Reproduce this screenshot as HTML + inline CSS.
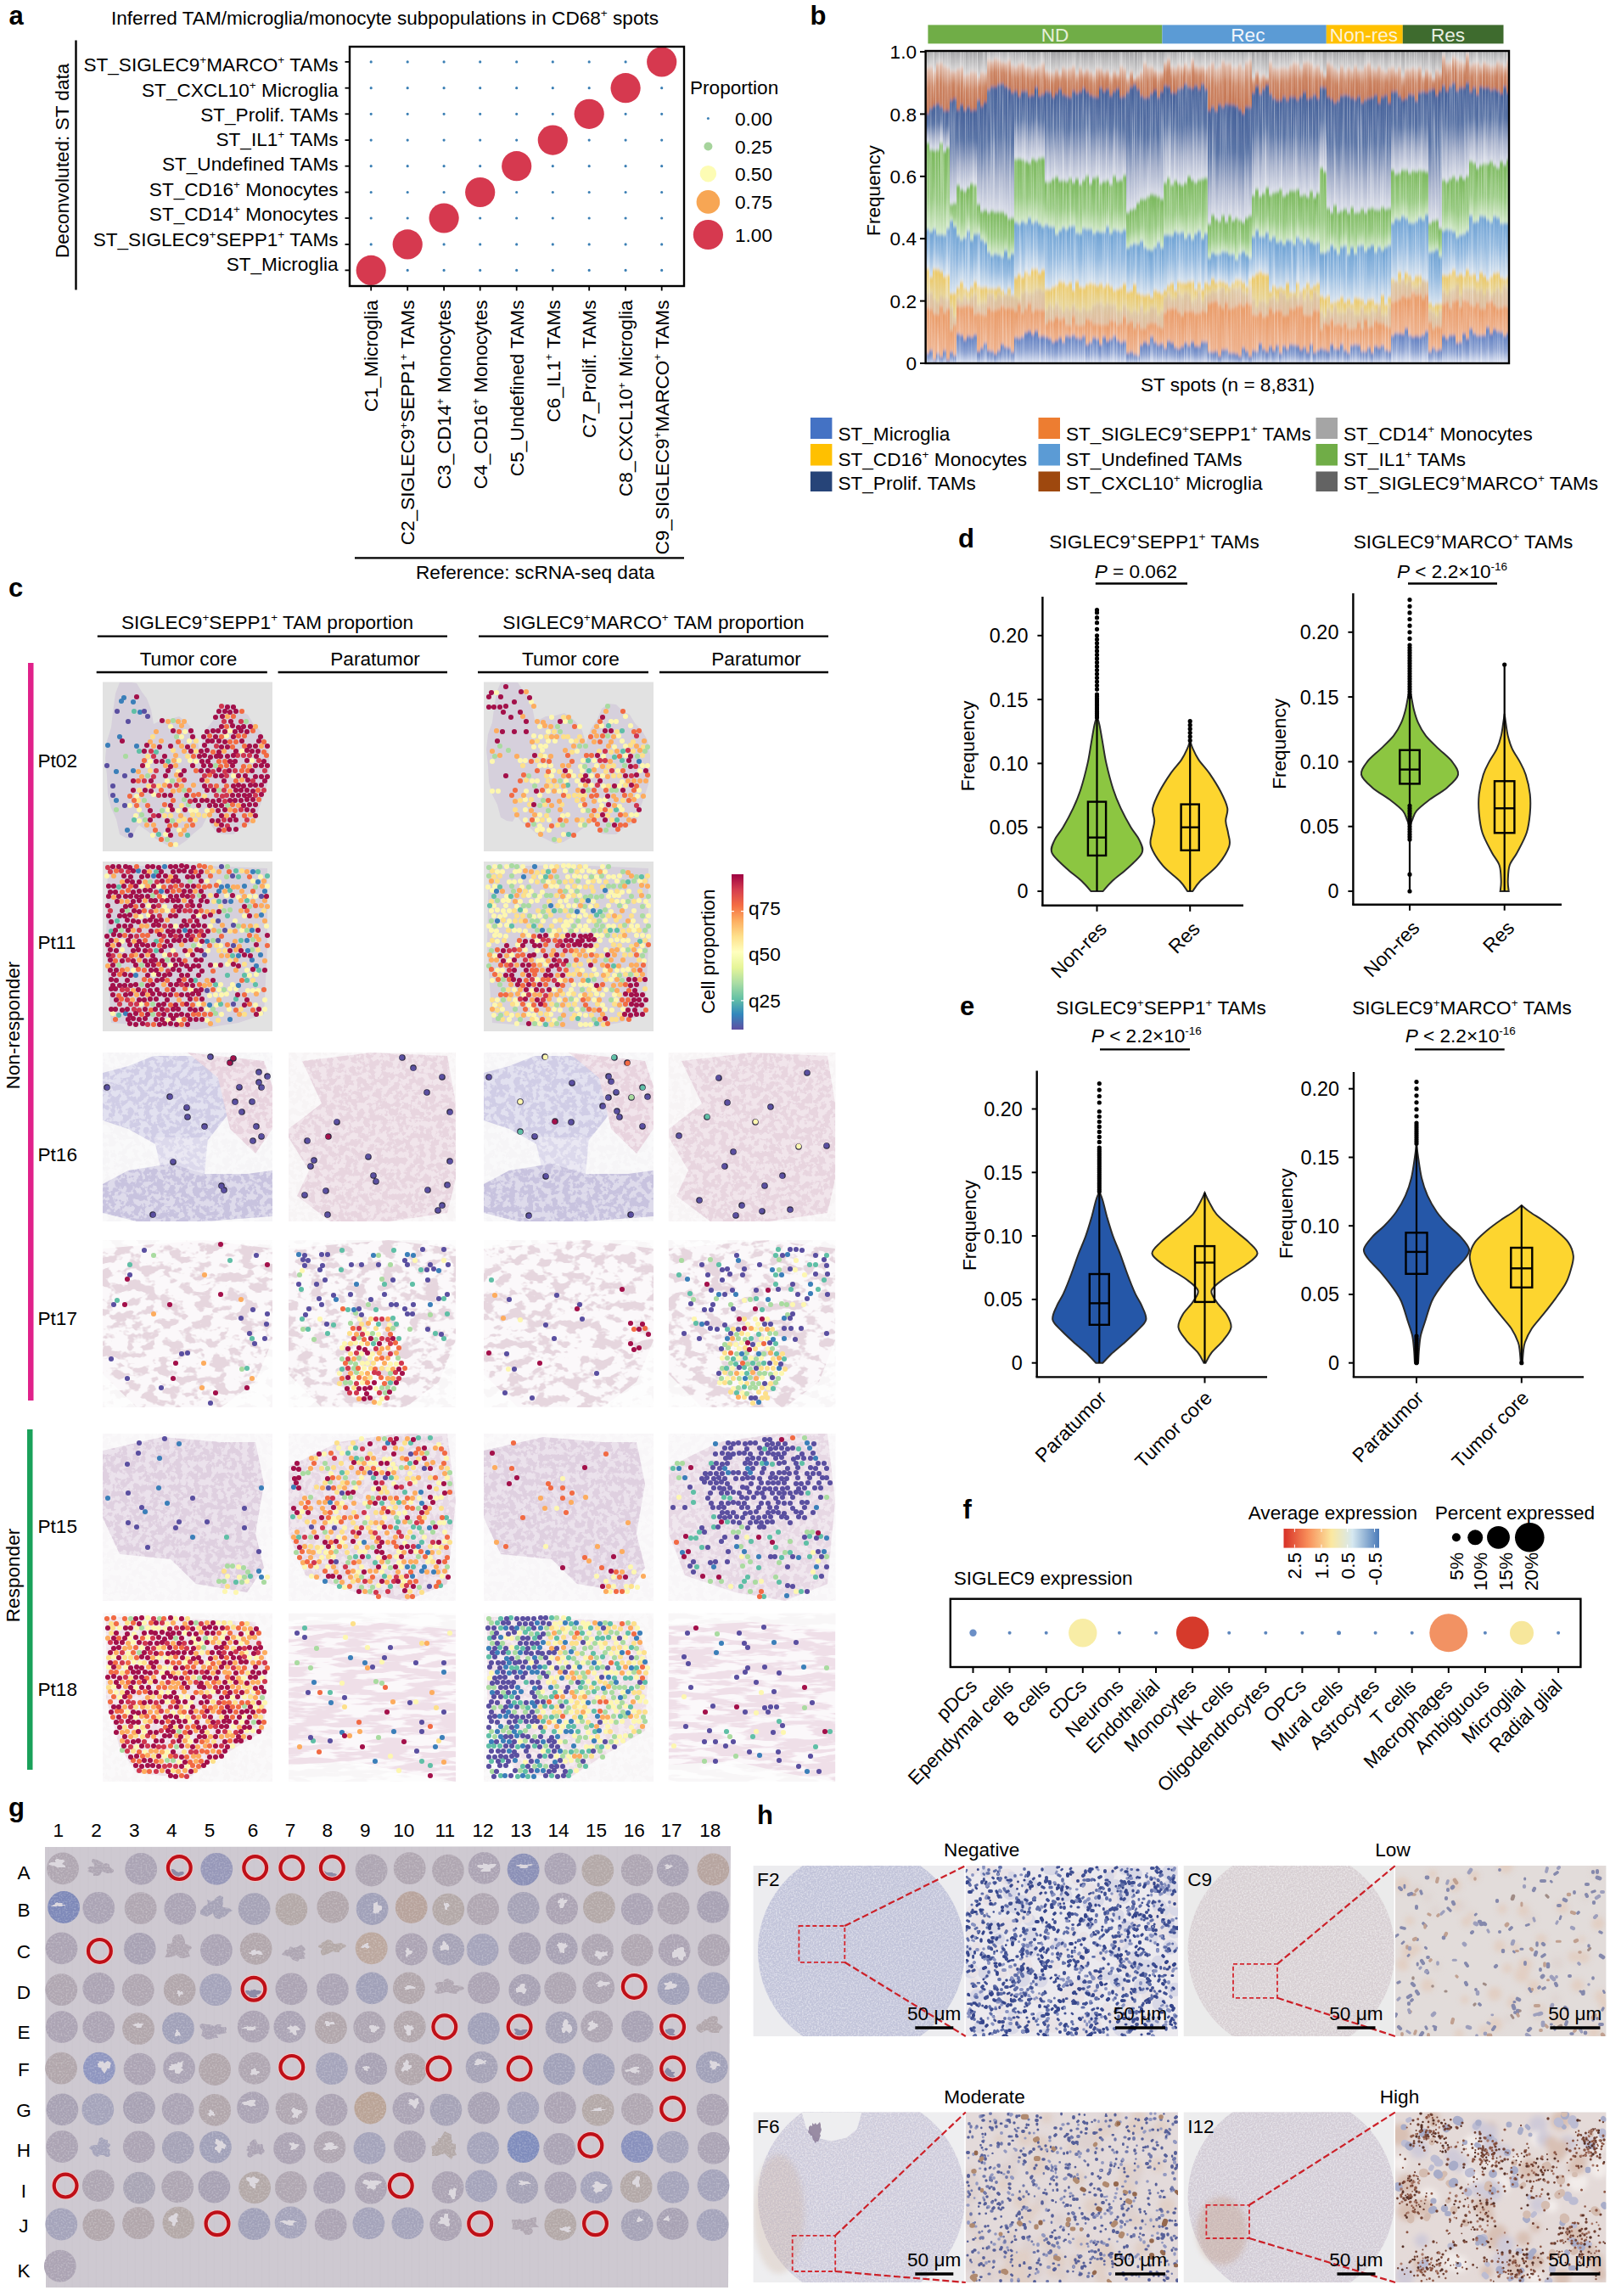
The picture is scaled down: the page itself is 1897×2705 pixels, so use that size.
<!DOCTYPE html><html><head><meta charset="utf-8"><title>Figure</title><style>html,body{margin:0;padding:0;background:#fff;}svg{display:block;}.q0{fill:url(#bg0);width:4px}.q1{fill:url(#bg1);width:4px}.q2{fill:url(#bg2);width:4px}.q3{fill:url(#bg3);width:4px}.q4{fill:url(#bg4);width:4px}.q5{fill:url(#bg5);width:4px}.q6{fill:url(#bg6);width:4px}.q7{fill:url(#bg7);width:4px}.q8{fill:url(#bg8);width:4px}</style></head><body><svg width="1897" height="2705" viewBox="0 0 1897 2705" font-family="Liberation Sans, Arial, sans-serif" font-size="22.6"><defs><linearGradient id="bg0" x1="0" y1="0" x2="0" y2="1"><stop offset="0" stop-color="#5c7cc0"/><stop offset="0.55" stop-color="#8ea3d2"/><stop offset="1" stop-color="#e8ecf6"/></linearGradient><linearGradient id="bg1" x1="0" y1="0" x2="0" y2="1"><stop offset="0" stop-color="#e99a66"/><stop offset="1" stop-color="#eeb28e"/></linearGradient><linearGradient id="bg2" x1="0" y1="0" x2="0" y2="1"><stop offset="0" stop-color="#dcc6a0"/><stop offset="1" stop-color="#e0bc9e"/></linearGradient><linearGradient id="bg3" x1="0" y1="0" x2="0" y2="1"><stop offset="0" stop-color="#ecc862"/><stop offset="1" stop-color="#e6d49a"/></linearGradient><linearGradient id="bg4" x1="0" y1="0" x2="0" y2="1"><stop offset="0" stop-color="#6ea2d4"/><stop offset="0.5" stop-color="#94bae0"/><stop offset="1" stop-color="#d6e2ee"/></linearGradient><linearGradient id="bg5" x1="0" y1="0" x2="0" y2="1"><stop offset="0" stop-color="#7ab85c"/><stop offset="0.6" stop-color="#98ca82"/><stop offset="1" stop-color="#d2e8c8"/></linearGradient><linearGradient id="bg6" x1="0" y1="0" x2="0" y2="1"><stop offset="0" stop-color="#46619a"/><stop offset="0.4" stop-color="#5a74a6"/><stop offset="0.72" stop-color="#a8b2cc"/><stop offset="1" stop-color="#dadde8"/></linearGradient><linearGradient id="bg7" x1="0" y1="0" x2="0" y2="1"><stop offset="0" stop-color="#e2c4b6"/><stop offset="0.45" stop-color="#cc8462"/><stop offset="1" stop-color="#c47452"/></linearGradient><linearGradient id="bg8" x1="0" y1="0" x2="0" y2="1"><stop offset="0" stop-color="#88888a"/><stop offset="0.5" stop-color="#b2b2b4"/><stop offset="1" stop-color="#d8d6d6"/></linearGradient><clipPath id="bclip"><rect x="1091" y="61" width="687" height="367"/></clipPath><filter id="vblur" x="0" y="-0.1" width="1" height="1.2"><feGaussianBlur stdDeviation="0.5 2.2"/></filter><filter id="streak" x="0" y="0" width="1" height="1"><feTurbulence type="fractalNoise" baseFrequency="0.8 0.008" numOctaves="2" seed="3"/><feColorMatrix values="0 0 0 0 1  0 0 0 0 1  0 0 0 0 1  1.8 0 0 0 -0.8"/></filter><linearGradient id="cbar" x1="0" y1="1" x2="0" y2="0"><stop offset="0.00" stop-color="#5e4fa2"/><stop offset="0.10" stop-color="#3288bd"/><stop offset="0.20" stop-color="#66c2a5"/><stop offset="0.30" stop-color="#abdda4"/><stop offset="0.40" stop-color="#e6f598"/><stop offset="0.50" stop-color="#ffffbf"/><stop offset="0.60" stop-color="#fee08b"/><stop offset="0.70" stop-color="#fdae61"/><stop offset="0.80" stop-color="#f46d43"/><stop offset="0.90" stop-color="#d53e4f"/><stop offset="1.00" stop-color="#9e0142"/></linearGradient><filter id="th1" x="0" y="0" width="1" height="1"><feTurbulence type="fractalNoise" baseFrequency="0.14" numOctaves="3" seed="11"/><feColorMatrix values="0 0 0 0 1  0 0 0 0 1  0 0 0 0 1  0 0 0 -9 4.9"/></filter><filter id="th2" x="0" y="0" width="1" height="1"><feTurbulence type="fractalNoise" baseFrequency="0.05 0.12" numOctaves="3" seed="4"/><feColorMatrix values="0 0 0 0 1  0 0 0 0 1  0 0 0 0 1  0 0 0 -8 4.2"/></filter><filter id="th3" x="0" y="0" width="1" height="1"><feTurbulence type="fractalNoise" baseFrequency="0.35" numOctaves="2" seed="8"/><feColorMatrix values="0 0 0 0 0.6  0 0 0 0 0.55  0 0 0 0 0.65  0 0 0 -5 2.6"/></filter><filter id="th5" x="0" y="0" width="1" height="1"><feTurbulence type="fractalNoise" baseFrequency="0.06 0.09" numOctaves="3" seed="14"/><feColorMatrix values="0 0 0 0 1  0 0 0 0 1  0 0 0 0 1  0 0 0 -9 5.4"/></filter><filter id="th4" x="0" y="0" width="1" height="1"><feTurbulence type="fractalNoise" baseFrequency="0.025 0.14" numOctaves="3" seed="6"/><feColorMatrix values="0 0 0 0 1  0 0 0 0 1  0 0 0 0 1  0 0 0 -8 4.3"/></filter><linearGradient id="avg" x1="0" x2="1" y1="0" y2="0"><stop offset="0" stop-color="#d73027"/><stop offset="0.25" stop-color="#f88d59"/><stop offset="0.5" stop-color="#fbe8a0"/><stop offset="0.72" stop-color="#d6e8f0"/><stop offset="1" stop-color="#4a7ab8"/></linearGradient><clipPath id="gcores"><circle cx="74.0" cy="2201.4" r="18.9"/><path d="M131 2201L134 2203L134 2205L131 2207L126 2207L121 2205L120 2205L118 2209L115 2210L110 2210L110 2207L107 2206L103 2205L105 2202L103 2201L106 2199L111 2199L111 2197L108 2193L109 2190L114 2191L118 2193L120 2194L122 2196L125 2195L128 2196L129 2197L129 2199Z"/><circle cx="166.2" cy="2201.9" r="18.9"/><circle cx="255.3" cy="2201.8" r="18.9"/><circle cx="437.6" cy="2203.5" r="18.9"/><circle cx="482.7" cy="2201.2" r="18.9"/><circle cx="528.0" cy="2203.6" r="18.9"/><circle cx="570.5" cy="2200.9" r="18.9"/><circle cx="616.6" cy="2202.7" r="18.9"/><circle cx="660.4" cy="2201.6" r="18.9"/><circle cx="704.3" cy="2203.6" r="18.9"/><circle cx="750.7" cy="2203.4" r="18.9"/><circle cx="792.7" cy="2203.6" r="18.9"/><circle cx="840.3" cy="2202.5" r="18.9"/><circle cx="75.1" cy="2247.0" r="18.9"/><circle cx="116.3" cy="2247.8" r="18.9"/><circle cx="165.7" cy="2248.2" r="18.9"/><circle cx="212.3" cy="2248.8" r="18.9"/><path d="M270 2248L274 2251L270 2253L267 2256L265 2258L261 2259L259 2261L254 2260L252 2257L251 2254L244 2258L240 2257L236 2255L236 2251L239 2248L240 2246L244 2244L245 2242L244 2238L249 2240L252 2239L254 2236L259 2233L263 2235L263 2240L263 2243L262 2245L263 2247Z"/><circle cx="299.6" cy="2249.0" r="18.9"/><circle cx="343.4" cy="2249.5" r="18.9"/><circle cx="392.3" cy="2246.8" r="18.9"/><circle cx="438.6" cy="2249.0" r="18.9"/><circle cx="484.7" cy="2247.1" r="18.9"/><circle cx="528.3" cy="2249.6" r="18.9"/><circle cx="569.1" cy="2249.2" r="18.9"/><circle cx="616.7" cy="2247.9" r="18.9"/><circle cx="662.1" cy="2248.6" r="18.9"/><circle cx="705.9" cy="2247.1" r="18.9"/><circle cx="750.8" cy="2249.2" r="18.9"/><circle cx="793.5" cy="2248.5" r="18.9"/><circle cx="840.1" cy="2246.7" r="18.9"/><circle cx="72.5" cy="2295.4" r="18.9"/><circle cx="164.7" cy="2295.9" r="18.9"/><path d="M226 2295L223 2298L222 2300L224 2305L220 2306L217 2307L213 2307L210 2305L208 2303L204 2305L199 2306L194 2306L197 2301L196 2298L197 2295L197 2293L197 2290L201 2290L203 2288L203 2284L206 2280L210 2279L214 2279L217 2284L218 2287L218 2290L221 2291L225 2293Z"/><circle cx="254.9" cy="2297.4" r="18.9"/><circle cx="301.6" cy="2295.8" r="18.9"/><path d="M359 2301L360 2302L358 2304L360 2307L357 2308L353 2308L351 2311L348 2310L345 2309L343 2307L342 2305L339 2305L337 2304L332 2303L333 2301L335 2299L337 2297L340 2297L341 2295L342 2293L346 2295L348 2294L350 2294L355 2291L357 2293L359 2295L360 2297L357 2299Z"/><path d="M407 2294L404 2295L402 2297L400 2298L400 2300L396 2300L392 2299L390 2300L386 2302L380 2304L378 2301L378 2298L380 2296L378 2295L375 2294L375 2292L378 2291L379 2289L381 2288L383 2287L386 2285L390 2286L392 2288L393 2290L396 2290L402 2289L404 2290L408 2292Z"/><circle cx="437.7" cy="2295.3" r="18.9"/><circle cx="484.8" cy="2296.5" r="18.9"/><circle cx="528.3" cy="2296.6" r="18.9"/><circle cx="568.6" cy="2297.0" r="18.9"/><circle cx="618.1" cy="2295.5" r="18.9"/><circle cx="661.8" cy="2295.8" r="18.9"/><circle cx="704.1" cy="2297.1" r="18.9"/><circle cx="750.7" cy="2297.5" r="18.9"/><circle cx="794.6" cy="2297.5" r="18.9"/><circle cx="840.9" cy="2297.5" r="18.9"/><circle cx="72.3" cy="2344.2" r="18.9"/><circle cx="116.3" cy="2342.6" r="18.9"/><circle cx="162.8" cy="2344.5" r="18.9"/><circle cx="211.7" cy="2344.1" r="18.9"/><circle cx="254.1" cy="2344.2" r="18.9"/><circle cx="343.4" cy="2343.3" r="18.9"/><circle cx="391.9" cy="2343.9" r="18.9"/><circle cx="438.2" cy="2342.4" r="18.9"/><circle cx="481.9" cy="2342.4" r="18.9"/><path d="M547 2342L546 2344L542 2345L539 2347L538 2349L535 2349L530 2348L528 2347L525 2347L522 2348L517 2349L512 2348L512 2346L515 2343L515 2342L514 2340L512 2338L514 2336L517 2335L522 2335L524 2332L528 2331L531 2333L534 2334L535 2337L534 2339L538 2339L544 2340Z"/><circle cx="570.0" cy="2342.1" r="18.9"/><circle cx="618.3" cy="2344.6" r="18.9"/><circle cx="660.2" cy="2342.2" r="18.9"/><circle cx="705.3" cy="2342.0" r="18.9"/><circle cx="793.5" cy="2343.2" r="18.9"/><circle cx="840.6" cy="2342.4" r="18.9"/><circle cx="72.8" cy="2388.1" r="18.9"/><circle cx="116.2" cy="2388.4" r="18.9"/><circle cx="163.1" cy="2390.2" r="18.9"/><circle cx="210.0" cy="2389.6" r="18.9"/><path d="M266 2393L267 2395L262 2396L259 2397L255 2396L257 2401L253 2401L250 2402L245 2403L242 2402L240 2400L237 2398L238 2396L238 2394L239 2393L238 2391L236 2389L235 2386L238 2384L243 2385L247 2385L250 2386L252 2387L256 2385L261 2385L260 2388L266 2388L267 2390Z"/><circle cx="298.7" cy="2387.7" r="18.9"/><circle cx="341.3" cy="2387.8" r="18.9"/><circle cx="389.9" cy="2389.2" r="18.9"/><circle cx="435.3" cy="2388.3" r="18.9"/><circle cx="482.8" cy="2387.6" r="18.9"/><circle cx="569.9" cy="2389.8" r="18.9"/><circle cx="661.5" cy="2388.7" r="18.9"/><circle cx="703.2" cy="2387.6" r="18.9"/><circle cx="751.1" cy="2387.6" r="18.9"/><path d="M851 2387L852 2389L850 2390L848 2392L847 2395L843 2395L840 2395L836 2394L834 2392L832 2392L826 2395L822 2393L821 2391L820 2389L821 2387L822 2385L826 2384L827 2382L829 2381L830 2379L833 2379L836 2376L841 2375L845 2376L846 2379L845 2383L846 2384L848 2385Z"/><circle cx="72.1" cy="2436.7" r="18.9"/><circle cx="116.9" cy="2436.7" r="18.9"/><circle cx="164.5" cy="2437.7" r="18.9"/><circle cx="211.0" cy="2436.3" r="18.9"/><circle cx="253.1" cy="2438.0" r="18.9"/><circle cx="299.9" cy="2436.9" r="18.9"/><circle cx="390.9" cy="2437.2" r="18.9"/><circle cx="437.2" cy="2437.2" r="18.9"/><circle cx="484.0" cy="2437.8" r="18.9"/><circle cx="567.6" cy="2435.6" r="18.9"/><circle cx="658.9" cy="2437.6" r="18.9"/><circle cx="705.4" cy="2438.1" r="18.9"/><circle cx="751.2" cy="2438.4" r="18.9"/><circle cx="838.8" cy="2435.6" r="18.9"/><circle cx="73.4" cy="2485.4" r="18.9"/><circle cx="115.3" cy="2485.1" r="18.9"/><circle cx="163.9" cy="2483.2" r="18.9"/><circle cx="209.6" cy="2484.7" r="18.9"/><circle cx="253.2" cy="2485.9" r="18.9"/><circle cx="298.0" cy="2483.1" r="18.9"/><circle cx="343.6" cy="2484.3" r="18.9"/><circle cx="390.6" cy="2485.7" r="18.9"/><circle cx="436.3" cy="2483.5" r="18.9"/><circle cx="481.4" cy="2484.0" r="18.9"/><circle cx="525.4" cy="2485.7" r="18.9"/><circle cx="570.0" cy="2483.5" r="18.9"/><circle cx="616.4" cy="2483.5" r="18.9"/><circle cx="659.9" cy="2483.2" r="18.9"/><circle cx="704.6" cy="2485.9" r="18.9"/><circle cx="751.0" cy="2484.9" r="18.9"/><circle cx="839.6" cy="2485.6" r="18.9"/><circle cx="73.2" cy="2529.0" r="18.9"/><path d="M127 2531L130 2533L129 2535L130 2539L128 2541L125 2541L122 2539L120 2539L118 2539L115 2541L112 2540L110 2538L109 2536L108 2533L105 2531L107 2528L112 2527L115 2527L115 2525L116 2524L117 2519L120 2518L122 2520L125 2521L127 2521L127 2525L130 2526L130 2528Z"/><circle cx="163.8" cy="2529.3" r="18.9"/><circle cx="209.8" cy="2530.0" r="18.9"/><circle cx="253.9" cy="2529.7" r="18.9"/><path d="M310 2531L312 2534L311 2536L309 2537L308 2539L304 2537L302 2538L301 2538L298 2540L295 2542L292 2541L291 2538L293 2535L290 2533L292 2531L291 2529L293 2528L295 2528L294 2525L296 2523L298 2521L301 2520L303 2525L304 2526L306 2526L309 2526L310 2528L310 2530Z"/><circle cx="341.1" cy="2530.9" r="18.9"/><circle cx="388.5" cy="2529.7" r="18.9"/><circle cx="435.4" cy="2530.8" r="18.9"/><circle cx="482.8" cy="2529.0" r="18.9"/><path d="M537 2529L537 2532L536 2534L538 2539L534 2540L532 2544L527 2540L524 2537L522 2538L520 2538L515 2540L509 2540L509 2536L509 2532L508 2529L513 2527L513 2524L516 2523L516 2519L519 2519L521 2516L524 2511L528 2513L532 2515L532 2520L533 2523L532 2525L537 2526Z"/><circle cx="569.1" cy="2530.5" r="18.9"/><circle cx="616.6" cy="2529.2" r="18.9"/><circle cx="659.2" cy="2531.8" r="18.9"/><circle cx="750.7" cy="2529.2" r="18.9"/><circle cx="792.6" cy="2529.7" r="18.9"/><circle cx="840.8" cy="2530.9" r="18.9"/><circle cx="115.8" cy="2575.1" r="18.9"/><circle cx="164.0" cy="2577.6" r="18.9"/><circle cx="209.2" cy="2576.3" r="18.9"/><circle cx="252.4" cy="2576.5" r="18.9"/><circle cx="300.1" cy="2577.4" r="18.9"/><circle cx="342.8" cy="2576.9" r="18.9"/><circle cx="388.2" cy="2577.4" r="18.9"/><circle cx="437.0" cy="2577.7" r="18.9"/><circle cx="527.6" cy="2577.0" r="18.9"/><circle cx="567.1" cy="2575.5" r="18.9"/><circle cx="615.2" cy="2577.4" r="18.9"/><circle cx="660.4" cy="2577.3" r="18.9"/><circle cx="702.7" cy="2577.1" r="18.9"/><circle cx="749.7" cy="2576.2" r="18.9"/><circle cx="793.1" cy="2576.8" r="18.9"/><circle cx="840.5" cy="2574.7" r="18.9"/><circle cx="72.3" cy="2620.5" r="18.9"/><circle cx="116.3" cy="2621.3" r="18.9"/><circle cx="163.1" cy="2619.2" r="18.9"/><circle cx="210.4" cy="2618.7" r="18.9"/><circle cx="299.5" cy="2620.2" r="18.9"/><circle cx="342.6" cy="2618.5" r="18.9"/><circle cx="389.7" cy="2620.9" r="18.9"/><circle cx="434.4" cy="2619.4" r="18.9"/><circle cx="480.4" cy="2619.4" r="18.9"/><circle cx="525.2" cy="2621.3" r="18.9"/><path d="M633 2622L635 2624L628 2624L626 2625L628 2628L627 2631L624 2633L619 2633L616 2629L613 2628L613 2626L608 2627L603 2626L604 2624L604 2622L604 2620L603 2618L603 2615L610 2615L612 2614L616 2616L619 2615L622 2615L626 2613L632 2612L632 2616L632 2618L631 2620Z"/><circle cx="660.3" cy="2620.9" r="18.9"/><circle cx="750.7" cy="2621.4" r="18.9"/><circle cx="792.5" cy="2619.8" r="18.9"/><circle cx="839.6" cy="2621.3" r="18.9"/><circle cx="70.8" cy="2669.7" r="18.9"/></clipPath><filter id="speck" x="0" y="0" width="1" height="1"><feTurbulence type="fractalNoise" baseFrequency="0.5" numOctaves="2" seed="5"/><feColorMatrix values="0 0 0 0 1  0 0 0 0 1  0 0 0 0 1  -2.2 0 0 0 1.25"/></filter><filter id="hspeck" x="0" y="0" width="1" height="1"><feTurbulence type="fractalNoise" baseFrequency="0.55" numOctaves="2" seed="9"/><feColorMatrix values="0 0 0 0 0.97  0 0 0 0 0.97  0 0 0 0 0.98  2.2 0 0 0 -0.85"/><feComposite operator="in" in2="SourceGraphic"/></filter><filter id="dsb" x="0" y="0" width="1" height="1"><feTurbulence type="fractalNoise" baseFrequency="0.5" numOctaves="2" seed="21"/><feColorMatrix values="0 0 0 0 0.52  0 0 0 0 0.54  0 0 0 0 0.7  2.2 0 0 0 -0.8"/><feComposite operator="in" in2="SourceGraphic"/></filter><filter id="dsr" x="0" y="0" width="1" height="1"><feTurbulence type="fractalNoise" baseFrequency="0.5" numOctaves="2" seed="22"/><feColorMatrix values="0 0 0 0 0.62  0 0 0 0 0.55  0 0 0 0 0.6  2.2 0 0 0 -0.8"/><feComposite operator="in" in2="SourceGraphic"/></filter><filter id="hblur"><feGaussianBlur stdDeviation="3"/></filter><clipPath id="hc1"><rect x="887.6" y="2198.0" width="248.7" height="201.0"/></clipPath><clipPath id="hc1z"><rect x="1137.8" y="2198.0" width="250.2" height="201.0"/></clipPath><clipPath id="hc2"><rect x="1394.7" y="2198.0" width="247.8" height="201.0"/></clipPath><clipPath id="hc2z"><rect x="1644.0" y="2198.0" width="248.4" height="201.0"/></clipPath><clipPath id="hc3"><rect x="887.6" y="2488.5" width="248.7" height="200.5"/></clipPath><clipPath id="hc3z"><rect x="1137.8" y="2488.5" width="250.2" height="200.5"/></clipPath><clipPath id="hc4"><rect x="1394.7" y="2488.5" width="247.8" height="200.5"/></clipPath><clipPath id="hc4z"><rect x="1644.0" y="2488.5" width="248.4" height="200.5"/></clipPath></defs><text x="10.5" y="28.5" font-size="31" font-weight="bold">a</text>
<text x="131.0" y="29.0">Inferred TAM/microglia/monocyte subpopulations in CD68<tspan font-size="13.6" dy="-8.6">+</tspan><tspan dy="8.6">​</tspan> spots</text>
<text x="398.5" y="83.5" text-anchor="end">ST_SIGLEC9<tspan font-size="13.6" dy="-8.6">+</tspan><tspan dy="8.6">​</tspan>MARCO<tspan font-size="13.6" dy="-8.6">+</tspan><tspan dy="8.6">​</tspan> TAMs</text>
<text x="398.5" y="114.0" text-anchor="end">ST_CXCL10<tspan font-size="13.6" dy="-8.6">+</tspan><tspan dy="8.6">​</tspan> Microglia</text>
<text x="398.5" y="143.0" text-anchor="end">ST_Prolif. TAMs</text>
<text x="398.5" y="172.0" text-anchor="end">ST_IL1<tspan font-size="13.6" dy="-8.6">+</tspan><tspan dy="8.6">​</tspan> TAMs</text>
<text x="398.5" y="201.3" text-anchor="end">ST_Undefined TAMs</text>
<text x="398.5" y="231.0" text-anchor="end">ST_CD16<tspan font-size="13.6" dy="-8.6">+</tspan><tspan dy="8.6">​</tspan> Monocytes</text>
<text x="398.5" y="260.0" text-anchor="end">ST_CD14<tspan font-size="13.6" dy="-8.6">+</tspan><tspan dy="8.6">​</tspan> Monocytes</text>
<text x="398.5" y="289.8" text-anchor="end">ST_SIGLEC9<tspan font-size="13.6" dy="-8.6">+</tspan><tspan dy="8.6">​</tspan>SEPP1<tspan font-size="13.6" dy="-8.6">+</tspan><tspan dy="8.6">​</tspan> TAMs</text>
<text x="398.5" y="319.0" text-anchor="end">ST_Microglia</text>
<line x1="89.5" y1="47.5" x2="89.5" y2="341.5" stroke="#000" stroke-width="2.4"/>
<text x="81.3" y="189.4" text-anchor="middle" transform="rotate(-90 81.3 189.4)">Deconvoluted: ST data</text>
<path d="M437.2 72.9h0M480.2 72.9h0M523.1 72.9h0M565.7 72.9h0M608.7 72.9h0M651.3 72.9h0M694.2 72.9h0M737.1 72.9h0M437.2 103.7h0M480.2 103.7h0M523.1 103.7h0M565.7 103.7h0M608.7 103.7h0M651.3 103.7h0M694.2 103.7h0M779.7 103.7h0M437.2 134.3h0M480.2 134.3h0M523.1 134.3h0M565.7 134.3h0M608.7 134.3h0M651.3 134.3h0M737.1 134.3h0M779.7 134.3h0M437.2 165.1h0M480.2 165.1h0M523.1 165.1h0M565.7 165.1h0M608.7 165.1h0M694.2 165.1h0M737.1 165.1h0M779.7 165.1h0M437.2 195.7h0M480.2 195.7h0M523.1 195.7h0M565.7 195.7h0M651.3 195.7h0M694.2 195.7h0M737.1 195.7h0M779.7 195.7h0M437.2 226.5h0M480.2 226.5h0M523.1 226.5h0M608.7 226.5h0M651.3 226.5h0M694.2 226.5h0M737.1 226.5h0M779.7 226.5h0M437.2 257.0h0M480.2 257.0h0M565.7 257.0h0M608.7 257.0h0M651.3 257.0h0M694.2 257.0h0M737.1 257.0h0M779.7 257.0h0M437.2 287.9h0M523.1 287.9h0M565.7 287.9h0M608.7 287.9h0M651.3 287.9h0M694.2 287.9h0M737.1 287.9h0M779.7 287.9h0M480.2 318.4h0M523.1 318.4h0M565.7 318.4h0M608.7 318.4h0M651.3 318.4h0M694.2 318.4h0M737.1 318.4h0M779.7 318.4h0" stroke="#3b7fb4" stroke-width="3.2" stroke-linecap="round"/>
<circle cx="779.7" cy="72.9" r="17.6" fill="#d6394f"/>
<circle cx="737.1" cy="103.7" r="17.6" fill="#d6394f"/>
<circle cx="694.2" cy="134.3" r="17.6" fill="#d6394f"/>
<circle cx="651.3" cy="165.1" r="17.6" fill="#d6394f"/>
<circle cx="608.7" cy="195.7" r="17.6" fill="#d6394f"/>
<circle cx="565.7" cy="226.5" r="17.6" fill="#d6394f"/>
<circle cx="523.1" cy="257.0" r="17.6" fill="#d6394f"/>
<circle cx="480.2" cy="287.9" r="17.6" fill="#d6394f"/>
<circle cx="437.2" cy="318.4" r="17.6" fill="#d6394f"/>
<rect x="412" y="55" width="394" height="282" fill="none" stroke="#000" stroke-width="2.4"/>
<line x1="406.5" y1="72.9" x2="412.0" y2="72.9" stroke="#000" stroke-width="1.8"/>
<line x1="406.5" y1="103.7" x2="412.0" y2="103.7" stroke="#000" stroke-width="1.8"/>
<line x1="406.5" y1="134.3" x2="412.0" y2="134.3" stroke="#000" stroke-width="1.8"/>
<line x1="406.5" y1="165.1" x2="412.0" y2="165.1" stroke="#000" stroke-width="1.8"/>
<line x1="406.5" y1="195.7" x2="412.0" y2="195.7" stroke="#000" stroke-width="1.8"/>
<line x1="406.5" y1="226.5" x2="412.0" y2="226.5" stroke="#000" stroke-width="1.8"/>
<line x1="406.5" y1="257.0" x2="412.0" y2="257.0" stroke="#000" stroke-width="1.8"/>
<line x1="406.5" y1="287.9" x2="412.0" y2="287.9" stroke="#000" stroke-width="1.8"/>
<line x1="406.5" y1="318.4" x2="412.0" y2="318.4" stroke="#000" stroke-width="1.8"/>
<line x1="437.2" y1="337.0" x2="437.2" y2="342.5" stroke="#000" stroke-width="1.8"/>
<line x1="480.2" y1="337.0" x2="480.2" y2="342.5" stroke="#000" stroke-width="1.8"/>
<line x1="523.1" y1="337.0" x2="523.1" y2="342.5" stroke="#000" stroke-width="1.8"/>
<line x1="565.7" y1="337.0" x2="565.7" y2="342.5" stroke="#000" stroke-width="1.8"/>
<line x1="608.7" y1="337.0" x2="608.7" y2="342.5" stroke="#000" stroke-width="1.8"/>
<line x1="651.3" y1="337.0" x2="651.3" y2="342.5" stroke="#000" stroke-width="1.8"/>
<line x1="694.2" y1="337.0" x2="694.2" y2="342.5" stroke="#000" stroke-width="1.8"/>
<line x1="737.1" y1="337.0" x2="737.1" y2="342.5" stroke="#000" stroke-width="1.8"/>
<line x1="779.7" y1="337.0" x2="779.7" y2="342.5" stroke="#000" stroke-width="1.8"/>
<text x="445.4" y="353.5" text-anchor="end" transform="rotate(-90 445.4 353.5)">C1_Microglia</text>
<text x="488.4" y="353.5" text-anchor="end" transform="rotate(-90 488.4 353.5)">C2_SIGLEC9<tspan font-size="13.6" dy="-8.6">+</tspan><tspan dy="8.6">​</tspan>SEPP1<tspan font-size="13.6" dy="-8.6">+</tspan><tspan dy="8.6">​</tspan> TAMs</text>
<text x="531.3" y="353.5" text-anchor="end" transform="rotate(-90 531.3 353.5)">C3_CD14<tspan font-size="13.6" dy="-8.6">+</tspan><tspan dy="8.6">​</tspan> Monocytes</text>
<text x="573.9" y="353.5" text-anchor="end" transform="rotate(-90 573.9 353.5)">C4_CD16<tspan font-size="13.6" dy="-8.6">+</tspan><tspan dy="8.6">​</tspan> Monocytes</text>
<text x="616.9" y="353.5" text-anchor="end" transform="rotate(-90 616.9 353.5)">C5_Undefined TAMs</text>
<text x="659.5" y="353.5" text-anchor="end" transform="rotate(-90 659.5 353.5)">C6_IL1<tspan font-size="13.6" dy="-8.6">+</tspan><tspan dy="8.6">​</tspan> TAMs</text>
<text x="702.4" y="353.5" text-anchor="end" transform="rotate(-90 702.4 353.5)">C7_Prolif. TAMs</text>
<text x="745.3" y="353.5" text-anchor="end" transform="rotate(-90 745.3 353.5)">C8_CXCL10<tspan font-size="13.6" dy="-8.6">+</tspan><tspan dy="8.6">​</tspan> Microglia</text>
<text x="787.9" y="353.5" text-anchor="end" transform="rotate(-90 787.9 353.5)">C9_SIGLEC9<tspan font-size="13.6" dy="-8.6">+</tspan><tspan dy="8.6">​</tspan>MARCO<tspan font-size="13.6" dy="-8.6">+</tspan><tspan dy="8.6">​</tspan> TAMs</text>
<line x1="418.0" y1="657.4" x2="806.0" y2="657.4" stroke="#000" stroke-width="2.4"/>
<text x="490.0" y="682.0">Reference: scRNA-seq data</text>
<text x="813.0" y="110.5">Proportion</text>
<circle cx="834.4" cy="139.6" r="1.5" fill="#3b7fb4"/>
<circle cx="834.4" cy="172.5" r="5.0" fill="#a6d49c"/>
<circle cx="834.4" cy="204.7" r="9.7" fill="#fdfcb4"/>
<circle cx="834.4" cy="237.9" r="13.8" fill="#f7a654"/>
<circle cx="834.4" cy="276.5" r="17.6" fill="#d6394f"/>
<text x="866.0" y="147.7">0.00</text>
<text x="866.0" y="180.6">0.25</text>
<text x="866.0" y="212.8">0.50</text>
<text x="866.0" y="246.0">0.75</text>
<text x="866.0" y="284.6">1.00</text>
<text x="954.5" y="28.6" font-size="31" font-weight="bold">b</text>
<rect x="1093.4" y="29.4" width="276.0" height="22.0" fill="#70ad47"/>
<text x="1243.0" y="48.7" text-anchor="middle" fill="#e6f0d8">ND</text>
<rect x="1369.4" y="29.4" width="193.4" height="22.0" fill="#5b9bd5"/>
<text x="1470.4" y="48.7" text-anchor="middle" fill="#f2f6fb">Rec</text>
<rect x="1562.8" y="29.4" width="90.0" height="22.0" fill="#ffc000"/>
<text x="1607.0" y="48.7" text-anchor="middle" fill="#fdf3d6">Non-res</text>
<rect x="1652.8" y="29.4" width="118.7" height="22.0" fill="#3e6b2e"/>
<text x="1706.0" y="48.7" text-anchor="middle" fill="#e8efe2">Res</text>
<g clip-path="url(#bclip)"><g filter="url(#vblur)">
<rect class="q0" x="1091" y="416.3" height="13.2"/>
<rect class="q1" x="1091" y="363.1" height="53.1"/>
<rect class="q2" x="1091" y="346.0" height="17.1"/>
<rect class="q3" x="1091" y="316.4" height="29.6"/>
<rect class="q4" x="1091" y="269.9" height="46.4"/>
<rect class="q5" x="1091" y="168.0" height="102.0"/>
<rect class="q6" x="1091" y="133.3" height="34.6"/>
<rect class="q7" x="1091" y="79.8" height="53.6"/>
<rect class="q8" x="1091" y="50.0" height="29.8"/>
<rect class="q0" x="1095" y="412.5" height="17.0"/>
<rect class="q1" x="1095" y="364.2" height="48.3"/>
<rect class="q2" x="1095" y="344.8" height="19.5"/>
<rect class="q3" x="1095" y="326.1" height="18.6"/>
<rect class="q4" x="1095" y="273.1" height="53.0"/>
<rect class="q5" x="1095" y="175.9" height="97.2"/>
<rect class="q6" x="1095" y="127.3" height="48.6"/>
<rect class="q7" x="1095" y="78.5" height="48.8"/>
<rect class="q8" x="1095" y="50.0" height="28.5"/>
<rect class="q0" x="1099" y="423.4" height="6.0"/>
<rect class="q1" x="1099" y="369.3" height="54.1"/>
<rect class="q2" x="1099" y="352.1" height="17.3"/>
<rect class="q3" x="1099" y="316.7" height="35.4"/>
<rect class="q4" x="1099" y="269.6" height="47.0"/>
<rect class="q5" x="1099" y="176.9" height="92.7"/>
<rect class="q6" x="1099" y="124.3" height="52.6"/>
<rect class="q7" x="1099" y="83.6" height="40.7"/>
<rect class="q8" x="1099" y="50.0" height="33.6"/>
<rect class="q0" x="1103" y="416.3" height="13.1"/>
<rect class="q1" x="1103" y="370.4" height="46.0"/>
<rect class="q2" x="1103" y="355.3" height="15.0"/>
<rect class="q3" x="1103" y="317.2" height="38.1"/>
<rect class="q4" x="1103" y="276.2" height="41.0"/>
<rect class="q5" x="1103" y="176.3" height="99.9"/>
<rect class="q6" x="1103" y="122.1" height="54.1"/>
<rect class="q7" x="1103" y="75.0" height="47.2"/>
<rect class="q8" x="1103" y="50.0" height="25.0"/>
<rect class="q0" x="1107" y="420.2" height="9.3"/>
<rect class="q1" x="1107" y="360.6" height="59.6"/>
<rect class="q2" x="1107" y="349.0" height="11.6"/>
<rect class="q3" x="1107" y="319.5" height="29.5"/>
<rect class="q4" x="1107" y="276.2" height="43.3"/>
<rect class="q5" x="1107" y="167.8" height="108.5"/>
<rect class="q6" x="1107" y="125.6" height="42.2"/>
<rect class="q7" x="1107" y="73.9" height="51.7"/>
<rect class="q8" x="1107" y="50.0" height="23.9"/>
<rect class="q0" x="1111" y="413.1" height="16.4"/>
<rect class="q1" x="1111" y="368.3" height="44.8"/>
<rect class="q2" x="1111" y="351.1" height="17.2"/>
<rect class="q3" x="1111" y="325.5" height="25.6"/>
<rect class="q4" x="1111" y="276.9" height="48.6"/>
<rect class="q5" x="1111" y="178.0" height="98.9"/>
<rect class="q6" x="1111" y="130.1" height="47.9"/>
<rect class="q7" x="1111" y="78.1" height="52.0"/>
<rect class="q8" x="1111" y="50.0" height="28.1"/>
<rect class="q0" x="1115" y="423.6" height="5.9"/>
<rect class="q1" x="1115" y="363.9" height="59.7"/>
<rect class="q2" x="1115" y="351.4" height="12.5"/>
<rect class="q3" x="1115" y="323.8" height="27.6"/>
<rect class="q4" x="1115" y="269.0" height="54.8"/>
<rect class="q5" x="1115" y="173.2" height="95.9"/>
<rect class="q6" x="1115" y="130.0" height="43.2"/>
<rect class="q7" x="1115" y="79.6" height="50.4"/>
<rect class="q8" x="1115" y="50.0" height="29.6"/>
<rect class="q0" x="1119" y="414.6" height="14.9"/>
<rect class="q1" x="1119" y="389.2" height="25.4"/>
<rect class="q2" x="1119" y="361.9" height="27.3"/>
<rect class="q3" x="1119" y="345.5" height="16.3"/>
<rect class="q4" x="1119" y="259.9" height="85.6"/>
<rect class="q5" x="1119" y="240.4" height="19.5"/>
<rect class="q6" x="1119" y="118.0" height="122.4"/>
<rect class="q7" x="1119" y="83.3" height="34.7"/>
<rect class="q8" x="1119" y="50.0" height="33.3"/>
<rect class="q0" x="1123" y="418.6" height="10.9"/>
<rect class="q1" x="1123" y="383.0" height="35.5"/>
<rect class="q2" x="1123" y="373.2" height="9.8"/>
<rect class="q3" x="1123" y="345.2" height="28.0"/>
<rect class="q4" x="1123" y="266.6" height="78.6"/>
<rect class="q5" x="1123" y="239.2" height="27.4"/>
<rect class="q6" x="1123" y="115.9" height="123.2"/>
<rect class="q7" x="1123" y="83.7" height="32.3"/>
<rect class="q8" x="1123" y="50.0" height="33.7"/>
<rect class="q0" x="1127" y="393.2" height="36.2"/>
<rect class="q1" x="1127" y="360.8" height="32.4"/>
<rect class="q2" x="1127" y="351.3" height="9.5"/>
<rect class="q3" x="1127" y="338.7" height="12.6"/>
<rect class="q4" x="1127" y="277.2" height="61.4"/>
<rect class="q5" x="1127" y="217.8" height="59.5"/>
<rect class="q6" x="1127" y="129.1" height="88.7"/>
<rect class="q7" x="1127" y="81.2" height="47.9"/>
<rect class="q8" x="1127" y="50.0" height="31.2"/>
<rect class="q0" x="1131" y="394.8" height="34.7"/>
<rect class="q1" x="1131" y="361.8" height="33.0"/>
<rect class="q2" x="1131" y="354.9" height="6.8"/>
<rect class="q3" x="1131" y="331.7" height="23.2"/>
<rect class="q4" x="1131" y="282.3" height="49.4"/>
<rect class="q5" x="1131" y="222.9" height="59.4"/>
<rect class="q6" x="1131" y="123.2" height="99.7"/>
<rect class="q7" x="1131" y="79.2" height="44.0"/>
<rect class="q8" x="1131" y="50.0" height="29.2"/>
<rect class="q0" x="1135" y="400.2" height="29.3"/>
<rect class="q1" x="1135" y="361.0" height="39.2"/>
<rect class="q2" x="1135" y="348.9" height="12.1"/>
<rect class="q3" x="1135" y="339.2" height="9.7"/>
<rect class="q4" x="1135" y="279.7" height="59.5"/>
<rect class="q5" x="1135" y="224.8" height="54.9"/>
<rect class="q6" x="1135" y="129.4" height="95.4"/>
<rect class="q7" x="1135" y="88.2" height="41.2"/>
<rect class="q8" x="1135" y="50.0" height="38.3"/>
<rect class="q0" x="1139" y="396.1" height="33.4"/>
<rect class="q1" x="1139" y="360.1" height="35.9"/>
<rect class="q2" x="1139" y="353.4" height="6.7"/>
<rect class="q3" x="1139" y="342.3" height="11.2"/>
<rect class="q4" x="1139" y="271.8" height="70.5"/>
<rect class="q5" x="1139" y="220.6" height="51.2"/>
<rect class="q6" x="1139" y="125.6" height="95.0"/>
<rect class="q7" x="1139" y="87.2" height="38.4"/>
<rect class="q8" x="1139" y="50.0" height="37.2"/>
<rect class="q0" x="1143" y="397.2" height="32.3"/>
<rect class="q1" x="1143" y="362.1" height="35.0"/>
<rect class="q2" x="1143" y="350.0" height="12.2"/>
<rect class="q3" x="1143" y="337.9" height="12.1"/>
<rect class="q4" x="1143" y="282.7" height="55.2"/>
<rect class="q5" x="1143" y="216.1" height="66.6"/>
<rect class="q6" x="1143" y="130.0" height="86.1"/>
<rect class="q7" x="1143" y="84.2" height="45.8"/>
<rect class="q8" x="1143" y="50.0" height="34.2"/>
<rect class="q0" x="1147" y="394.3" height="35.2"/>
<rect class="q1" x="1147" y="370.3" height="24.0"/>
<rect class="q2" x="1147" y="346.7" height="23.6"/>
<rect class="q3" x="1147" y="331.7" height="15.0"/>
<rect class="q4" x="1147" y="276.0" height="55.7"/>
<rect class="q5" x="1147" y="217.6" height="58.4"/>
<rect class="q6" x="1147" y="129.1" height="88.5"/>
<rect class="q7" x="1147" y="84.9" height="44.2"/>
<rect class="q8" x="1147" y="50.0" height="34.9"/>
<rect class="q0" x="1151" y="413.8" height="15.7"/>
<rect class="q1" x="1151" y="368.9" height="44.9"/>
<rect class="q2" x="1151" y="358.8" height="10.1"/>
<rect class="q3" x="1151" y="336.8" height="22.0"/>
<rect class="q4" x="1151" y="275.3" height="61.5"/>
<rect class="q5" x="1151" y="240.4" height="35.0"/>
<rect class="q6" x="1151" y="117.8" height="122.6"/>
<rect class="q7" x="1151" y="90.9" height="26.9"/>
<rect class="q8" x="1151" y="50.0" height="40.9"/>
<rect class="q0" x="1155" y="409.8" height="19.7"/>
<rect class="q1" x="1155" y="370.3" height="39.5"/>
<rect class="q2" x="1155" y="356.7" height="13.6"/>
<rect class="q3" x="1155" y="338.7" height="18.0"/>
<rect class="q4" x="1155" y="282.3" height="56.4"/>
<rect class="q5" x="1155" y="248.7" height="33.7"/>
<rect class="q6" x="1155" y="124.8" height="123.8"/>
<rect class="q7" x="1155" y="84.6" height="40.2"/>
<rect class="q8" x="1155" y="50.0" height="34.6"/>
<rect class="q0" x="1159" y="404.2" height="25.2"/>
<rect class="q1" x="1159" y="371.5" height="32.8"/>
<rect class="q2" x="1159" y="356.4" height="15.0"/>
<rect class="q3" x="1159" y="338.1" height="18.3"/>
<rect class="q4" x="1159" y="286.0" height="52.1"/>
<rect class="q5" x="1159" y="247.2" height="38.9"/>
<rect class="q6" x="1159" y="120.1" height="127.1"/>
<rect class="q7" x="1159" y="86.0" height="34.0"/>
<rect class="q8" x="1159" y="50.0" height="36.1"/>
<rect class="q0" x="1163" y="412.7" height="16.7"/>
<rect class="q1" x="1163" y="362.6" height="50.1"/>
<rect class="q2" x="1163" y="346.2" height="16.4"/>
<rect class="q3" x="1163" y="339.8" height="6.4"/>
<rect class="q4" x="1163" y="296.5" height="43.3"/>
<rect class="q5" x="1163" y="250.3" height="46.3"/>
<rect class="q6" x="1163" y="105.2" height="145.1"/>
<rect class="q7" x="1163" y="70.3" height="34.8"/>
<rect class="q8" x="1163" y="50.0" height="20.4"/>
<rect class="q0" x="1167" y="413.7" height="15.8"/>
<rect class="q1" x="1167" y="366.1" height="47.5"/>
<rect class="q2" x="1167" y="346.3" height="19.9"/>
<rect class="q3" x="1167" y="339.9" height="6.4"/>
<rect class="q4" x="1167" y="300.9" height="39.0"/>
<rect class="q5" x="1167" y="248.1" height="52.8"/>
<rect class="q6" x="1167" y="101.8" height="146.3"/>
<rect class="q7" x="1167" y="71.8" height="30.0"/>
<rect class="q8" x="1167" y="50.0" height="21.8"/>
<rect class="q0" x="1171" y="416.9" height="12.6"/>
<rect class="q1" x="1171" y="365.4" height="51.4"/>
<rect class="q2" x="1171" y="352.4" height="13.0"/>
<rect class="q3" x="1171" y="340.1" height="12.3"/>
<rect class="q4" x="1171" y="298.9" height="41.2"/>
<rect class="q5" x="1171" y="249.6" height="49.3"/>
<rect class="q6" x="1171" y="101.8" height="147.7"/>
<rect class="q7" x="1171" y="69.2" height="32.6"/>
<rect class="q8" x="1171" y="50.0" height="19.3"/>
<rect class="q0" x="1175" y="412.9" height="16.6"/>
<rect class="q1" x="1175" y="364.3" height="48.6"/>
<rect class="q2" x="1175" y="346.7" height="17.6"/>
<rect class="q3" x="1175" y="338.3" height="8.4"/>
<rect class="q4" x="1175" y="300.2" height="38.1"/>
<rect class="q5" x="1175" y="249.3" height="50.9"/>
<rect class="q6" x="1175" y="99.2" height="150.1"/>
<rect class="q7" x="1175" y="70.5" height="28.7"/>
<rect class="q8" x="1175" y="50.0" height="20.5"/>
<rect class="q0" x="1179" y="405.5" height="23.9"/>
<rect class="q1" x="1179" y="360.6" height="44.9"/>
<rect class="q2" x="1179" y="349.2" height="11.4"/>
<rect class="q3" x="1179" y="341.8" height="7.5"/>
<rect class="q4" x="1179" y="302.4" height="39.4"/>
<rect class="q5" x="1179" y="249.4" height="53.0"/>
<rect class="q6" x="1179" y="98.4" height="150.9"/>
<rect class="q7" x="1179" y="73.0" height="25.4"/>
<rect class="q8" x="1179" y="50.0" height="23.0"/>
<rect class="q0" x="1183" y="408.9" height="20.6"/>
<rect class="q1" x="1183" y="363.4" height="45.5"/>
<rect class="q2" x="1183" y="346.8" height="16.6"/>
<rect class="q3" x="1183" y="346.0" height="0.8"/>
<rect class="q4" x="1183" y="295.2" height="50.8"/>
<rect class="q5" x="1183" y="252.4" height="42.8"/>
<rect class="q6" x="1183" y="101.6" height="150.7"/>
<rect class="q7" x="1183" y="73.7" height="28.0"/>
<rect class="q8" x="1183" y="50.0" height="23.7"/>
<rect class="q0" x="1187" y="409.7" height="19.8"/>
<rect class="q1" x="1187" y="362.8" height="46.9"/>
<rect class="q2" x="1187" y="347.9" height="14.9"/>
<rect class="q3" x="1187" y="339.5" height="8.3"/>
<rect class="q4" x="1187" y="304.0" height="35.5"/>
<rect class="q5" x="1187" y="257.3" height="46.7"/>
<rect class="q6" x="1187" y="104.3" height="153.0"/>
<rect class="q7" x="1187" y="71.0" height="33.3"/>
<rect class="q8" x="1187" y="50.0" height="21.0"/>
<rect class="q0" x="1191" y="414.4" height="15.1"/>
<rect class="q1" x="1191" y="363.8" height="50.6"/>
<rect class="q2" x="1191" y="347.9" height="15.9"/>
<rect class="q3" x="1191" y="347.5" height="0.4"/>
<rect class="q4" x="1191" y="298.8" height="48.7"/>
<rect class="q5" x="1191" y="256.5" height="42.3"/>
<rect class="q6" x="1191" y="108.8" height="147.7"/>
<rect class="q7" x="1191" y="77.0" height="31.8"/>
<rect class="q8" x="1191" y="50.0" height="27.1"/>
<rect class="q0" x="1195" y="397.5" height="32.0"/>
<rect class="q1" x="1195" y="366.8" height="30.7"/>
<rect class="q2" x="1195" y="350.1" height="16.7"/>
<rect class="q3" x="1195" y="327.0" height="23.1"/>
<rect class="q4" x="1195" y="261.8" height="65.2"/>
<rect class="q5" x="1195" y="187.2" height="74.6"/>
<rect class="q6" x="1195" y="107.0" height="80.2"/>
<rect class="q7" x="1195" y="78.3" height="28.7"/>
<rect class="q8" x="1195" y="50.0" height="28.3"/>
<rect class="q0" x="1199" y="398.4" height="31.1"/>
<rect class="q1" x="1199" y="358.3" height="40.1"/>
<rect class="q2" x="1199" y="352.4" height="5.9"/>
<rect class="q3" x="1199" y="322.7" height="29.7"/>
<rect class="q4" x="1199" y="264.0" height="58.7"/>
<rect class="q5" x="1199" y="186.8" height="77.1"/>
<rect class="q6" x="1199" y="112.9" height="74.0"/>
<rect class="q7" x="1199" y="75.5" height="37.4"/>
<rect class="q8" x="1199" y="50.0" height="25.5"/>
<rect class="q0" x="1203" y="396.8" height="32.6"/>
<rect class="q1" x="1203" y="368.5" height="28.3"/>
<rect class="q2" x="1203" y="345.2" height="23.3"/>
<rect class="q3" x="1203" y="326.3" height="18.9"/>
<rect class="q4" x="1203" y="260.9" height="65.5"/>
<rect class="q5" x="1203" y="187.7" height="73.2"/>
<rect class="q6" x="1203" y="107.4" height="80.3"/>
<rect class="q7" x="1203" y="74.0" height="33.4"/>
<rect class="q8" x="1203" y="50.0" height="24.0"/>
<rect class="q0" x="1207" y="391.6" height="37.9"/>
<rect class="q1" x="1207" y="364.0" height="27.6"/>
<rect class="q2" x="1207" y="342.9" height="21.1"/>
<rect class="q3" x="1207" y="319.9" height="23.0"/>
<rect class="q4" x="1207" y="262.9" height="57.0"/>
<rect class="q5" x="1207" y="190.0" height="72.9"/>
<rect class="q6" x="1207" y="107.2" height="82.8"/>
<rect class="q7" x="1207" y="78.6" height="28.6"/>
<rect class="q8" x="1207" y="50.0" height="28.6"/>
<rect class="q0" x="1211" y="390.0" height="39.5"/>
<rect class="q1" x="1211" y="357.5" height="32.4"/>
<rect class="q2" x="1211" y="345.3" height="12.3"/>
<rect class="q3" x="1211" y="323.3" height="21.9"/>
<rect class="q4" x="1211" y="256.8" height="66.6"/>
<rect class="q5" x="1211" y="191.6" height="65.1"/>
<rect class="q6" x="1211" y="112.9" height="78.7"/>
<rect class="q7" x="1211" y="78.6" height="34.4"/>
<rect class="q8" x="1211" y="50.0" height="28.6"/>
<rect class="q0" x="1215" y="394.0" height="35.5"/>
<rect class="q1" x="1215" y="367.3" height="26.7"/>
<rect class="q2" x="1215" y="345.0" height="22.3"/>
<rect class="q3" x="1215" y="317.0" height="28.0"/>
<rect class="q4" x="1215" y="262.8" height="54.1"/>
<rect class="q5" x="1215" y="186.6" height="76.3"/>
<rect class="q6" x="1215" y="111.6" height="75.0"/>
<rect class="q7" x="1215" y="81.8" height="29.8"/>
<rect class="q8" x="1215" y="50.0" height="31.8"/>
<rect class="q0" x="1219" y="389.8" height="39.7"/>
<rect class="q1" x="1219" y="364.5" height="25.3"/>
<rect class="q2" x="1219" y="341.1" height="23.3"/>
<rect class="q3" x="1219" y="316.7" height="24.4"/>
<rect class="q4" x="1219" y="260.3" height="56.5"/>
<rect class="q5" x="1219" y="188.6" height="71.7"/>
<rect class="q6" x="1219" y="102.7" height="85.9"/>
<rect class="q7" x="1219" y="79.4" height="23.3"/>
<rect class="q8" x="1219" y="50.0" height="29.4"/>
<rect class="q0" x="1223" y="396.3" height="33.1"/>
<rect class="q1" x="1223" y="365.2" height="31.2"/>
<rect class="q2" x="1223" y="340.8" height="24.3"/>
<rect class="q3" x="1223" y="321.7" height="19.2"/>
<rect class="q4" x="1223" y="263.9" height="57.8"/>
<rect class="q5" x="1223" y="186.1" height="77.8"/>
<rect class="q6" x="1223" y="112.8" height="73.3"/>
<rect class="q7" x="1223" y="77.9" height="34.9"/>
<rect class="q8" x="1223" y="50.0" height="27.9"/>
<rect class="q0" x="1227" y="396.0" height="33.5"/>
<rect class="q1" x="1227" y="365.5" height="30.5"/>
<rect class="q2" x="1227" y="343.2" height="22.3"/>
<rect class="q3" x="1227" y="317.7" height="25.5"/>
<rect class="q4" x="1227" y="267.1" height="50.6"/>
<rect class="q5" x="1227" y="185.4" height="81.7"/>
<rect class="q6" x="1227" y="111.0" height="74.4"/>
<rect class="q7" x="1227" y="74.2" height="36.8"/>
<rect class="q8" x="1227" y="50.0" height="24.2"/>
<rect class="q0" x="1231" y="397.2" height="32.3"/>
<rect class="q1" x="1231" y="381.4" height="15.7"/>
<rect class="q2" x="1231" y="364.7" height="16.8"/>
<rect class="q3" x="1231" y="340.3" height="24.4"/>
<rect class="q4" x="1231" y="264.4" height="75.9"/>
<rect class="q5" x="1231" y="213.9" height="50.6"/>
<rect class="q6" x="1231" y="107.4" height="106.5"/>
<rect class="q7" x="1231" y="83.3" height="24.1"/>
<rect class="q8" x="1231" y="50.0" height="33.3"/>
<rect class="q0" x="1235" y="398.8" height="30.7"/>
<rect class="q1" x="1235" y="377.2" height="21.5"/>
<rect class="q2" x="1235" y="359.1" height="18.2"/>
<rect class="q3" x="1235" y="340.7" height="18.3"/>
<rect class="q4" x="1235" y="267.1" height="73.6"/>
<rect class="q5" x="1235" y="213.8" height="53.3"/>
<rect class="q6" x="1235" y="108.3" height="105.5"/>
<rect class="q7" x="1235" y="84.9" height="23.4"/>
<rect class="q8" x="1235" y="50.0" height="35.0"/>
<rect class="q0" x="1239" y="402.9" height="26.6"/>
<rect class="q1" x="1239" y="378.1" height="24.8"/>
<rect class="q2" x="1239" y="362.4" height="15.7"/>
<rect class="q3" x="1239" y="337.9" height="24.5"/>
<rect class="q4" x="1239" y="267.3" height="70.6"/>
<rect class="q5" x="1239" y="210.4" height="56.9"/>
<rect class="q6" x="1239" y="114.2" height="96.2"/>
<rect class="q7" x="1239" y="85.9" height="28.2"/>
<rect class="q8" x="1239" y="50.0" height="35.9"/>
<rect class="q0" x="1243" y="401.0" height="28.5"/>
<rect class="q1" x="1243" y="373.6" height="27.4"/>
<rect class="q2" x="1243" y="357.4" height="16.2"/>
<rect class="q3" x="1243" y="335.7" height="21.7"/>
<rect class="q4" x="1243" y="275.9" height="59.8"/>
<rect class="q5" x="1243" y="208.2" height="67.7"/>
<rect class="q6" x="1243" y="109.6" height="98.6"/>
<rect class="q7" x="1243" y="82.1" height="27.4"/>
<rect class="q8" x="1243" y="50.0" height="32.1"/>
<rect class="q0" x="1247" y="398.0" height="31.4"/>
<rect class="q1" x="1247" y="376.9" height="21.1"/>
<rect class="q2" x="1247" y="362.2" height="14.7"/>
<rect class="q3" x="1247" y="331.4" height="30.7"/>
<rect class="q4" x="1247" y="271.5" height="59.9"/>
<rect class="q5" x="1247" y="212.7" height="58.8"/>
<rect class="q6" x="1247" y="104.6" height="108.2"/>
<rect class="q7" x="1247" y="86.6" height="18.0"/>
<rect class="q8" x="1247" y="50.0" height="36.6"/>
<rect class="q0" x="1251" y="402.9" height="26.6"/>
<rect class="q1" x="1251" y="374.6" height="28.3"/>
<rect class="q2" x="1251" y="367.0" height="7.5"/>
<rect class="q3" x="1251" y="332.3" height="34.7"/>
<rect class="q4" x="1251" y="267.9" height="64.4"/>
<rect class="q5" x="1251" y="212.3" height="55.6"/>
<rect class="q6" x="1251" y="111.2" height="101.0"/>
<rect class="q7" x="1251" y="79.7" height="31.5"/>
<rect class="q8" x="1251" y="50.0" height="29.7"/>
<rect class="q0" x="1255" y="395.7" height="33.8"/>
<rect class="q1" x="1255" y="382.7" height="13.0"/>
<rect class="q2" x="1255" y="362.2" height="20.5"/>
<rect class="q3" x="1255" y="335.7" height="26.5"/>
<rect class="q4" x="1255" y="270.2" height="65.5"/>
<rect class="q5" x="1255" y="213.5" height="56.8"/>
<rect class="q6" x="1255" y="112.8" height="100.7"/>
<rect class="q7" x="1255" y="82.0" height="30.8"/>
<rect class="q8" x="1255" y="50.0" height="32.0"/>
<rect class="q0" x="1259" y="396.8" height="32.7"/>
<rect class="q1" x="1259" y="383.5" height="13.3"/>
<rect class="q2" x="1259" y="365.1" height="18.4"/>
<rect class="q3" x="1259" y="332.5" height="32.6"/>
<rect class="q4" x="1259" y="266.8" height="65.7"/>
<rect class="q5" x="1259" y="209.5" height="57.2"/>
<rect class="q6" x="1259" y="114.3" height="95.3"/>
<rect class="q7" x="1259" y="80.4" height="33.9"/>
<rect class="q8" x="1259" y="50.0" height="30.4"/>
<rect class="q0" x="1263" y="394.9" height="34.6"/>
<rect class="q1" x="1263" y="372.6" height="22.3"/>
<rect class="q2" x="1263" y="359.6" height="13.0"/>
<rect class="q3" x="1263" y="341.5" height="18.0"/>
<rect class="q4" x="1263" y="266.2" height="75.4"/>
<rect class="q5" x="1263" y="214.8" height="51.4"/>
<rect class="q6" x="1263" y="107.0" height="107.8"/>
<rect class="q7" x="1263" y="77.7" height="29.3"/>
<rect class="q8" x="1263" y="50.0" height="27.7"/>
<rect class="q0" x="1267" y="398.0" height="31.5"/>
<rect class="q1" x="1267" y="382.7" height="15.2"/>
<rect class="q2" x="1267" y="364.4" height="18.4"/>
<rect class="q3" x="1267" y="331.3" height="33.0"/>
<rect class="q4" x="1267" y="274.3" height="57.0"/>
<rect class="q5" x="1267" y="210.2" height="64.1"/>
<rect class="q6" x="1267" y="109.7" height="100.5"/>
<rect class="q7" x="1267" y="87.0" height="22.7"/>
<rect class="q8" x="1267" y="50.0" height="37.0"/>
<rect class="q0" x="1271" y="399.0" height="30.4"/>
<rect class="q1" x="1271" y="383.8" height="15.2"/>
<rect class="q2" x="1271" y="366.5" height="17.3"/>
<rect class="q3" x="1271" y="337.7" height="28.9"/>
<rect class="q4" x="1271" y="275.2" height="62.5"/>
<rect class="q5" x="1271" y="216.7" height="58.6"/>
<rect class="q6" x="1271" y="107.8" height="108.8"/>
<rect class="q7" x="1271" y="80.2" height="27.7"/>
<rect class="q8" x="1271" y="50.0" height="30.2"/>
<rect class="q0" x="1275" y="396.0" height="33.4"/>
<rect class="q1" x="1275" y="382.7" height="13.3"/>
<rect class="q2" x="1275" y="362.7" height="20.0"/>
<rect class="q3" x="1275" y="338.4" height="24.3"/>
<rect class="q4" x="1275" y="269.0" height="69.4"/>
<rect class="q5" x="1275" y="211.6" height="57.4"/>
<rect class="q6" x="1275" y="103.6" height="108.0"/>
<rect class="q7" x="1275" y="84.5" height="19.1"/>
<rect class="q8" x="1275" y="50.0" height="34.5"/>
<rect class="q0" x="1279" y="405.7" height="23.8"/>
<rect class="q1" x="1279" y="376.1" height="29.6"/>
<rect class="q2" x="1279" y="366.0" height="10.1"/>
<rect class="q3" x="1279" y="334.7" height="31.3"/>
<rect class="q4" x="1279" y="270.1" height="64.6"/>
<rect class="q5" x="1279" y="206.6" height="63.5"/>
<rect class="q6" x="1279" y="108.1" height="98.6"/>
<rect class="q7" x="1279" y="81.6" height="26.5"/>
<rect class="q8" x="1279" y="50.0" height="31.6"/>
<rect class="q0" x="1283" y="403.3" height="26.2"/>
<rect class="q1" x="1283" y="377.8" height="25.4"/>
<rect class="q2" x="1283" y="364.8" height="13.0"/>
<rect class="q3" x="1283" y="333.3" height="31.5"/>
<rect class="q4" x="1283" y="270.0" height="63.3"/>
<rect class="q5" x="1283" y="215.8" height="54.2"/>
<rect class="q6" x="1283" y="111.8" height="103.9"/>
<rect class="q7" x="1283" y="84.5" height="27.3"/>
<rect class="q8" x="1283" y="50.0" height="34.5"/>
<rect class="q0" x="1287" y="397.7" height="31.8"/>
<rect class="q1" x="1287" y="382.2" height="15.5"/>
<rect class="q2" x="1287" y="359.4" height="22.8"/>
<rect class="q3" x="1287" y="334.4" height="25.0"/>
<rect class="q4" x="1287" y="275.1" height="59.4"/>
<rect class="q5" x="1287" y="209.5" height="65.6"/>
<rect class="q6" x="1287" y="113.5" height="96.0"/>
<rect class="q7" x="1287" y="87.4" height="26.1"/>
<rect class="q8" x="1287" y="50.0" height="37.4"/>
<rect class="q0" x="1291" y="399.4" height="30.1"/>
<rect class="q1" x="1291" y="381.5" height="17.8"/>
<rect class="q2" x="1291" y="357.5" height="24.0"/>
<rect class="q3" x="1291" y="336.5" height="21.0"/>
<rect class="q4" x="1291" y="272.3" height="64.2"/>
<rect class="q5" x="1291" y="208.0" height="64.3"/>
<rect class="q6" x="1291" y="114.2" height="93.8"/>
<rect class="q7" x="1291" y="80.4" height="33.9"/>
<rect class="q8" x="1291" y="50.0" height="30.4"/>
<rect class="q0" x="1295" y="405.7" height="23.8"/>
<rect class="q1" x="1295" y="382.6" height="23.2"/>
<rect class="q2" x="1295" y="356.6" height="25.9"/>
<rect class="q3" x="1295" y="334.1" height="22.5"/>
<rect class="q4" x="1295" y="273.4" height="60.7"/>
<rect class="q5" x="1295" y="216.0" height="57.5"/>
<rect class="q6" x="1295" y="103.2" height="112.8"/>
<rect class="q7" x="1295" y="81.1" height="22.1"/>
<rect class="q8" x="1295" y="50.0" height="31.1"/>
<rect class="q0" x="1299" y="396.7" height="32.8"/>
<rect class="q1" x="1299" y="382.7" height="14.0"/>
<rect class="q2" x="1299" y="360.5" height="22.2"/>
<rect class="q3" x="1299" y="338.0" height="22.5"/>
<rect class="q4" x="1299" y="273.3" height="64.7"/>
<rect class="q5" x="1299" y="213.4" height="59.9"/>
<rect class="q6" x="1299" y="107.4" height="106.1"/>
<rect class="q7" x="1299" y="84.8" height="22.6"/>
<rect class="q8" x="1299" y="50.0" height="34.8"/>
<rect class="q0" x="1303" y="401.8" height="27.7"/>
<rect class="q1" x="1303" y="382.7" height="19.1"/>
<rect class="q2" x="1303" y="358.1" height="24.7"/>
<rect class="q3" x="1303" y="334.5" height="23.5"/>
<rect class="q4" x="1303" y="266.6" height="67.9"/>
<rect class="q5" x="1303" y="212.3" height="54.4"/>
<rect class="q6" x="1303" y="104.6" height="107.7"/>
<rect class="q7" x="1303" y="82.8" height="21.8"/>
<rect class="q8" x="1303" y="50.0" height="32.8"/>
<rect class="q0" x="1307" y="399.4" height="30.1"/>
<rect class="q1" x="1307" y="377.6" height="21.8"/>
<rect class="q2" x="1307" y="359.1" height="18.5"/>
<rect class="q3" x="1307" y="337.5" height="21.6"/>
<rect class="q4" x="1307" y="274.9" height="62.6"/>
<rect class="q5" x="1307" y="217.0" height="58.0"/>
<rect class="q6" x="1307" y="112.2" height="104.7"/>
<rect class="q7" x="1307" y="88.4" height="23.8"/>
<rect class="q8" x="1307" y="50.0" height="38.4"/>
<rect class="q0" x="1311" y="395.9" height="33.6"/>
<rect class="q1" x="1311" y="378.7" height="17.2"/>
<rect class="q2" x="1311" y="358.9" height="19.8"/>
<rect class="q3" x="1311" y="342.1" height="16.8"/>
<rect class="q4" x="1311" y="270.5" height="71.6"/>
<rect class="q5" x="1311" y="206.9" height="63.6"/>
<rect class="q6" x="1311" y="107.3" height="99.6"/>
<rect class="q7" x="1311" y="83.9" height="23.4"/>
<rect class="q8" x="1311" y="50.0" height="33.9"/>
<rect class="q0" x="1315" y="400.9" height="28.6"/>
<rect class="q1" x="1315" y="383.2" height="17.7"/>
<rect class="q2" x="1315" y="366.0" height="17.2"/>
<rect class="q3" x="1315" y="340.3" height="25.7"/>
<rect class="q4" x="1315" y="271.7" height="68.6"/>
<rect class="q5" x="1315" y="212.8" height="58.8"/>
<rect class="q6" x="1315" y="104.2" height="108.6"/>
<rect class="q7" x="1315" y="87.1" height="17.1"/>
<rect class="q8" x="1315" y="50.0" height="37.1"/>
<rect class="q0" x="1319" y="403.4" height="26.1"/>
<rect class="q1" x="1319" y="381.1" height="22.3"/>
<rect class="q2" x="1319" y="365.9" height="15.2"/>
<rect class="q3" x="1319" y="338.8" height="27.2"/>
<rect class="q4" x="1319" y="273.3" height="65.5"/>
<rect class="q5" x="1319" y="211.7" height="61.6"/>
<rect class="q6" x="1319" y="114.2" height="97.5"/>
<rect class="q7" x="1319" y="78.0" height="36.2"/>
<rect class="q8" x="1319" y="50.0" height="28.0"/>
<rect class="q0" x="1323" y="402.0" height="27.5"/>
<rect class="q1" x="1323" y="373.3" height="28.7"/>
<rect class="q2" x="1323" y="359.7" height="13.6"/>
<rect class="q3" x="1323" y="334.2" height="25.5"/>
<rect class="q4" x="1323" y="270.5" height="63.7"/>
<rect class="q5" x="1323" y="206.2" height="64.3"/>
<rect class="q6" x="1323" y="113.2" height="93.0"/>
<rect class="q7" x="1323" y="81.0" height="32.2"/>
<rect class="q8" x="1323" y="50.0" height="31.1"/>
<rect class="q0" x="1327" y="415.8" height="13.7"/>
<rect class="q1" x="1327" y="381.9" height="33.9"/>
<rect class="q2" x="1327" y="364.8" height="17.2"/>
<rect class="q3" x="1327" y="343.9" height="20.9"/>
<rect class="q4" x="1327" y="292.1" height="51.8"/>
<rect class="q5" x="1327" y="250.1" height="42.0"/>
<rect class="q6" x="1327" y="108.2" height="141.9"/>
<rect class="q7" x="1327" y="91.6" height="16.6"/>
<rect class="q8" x="1327" y="50.0" height="41.7"/>
<rect class="q0" x="1331" y="414.5" height="15.0"/>
<rect class="q1" x="1331" y="378.4" height="36.1"/>
<rect class="q2" x="1331" y="369.0" height="9.4"/>
<rect class="q3" x="1331" y="342.1" height="26.9"/>
<rect class="q4" x="1331" y="288.9" height="53.2"/>
<rect class="q5" x="1331" y="247.0" height="41.9"/>
<rect class="q6" x="1331" y="102.3" height="144.7"/>
<rect class="q7" x="1331" y="84.1" height="18.2"/>
<rect class="q8" x="1331" y="50.0" height="34.1"/>
<rect class="q0" x="1335" y="417.3" height="12.2"/>
<rect class="q1" x="1335" y="387.0" height="30.3"/>
<rect class="q2" x="1335" y="365.4" height="21.6"/>
<rect class="q3" x="1335" y="334.7" height="30.7"/>
<rect class="q4" x="1335" y="286.8" height="47.9"/>
<rect class="q5" x="1335" y="245.3" height="41.5"/>
<rect class="q6" x="1335" y="99.5" height="145.9"/>
<rect class="q7" x="1335" y="92.5" height="7.0"/>
<rect class="q8" x="1335" y="50.0" height="42.5"/>
<rect class="q0" x="1339" y="418.5" height="11.0"/>
<rect class="q1" x="1339" y="380.7" height="37.8"/>
<rect class="q2" x="1339" y="368.5" height="12.2"/>
<rect class="q3" x="1339" y="345.3" height="23.2"/>
<rect class="q4" x="1339" y="288.0" height="57.3"/>
<rect class="q5" x="1339" y="238.8" height="49.2"/>
<rect class="q6" x="1339" y="104.8" height="133.9"/>
<rect class="q7" x="1339" y="88.5" height="16.4"/>
<rect class="q8" x="1339" y="50.0" height="38.5"/>
<rect class="q0" x="1343" y="406.3" height="23.1"/>
<rect class="q1" x="1343" y="387.2" height="19.2"/>
<rect class="q2" x="1343" y="360.9" height="26.2"/>
<rect class="q3" x="1343" y="347.0" height="13.9"/>
<rect class="q4" x="1343" y="283.8" height="63.2"/>
<rect class="q5" x="1343" y="234.3" height="49.5"/>
<rect class="q6" x="1343" y="112.8" height="121.5"/>
<rect class="q7" x="1343" y="84.6" height="28.2"/>
<rect class="q8" x="1343" y="50.0" height="34.6"/>
<rect class="q0" x="1347" y="402.8" height="26.7"/>
<rect class="q1" x="1347" y="387.3" height="15.5"/>
<rect class="q2" x="1347" y="368.5" height="18.8"/>
<rect class="q3" x="1347" y="348.0" height="20.5"/>
<rect class="q4" x="1347" y="291.2" height="56.8"/>
<rect class="q5" x="1347" y="234.4" height="56.8"/>
<rect class="q6" x="1347" y="115.2" height="119.1"/>
<rect class="q7" x="1347" y="73.8" height="41.4"/>
<rect class="q8" x="1347" y="50.0" height="23.8"/>
<rect class="q0" x="1351" y="405.3" height="24.1"/>
<rect class="q1" x="1351" y="382.0" height="23.3"/>
<rect class="q2" x="1351" y="366.8" height="15.3"/>
<rect class="q3" x="1351" y="346.5" height="20.2"/>
<rect class="q4" x="1351" y="293.8" height="52.7"/>
<rect class="q5" x="1351" y="231.3" height="62.5"/>
<rect class="q6" x="1351" y="114.4" height="116.9"/>
<rect class="q7" x="1351" y="78.9" height="35.6"/>
<rect class="q8" x="1351" y="50.0" height="28.9"/>
<rect class="q0" x="1355" y="396.6" height="32.8"/>
<rect class="q1" x="1355" y="381.0" height="15.7"/>
<rect class="q2" x="1355" y="361.4" height="19.6"/>
<rect class="q3" x="1355" y="350.2" height="11.2"/>
<rect class="q4" x="1355" y="294.6" height="55.7"/>
<rect class="q5" x="1355" y="228.6" height="66.0"/>
<rect class="q6" x="1355" y="110.0" height="118.7"/>
<rect class="q7" x="1355" y="78.5" height="31.5"/>
<rect class="q8" x="1355" y="50.0" height="28.5"/>
<rect class="q0" x="1359" y="403.0" height="26.4"/>
<rect class="q1" x="1359" y="380.7" height="22.4"/>
<rect class="q2" x="1359" y="363.0" height="17.7"/>
<rect class="q3" x="1359" y="342.0" height="20.9"/>
<rect class="q4" x="1359" y="291.2" height="50.9"/>
<rect class="q5" x="1359" y="229.7" height="61.5"/>
<rect class="q6" x="1359" y="106.0" height="123.7"/>
<rect class="q7" x="1359" y="82.6" height="23.4"/>
<rect class="q8" x="1359" y="50.0" height="32.6"/>
<rect class="q0" x="1363" y="406.1" height="23.4"/>
<rect class="q1" x="1363" y="384.3" height="21.8"/>
<rect class="q2" x="1363" y="370.5" height="13.9"/>
<rect class="q3" x="1363" y="343.7" height="26.8"/>
<rect class="q4" x="1363" y="285.2" height="58.5"/>
<rect class="q5" x="1363" y="231.3" height="53.9"/>
<rect class="q6" x="1363" y="114.2" height="117.1"/>
<rect class="q7" x="1363" y="84.3" height="29.9"/>
<rect class="q8" x="1363" y="50.0" height="34.3"/>
<rect class="q0" x="1367" y="404.6" height="24.9"/>
<rect class="q1" x="1367" y="387.0" height="17.6"/>
<rect class="q2" x="1367" y="366.4" height="20.6"/>
<rect class="q3" x="1367" y="346.0" height="20.5"/>
<rect class="q4" x="1367" y="291.9" height="54.1"/>
<rect class="q5" x="1367" y="234.2" height="57.7"/>
<rect class="q6" x="1367" y="107.5" height="126.8"/>
<rect class="q7" x="1367" y="84.7" height="22.8"/>
<rect class="q8" x="1367" y="50.0" height="34.7"/>
<rect class="q0" x="1371" y="409.9" height="19.6"/>
<rect class="q1" x="1371" y="368.5" height="41.4"/>
<rect class="q2" x="1371" y="350.9" height="17.5"/>
<rect class="q3" x="1371" y="341.7" height="9.2"/>
<rect class="q4" x="1371" y="277.0" height="64.7"/>
<rect class="q5" x="1371" y="215.1" height="61.9"/>
<rect class="q6" x="1371" y="100.6" height="114.5"/>
<rect class="q7" x="1371" y="73.9" height="26.7"/>
<rect class="q8" x="1371" y="50.0" height="23.9"/>
<rect class="q0" x="1375" y="401.7" height="27.8"/>
<rect class="q1" x="1375" y="364.2" height="37.5"/>
<rect class="q2" x="1375" y="346.4" height="17.8"/>
<rect class="q3" x="1375" y="336.1" height="10.3"/>
<rect class="q4" x="1375" y="276.7" height="59.4"/>
<rect class="q5" x="1375" y="209.2" height="67.5"/>
<rect class="q6" x="1375" y="101.7" height="107.5"/>
<rect class="q7" x="1375" y="69.2" height="32.5"/>
<rect class="q8" x="1375" y="50.0" height="19.2"/>
<rect class="q0" x="1379" y="403.7" height="25.8"/>
<rect class="q1" x="1379" y="363.6" height="40.1"/>
<rect class="q2" x="1379" y="352.2" height="11.4"/>
<rect class="q3" x="1379" y="333.3" height="18.9"/>
<rect class="q4" x="1379" y="277.4" height="55.9"/>
<rect class="q5" x="1379" y="217.3" height="60.2"/>
<rect class="q6" x="1379" y="108.7" height="108.6"/>
<rect class="q7" x="1379" y="78.5" height="30.2"/>
<rect class="q8" x="1379" y="50.0" height="28.5"/>
<rect class="q0" x="1383" y="409.1" height="20.3"/>
<rect class="q1" x="1383" y="363.9" height="45.2"/>
<rect class="q2" x="1383" y="352.0" height="11.9"/>
<rect class="q3" x="1383" y="342.1" height="9.9"/>
<rect class="q4" x="1383" y="273.0" height="69.1"/>
<rect class="q5" x="1383" y="212.3" height="60.7"/>
<rect class="q6" x="1383" y="109.1" height="103.1"/>
<rect class="q7" x="1383" y="79.9" height="29.3"/>
<rect class="q8" x="1383" y="50.0" height="29.9"/>
<rect class="q0" x="1387" y="410.7" height="18.8"/>
<rect class="q1" x="1387" y="367.7" height="43.0"/>
<rect class="q2" x="1387" y="345.2" height="22.4"/>
<rect class="q3" x="1387" y="331.7" height="13.5"/>
<rect class="q4" x="1387" y="274.7" height="57.0"/>
<rect class="q5" x="1387" y="216.1" height="58.7"/>
<rect class="q6" x="1387" y="104.4" height="111.7"/>
<rect class="q7" x="1387" y="76.2" height="28.2"/>
<rect class="q8" x="1387" y="50.0" height="26.2"/>
<rect class="q0" x="1391" y="408.3" height="21.1"/>
<rect class="q1" x="1391" y="371.7" height="36.6"/>
<rect class="q2" x="1391" y="348.5" height="23.2"/>
<rect class="q3" x="1391" y="333.1" height="15.3"/>
<rect class="q4" x="1391" y="273.4" height="59.7"/>
<rect class="q5" x="1391" y="217.7" height="55.7"/>
<rect class="q6" x="1391" y="103.2" height="114.5"/>
<rect class="q7" x="1391" y="78.4" height="24.8"/>
<rect class="q8" x="1391" y="50.0" height="28.5"/>
<rect class="q0" x="1395" y="403.9" height="25.6"/>
<rect class="q1" x="1395" y="366.6" height="37.3"/>
<rect class="q2" x="1395" y="344.3" height="22.3"/>
<rect class="q3" x="1395" y="333.5" height="10.8"/>
<rect class="q4" x="1395" y="280.5" height="53.0"/>
<rect class="q5" x="1395" y="215.1" height="65.5"/>
<rect class="q6" x="1395" y="98.7" height="116.4"/>
<rect class="q7" x="1395" y="75.0" height="23.7"/>
<rect class="q8" x="1395" y="50.0" height="25.0"/>
<rect class="q0" x="1399" y="407.1" height="22.3"/>
<rect class="q1" x="1399" y="366.7" height="40.5"/>
<rect class="q2" x="1399" y="346.3" height="20.3"/>
<rect class="q3" x="1399" y="331.9" height="14.5"/>
<rect class="q4" x="1399" y="275.7" height="56.2"/>
<rect class="q5" x="1399" y="207.4" height="68.3"/>
<rect class="q6" x="1399" y="102.4" height="105.0"/>
<rect class="q7" x="1399" y="79.2" height="23.2"/>
<rect class="q8" x="1399" y="50.0" height="29.2"/>
<rect class="q0" x="1403" y="402.7" height="26.8"/>
<rect class="q1" x="1403" y="366.9" height="35.7"/>
<rect class="q2" x="1403" y="354.7" height="12.2"/>
<rect class="q3" x="1403" y="331.4" height="23.3"/>
<rect class="q4" x="1403" y="281.5" height="49.8"/>
<rect class="q5" x="1403" y="212.0" height="69.5"/>
<rect class="q6" x="1403" y="103.8" height="108.3"/>
<rect class="q7" x="1403" y="70.1" height="33.7"/>
<rect class="q8" x="1403" y="50.0" height="20.1"/>
<rect class="q0" x="1407" y="407.6" height="21.9"/>
<rect class="q1" x="1407" y="369.3" height="38.3"/>
<rect class="q2" x="1407" y="352.1" height="17.2"/>
<rect class="q3" x="1407" y="340.5" height="11.6"/>
<rect class="q4" x="1407" y="275.3" height="65.2"/>
<rect class="q5" x="1407" y="214.6" height="60.7"/>
<rect class="q6" x="1407" y="100.6" height="114.0"/>
<rect class="q7" x="1407" y="77.6" height="23.0"/>
<rect class="q8" x="1407" y="50.0" height="27.6"/>
<rect class="q0" x="1411" y="408.1" height="21.4"/>
<rect class="q1" x="1411" y="368.9" height="39.2"/>
<rect class="q2" x="1411" y="343.8" height="25.1"/>
<rect class="q3" x="1411" y="333.0" height="10.8"/>
<rect class="q4" x="1411" y="272.0" height="61.0"/>
<rect class="q5" x="1411" y="211.6" height="60.4"/>
<rect class="q6" x="1411" y="104.7" height="106.8"/>
<rect class="q7" x="1411" y="78.8" height="26.0"/>
<rect class="q8" x="1411" y="50.0" height="28.8"/>
<rect class="q0" x="1415" y="402.5" height="27.0"/>
<rect class="q1" x="1415" y="366.1" height="36.4"/>
<rect class="q2" x="1415" y="354.9" height="11.2"/>
<rect class="q3" x="1415" y="340.9" height="14.0"/>
<rect class="q4" x="1415" y="280.8" height="60.1"/>
<rect class="q5" x="1415" y="210.4" height="70.4"/>
<rect class="q6" x="1415" y="98.9" height="111.5"/>
<rect class="q7" x="1415" y="78.1" height="20.8"/>
<rect class="q8" x="1415" y="50.0" height="28.1"/>
<rect class="q0" x="1419" y="402.9" height="26.6"/>
<rect class="q1" x="1419" y="368.0" height="34.8"/>
<rect class="q2" x="1419" y="347.3" height="20.7"/>
<rect class="q3" x="1419" y="332.7" height="14.6"/>
<rect class="q4" x="1419" y="274.6" height="58.1"/>
<rect class="q5" x="1419" y="209.4" height="65.2"/>
<rect class="q6" x="1419" y="105.0" height="104.4"/>
<rect class="q7" x="1419" y="80.3" height="24.7"/>
<rect class="q8" x="1419" y="50.0" height="30.3"/>
<rect class="q0" x="1423" y="414.3" height="15.2"/>
<rect class="q1" x="1423" y="357.3" height="57.0"/>
<rect class="q2" x="1423" y="345.5" height="11.8"/>
<rect class="q3" x="1423" y="335.4" height="10.1"/>
<rect class="q4" x="1423" y="303.9" height="31.5"/>
<rect class="q5" x="1423" y="263.6" height="40.3"/>
<rect class="q6" x="1423" y="130.0" height="133.6"/>
<rect class="q7" x="1423" y="77.4" height="52.6"/>
<rect class="q8" x="1423" y="50.0" height="27.4"/>
<rect class="q0" x="1427" y="414.7" height="14.8"/>
<rect class="q1" x="1427" y="355.9" height="58.8"/>
<rect class="q2" x="1427" y="342.9" height="12.9"/>
<rect class="q3" x="1427" y="328.4" height="14.6"/>
<rect class="q4" x="1427" y="298.0" height="30.3"/>
<rect class="q5" x="1427" y="253.1" height="44.9"/>
<rect class="q6" x="1427" y="125.5" height="127.6"/>
<rect class="q7" x="1427" y="74.0" height="51.5"/>
<rect class="q8" x="1427" y="50.0" height="24.1"/>
<rect class="q0" x="1431" y="414.0" height="15.5"/>
<rect class="q1" x="1431" y="354.8" height="59.2"/>
<rect class="q2" x="1431" y="343.4" height="11.4"/>
<rect class="q3" x="1431" y="332.9" height="10.4"/>
<rect class="q4" x="1431" y="299.6" height="33.3"/>
<rect class="q5" x="1431" y="257.8" height="41.8"/>
<rect class="q6" x="1431" y="130.3" height="127.5"/>
<rect class="q7" x="1431" y="81.0" height="49.3"/>
<rect class="q8" x="1431" y="50.0" height="31.0"/>
<rect class="q0" x="1435" y="419.3" height="10.2"/>
<rect class="q1" x="1435" y="360.0" height="59.3"/>
<rect class="q2" x="1435" y="340.8" height="19.2"/>
<rect class="q3" x="1435" y="331.0" height="9.8"/>
<rect class="q4" x="1435" y="299.2" height="31.8"/>
<rect class="q5" x="1435" y="260.3" height="38.9"/>
<rect class="q6" x="1435" y="122.8" height="137.6"/>
<rect class="q7" x="1435" y="78.7" height="44.1"/>
<rect class="q8" x="1435" y="50.0" height="28.7"/>
<rect class="q0" x="1439" y="411.9" height="17.6"/>
<rect class="q1" x="1439" y="363.3" height="48.6"/>
<rect class="q2" x="1439" y="338.8" height="24.5"/>
<rect class="q3" x="1439" y="332.1" height="6.7"/>
<rect class="q4" x="1439" y="296.4" height="35.7"/>
<rect class="q5" x="1439" y="253.4" height="43.0"/>
<rect class="q6" x="1439" y="125.6" height="127.8"/>
<rect class="q7" x="1439" y="72.1" height="53.5"/>
<rect class="q8" x="1439" y="50.0" height="22.1"/>
<rect class="q0" x="1443" y="411.6" height="17.8"/>
<rect class="q1" x="1443" y="357.0" height="54.7"/>
<rect class="q2" x="1443" y="345.2" height="11.8"/>
<rect class="q3" x="1443" y="333.9" height="11.3"/>
<rect class="q4" x="1443" y="297.1" height="36.8"/>
<rect class="q5" x="1443" y="261.1" height="36.0"/>
<rect class="q6" x="1443" y="122.2" height="138.9"/>
<rect class="q7" x="1443" y="75.5" height="46.7"/>
<rect class="q8" x="1443" y="50.0" height="25.5"/>
<rect class="q0" x="1447" y="415.7" height="13.8"/>
<rect class="q1" x="1447" y="364.1" height="51.6"/>
<rect class="q2" x="1447" y="343.0" height="21.1"/>
<rect class="q3" x="1447" y="337.8" height="5.2"/>
<rect class="q4" x="1447" y="300.0" height="37.9"/>
<rect class="q5" x="1447" y="253.4" height="46.6"/>
<rect class="q6" x="1447" y="123.0" height="130.4"/>
<rect class="q7" x="1447" y="74.7" height="48.3"/>
<rect class="q8" x="1447" y="50.0" height="24.7"/>
<rect class="q0" x="1451" y="415.8" height="13.7"/>
<rect class="q1" x="1451" y="362.9" height="52.9"/>
<rect class="q2" x="1451" y="339.5" height="23.3"/>
<rect class="q3" x="1451" y="333.4" height="6.1"/>
<rect class="q4" x="1451" y="299.2" height="34.2"/>
<rect class="q5" x="1451" y="259.6" height="39.7"/>
<rect class="q6" x="1451" y="123.3" height="136.3"/>
<rect class="q7" x="1451" y="79.4" height="43.8"/>
<rect class="q8" x="1451" y="50.0" height="29.4"/>
<rect class="q0" x="1455" y="416.7" height="12.8"/>
<rect class="q1" x="1455" y="361.0" height="55.7"/>
<rect class="q2" x="1455" y="340.3" height="20.7"/>
<rect class="q3" x="1455" y="329.4" height="10.9"/>
<rect class="q4" x="1455" y="305.7" height="23.7"/>
<rect class="q5" x="1455" y="256.5" height="49.1"/>
<rect class="q6" x="1455" y="124.7" height="131.9"/>
<rect class="q7" x="1455" y="79.3" height="45.4"/>
<rect class="q8" x="1455" y="50.0" height="29.3"/>
<rect class="q0" x="1459" y="419.6" height="9.9"/>
<rect class="q1" x="1459" y="357.5" height="62.1"/>
<rect class="q2" x="1459" y="337.9" height="19.6"/>
<rect class="q3" x="1459" y="329.6" height="8.3"/>
<rect class="q4" x="1459" y="299.1" height="30.5"/>
<rect class="q5" x="1459" y="259.1" height="40.0"/>
<rect class="q6" x="1459" y="128.7" height="130.4"/>
<rect class="q7" x="1459" y="75.7" height="53.0"/>
<rect class="q8" x="1459" y="50.0" height="25.7"/>
<rect class="q0" x="1463" y="409.7" height="19.8"/>
<rect class="q1" x="1463" y="360.6" height="49.1"/>
<rect class="q2" x="1463" y="344.3" height="16.3"/>
<rect class="q3" x="1463" y="332.8" height="11.5"/>
<rect class="q4" x="1463" y="296.3" height="36.5"/>
<rect class="q5" x="1463" y="261.8" height="34.5"/>
<rect class="q6" x="1463" y="133.3" height="128.4"/>
<rect class="q7" x="1463" y="80.6" height="52.7"/>
<rect class="q8" x="1463" y="50.0" height="30.6"/>
<rect class="q0" x="1467" y="413.7" height="15.8"/>
<rect class="q1" x="1467" y="357.1" height="56.6"/>
<rect class="q2" x="1467" y="345.5" height="11.6"/>
<rect class="q3" x="1467" y="337.7" height="7.8"/>
<rect class="q4" x="1467" y="300.6" height="37.0"/>
<rect class="q5" x="1467" y="256.4" height="44.3"/>
<rect class="q6" x="1467" y="125.6" height="130.8"/>
<rect class="q7" x="1467" y="73.4" height="52.2"/>
<rect class="q8" x="1467" y="50.0" height="23.4"/>
<rect class="q0" x="1471" y="419.6" height="9.9"/>
<rect class="q1" x="1471" y="358.4" height="61.1"/>
<rect class="q2" x="1471" y="337.8" height="20.6"/>
<rect class="q3" x="1471" y="328.7" height="9.1"/>
<rect class="q4" x="1471" y="303.9" height="24.8"/>
<rect class="q5" x="1471" y="254.0" height="49.9"/>
<rect class="q6" x="1471" y="126.1" height="127.9"/>
<rect class="q7" x="1471" y="71.0" height="55.1"/>
<rect class="q8" x="1471" y="50.0" height="21.0"/>
<rect class="q0" x="1475" y="412.8" height="16.6"/>
<rect class="q1" x="1475" y="370.6" height="42.2"/>
<rect class="q2" x="1475" y="352.4" height="18.2"/>
<rect class="q3" x="1475" y="325.5" height="26.9"/>
<rect class="q4" x="1475" y="278.5" height="47.0"/>
<rect class="q5" x="1475" y="229.7" height="48.8"/>
<rect class="q6" x="1475" y="109.1" height="120.7"/>
<rect class="q7" x="1475" y="91.5" height="17.6"/>
<rect class="q8" x="1475" y="50.0" height="41.5"/>
<rect class="q0" x="1479" y="413.7" height="15.7"/>
<rect class="q1" x="1479" y="371.6" height="42.1"/>
<rect class="q2" x="1479" y="361.1" height="10.5"/>
<rect class="q3" x="1479" y="322.2" height="38.9"/>
<rect class="q4" x="1479" y="271.1" height="51.1"/>
<rect class="q5" x="1479" y="222.4" height="48.7"/>
<rect class="q6" x="1479" y="101.5" height="121.0"/>
<rect class="q7" x="1479" y="84.2" height="17.3"/>
<rect class="q8" x="1479" y="50.0" height="34.2"/>
<rect class="q0" x="1483" y="404.7" height="24.8"/>
<rect class="q1" x="1483" y="367.6" height="37.1"/>
<rect class="q2" x="1483" y="355.0" height="12.6"/>
<rect class="q3" x="1483" y="319.8" height="35.2"/>
<rect class="q4" x="1483" y="278.5" height="41.3"/>
<rect class="q5" x="1483" y="230.8" height="47.7"/>
<rect class="q6" x="1483" y="110.2" height="120.7"/>
<rect class="q7" x="1483" y="90.1" height="20.0"/>
<rect class="q8" x="1483" y="50.0" height="40.1"/>
<rect class="q0" x="1487" y="411.1" height="18.3"/>
<rect class="q1" x="1487" y="373.4" height="37.7"/>
<rect class="q2" x="1487" y="354.3" height="19.1"/>
<rect class="q3" x="1487" y="322.4" height="31.9"/>
<rect class="q4" x="1487" y="278.7" height="43.6"/>
<rect class="q5" x="1487" y="227.3" height="51.5"/>
<rect class="q6" x="1487" y="104.5" height="122.8"/>
<rect class="q7" x="1487" y="88.2" height="16.4"/>
<rect class="q8" x="1487" y="50.0" height="38.2"/>
<rect class="q0" x="1491" y="414.1" height="15.3"/>
<rect class="q1" x="1491" y="371.8" height="42.3"/>
<rect class="q2" x="1491" y="357.9" height="13.9"/>
<rect class="q3" x="1491" y="323.1" height="34.8"/>
<rect class="q4" x="1491" y="273.9" height="49.2"/>
<rect class="q5" x="1491" y="220.7" height="53.2"/>
<rect class="q6" x="1491" y="99.8" height="120.9"/>
<rect class="q7" x="1491" y="91.7" height="8.1"/>
<rect class="q8" x="1491" y="50.0" height="41.7"/>
<rect class="q0" x="1495" y="408.1" height="21.4"/>
<rect class="q1" x="1495" y="363.4" height="44.7"/>
<rect class="q2" x="1495" y="351.9" height="11.5"/>
<rect class="q3" x="1495" y="343.3" height="8.5"/>
<rect class="q4" x="1495" y="282.5" height="60.8"/>
<rect class="q5" x="1495" y="229.3" height="53.2"/>
<rect class="q6" x="1495" y="110.3" height="119.0"/>
<rect class="q7" x="1495" y="73.0" height="37.4"/>
<rect class="q8" x="1495" y="50.0" height="23.0"/>
<rect class="q0" x="1499" y="412.5" height="17.0"/>
<rect class="q1" x="1499" y="368.4" height="44.1"/>
<rect class="q2" x="1499" y="349.5" height="19.0"/>
<rect class="q3" x="1499" y="336.5" height="13.0"/>
<rect class="q4" x="1499" y="278.9" height="57.6"/>
<rect class="q5" x="1499" y="226.7" height="52.2"/>
<rect class="q6" x="1499" y="115.5" height="111.2"/>
<rect class="q7" x="1499" y="79.8" height="35.7"/>
<rect class="q8" x="1499" y="50.0" height="29.8"/>
<rect class="q0" x="1503" y="407.0" height="22.4"/>
<rect class="q1" x="1503" y="365.8" height="41.3"/>
<rect class="q2" x="1503" y="354.7" height="11.0"/>
<rect class="q3" x="1503" y="339.7" height="15.0"/>
<rect class="q4" x="1503" y="285.4" height="54.4"/>
<rect class="q5" x="1503" y="225.7" height="59.7"/>
<rect class="q6" x="1503" y="118.1" height="107.5"/>
<rect class="q7" x="1503" y="80.6" height="37.6"/>
<rect class="q8" x="1503" y="50.0" height="30.6"/>
<rect class="q0" x="1507" y="415.9" height="13.6"/>
<rect class="q1" x="1507" y="366.2" height="49.6"/>
<rect class="q2" x="1507" y="343.8" height="22.5"/>
<rect class="q3" x="1507" y="338.3" height="5.4"/>
<rect class="q4" x="1507" y="283.6" height="54.7"/>
<rect class="q5" x="1507" y="222.5" height="61.1"/>
<rect class="q6" x="1507" y="117.9" height="104.6"/>
<rect class="q7" x="1507" y="79.6" height="38.3"/>
<rect class="q8" x="1507" y="50.0" height="29.6"/>
<rect class="q0" x="1511" y="407.5" height="22.0"/>
<rect class="q1" x="1511" y="371.8" height="35.7"/>
<rect class="q2" x="1511" y="346.3" height="25.4"/>
<rect class="q3" x="1511" y="340.5" height="5.9"/>
<rect class="q4" x="1511" y="288.0" height="52.5"/>
<rect class="q5" x="1511" y="230.5" height="57.4"/>
<rect class="q6" x="1511" y="113.6" height="116.9"/>
<rect class="q7" x="1511" y="79.3" height="34.3"/>
<rect class="q8" x="1511" y="50.0" height="29.3"/>
<rect class="q0" x="1515" y="410.9" height="18.5"/>
<rect class="q1" x="1515" y="371.2" height="39.7"/>
<rect class="q2" x="1515" y="352.8" height="18.5"/>
<rect class="q3" x="1515" y="333.2" height="19.5"/>
<rect class="q4" x="1515" y="283.0" height="50.3"/>
<rect class="q5" x="1515" y="227.9" height="55.0"/>
<rect class="q6" x="1515" y="118.0" height="110.0"/>
<rect class="q7" x="1515" y="80.5" height="37.5"/>
<rect class="q8" x="1515" y="50.0" height="30.5"/>
<rect class="q0" x="1519" y="405.8" height="23.7"/>
<rect class="q1" x="1519" y="363.8" height="42.0"/>
<rect class="q2" x="1519" y="349.4" height="14.4"/>
<rect class="q3" x="1519" y="344.1" height="5.3"/>
<rect class="q4" x="1519" y="283.6" height="60.5"/>
<rect class="q5" x="1519" y="224.3" height="59.2"/>
<rect class="q6" x="1519" y="113.9" height="110.5"/>
<rect class="q7" x="1519" y="76.8" height="37.1"/>
<rect class="q8" x="1519" y="50.0" height="26.8"/>
<rect class="q0" x="1523" y="406.4" height="23.1"/>
<rect class="q1" x="1523" y="364.3" height="42.1"/>
<rect class="q2" x="1523" y="347.9" height="16.4"/>
<rect class="q3" x="1523" y="344.3" height="3.6"/>
<rect class="q4" x="1523" y="287.9" height="56.4"/>
<rect class="q5" x="1523" y="224.5" height="63.4"/>
<rect class="q6" x="1523" y="114.1" height="110.3"/>
<rect class="q7" x="1523" y="73.5" height="40.6"/>
<rect class="q8" x="1523" y="50.0" height="23.5"/>
<rect class="q0" x="1527" y="407.3" height="22.2"/>
<rect class="q1" x="1527" y="361.1" height="46.2"/>
<rect class="q2" x="1527" y="350.9" height="10.2"/>
<rect class="q3" x="1527" y="333.0" height="17.9"/>
<rect class="q4" x="1527" y="279.3" height="53.7"/>
<rect class="q5" x="1527" y="223.0" height="56.3"/>
<rect class="q6" x="1527" y="117.2" height="105.8"/>
<rect class="q7" x="1527" y="74.6" height="42.7"/>
<rect class="q8" x="1527" y="50.0" height="24.6"/>
<rect class="q0" x="1531" y="412.0" height="17.4"/>
<rect class="q1" x="1531" y="360.4" height="51.6"/>
<rect class="q2" x="1531" y="343.7" height="16.8"/>
<rect class="q3" x="1531" y="342.1" height="1.5"/>
<rect class="q4" x="1531" y="283.2" height="58.9"/>
<rect class="q5" x="1531" y="230.3" height="52.9"/>
<rect class="q6" x="1531" y="113.5" height="116.8"/>
<rect class="q7" x="1531" y="80.4" height="33.1"/>
<rect class="q8" x="1531" y="50.0" height="30.4"/>
<rect class="q0" x="1535" y="409.2" height="20.3"/>
<rect class="q1" x="1535" y="370.4" height="38.8"/>
<rect class="q2" x="1535" y="353.3" height="17.1"/>
<rect class="q3" x="1535" y="339.3" height="14.0"/>
<rect class="q4" x="1535" y="287.3" height="52.0"/>
<rect class="q5" x="1535" y="229.0" height="58.3"/>
<rect class="q6" x="1535" y="108.4" height="120.6"/>
<rect class="q7" x="1535" y="73.4" height="35.1"/>
<rect class="q8" x="1535" y="50.0" height="23.4"/>
<rect class="q0" x="1539" y="414.7" height="14.8"/>
<rect class="q1" x="1539" y="371.6" height="43.1"/>
<rect class="q2" x="1539" y="345.6" height="26.0"/>
<rect class="q3" x="1539" y="333.4" height="12.2"/>
<rect class="q4" x="1539" y="281.1" height="52.3"/>
<rect class="q5" x="1539" y="231.9" height="49.3"/>
<rect class="q6" x="1539" y="116.2" height="115.7"/>
<rect class="q7" x="1539" y="72.9" height="43.3"/>
<rect class="q8" x="1539" y="50.0" height="23.0"/>
<rect class="q0" x="1543" y="406.0" height="23.5"/>
<rect class="q1" x="1543" y="371.5" height="34.5"/>
<rect class="q2" x="1543" y="353.2" height="18.3"/>
<rect class="q3" x="1543" y="339.7" height="13.5"/>
<rect class="q4" x="1543" y="285.0" height="54.6"/>
<rect class="q5" x="1543" y="224.6" height="60.4"/>
<rect class="q6" x="1543" y="114.6" height="110.0"/>
<rect class="q7" x="1543" y="74.7" height="40.0"/>
<rect class="q8" x="1543" y="50.0" height="24.7"/>
<rect class="q0" x="1547" y="415.2" height="14.3"/>
<rect class="q1" x="1547" y="365.8" height="49.4"/>
<rect class="q2" x="1547" y="343.9" height="21.9"/>
<rect class="q3" x="1547" y="336.4" height="7.4"/>
<rect class="q4" x="1547" y="287.1" height="49.3"/>
<rect class="q5" x="1547" y="232.2" height="54.9"/>
<rect class="q6" x="1547" y="111.4" height="120.8"/>
<rect class="q7" x="1547" y="79.4" height="32.1"/>
<rect class="q8" x="1547" y="50.0" height="29.4"/>
<rect class="q0" x="1551" y="412.7" height="16.8"/>
<rect class="q1" x="1551" y="366.2" height="46.4"/>
<rect class="q2" x="1551" y="348.5" height="17.7"/>
<rect class="q3" x="1551" y="333.3" height="15.2"/>
<rect class="q4" x="1551" y="285.3" height="48.0"/>
<rect class="q5" x="1551" y="226.8" height="58.5"/>
<rect class="q6" x="1551" y="115.9" height="110.9"/>
<rect class="q7" x="1551" y="77.3" height="38.5"/>
<rect class="q8" x="1551" y="50.0" height="27.4"/>
<rect class="q0" x="1555" y="410.6" height="18.9"/>
<rect class="q1" x="1555" y="388.3" height="22.3"/>
<rect class="q2" x="1555" y="367.7" height="20.6"/>
<rect class="q3" x="1555" y="348.5" height="19.2"/>
<rect class="q4" x="1555" y="298.0" height="50.5"/>
<rect class="q5" x="1555" y="197.3" height="100.7"/>
<rect class="q6" x="1555" y="102.3" height="95.0"/>
<rect class="q7" x="1555" y="83.0" height="19.4"/>
<rect class="q8" x="1555" y="50.0" height="33.0"/>
<rect class="q0" x="1559" y="412.0" height="17.4"/>
<rect class="q1" x="1559" y="380.5" height="31.5"/>
<rect class="q2" x="1559" y="372.7" height="7.9"/>
<rect class="q3" x="1559" y="350.9" height="21.7"/>
<rect class="q4" x="1559" y="297.6" height="53.3"/>
<rect class="q5" x="1559" y="201.8" height="95.8"/>
<rect class="q6" x="1559" y="103.2" height="98.6"/>
<rect class="q7" x="1559" y="88.6" height="14.5"/>
<rect class="q8" x="1559" y="50.0" height="38.7"/>
<rect class="q0" x="1563" y="413.5" height="16.0"/>
<rect class="q1" x="1563" y="382.7" height="30.8"/>
<rect class="q2" x="1563" y="363.8" height="18.9"/>
<rect class="q3" x="1563" y="348.1" height="15.6"/>
<rect class="q4" x="1563" y="295.2" height="52.9"/>
<rect class="q5" x="1563" y="244.9" height="50.3"/>
<rect class="q6" x="1563" y="113.9" height="131.0"/>
<rect class="q7" x="1563" y="74.2" height="39.7"/>
<rect class="q8" x="1563" y="50.0" height="24.2"/>
<rect class="q0" x="1567" y="405.8" height="23.6"/>
<rect class="q1" x="1567" y="376.4" height="29.4"/>
<rect class="q2" x="1567" y="367.9" height="8.5"/>
<rect class="q3" x="1567" y="357.0" height="10.9"/>
<rect class="q4" x="1567" y="288.6" height="68.4"/>
<rect class="q5" x="1567" y="250.2" height="38.4"/>
<rect class="q6" x="1567" y="117.0" height="133.2"/>
<rect class="q7" x="1567" y="76.6" height="40.4"/>
<rect class="q8" x="1567" y="50.0" height="26.6"/>
<rect class="q0" x="1571" y="410.8" height="18.7"/>
<rect class="q1" x="1571" y="383.4" height="27.3"/>
<rect class="q2" x="1571" y="360.6" height="22.8"/>
<rect class="q3" x="1571" y="355.5" height="5.1"/>
<rect class="q4" x="1571" y="293.1" height="62.4"/>
<rect class="q5" x="1571" y="241.4" height="51.7"/>
<rect class="q6" x="1571" y="120.7" height="120.7"/>
<rect class="q7" x="1571" y="81.1" height="39.6"/>
<rect class="q8" x="1571" y="50.0" height="31.1"/>
<rect class="q0" x="1575" y="411.2" height="18.3"/>
<rect class="q1" x="1575" y="381.4" height="29.8"/>
<rect class="q2" x="1575" y="369.0" height="12.3"/>
<rect class="q3" x="1575" y="353.7" height="15.4"/>
<rect class="q4" x="1575" y="298.8" height="54.8"/>
<rect class="q5" x="1575" y="250.1" height="48.8"/>
<rect class="q6" x="1575" y="118.3" height="131.8"/>
<rect class="q7" x="1575" y="83.5" height="34.7"/>
<rect class="q8" x="1575" y="50.0" height="33.5"/>
<rect class="q0" x="1579" y="405.6" height="23.8"/>
<rect class="q1" x="1579" y="384.9" height="20.7"/>
<rect class="q2" x="1579" y="368.2" height="16.7"/>
<rect class="q3" x="1579" y="349.8" height="18.4"/>
<rect class="q4" x="1579" y="290.8" height="59.0"/>
<rect class="q5" x="1579" y="248.0" height="42.8"/>
<rect class="q6" x="1579" y="112.6" height="135.5"/>
<rect class="q7" x="1579" y="77.9" height="34.7"/>
<rect class="q8" x="1579" y="50.0" height="27.9"/>
<rect class="q0" x="1583" y="412.4" height="17.0"/>
<rect class="q1" x="1583" y="380.6" height="31.8"/>
<rect class="q2" x="1583" y="368.6" height="12.0"/>
<rect class="q3" x="1583" y="355.9" height="12.7"/>
<rect class="q4" x="1583" y="289.3" height="66.7"/>
<rect class="q5" x="1583" y="246.0" height="43.3"/>
<rect class="q6" x="1583" y="111.8" height="134.2"/>
<rect class="q7" x="1583" y="83.1" height="28.6"/>
<rect class="q8" x="1583" y="50.0" height="33.2"/>
<rect class="q0" x="1587" y="415.4" height="14.1"/>
<rect class="q1" x="1587" y="387.4" height="28.0"/>
<rect class="q2" x="1587" y="362.8" height="24.6"/>
<rect class="q3" x="1587" y="352.4" height="10.4"/>
<rect class="q4" x="1587" y="299.4" height="53.0"/>
<rect class="q5" x="1587" y="250.6" height="48.8"/>
<rect class="q6" x="1587" y="112.6" height="138.0"/>
<rect class="q7" x="1587" y="79.4" height="33.2"/>
<rect class="q8" x="1587" y="50.0" height="29.4"/>
<rect class="q0" x="1591" y="406.8" height="22.7"/>
<rect class="q1" x="1591" y="387.5" height="19.2"/>
<rect class="q2" x="1591" y="364.6" height="23.0"/>
<rect class="q3" x="1591" y="357.6" height="6.9"/>
<rect class="q4" x="1591" y="291.1" height="66.5"/>
<rect class="q5" x="1591" y="243.9" height="47.2"/>
<rect class="q6" x="1591" y="115.1" height="128.8"/>
<rect class="q7" x="1591" y="82.6" height="32.5"/>
<rect class="q8" x="1591" y="50.0" height="32.6"/>
<rect class="q0" x="1595" y="405.8" height="23.6"/>
<rect class="q1" x="1595" y="386.7" height="19.2"/>
<rect class="q2" x="1595" y="370.7" height="16.0"/>
<rect class="q3" x="1595" y="351.0" height="19.8"/>
<rect class="q4" x="1595" y="298.5" height="52.5"/>
<rect class="q5" x="1595" y="250.3" height="48.1"/>
<rect class="q6" x="1595" y="116.9" height="133.4"/>
<rect class="q7" x="1595" y="77.6" height="39.3"/>
<rect class="q8" x="1595" y="50.0" height="27.6"/>
<rect class="q0" x="1599" y="406.5" height="23.0"/>
<rect class="q1" x="1599" y="379.5" height="27.0"/>
<rect class="q2" x="1599" y="370.7" height="8.9"/>
<rect class="q3" x="1599" y="351.5" height="19.2"/>
<rect class="q4" x="1599" y="289.6" height="61.8"/>
<rect class="q5" x="1599" y="249.7" height="40.0"/>
<rect class="q6" x="1599" y="113.4" height="136.3"/>
<rect class="q7" x="1599" y="82.2" height="31.2"/>
<rect class="q8" x="1599" y="50.0" height="32.2"/>
<rect class="q0" x="1603" y="413.5" height="16.0"/>
<rect class="q1" x="1603" y="388.0" height="25.5"/>
<rect class="q2" x="1603" y="362.6" height="25.4"/>
<rect class="q3" x="1603" y="352.9" height="9.6"/>
<rect class="q4" x="1603" y="289.0" height="64.0"/>
<rect class="q5" x="1603" y="245.6" height="43.3"/>
<rect class="q6" x="1603" y="120.5" height="125.2"/>
<rect class="q7" x="1603" y="82.7" height="37.8"/>
<rect class="q8" x="1603" y="50.0" height="32.7"/>
<rect class="q0" x="1607" y="413.9" height="15.6"/>
<rect class="q1" x="1607" y="376.9" height="37.0"/>
<rect class="q2" x="1607" y="369.1" height="7.8"/>
<rect class="q3" x="1607" y="358.0" height="11.1"/>
<rect class="q4" x="1607" y="295.4" height="62.6"/>
<rect class="q5" x="1607" y="250.2" height="45.2"/>
<rect class="q6" x="1607" y="117.3" height="132.9"/>
<rect class="q7" x="1607" y="77.9" height="39.4"/>
<rect class="q8" x="1607" y="50.0" height="27.9"/>
<rect class="q0" x="1611" y="409.3" height="20.1"/>
<rect class="q1" x="1611" y="385.9" height="23.4"/>
<rect class="q2" x="1611" y="369.9" height="16.1"/>
<rect class="q3" x="1611" y="353.2" height="16.6"/>
<rect class="q4" x="1611" y="291.5" height="61.8"/>
<rect class="q5" x="1611" y="245.9" height="45.6"/>
<rect class="q6" x="1611" y="115.6" height="130.3"/>
<rect class="q7" x="1611" y="74.5" height="41.0"/>
<rect class="q8" x="1611" y="50.0" height="24.5"/>
<rect class="q0" x="1615" y="415.3" height="14.2"/>
<rect class="q1" x="1615" y="384.9" height="30.4"/>
<rect class="q2" x="1615" y="365.7" height="19.2"/>
<rect class="q3" x="1615" y="352.7" height="13.0"/>
<rect class="q4" x="1615" y="289.0" height="63.7"/>
<rect class="q5" x="1615" y="244.6" height="44.4"/>
<rect class="q6" x="1615" y="114.5" height="130.1"/>
<rect class="q7" x="1615" y="80.3" height="34.2"/>
<rect class="q8" x="1615" y="50.0" height="30.3"/>
<rect class="q0" x="1619" y="407.8" height="21.7"/>
<rect class="q1" x="1619" y="378.2" height="29.6"/>
<rect class="q2" x="1619" y="368.0" height="10.1"/>
<rect class="q3" x="1619" y="357.7" height="10.3"/>
<rect class="q4" x="1619" y="296.5" height="61.2"/>
<rect class="q5" x="1619" y="246.9" height="49.6"/>
<rect class="q6" x="1619" y="111.8" height="135.1"/>
<rect class="q7" x="1619" y="82.1" height="29.7"/>
<rect class="q8" x="1619" y="50.0" height="32.1"/>
<rect class="q0" x="1623" y="409.6" height="19.9"/>
<rect class="q1" x="1623" y="380.5" height="29.1"/>
<rect class="q2" x="1623" y="360.3" height="20.2"/>
<rect class="q3" x="1623" y="357.6" height="2.6"/>
<rect class="q4" x="1623" y="290.5" height="67.1"/>
<rect class="q5" x="1623" y="247.2" height="43.4"/>
<rect class="q6" x="1623" y="121.1" height="126.1"/>
<rect class="q7" x="1623" y="77.8" height="43.3"/>
<rect class="q8" x="1623" y="50.0" height="27.8"/>
<rect class="q0" x="1627" y="407.1" height="22.4"/>
<rect class="q1" x="1627" y="381.2" height="25.9"/>
<rect class="q2" x="1627" y="370.9" height="10.3"/>
<rect class="q3" x="1627" y="347.6" height="23.3"/>
<rect class="q4" x="1627" y="295.0" height="52.5"/>
<rect class="q5" x="1627" y="243.6" height="51.4"/>
<rect class="q6" x="1627" y="113.8" height="129.8"/>
<rect class="q7" x="1627" y="82.2" height="31.6"/>
<rect class="q8" x="1627" y="50.0" height="32.2"/>
<rect class="q0" x="1631" y="412.2" height="17.3"/>
<rect class="q1" x="1631" y="384.1" height="28.1"/>
<rect class="q2" x="1631" y="370.4" height="13.8"/>
<rect class="q3" x="1631" y="358.2" height="12.1"/>
<rect class="q4" x="1631" y="291.1" height="67.1"/>
<rect class="q5" x="1631" y="246.3" height="44.8"/>
<rect class="q6" x="1631" y="112.1" height="134.2"/>
<rect class="q7" x="1631" y="84.5" height="27.6"/>
<rect class="q8" x="1631" y="50.0" height="34.5"/>
<rect class="q0" x="1635" y="413.5" height="16.0"/>
<rect class="q1" x="1635" y="385.9" height="27.6"/>
<rect class="q2" x="1635" y="360.4" height="25.5"/>
<rect class="q3" x="1635" y="349.7" height="10.7"/>
<rect class="q4" x="1635" y="289.0" height="60.7"/>
<rect class="q5" x="1635" y="245.2" height="43.9"/>
<rect class="q6" x="1635" y="121.1" height="124.1"/>
<rect class="q7" x="1635" y="80.3" height="40.7"/>
<rect class="q8" x="1635" y="50.0" height="30.3"/>
<rect class="q0" x="1639" y="395.2" height="34.2"/>
<rect class="q1" x="1639" y="355.8" height="39.5"/>
<rect class="q2" x="1639" y="332.9" height="22.8"/>
<rect class="q3" x="1639" y="328.4" height="4.5"/>
<rect class="q4" x="1639" y="262.7" height="65.8"/>
<rect class="q5" x="1639" y="200.0" height="62.7"/>
<rect class="q6" x="1639" y="108.0" height="91.9"/>
<rect class="q7" x="1639" y="78.9" height="29.1"/>
<rect class="q8" x="1639" y="50.0" height="28.9"/>
<rect class="q0" x="1643" y="392.4" height="37.0"/>
<rect class="q1" x="1643" y="354.9" height="37.6"/>
<rect class="q2" x="1643" y="330.5" height="24.3"/>
<rect class="q3" x="1643" y="330.5" height="0.0"/>
<rect class="q4" x="1643" y="257.6" height="72.9"/>
<rect class="q5" x="1643" y="205.0" height="52.7"/>
<rect class="q6" x="1643" y="107.4" height="97.6"/>
<rect class="q7" x="1643" y="83.6" height="23.8"/>
<rect class="q8" x="1643" y="50.0" height="33.6"/>
<rect class="q0" x="1647" y="392.8" height="36.7"/>
<rect class="q1" x="1647" y="352.9" height="39.9"/>
<rect class="q2" x="1647" y="333.1" height="19.8"/>
<rect class="q3" x="1647" y="320.4" height="12.7"/>
<rect class="q4" x="1647" y="258.9" height="61.5"/>
<rect class="q5" x="1647" y="203.5" height="55.4"/>
<rect class="q6" x="1647" y="112.9" height="90.6"/>
<rect class="q7" x="1647" y="79.2" height="33.7"/>
<rect class="q8" x="1647" y="50.0" height="29.2"/>
<rect class="q0" x="1651" y="393.4" height="36.0"/>
<rect class="q1" x="1651" y="348.6" height="44.8"/>
<rect class="q2" x="1651" y="328.8" height="19.9"/>
<rect class="q3" x="1651" y="328.0" height="0.7"/>
<rect class="q4" x="1651" y="254.4" height="73.6"/>
<rect class="q5" x="1651" y="199.8" height="54.7"/>
<rect class="q6" x="1651" y="117.3" height="82.4"/>
<rect class="q7" x="1651" y="89.4" height="28.0"/>
<rect class="q8" x="1651" y="50.0" height="39.4"/>
<rect class="q0" x="1655" y="386.9" height="42.6"/>
<rect class="q1" x="1655" y="350.6" height="36.3"/>
<rect class="q2" x="1655" y="334.3" height="16.2"/>
<rect class="q3" x="1655" y="321.1" height="13.3"/>
<rect class="q4" x="1655" y="257.2" height="63.9"/>
<rect class="q5" x="1655" y="200.1" height="57.1"/>
<rect class="q6" x="1655" y="115.6" height="84.4"/>
<rect class="q7" x="1655" y="81.3" height="34.4"/>
<rect class="q8" x="1655" y="50.0" height="31.3"/>
<rect class="q0" x="1659" y="394.9" height="34.6"/>
<rect class="q1" x="1659" y="350.5" height="44.4"/>
<rect class="q2" x="1659" y="330.6" height="19.9"/>
<rect class="q3" x="1659" y="324.7" height="5.9"/>
<rect class="q4" x="1659" y="262.4" height="62.4"/>
<rect class="q5" x="1659" y="203.6" height="58.8"/>
<rect class="q6" x="1659" y="110.8" height="92.8"/>
<rect class="q7" x="1659" y="81.4" height="29.4"/>
<rect class="q8" x="1659" y="50.0" height="31.4"/>
<rect class="q0" x="1663" y="396.7" height="32.8"/>
<rect class="q1" x="1663" y="344.4" height="52.3"/>
<rect class="q2" x="1663" y="338.0" height="6.4"/>
<rect class="q3" x="1663" y="329.9" height="8.1"/>
<rect class="q4" x="1663" y="262.9" height="67.0"/>
<rect class="q5" x="1663" y="200.7" height="62.2"/>
<rect class="q6" x="1663" y="111.7" height="89.0"/>
<rect class="q7" x="1663" y="79.9" height="31.8"/>
<rect class="q8" x="1663" y="50.0" height="29.9"/>
<rect class="q0" x="1667" y="396.0" height="33.5"/>
<rect class="q1" x="1667" y="347.9" height="48.1"/>
<rect class="q2" x="1667" y="338.3" height="9.5"/>
<rect class="q3" x="1667" y="325.0" height="13.3"/>
<rect class="q4" x="1667" y="261.0" height="64.0"/>
<rect class="q5" x="1667" y="201.8" height="59.2"/>
<rect class="q6" x="1667" y="118.4" height="83.4"/>
<rect class="q7" x="1667" y="81.5" height="36.8"/>
<rect class="q8" x="1667" y="50.0" height="31.5"/>
<rect class="q0" x="1671" y="396.5" height="33.0"/>
<rect class="q1" x="1671" y="347.1" height="49.4"/>
<rect class="q2" x="1671" y="335.6" height="11.5"/>
<rect class="q3" x="1671" y="324.9" height="10.7"/>
<rect class="q4" x="1671" y="256.4" height="68.5"/>
<rect class="q5" x="1671" y="200.2" height="56.2"/>
<rect class="q6" x="1671" y="108.7" height="91.5"/>
<rect class="q7" x="1671" y="79.2" height="29.5"/>
<rect class="q8" x="1671" y="50.0" height="29.2"/>
<rect class="q0" x="1675" y="394.6" height="34.9"/>
<rect class="q1" x="1675" y="352.1" height="42.4"/>
<rect class="q2" x="1675" y="329.3" height="22.9"/>
<rect class="q4" x="1675" y="259.0" height="70.2"/>
<rect class="q5" x="1675" y="201.1" height="57.9"/>
<rect class="q6" x="1675" y="107.5" height="93.6"/>
<rect class="q7" x="1675" y="88.5" height="19.0"/>
<rect class="q8" x="1675" y="50.0" height="38.5"/>
<rect class="q0" x="1679" y="390.2" height="39.3"/>
<rect class="q1" x="1679" y="347.2" height="43.0"/>
<rect class="q2" x="1679" y="331.0" height="16.2"/>
<rect class="q4" x="1679" y="252.9" height="78.1"/>
<rect class="q5" x="1679" y="202.3" height="50.6"/>
<rect class="q6" x="1679" y="109.0" height="93.3"/>
<rect class="q7" x="1679" y="82.2" height="26.7"/>
<rect class="q8" x="1679" y="50.0" height="32.2"/>
<rect class="q0" x="1683" y="414.3" height="15.2"/>
<rect class="q1" x="1683" y="380.0" height="34.3"/>
<rect class="q2" x="1683" y="365.4" height="14.6"/>
<rect class="q3" x="1683" y="356.5" height="8.9"/>
<rect class="q4" x="1683" y="296.8" height="59.7"/>
<rect class="q5" x="1683" y="262.8" height="34.0"/>
<rect class="q6" x="1683" y="106.2" height="156.6"/>
<rect class="q7" x="1683" y="85.3" height="20.9"/>
<rect class="q8" x="1683" y="50.0" height="35.4"/>
<rect class="q0" x="1687" y="409.8" height="19.6"/>
<rect class="q1" x="1687" y="388.0" height="21.9"/>
<rect class="q2" x="1687" y="367.5" height="20.5"/>
<rect class="q3" x="1687" y="360.5" height="7.1"/>
<rect class="q4" x="1687" y="296.1" height="64.3"/>
<rect class="q5" x="1687" y="259.7" height="36.5"/>
<rect class="q6" x="1687" y="104.8" height="154.9"/>
<rect class="q7" x="1687" y="92.1" height="12.7"/>
<rect class="q8" x="1687" y="50.0" height="42.1"/>
<rect class="q0" x="1691" y="412.9" height="16.6"/>
<rect class="q1" x="1691" y="384.2" height="28.7"/>
<rect class="q2" x="1691" y="371.9" height="12.3"/>
<rect class="q3" x="1691" y="358.1" height="13.8"/>
<rect class="q4" x="1691" y="294.0" height="64.1"/>
<rect class="q5" x="1691" y="258.7" height="35.3"/>
<rect class="q6" x="1691" y="111.8" height="146.9"/>
<rect class="q7" x="1691" y="82.8" height="29.0"/>
<rect class="q8" x="1691" y="50.0" height="32.8"/>
<rect class="q0" x="1695" y="411.5" height="17.9"/>
<rect class="q1" x="1695" y="385.3" height="26.2"/>
<rect class="q2" x="1695" y="365.7" height="19.6"/>
<rect class="q3" x="1695" y="357.8" height="8.0"/>
<rect class="q4" x="1695" y="302.2" height="55.6"/>
<rect class="q5" x="1695" y="268.6" height="33.6"/>
<rect class="q6" x="1695" y="106.9" height="161.7"/>
<rect class="q7" x="1695" y="85.7" height="21.1"/>
<rect class="q8" x="1695" y="50.0" height="35.7"/>
<rect class="q0" x="1699" y="395.4" height="34.1"/>
<rect class="q1" x="1699" y="358.2" height="37.2"/>
<rect class="q2" x="1699" y="342.5" height="15.7"/>
<rect class="q3" x="1699" y="323.8" height="18.7"/>
<rect class="q4" x="1699" y="271.5" height="52.4"/>
<rect class="q5" x="1699" y="211.5" height="60.0"/>
<rect class="q6" x="1699" y="100.6" height="110.9"/>
<rect class="q7" x="1699" y="65.3" height="35.3"/>
<rect class="q8" x="1699" y="50.0" height="15.3"/>
<rect class="q0" x="1703" y="398.9" height="30.5"/>
<rect class="q1" x="1703" y="356.1" height="42.8"/>
<rect class="q2" x="1703" y="346.9" height="9.2"/>
<rect class="q3" x="1703" y="324.4" height="22.5"/>
<rect class="q4" x="1703" y="270.2" height="54.2"/>
<rect class="q5" x="1703" y="214.1" height="56.1"/>
<rect class="q6" x="1703" y="106.9" height="107.2"/>
<rect class="q7" x="1703" y="74.0" height="32.9"/>
<rect class="q8" x="1703" y="50.0" height="24.1"/>
<rect class="q0" x="1707" y="395.1" height="34.3"/>
<rect class="q1" x="1707" y="362.9" height="32.3"/>
<rect class="q2" x="1707" y="342.2" height="20.6"/>
<rect class="q3" x="1707" y="322.3" height="20.0"/>
<rect class="q4" x="1707" y="270.7" height="51.6"/>
<rect class="q5" x="1707" y="210.3" height="60.4"/>
<rect class="q6" x="1707" y="101.5" height="108.8"/>
<rect class="q7" x="1707" y="73.9" height="27.6"/>
<rect class="q8" x="1707" y="50.0" height="23.9"/>
<rect class="q0" x="1711" y="394.8" height="34.7"/>
<rect class="q1" x="1711" y="355.1" height="39.7"/>
<rect class="q2" x="1711" y="340.3" height="14.8"/>
<rect class="q3" x="1711" y="317.6" height="22.7"/>
<rect class="q4" x="1711" y="272.9" height="44.8"/>
<rect class="q5" x="1711" y="207.5" height="65.4"/>
<rect class="q6" x="1711" y="97.6" height="109.9"/>
<rect class="q7" x="1711" y="67.0" height="30.7"/>
<rect class="q8" x="1711" y="50.0" height="17.0"/>
<rect class="q0" x="1715" y="403.9" height="25.6"/>
<rect class="q1" x="1715" y="353.8" height="50.2"/>
<rect class="q2" x="1715" y="336.0" height="17.7"/>
<rect class="q3" x="1715" y="325.1" height="10.9"/>
<rect class="q4" x="1715" y="279.3" height="45.8"/>
<rect class="q5" x="1715" y="211.9" height="67.4"/>
<rect class="q6" x="1715" y="106.4" height="105.4"/>
<rect class="q7" x="1715" y="69.9" height="36.6"/>
<rect class="q8" x="1715" y="50.0" height="19.9"/>
<rect class="q0" x="1719" y="403.1" height="26.4"/>
<rect class="q1" x="1719" y="361.6" height="41.5"/>
<rect class="q2" x="1719" y="347.6" height="14.0"/>
<rect class="q3" x="1719" y="322.4" height="25.2"/>
<rect class="q4" x="1719" y="276.6" height="45.8"/>
<rect class="q5" x="1719" y="207.3" height="69.3"/>
<rect class="q6" x="1719" y="103.0" height="104.3"/>
<rect class="q7" x="1719" y="72.3" height="30.8"/>
<rect class="q8" x="1719" y="50.0" height="22.3"/>
<rect class="q0" x="1723" y="392.9" height="36.5"/>
<rect class="q1" x="1723" y="353.6" height="39.3"/>
<rect class="q2" x="1723" y="339.5" height="14.1"/>
<rect class="q3" x="1723" y="324.9" height="14.6"/>
<rect class="q4" x="1723" y="275.4" height="49.5"/>
<rect class="q5" x="1723" y="210.6" height="64.8"/>
<rect class="q6" x="1723" y="102.8" height="107.8"/>
<rect class="q7" x="1723" y="73.9" height="28.9"/>
<rect class="q8" x="1723" y="50.0" height="23.9"/>
<rect class="q0" x="1727" y="398.8" height="30.7"/>
<rect class="q1" x="1727" y="355.1" height="43.7"/>
<rect class="q2" x="1727" y="339.5" height="15.6"/>
<rect class="q3" x="1727" y="317.3" height="22.1"/>
<rect class="q4" x="1727" y="272.1" height="45.3"/>
<rect class="q5" x="1727" y="206.9" height="65.2"/>
<rect class="q6" x="1727" y="97.4" height="109.5"/>
<rect class="q7" x="1727" y="63.4" height="33.9"/>
<rect class="q8" x="1727" y="50.0" height="13.5"/>
<rect class="q0" x="1731" y="387.1" height="42.3"/>
<rect class="q1" x="1731" y="359.3" height="27.9"/>
<rect class="q2" x="1731" y="339.9" height="19.4"/>
<rect class="q3" x="1731" y="324.1" height="15.8"/>
<rect class="q4" x="1731" y="253.6" height="70.5"/>
<rect class="q5" x="1731" y="189.5" height="64.1"/>
<rect class="q6" x="1731" y="107.5" height="82.0"/>
<rect class="q7" x="1731" y="76.4" height="31.2"/>
<rect class="q8" x="1731" y="50.0" height="26.4"/>
<rect class="q0" x="1735" y="392.6" height="36.9"/>
<rect class="q1" x="1735" y="361.2" height="31.4"/>
<rect class="q2" x="1735" y="339.6" height="21.6"/>
<rect class="q3" x="1735" y="322.8" height="16.8"/>
<rect class="q4" x="1735" y="261.7" height="61.1"/>
<rect class="q5" x="1735" y="191.6" height="70.1"/>
<rect class="q6" x="1735" y="102.9" height="88.7"/>
<rect class="q7" x="1735" y="74.3" height="28.6"/>
<rect class="q8" x="1735" y="50.0" height="24.3"/>
<rect class="q0" x="1739" y="395.3" height="34.1"/>
<rect class="q1" x="1739" y="357.0" height="38.3"/>
<rect class="q2" x="1739" y="343.4" height="13.7"/>
<rect class="q3" x="1739" y="330.2" height="13.2"/>
<rect class="q4" x="1739" y="260.6" height="69.6"/>
<rect class="q5" x="1739" y="197.8" height="62.8"/>
<rect class="q6" x="1739" y="111.0" height="86.8"/>
<rect class="q7" x="1739" y="73.6" height="37.4"/>
<rect class="q8" x="1739" y="50.0" height="23.6"/>
<rect class="q0" x="1743" y="395.2" height="34.3"/>
<rect class="q1" x="1743" y="364.1" height="31.1"/>
<rect class="q2" x="1743" y="341.2" height="22.9"/>
<rect class="q3" x="1743" y="320.6" height="20.6"/>
<rect class="q4" x="1743" y="254.2" height="66.4"/>
<rect class="q5" x="1743" y="194.1" height="60.1"/>
<rect class="q6" x="1743" y="101.9" height="92.2"/>
<rect class="q7" x="1743" y="77.7" height="24.2"/>
<rect class="q8" x="1743" y="50.0" height="27.7"/>
<rect class="q0" x="1747" y="394.7" height="34.8"/>
<rect class="q1" x="1747" y="364.1" height="30.6"/>
<rect class="q2" x="1747" y="346.9" height="17.1"/>
<rect class="q3" x="1747" y="324.8" height="22.2"/>
<rect class="q4" x="1747" y="255.1" height="69.7"/>
<rect class="q5" x="1747" y="192.3" height="62.8"/>
<rect class="q6" x="1747" y="103.3" height="89.0"/>
<rect class="q7" x="1747" y="73.3" height="30.0"/>
<rect class="q8" x="1747" y="50.0" height="23.3"/>
<rect class="q0" x="1751" y="385.6" height="43.8"/>
<rect class="q1" x="1751" y="357.0" height="28.6"/>
<rect class="q2" x="1751" y="341.3" height="15.7"/>
<rect class="q3" x="1751" y="329.8" height="11.5"/>
<rect class="q4" x="1751" y="258.9" height="70.9"/>
<rect class="q5" x="1751" y="192.7" height="66.2"/>
<rect class="q6" x="1751" y="103.1" height="89.6"/>
<rect class="q7" x="1751" y="75.9" height="27.2"/>
<rect class="q8" x="1751" y="50.0" height="25.9"/>
<rect class="q0" x="1755" y="393.0" height="36.5"/>
<rect class="q1" x="1755" y="354.6" height="38.4"/>
<rect class="q2" x="1755" y="346.8" height="7.8"/>
<rect class="q3" x="1755" y="325.5" height="21.3"/>
<rect class="q4" x="1755" y="261.4" height="64.2"/>
<rect class="q5" x="1755" y="190.1" height="71.3"/>
<rect class="q6" x="1755" y="105.8" height="84.3"/>
<rect class="q7" x="1755" y="77.5" height="28.3"/>
<rect class="q8" x="1755" y="50.0" height="27.5"/>
<rect class="q0" x="1759" y="387.9" height="41.6"/>
<rect class="q1" x="1759" y="359.4" height="28.5"/>
<rect class="q2" x="1759" y="343.9" height="15.5"/>
<rect class="q3" x="1759" y="321.8" height="22.1"/>
<rect class="q4" x="1759" y="254.8" height="67.0"/>
<rect class="q5" x="1759" y="194.3" height="60.5"/>
<rect class="q6" x="1759" y="104.8" height="89.5"/>
<rect class="q7" x="1759" y="77.2" height="27.6"/>
<rect class="q8" x="1759" y="50.0" height="27.2"/>
<rect class="q0" x="1763" y="390.3" height="39.1"/>
<rect class="q1" x="1763" y="363.2" height="27.2"/>
<rect class="q2" x="1763" y="340.1" height="23.1"/>
<rect class="q3" x="1763" y="321.1" height="19.0"/>
<rect class="q4" x="1763" y="256.5" height="64.6"/>
<rect class="q5" x="1763" y="197.4" height="59.1"/>
<rect class="q6" x="1763" y="106.7" height="90.7"/>
<rect class="q7" x="1763" y="73.1" height="33.6"/>
<rect class="q8" x="1763" y="50.0" height="23.1"/>
<rect class="q0" x="1767" y="391.2" height="38.2"/>
<rect class="q1" x="1767" y="362.4" height="28.9"/>
<rect class="q2" x="1767" y="344.4" height="18.0"/>
<rect class="q3" x="1767" y="326.6" height="17.8"/>
<rect class="q4" x="1767" y="263.1" height="63.5"/>
<rect class="q5" x="1767" y="190.0" height="73.1"/>
<rect class="q6" x="1767" y="109.9" height="80.1"/>
<rect class="q7" x="1767" y="75.2" height="34.7"/>
<rect class="q8" x="1767" y="50.0" height="25.2"/>
<rect class="q0" x="1771" y="395.4" height="34.1"/>
<rect class="q1" x="1771" y="360.6" height="34.8"/>
<rect class="q2" x="1771" y="336.7" height="23.9"/>
<rect class="q3" x="1771" y="328.4" height="8.3"/>
<rect class="q4" x="1771" y="262.8" height="65.6"/>
<rect class="q5" x="1771" y="193.8" height="69.0"/>
<rect class="q6" x="1771" y="101.6" height="92.2"/>
<rect class="q7" x="1771" y="77.6" height="24.1"/>
<rect class="q8" x="1771" y="50.0" height="27.6"/>
<rect class="q0" x="1775" y="392.4" height="37.1"/>
<rect class="q1" x="1775" y="361.7" height="30.7"/>
<rect class="q2" x="1775" y="339.6" height="22.1"/>
<rect class="q3" x="1775" y="326.4" height="13.2"/>
<rect class="q4" x="1775" y="262.8" height="63.6"/>
<rect class="q5" x="1775" y="187.8" height="75.0"/>
<rect class="q6" x="1775" y="108.9" height="78.9"/>
<rect class="q7" x="1775" y="70.6" height="38.3"/>
<rect class="q8" x="1775" y="50.0" height="20.6"/>
</g>
<rect x="1091" y="61" width="687" height="367" filter="url(#streak)" opacity="0.7"/>
</g>
<rect x="1090.6" y="60" width="687.4" height="368" fill="none" stroke="#000" stroke-width="2.4"/>
<line x1="1084.0" y1="61.0" x2="1090.6" y2="61.0" stroke="#000" stroke-width="2"/>
<text x="1080.0" y="69.1" text-anchor="end">1.0</text>
<line x1="1084.0" y1="134.4" x2="1090.6" y2="134.4" stroke="#000" stroke-width="2"/>
<text x="1080.0" y="142.5" text-anchor="end">0.8</text>
<line x1="1084.0" y1="207.8" x2="1090.6" y2="207.8" stroke="#000" stroke-width="2"/>
<text x="1080.0" y="215.9" text-anchor="end">0.6</text>
<line x1="1084.0" y1="281.2" x2="1090.6" y2="281.2" stroke="#000" stroke-width="2"/>
<text x="1080.0" y="289.3" text-anchor="end">0.4</text>
<line x1="1084.0" y1="354.6" x2="1090.6" y2="354.6" stroke="#000" stroke-width="2"/>
<text x="1080.0" y="362.7" text-anchor="end">0.2</text>
<line x1="1084.0" y1="428.0" x2="1090.6" y2="428.0" stroke="#000" stroke-width="2"/>
<text x="1080.0" y="436.1" text-anchor="end">0</text>
<text x="1036.5" y="224.5" text-anchor="middle" transform="rotate(-90 1036.5 224.5)">Frequency</text>
<text x="1344.0" y="461.0">ST spots (n = 8,831)</text>
<rect x="954.9" y="492.0" width="25.5" height="25.0" fill="#4472c4"/>
<text x="987.4" y="519.0">ST_Microglia</text>
<rect x="954.9" y="523.0" width="25.5" height="25.5" fill="#ffc000"/>
<text x="987.4" y="548.5">ST_CD16<tspan font-size="13.6" dy="-8.6">+</tspan><tspan dy="8.6">​</tspan> Monocytes</text>
<rect x="954.9" y="555.5" width="25.5" height="23.5" fill="#264478"/>
<text x="987.4" y="577.0">ST_Prolif. TAMs</text>
<rect x="1223.5" y="492.0" width="25.5" height="25.0" fill="#ed7d31"/>
<text x="1256.0" y="519.0">ST_SIGLEC9<tspan font-size="13.6" dy="-8.6">+</tspan><tspan dy="8.6">​</tspan>SEPP1<tspan font-size="13.6" dy="-8.6">+</tspan><tspan dy="8.6">​</tspan> TAMs</text>
<rect x="1223.5" y="523.0" width="25.5" height="25.5" fill="#5b9bd5"/>
<text x="1256.0" y="548.5">ST_Undefined TAMs</text>
<rect x="1223.5" y="555.5" width="25.5" height="23.5" fill="#9e480e"/>
<text x="1256.0" y="577.0">ST_CXCL10<tspan font-size="13.6" dy="-8.6">+</tspan><tspan dy="8.6">​</tspan> Microglia</text>
<rect x="1550.5" y="492.0" width="25.5" height="25.0" fill="#a5a5a5"/>
<text x="1583.0" y="519.0">ST_CD14<tspan font-size="13.6" dy="-8.6">+</tspan><tspan dy="8.6">​</tspan> Monocytes</text>
<rect x="1550.5" y="523.0" width="25.5" height="25.5" fill="#70ad47"/>
<text x="1583.0" y="548.5">ST_IL1<tspan font-size="13.6" dy="-8.6">+</tspan><tspan dy="8.6">​</tspan> TAMs</text>
<rect x="1550.5" y="555.5" width="25.5" height="23.5" fill="#636363"/>
<text x="1583.0" y="577.0">ST_SIGLEC9<tspan font-size="13.6" dy="-8.6">+</tspan><tspan dy="8.6">​</tspan>MARCO<tspan font-size="13.6" dy="-8.6">+</tspan><tspan dy="8.6">​</tspan> TAMs</text>
<text x="10.0" y="702.5" font-size="31" font-weight="bold">c</text>
<text x="315.0" y="741.0" text-anchor="middle">SIGLEC9<tspan font-size="13.6" dy="-8.6">+</tspan><tspan dy="8.6">​</tspan>SEPP1<tspan font-size="13.6" dy="-8.6">+</tspan><tspan dy="8.6">​</tspan> TAM proportion</text>
<text x="770.0" y="741.0" text-anchor="middle">SIGLEC9<tspan font-size="13.6" dy="-8.6">+</tspan><tspan dy="8.6">​</tspan>MARCO<tspan font-size="13.6" dy="-8.6">+</tspan><tspan dy="8.6">​</tspan> TAM proportion</text>
<line x1="114.8" y1="749.6" x2="527.0" y2="749.6" stroke="#000" stroke-width="2.4"/>
<line x1="564.0" y1="749.6" x2="976.0" y2="749.6" stroke="#000" stroke-width="2.4"/>
<text x="222.0" y="784.0" text-anchor="middle">Tumor core</text>
<line x1="113.7" y1="792.0" x2="314.8" y2="792.0" stroke="#000" stroke-width="2.4"/>
<text x="442.0" y="784.0" text-anchor="middle">Paratumor</text>
<line x1="327.6" y1="792.0" x2="527.0" y2="792.0" stroke="#000" stroke-width="2.4"/>
<text x="672.4" y="784.0" text-anchor="middle">Tumor core</text>
<line x1="563.0" y1="792.0" x2="764.0" y2="792.0" stroke="#000" stroke-width="2.4"/>
<text x="891.0" y="784.0" text-anchor="middle">Paratumor</text>
<line x1="777.0" y1="792.0" x2="976.0" y2="792.0" stroke="#000" stroke-width="2.4"/>
<rect x="33.0" y="781.0" width="6.5" height="869.0" fill="#e0218a"/>
<rect x="32.0" y="1684.0" width="6.5" height="401.0" fill="#1aa15a"/>
<text x="22.5" y="1208.0" text-anchor="middle" transform="rotate(-90 22.5 1208.0)">Non-responder</text>
<text x="22.5" y="1856.0" text-anchor="middle" transform="rotate(-90 22.5 1856.0)">Responder</text>
<text x="44.5" y="903.6">Pt02</text>
<text x="44.5" y="1118.0">Pt11</text>
<text x="44.5" y="1368.0">Pt16</text>
<text x="44.5" y="1561.0">Pt17</text>
<text x="44.5" y="1806.0">Pt15</text>
<text x="44.5" y="1998.0">Pt18</text>
<rect x="862.0" y="1030.0" width="14.0" height="183.0" fill="url(#cbar)"/>
<line x1="862.0" y1="1073.6" x2="865.0" y2="1073.6" stroke="#fff" stroke-width="1.2"/>
<line x1="873.0" y1="1073.6" x2="876.0" y2="1073.6" stroke="#fff" stroke-width="1.2"/>
<line x1="862.0" y1="1178.9" x2="865.0" y2="1178.9" stroke="#fff" stroke-width="1.2"/>
<line x1="873.0" y1="1178.9" x2="876.0" y2="1178.9" stroke="#fff" stroke-width="1.2"/>
<text x="882.0" y="1078.0">q75</text>
<text x="882.0" y="1132.0">q50</text>
<text x="882.0" y="1187.0">q25</text>
<text x="842.0" y="1121.0" text-anchor="middle" transform="rotate(-90 842.0 1121.0)">Cell proportion</text>
<rect x="121.0" y="803.5" width="200.0" height="199.5" fill="#e2e2e2"/>
<path d="M185 893L186 915L184 937L180 954L174 966L167 969L161 975L155 988L148 987L141 983L137 965L131 952L127 936L126 914L124 893L126 873L131 857L133 839L136 817L141 804L148 804L155 804L161 805L167 815L173 823L178 836L181 853L183 873Z" fill="#d6d0dc"/>
<path d="M242 923L248 942L245 960L238 974L228 982L220 990L211 996L201 998L192 993L183 988L175 980L165 973L156 960L152 942L156 923L161 907L166 894L170 881L175 867L181 853L191 848L201 847L211 844L221 852L229 862L234 878L236 895L239 908Z" fill="#d6d0dc"/>
<path d="M317 907L315 924L310 939L305 953L300 968L291 972L283 976L275 983L266 983L256 982L248 971L243 956L241 938L238 923L235 907L236 890L238 874L243 859L251 849L257 835L266 829L275 830L283 838L292 842L298 852L306 860L313 872L317 889Z" fill="#d6d0dc"/>
<path d="M201 856h0M218 862h0M271 861h0M214 868h0M267 867h0M223 873h0M285 885h0M177 897h0M211 896h0M224 896h0M231 897h0M297 896h0M174 902h0M210 909h0M275 914h0M197 920h0M161 938h0M181 936h0M153 949h0M164 954h0M198 954h0M210 955h0M225 955h0M231 955h0M244 955h0M160 961h0M164 967h0M211 978h0M180 984h0M195 983h0M207 995h0" stroke="#fdf7b0" stroke-width="6.1" stroke-linecap="round"/>
<path d="M180 868h0M231 873h0M204 884h0M231 885h0M174 891h0M221 891h0M177 908h0M175 926h0M187 926h0M164 931h0M241 938h0M163 943h0M214 949h0M194 961h0M201 961h0M227 960h0M234 960h0M241 961h0M211 967h0M217 965h0M230 966h0" stroke="#fde08a" stroke-width="6.1" stroke-linecap="round"/>
<path d="M204 849h0M290 850h0M208 868h0M148 891h0M254 902h0M174 914h0M203 920h0M217 931h0M258 931h0M170 943h0M217 942h0M222 948h0M268 949h0M137 954h0M191 955h0M167 960h0M171 966h0M203 967h0M197 989h0" stroke="#a9dba0" stroke-width="6.1" stroke-linecap="round"/>
<path d="M158 838h0M164 885h0M184 886h0M198 897h0M158 966h0M187 983h0M221 984h0" stroke="#5fbfa6" stroke-width="6.1" stroke-linecap="round"/>
<path d="M268 844h0M198 850h0M210 850h0M217 850h0M214 855h0M301 856h0M184 862h0M177 874h0M190 873h0M181 879h0M214 879h0M228 879h0M308 879h0M217 885h0M264 885h0M207 890h0M205 896h0M195 902h0M207 902h0M294 903h0M163 909h0M167 915h0M208 913h0M211 919h0M244 920h0M285 919h0M194 925h0M214 926h0M228 925h0M204 932h0M211 931h0M271 932h0M281 949h0M250 955h0M271 954h0M213 961h0M247 960h0M267 961h0M295 960h0M298 967h0M173 972h0M181 972h0M220 973h0M255 971h0M217 978h0M213 983h0M201 995h0" stroke="#fdac5e" stroke-width="6.1" stroke-linecap="round"/>
<path d="M146 822h0M143 826h0M157 827h0M165 839h0M141 868h0M127 878h0M161 879h0M137 909h0M157 908h0M137 943h0M150 978h0" stroke="#3b7fb9" stroke-width="6.1" stroke-linecap="round"/>
<path d="M285 838h0M275 844h0M267 856h0M211 862h0M298 861h0M247 867h0M261 868h0M281 867h0M288 867h0M210 874h0M271 874h0M278 874h0M311 874h0M274 880h0M288 879h0M251 886h0M311 886h0M228 891h0M314 890h0M170 896h0M258 897h0M265 897h0M260 903h0M267 902h0M287 903h0M231 908h0M285 908h0M292 908h0M247 913h0M163 920h0M278 920h0M255 926h0M267 926h0M190 931h0M223 931h0M304 931h0M153 938h0M167 936h0M228 937h0M234 936h0M158 943h0M204 943h0M305 942h0M161 949h0M174 949h0M194 948h0M274 948h0M277 955h0M288 961h0M224 966h0M200 973h0M207 972h0M227 972h0M288 972h0M183 978h0M264 978h0M190 989h0" stroke="#f26a43" stroke-width="6.1" stroke-linecap="round"/>
<path d="M261 832h0M264 850h0M284 850h0M255 879h0M178 885h0M181 891h0M280 890h0M287 890h0M294 890h0M305 896h0M184 908h0M251 909h0M265 909h0M277 908h0M312 908h0M181 915h0M241 914h0M267 914h0M170 920h0M217 919h0M298 920h0M181 926h0M200 926h0M208 925h0M248 926h0M264 931h0M311 931h0M187 937h0M255 937h0M262 938h0M267 937h0M301 937h0M224 944h0M265 944h0M284 954h0M181 961h0M264 966h0M291 966h0M268 973h0" stroke="#d0364f" stroke-width="6.1" stroke-linecap="round"/>
<path d="M138 838h0M170 838h0M174 844h0M151 850h0M126 902h0M147 914h0M133 926h0M133 937h0M147 949h0M154 984h0" stroke="#5a4fa0" stroke-width="6.1" stroke-linecap="round"/>
<path d="M161 821h0M268 833h0M275 833h0M258 838h0M265 838h0M271 839h0M278 838h0M254 845h0M262 844h0M191 849h0M272 850h0M261 856h0M274 855h0M281 857h0M287 856h0M295 856h0M204 861h0M225 861h0M244 862h0M251 861h0M257 861h0M265 862h0M277 862h0M284 861h0M291 862h0M227 868h0M240 868h0M254 868h0M275 868h0M307 868h0M144 873h0M245 873h0M250 873h0M258 873h0M265 874h0M285 873h0M305 873h0M173 878h0M188 880h0M201 879h0M221 880h0M241 878h0M261 880h0M268 880h0M294 879h0M301 879h0M315 879h0M170 885h0M225 885h0M237 885h0M244 884h0M258 886h0M278 885h0M291 884h0M297 885h0M304 885h0M194 891h0M235 891h0M241 890h0M248 892h0M255 891h0M260 891h0M268 891h0M275 890h0M302 891h0M184 897h0M191 897h0M238 897h0M245 897h0M271 897h0M277 897h0M291 896h0M311 897h0M168 902h0M201 903h0M227 902h0M240 902h0M248 902h0M274 902h0M301 902h0M308 902h0M315 902h0M198 908h0M217 908h0M237 908h0M245 908h0M258 907h0M270 908h0M297 908h0M195 914h0M213 913h0M254 914h0M261 914h0M281 914h0M289 914h0M301 915h0M308 915h0M315 915h0M157 920h0M178 920h0M238 919h0M264 920h0M292 919h0M312 920h0M241 926h0M275 926h0M281 925h0M287 926h0M295 925h0M301 925h0M308 925h0M157 931h0M171 931h0M178 932h0M244 931h0M252 931h0M278 931h0M284 931h0M291 931h0M298 932h0M194 937h0M201 937h0M220 937h0M274 937h0M281 937h0M288 937h0M294 937h0M308 936h0M230 943h0M238 943h0M244 943h0M251 944h0M258 943h0M271 943h0M277 943h0M284 943h0M291 942h0M298 942h0M201 949h0M234 949h0M247 949h0M254 949h0M261 949h0M287 949h0M294 948h0M301 948h0M177 955h0M203 954h0M218 954h0M257 955h0M265 954h0M291 954h0M298 955h0M187 961h0M261 961h0M275 961h0M301 961h0M177 966h0M197 967h0M250 967h0M257 967h0M271 966h0M278 966h0M261 972h0M198 978h0M258 978h0M270 977h0M278 977h0M201 984h0" stroke="#a3104a" stroke-width="6.1" stroke-linecap="round"/>
<rect x="570.0" y="803.5" width="200.0" height="199.5" fill="#e2e2e2"/>
<path d="M634 883L635 903L633 922L629 938L623 948L616 951L610 957L604 968L597 967L590 963L586 948L580 936L576 921L575 902L573 883L575 865L580 851L582 835L585 816L590 804L597 804L604 804L610 804L616 813L622 821L627 832L630 848L632 865Z" fill="#d6d0dc"/>
<path d="M699 919L705 938L702 956L695 970L684 978L674 986L664 992L654 994L644 989L634 984L625 976L615 969L605 956L601 938L604 919L610 903L616 890L621 877L626 863L633 849L643 844L654 843L665 840L676 848L685 858L690 874L692 891L696 904Z" fill="#d6d0dc"/>
<path d="M766 907L764 924L759 939L754 953L750 968L742 972L734 976L726 983L717 983L708 982L701 971L695 956L694 938L691 923L688 907L689 890L691 874L696 859L703 849L709 835L717 829L726 830L734 838L742 842L748 852L756 860L763 872L766 889Z" fill="#d6d0dc"/>
<path d="M585 816h0M626 827h0M650 845h0M737 844h0M666 850h0M720 850h0M726 850h0M636 856h0M683 856h0M709 855h0M743 855h0M646 862h0M629 867h0M637 868h0M729 867h0M646 873h0M654 873h0M673 873h0M733 873h0M629 880h0M637 879h0M643 879h0M724 880h0M737 879h0M639 884h0M680 885h0M642 891h0M711 891h0M737 890h0M580 897h0M613 896h0M619 896h0M687 896h0M700 896h0M636 902h0M642 902h0M649 902h0M684 903h0M703 902h0M757 902h0M763 902h0M652 908h0M672 909h0M686 908h0M728 908h0M754 908h0M650 914h0M676 914h0M697 914h0M710 914h0M627 920h0M633 920h0M667 920h0M680 920h0M733 921h0M684 925h0M697 925h0M711 926h0M730 926h0M580 932h0M587 932h0M620 932h0M646 932h0M659 932h0M666 932h0M753 931h0M636 937h0M751 938h0M619 942h0M707 943h0M713 942h0M684 949h0M709 949h0M730 950h0M619 954h0M687 955h0M733 954h0M636 960h0M663 961h0M669 960h0M744 960h0M750 960h0M619 966h0M633 966h0M647 966h0M636 973h0M684 972h0M633 978h0M639 977h0M647 978h0M664 983h0" stroke="#fdf7b0" stroke-width="6.1" stroke-linecap="round"/>
<path d="M664 845h0M653 862h0M727 862h0M644 868h0M664 868h0M669 868h0M683 868h0M633 873h0M679 873h0M746 874h0M743 878h0M758 880h0M674 886h0M706 885h0M720 886h0M746 885h0M637 890h0M757 890h0M633 896h0M616 902h0M717 903h0M723 902h0M659 909h0M714 909h0M644 914h0M684 914h0M723 914h0M730 914h0M620 919h0M646 920h0M649 926h0M656 926h0M717 926h0M737 925h0M670 938h0M677 937h0M683 937h0M689 937h0M613 943h0M626 942h0M680 943h0M734 943h0M624 948h0M642 948h0M662 948h0M607 954h0M707 954h0M719 955h0M644 961h0M704 961h0M716 961h0M639 966h0M686 966h0M721 966h0M657 972h0M659 990h0" stroke="#fde08a" stroke-width="6.1" stroke-linecap="round"/>
<path d="M716 832h0M672 850h0M657 856h0M660 862h0M716 867h0M589 879h0M683 879h0M690 879h0M763 880h0M599 884h0M760 885h0M583 891h0M751 891h0M689 903h0M736 902h0M623 914h0M660 920h0M630 926h0M693 931h0M721 931h0M726 931h0M640 943h0M636 949h0M646 955h0M693 955h0M629 971h0M663 972h0M689 972h0M717 972h0M714 978h0M653 989h0" stroke="#a9dba0" stroke-width="6.1" stroke-linecap="round"/>
<path d="M717 855h0M733 861h0M734 885h0M724 892h0M693 896h0M733 896h0M694 908h0M669 925h0M726 954h0M727 966h0M670 983h0" stroke="#5fbfa6" stroke-width="6.1" stroke-linecap="round"/>
<path d="M620 815h0M629 832h0M714 838h0M616 844h0M670 845h0M633 850h0M640 851h0M642 855h0M649 856h0M703 856h0M585 861h0M700 862h0M650 868h0M656 868h0M703 867h0M723 868h0M627 874h0M686 873h0M700 874h0M720 874h0M759 873h0M676 879h0M717 879h0M750 879h0M580 885h0M666 884h0M727 885h0M754 884h0M589 890h0M609 891h0M649 891h0M719 897h0M663 902h0M670 902h0M710 903h0M700 907h0M664 914h0M716 915h0M653 920h0M740 920h0M747 920h0M754 920h0M761 920h0M644 926h0M664 926h0M690 925h0M653 932h0M681 931h0M617 937h0M723 938h0M743 937h0M758 938h0M607 944h0M659 944h0M687 942h0M700 944h0M726 942h0M747 942h0M650 949h0M724 949h0M626 955h0M660 954h0M609 960h0M630 960h0M697 961h0M737 960h0M667 967h0M680 966h0M694 967h0M741 966h0M637 983h0" stroke="#fdac5e" stroke-width="6.1" stroke-linecap="round"/>
<path d="M753 897h0" stroke="#3b7fb9" stroke-width="6.1" stroke-linecap="round"/>
<path d="M734 838h0M707 850h0M677 856h0M747 862h0M753 861h0M696 868h0M710 867h0M707 874h0M669 890h0M691 890h0M697 890h0M730 891h0M626 897h0M640 896h0M647 897h0M674 897h0M633 908h0M646 909h0M734 908h0M617 913h0M670 914h0M704 914h0M763 913h0M613 920h0M750 926h0M607 931h0M639 931h0M700 931h0M714 931h0M747 931h0M603 937h0M664 937h0M697 938h0M703 937h0M736 937h0M646 943h0M741 943h0M689 948h0M700 955h0M713 954h0M731 960h0M627 966h0M660 966h0M700 966h0M747 967h0M622 972h0M650 973h0M704 971h0M731 972h0M737 972h0M707 978h0M728 977h0M676 984h0" stroke="#f26a43" stroke-width="6.1" stroke-linecap="round"/>
<path d="M750 867h0M713 885h0M740 884h0M707 896h0M713 896h0M749 903h0M721 908h0M744 914h0M704 925h0M750 949h0" stroke="#d0364f" stroke-width="6.1" stroke-linecap="round"/>
<path d="M596 809h0M579 816h0M614 815h0M576 821h0M590 821h0M624 822h0M606 827h0M576 833h0M582 833h0M589 833h0M596 832h0M593 839h0M613 839h0M602 845h0M710 845h0M620 850h0M660 850h0M592 862h0M606 862h0M620 862h0M713 861h0M720 861h0M586 873h0M630 890h0M704 890h0M743 891h0M741 896h0M743 903h0M666 908h0M761 908h0M596 914h0M690 914h0M737 914h0M750 913h0M687 919h0M693 920h0M707 920h0M724 926h0M744 925h0M632 932h0M687 932h0M734 931h0M716 938h0M629 948h0M717 948h0M753 954h0M710 960h0M713 966h0M724 972h0" stroke="#a3104a" stroke-width="6.1" stroke-linecap="round"/>
<rect x="121.0" y="1015.0" width="200.0" height="200.0" fill="#e2e2e2"/>
<path d="M127 1021L221 1019L315 1023L315 1115L311 1195L281 1205L231 1213L181 1209L131 1205L125 1115Z" fill="#d6d0dc"/>
<path d="M126 1032h0M307 1033h0M244 1038h0M258 1039h0M298 1038h0M167 1044h0M187 1044h0M315 1044h0M193 1057h0M267 1055h0M281 1057h0M294 1056h0M301 1056h0M175 1067h0M194 1068h0M197 1073h0M166 1080h0M175 1078h0M234 1078h0M288 1079h0M277 1085h0M207 1091h0M248 1091h0M314 1091h0M285 1096h0M144 1109h0M235 1113h0M260 1114h0M144 1119h0M204 1120h0M245 1120h0M194 1125h0M221 1125h0M201 1137h0M254 1137h0M268 1136h0M157 1143h0M291 1143h0M181 1148h0M294 1149h0M302 1148h0M260 1160h0M274 1160h0M225 1166h0M258 1166h0M271 1165h0M278 1165h0M292 1167h0M298 1167h0M304 1167h0M247 1173h0M254 1172h0M261 1172h0M267 1171h0M312 1178h0M166 1183h0M234 1183h0M255 1184h0M301 1184h0M244 1189h0M270 1189h0M312 1189h0M133 1194h0M261 1195h0M307 1194h0M198 1202h0M211 1202h0M244 1202h0" stroke="#fdf7b0" stroke-width="6.1" stroke-linecap="round"/>
<path d="M251 1026h0M285 1026h0M248 1055h0M252 1062h0M260 1068h0M311 1073h0M251 1085h0M302 1091h0M271 1097h0M255 1114h0M258 1120h0M265 1120h0M304 1119h0M271 1132h0M288 1136h0M298 1155h0M284 1189h0M288 1195h0M257 1202h0" stroke="#fde08a" stroke-width="6.1" stroke-linecap="round"/>
<path d="M268 1021h0M267 1033h0M177 1039h0M224 1038h0M301 1045h0M180 1055h0M235 1055h0M294 1068h0M150 1073h0M264 1073h0M271 1072h0M281 1091h0M143 1096h0M258 1097h0M291 1096h0M251 1108h0M298 1107h0M228 1114h0M297 1119h0M197 1131h0M140 1137h0M167 1137h0M167 1160h0M264 1166h0M180 1183h0M251 1189h0M180 1195h0M254 1194h0" stroke="#a9dba0" stroke-width="6.1" stroke-linecap="round"/>
<path d="M184 1027h0M278 1026h0M304 1027h0M281 1033h0M315 1032h0M140 1045h0M271 1049h0M258 1062h0M291 1061h0M268 1079h0M138 1085h0M131 1097h0M184 1109h0M284 1108h0M184 1120h0M274 1126h0M305 1143h0M268 1149h0M288 1149h0M230 1155h0M291 1155h0M254 1160h0M301 1160h0M278 1177h0M260 1183h0M140 1196h0" stroke="#5fbfa6" stroke-width="6.1" stroke-linecap="round"/>
<path d="M248 1022h0M176 1027h0M244 1027h0M258 1027h0M291 1027h0M134 1032h0M201 1033h0M144 1039h0M171 1039h0M311 1038h0M174 1044h0M275 1045h0M280 1045h0M309 1044h0M230 1050h0M265 1050h0M285 1050h0M134 1057h0M288 1056h0M143 1062h0M150 1062h0M171 1061h0M217 1061h0M284 1061h0M298 1062h0M312 1061h0M308 1067h0M315 1068h0M184 1073h0M191 1073h0M244 1074h0M251 1074h0M284 1073h0M160 1079h0M302 1079h0M197 1084h0M312 1085h0M167 1091h0M173 1091h0M262 1090h0M287 1091h0M295 1091h0M157 1096h0M190 1096h0M252 1096h0M277 1097h0M302 1103h0M137 1108h0M158 1109h0M231 1107h0M277 1109h0M305 1107h0M133 1114h0M214 1113h0M282 1115h0M224 1120h0M278 1119h0M141 1126h0M160 1125h0M174 1125h0M261 1126h0M268 1126h0M164 1131h0M278 1131h0M312 1132h0M127 1138h0M150 1142h0M190 1142h0M278 1143h0M244 1155h0M193 1160h0M241 1161h0M247 1160h0M157 1167h0M161 1172h0M174 1172h0M302 1171h0M156 1178h0M211 1178h0M258 1178h0M240 1183h0M268 1184h0M282 1195h0M248 1206h0" stroke="#fdac5e" stroke-width="6.1" stroke-linecap="round"/>
<path d="M194 1021h0M163 1026h0M298 1027h0M181 1032h0M304 1039h0M261 1045h0M268 1044h0M288 1044h0M190 1050h0M258 1050h0M312 1050h0M272 1062h0M308 1078h0M218 1096h0M297 1096h0M244 1109h0M291 1108h0M292 1120h0M281 1126h0M307 1125h0M297 1131h0M302 1138h0M160 1149h0M281 1161h0M247 1184h0M148 1194h0M271 1201h0" stroke="#3b7fb9" stroke-width="6.1" stroke-linecap="round"/>
<path d="M161 1021h0M235 1020h0M241 1021h0M137 1026h0M230 1027h0M270 1027h0M248 1032h0M294 1033h0M198 1038h0M154 1044h0M193 1045h0M207 1044h0M234 1044h0M241 1045h0M247 1044h0M255 1043h0M144 1051h0M151 1049h0M204 1050h0M211 1049h0M298 1050h0M188 1056h0M160 1068h0M301 1067h0M170 1073h0M204 1073h0M237 1073h0M291 1073h0M185 1097h0M147 1102h0M168 1102h0M174 1102h0M235 1102h0M261 1103h0M294 1102h0M171 1108h0M190 1108h0M188 1114h0M247 1114h0M268 1113h0M315 1114h0M155 1126h0M136 1132h0M218 1132h0M187 1136h0M144 1143h0M163 1142h0M170 1143h0M251 1144h0M141 1148h0M170 1154h0M177 1155h0M197 1155h0M217 1154h0M285 1155h0M235 1160h0M197 1166h0M218 1165h0M251 1166h0M311 1166h0M140 1173h0M208 1172h0M288 1172h0M143 1177h0M231 1177h0M173 1183h0M201 1184h0M215 1183h0M227 1184h0M294 1183h0M178 1190h0M278 1190h0M298 1190h0M167 1195h0M228 1195h0M234 1195h0M241 1195h0M248 1195h0M136 1201h0M217 1201h0M181 1207h0M214 1207h0" stroke="#f26a43" stroke-width="6.1" stroke-linecap="round"/>
<path d="M127 1022h0M130 1027h0M143 1026h0M151 1027h0M185 1039h0M201 1045h0M214 1043h0M184 1051h0M227 1056h0M191 1061h0M187 1067h0M221 1067h0M130 1073h0M178 1074h0M218 1073h0M224 1073h0M188 1079h0M224 1085h0M194 1091h0M164 1096h0M237 1097h0M161 1103h0M193 1103h0M207 1103h0M227 1103h0M177 1120h0M133 1126h0M200 1125h0M207 1125h0M151 1131h0M198 1144h0M214 1160h0M144 1166h0M150 1166h0M170 1167h0M150 1178h0M141 1183h0M154 1183h0M161 1183h0M158 1189h0M164 1190h0M197 1190h0M187 1195h0M174 1207h0" stroke="#d0364f" stroke-width="6.1" stroke-linecap="round"/>
<path d="M261 1021h0M274 1032h0M308 1056h0M265 1062h0M257 1085h0M275 1090h0M265 1096h0M257 1108h0M275 1114h0M241 1125h0M244 1167h0M275 1183h0" stroke="#5a4fa0" stroke-width="6.1" stroke-linecap="round"/>
<path d="M133 1021h0M140 1021h0M148 1021h0M153 1022h0M174 1021h0M180 1021h0M187 1022h0M201 1021h0M207 1021h0M214 1020h0M220 1021h0M228 1022h0M157 1026h0M170 1027h0M190 1027h0M204 1027h0M211 1026h0M217 1026h0M225 1027h0M237 1027h0M146 1032h0M154 1033h0M167 1033h0M174 1032h0M187 1032h0M195 1032h0M207 1033h0M221 1033h0M227 1033h0M234 1032h0M150 1038h0M156 1039h0M164 1039h0M191 1038h0M204 1038h0M210 1038h0M237 1038h0M128 1044h0M134 1044h0M146 1044h0M160 1044h0M181 1044h0M221 1044h0M228 1044h0M130 1051h0M136 1051h0M157 1051h0M164 1050h0M171 1049h0M177 1049h0M197 1050h0M217 1050h0M224 1050h0M237 1050h0M128 1056h0M140 1056h0M148 1056h0M154 1056h0M161 1056h0M167 1056h0M174 1056h0M201 1056h0M208 1056h0M215 1055h0M221 1056h0M240 1056h0M255 1055h0M274 1055h0M314 1056h0M138 1062h0M157 1062h0M164 1061h0M178 1061h0M183 1061h0M197 1061h0M204 1061h0M210 1061h0M225 1062h0M237 1061h0M244 1062h0M127 1067h0M148 1068h0M154 1067h0M168 1067h0M181 1068h0M207 1068h0M213 1068h0M227 1067h0M235 1067h0M288 1068h0M144 1073h0M158 1073h0M164 1074h0M211 1073h0M231 1074h0M258 1074h0M128 1079h0M141 1079h0M147 1079h0M153 1078h0M180 1080h0M201 1079h0M207 1079h0M228 1080h0M241 1080h0M248 1078h0M294 1079h0M131 1086h0M150 1084h0M157 1085h0M163 1086h0M171 1085h0M177 1084h0M184 1085h0M190 1084h0M217 1085h0M232 1085h0M140 1091h0M147 1091h0M154 1091h0M181 1090h0M187 1090h0M201 1091h0M214 1091h0M220 1090h0M228 1091h0M234 1090h0M241 1091h0M136 1096h0M151 1096h0M178 1097h0M198 1097h0M204 1097h0M211 1097h0M224 1097h0M231 1097h0M245 1097h0M304 1096h0M126 1103h0M134 1101h0M141 1102h0M154 1103h0M188 1101h0M201 1102h0M213 1103h0M221 1102h0M240 1102h0M315 1102h0M131 1108h0M151 1108h0M164 1109h0M197 1109h0M205 1108h0M211 1108h0M218 1108h0M225 1107h0M238 1109h0M127 1113h0M140 1113h0M153 1113h0M161 1114h0M168 1113h0M174 1114h0M181 1113h0M194 1115h0M201 1114h0M302 1113h0M130 1119h0M137 1120h0M157 1120h0M163 1119h0M171 1120h0M190 1120h0M218 1120h0M232 1119h0M237 1120h0M271 1120h0M284 1120h0M128 1125h0M147 1126h0M167 1126h0M180 1126h0M227 1125h0M288 1125h0M295 1126h0M130 1131h0M144 1132h0M157 1132h0M171 1132h0M178 1132h0M183 1131h0M191 1132h0M204 1131h0M211 1131h0M231 1131h0M237 1131h0M133 1137h0M160 1137h0M174 1137h0M181 1137h0M194 1137h0M207 1137h0M214 1136h0M220 1138h0M228 1138h0M234 1138h0M248 1137h0M260 1137h0M275 1136h0M281 1138h0M130 1143h0M137 1143h0M178 1143h0M184 1143h0M204 1142h0M211 1143h0M224 1142h0M238 1144h0M298 1142h0M312 1143h0M134 1148h0M147 1148h0M154 1149h0M174 1149h0M187 1148h0M194 1149h0M200 1148h0M214 1149h0M221 1149h0M234 1149h0M131 1154h0M137 1155h0M150 1155h0M185 1155h0M191 1154h0M211 1155h0M225 1155h0M251 1155h0M133 1161h0M141 1161h0M147 1161h0M154 1161h0M160 1160h0M174 1161h0M180 1160h0M201 1160h0M208 1160h0M220 1160h0M227 1161h0M131 1165h0M136 1165h0M163 1166h0M177 1167h0M185 1166h0M204 1166h0M231 1167h0M237 1166h0M133 1172h0M148 1172h0M154 1171h0M168 1171h0M180 1171h0M188 1171h0M194 1172h0M201 1172h0M214 1172h0M221 1172h0M227 1171h0M234 1171h0M280 1172h0M137 1178h0M164 1178h0M170 1178h0M177 1177h0M184 1177h0M197 1178h0M224 1177h0M238 1177h0M291 1178h0M187 1184h0M193 1183h0M207 1184h0M220 1183h0M288 1184h0M131 1189h0M136 1189h0M144 1190h0M150 1189h0M171 1189h0M183 1189h0M191 1189h0M204 1189h0M210 1189h0M224 1189h0M230 1190h0M237 1189h0M305 1189h0M153 1196h0M160 1194h0M174 1195h0M193 1195h0M201 1196h0M208 1196h0M214 1195h0M221 1196h0M302 1195h0M151 1201h0M157 1200h0M164 1201h0M171 1200h0M184 1201h0M191 1201h0M204 1200h0M224 1201h0M231 1201h0M238 1201h0M153 1206h0M160 1207h0M168 1206h0M188 1207h0M194 1206h0M201 1206h0M208 1207h0M221 1207h0" stroke="#a3104a" stroke-width="6.1" stroke-linecap="round"/>
<rect x="570.0" y="1015.0" width="200.0" height="200.0" fill="#e2e2e2"/>
<path d="M576 1021L670 1019L764 1023L764 1115L760 1195L730 1205L680 1213L630 1209L580 1205L574 1115Z" fill="#d6d0dc"/>
<path d="M583 1021h0M597 1021h0M616 1021h0M643 1021h0M650 1021h0M664 1020h0M670 1020h0M676 1021h0M690 1021h0M710 1021h0M586 1027h0M592 1027h0M607 1027h0M612 1026h0M666 1026h0M686 1026h0M694 1026h0M700 1027h0M713 1027h0M637 1033h0M669 1033h0M677 1032h0M683 1033h0M690 1033h0M703 1033h0M717 1033h0M723 1033h0M730 1032h0M600 1039h0M606 1039h0M613 1038h0M626 1038h0M646 1039h0M693 1039h0M706 1038h0M727 1038h0M754 1038h0M575 1045h0M583 1044h0M615 1045h0M650 1044h0M656 1044h0M669 1045h0M683 1045h0M580 1049h0M626 1050h0M639 1051h0M673 1050h0M720 1051h0M733 1051h0M741 1050h0M597 1056h0M623 1055h0M636 1056h0M670 1056h0M683 1055h0M717 1056h0M724 1055h0M729 1055h0M593 1061h0M599 1061h0M613 1062h0M626 1062h0M633 1061h0M660 1062h0M667 1061h0M699 1062h0M727 1062h0M734 1062h0M753 1061h0M761 1062h0M582 1067h0M596 1067h0M609 1068h0M662 1068h0M670 1067h0M677 1067h0M696 1068h0M717 1067h0M737 1068h0M764 1067h0M579 1073h0M586 1072h0M593 1073h0M600 1073h0M619 1073h0M687 1073h0M720 1074h0M747 1073h0M582 1079h0M589 1080h0M595 1078h0M629 1080h0M636 1079h0M676 1079h0M683 1080h0M690 1078h0M764 1079h0M600 1085h0M640 1085h0M654 1085h0M667 1086h0M673 1085h0M694 1085h0M713 1084h0M746 1085h0M761 1085h0M576 1091h0M589 1090h0M597 1090h0M664 1091h0M669 1090h0M683 1091h0M690 1091h0M717 1091h0M723 1091h0M744 1091h0M751 1091h0M579 1096h0M585 1097h0M606 1096h0M612 1096h0M619 1097h0M653 1097h0M666 1096h0M679 1096h0M687 1096h0M693 1096h0M747 1096h0M583 1102h0M589 1102h0M596 1103h0M623 1102h0M650 1102h0M703 1102h0M709 1102h0M750 1102h0M757 1102h0M764 1103h0M586 1109h0M633 1108h0M707 1108h0M720 1108h0M727 1107h0M734 1108h0M740 1108h0M576 1113h0M610 1113h0M757 1114h0M619 1119h0M633 1120h0M694 1120h0M699 1119h0M714 1119h0M734 1119h0M754 1120h0M583 1126h0M603 1125h0M600 1132h0M634 1132h0M639 1131h0M759 1132h0M643 1136h0M586 1143h0M592 1143h0M686 1143h0M700 1142h0M713 1143h0M727 1143h0M734 1143h0M740 1142h0M703 1148h0M724 1149h0M580 1155h0M633 1154h0M660 1155h0M720 1154h0M676 1160h0M684 1160h0M690 1160h0M696 1161h0M606 1166h0M627 1167h0M653 1166h0M673 1166h0M700 1166h0M714 1166h0M617 1172h0M670 1171h0M684 1173h0M703 1171h0M710 1172h0M724 1172h0M586 1178h0M607 1178h0M659 1178h0M679 1178h0M700 1178h0M726 1178h0M583 1184h0M609 1183h0M623 1184h0M710 1184h0M592 1189h0M627 1189h0M653 1189h0M660 1190h0M680 1189h0M713 1189h0M721 1190h0M734 1189h0M582 1196h0M603 1196h0M623 1195h0M629 1196h0M649 1195h0M683 1195h0M690 1196h0M600 1201h0M632 1201h0M653 1202h0M609 1206h0M636 1206h0M684 1207h0M690 1207h0M696 1207h0" stroke="#fdf7b0" stroke-width="6.1" stroke-linecap="round"/>
<path d="M656 1021h0M683 1021h0M580 1026h0M633 1028h0M640 1027h0M680 1027h0M582 1033h0M589 1032h0M629 1033h0M763 1032h0M586 1038h0M633 1039h0M652 1039h0M666 1039h0M673 1038h0M699 1038h0M714 1039h0M760 1038h0M677 1044h0M690 1045h0M697 1045h0M710 1045h0M619 1050h0M699 1050h0M727 1050h0M754 1050h0M617 1055h0M656 1055h0M676 1055h0M579 1062h0M647 1062h0M686 1061h0M721 1061h0M747 1062h0M657 1067h0M703 1067h0M606 1073h0M634 1073h0M646 1073h0M666 1073h0M609 1079h0M616 1079h0M649 1078h0M670 1079h0M696 1080h0M717 1079h0M730 1080h0M744 1079h0M593 1084h0M607 1085h0M614 1085h0M660 1084h0M700 1085h0M726 1084h0M623 1091h0M637 1091h0M650 1091h0M731 1091h0M599 1096h0M659 1096h0M714 1097h0M734 1097h0M741 1096h0M753 1096h0M663 1103h0M724 1102h0M731 1103h0M580 1108h0M594 1108h0M760 1108h0M703 1114h0M723 1113h0M730 1114h0M744 1115h0M677 1125h0M709 1126h0M736 1125h0M743 1125h0M694 1132h0M753 1131h0M677 1137h0M684 1136h0M680 1143h0M589 1149h0M670 1148h0M676 1148h0M690 1149h0M697 1149h0M716 1148h0M737 1148h0M750 1148h0M714 1154h0M599 1166h0M694 1166h0M760 1165h0M663 1171h0M676 1171h0M696 1172h0M730 1172h0M580 1178h0M600 1177h0M589 1184h0M604 1183h0M650 1183h0M670 1184h0M677 1183h0M704 1183h0M724 1183h0M586 1190h0M597 1194h0M610 1196h0M637 1194h0M644 1195h0M677 1196h0M697 1196h0M730 1195h0M592 1201h0M627 1201h0M646 1201h0M674 1200h0M721 1201h0M726 1201h0M650 1207h0M711 1207h0" stroke="#fde08a" stroke-width="6.1" stroke-linecap="round"/>
<path d="M576 1022h0M589 1021h0M603 1020h0M609 1021h0M717 1021h0M673 1026h0M734 1027h0M576 1032h0M603 1032h0M656 1033h0M697 1033h0M709 1032h0M750 1033h0M640 1038h0M659 1039h0M681 1038h0M734 1039h0M747 1038h0M603 1044h0M623 1045h0M717 1044h0M723 1044h0M731 1044h0M605 1050h0M666 1050h0M680 1050h0M630 1055h0M644 1055h0M649 1055h0M690 1057h0M696 1056h0M703 1057h0M709 1056h0M744 1056h0M764 1056h0M586 1061h0M679 1061h0M740 1062h0M617 1067h0M623 1067h0M642 1068h0M689 1068h0M730 1067h0M757 1068h0M640 1074h0M660 1073h0M673 1073h0M713 1072h0M624 1079h0M643 1080h0M710 1079h0M757 1079h0M579 1085h0M627 1085h0M633 1085h0M681 1085h0M706 1085h0M583 1091h0M676 1091h0M703 1090h0M710 1091h0M736 1090h0M764 1091h0M633 1096h0M647 1096h0M673 1097h0M700 1096h0M707 1096h0M760 1096h0M716 1102h0M579 1120h0M740 1119h0M760 1120h0M757 1126h0M714 1131h0M576 1138h0M670 1137h0M730 1149h0M743 1148h0M593 1154h0M700 1154h0M733 1155h0M589 1160h0M593 1166h0M686 1166h0M721 1166h0M593 1178h0M673 1177h0M720 1178h0M656 1184h0M607 1189h0M673 1189h0M687 1189h0M590 1196h0M587 1200h0M613 1201h0M660 1200h0M700 1201h0M630 1206h0M656 1206h0" stroke="#a9dba0" stroke-width="6.1" stroke-linecap="round"/>
<path d="M646 1027h0M643 1033h0M756 1033h0M740 1039h0M589 1045h0M582 1056h0M602 1056h0M577 1067h0M613 1072h0M653 1073h0M707 1074h0M703 1078h0M603 1091h0M629 1091h0M719 1096h0M727 1096h0M754 1109h0M723 1138h0M693 1155h0M681 1200h0M643 1207h0M703 1206h0" stroke="#5fbfa6" stroke-width="6.1" stroke-linecap="round"/>
<path d="M619 1026h0M626 1027h0M653 1026h0M707 1027h0M740 1028h0M649 1033h0M744 1032h0M579 1038h0M643 1044h0M736 1044h0M756 1043h0M763 1044h0M592 1050h0M612 1049h0M660 1050h0M609 1055h0M663 1056h0M756 1055h0M607 1062h0M684 1067h0M733 1073h0M724 1079h0M619 1085h0M740 1085h0M616 1102h0M656 1102h0M736 1102h0M750 1113h0M652 1120h0M679 1120h0M687 1120h0M721 1120h0M727 1119h0M747 1119h0M577 1125h0M597 1126h0M650 1125h0M663 1125h0M683 1125h0M690 1126h0M703 1126h0M724 1125h0M579 1131h0M585 1131h0M626 1131h0M646 1132h0M701 1132h0M720 1131h0M734 1131h0M609 1137h0M636 1137h0M710 1137h0M729 1138h0M744 1137h0M750 1137h0M639 1143h0M719 1143h0M747 1143h0M616 1148h0M657 1149h0M683 1148h0M711 1149h0M757 1148h0M666 1155h0M687 1155h0M727 1154h0M754 1154h0M602 1160h0M723 1161h0M731 1160h0M613 1166h0M660 1167h0M706 1165h0M727 1167h0M602 1172h0M610 1171h0M630 1172h0M636 1172h0M649 1172h0M656 1172h0M689 1172h0M627 1178h0M647 1177h0M666 1178h0M693 1177h0M706 1178h0M663 1184h0M730 1184h0M580 1189h0M646 1189h0M700 1190h0M617 1196h0M664 1196h0M710 1195h0M707 1201h0M733 1200h0M663 1207h0" stroke="#fdac5e" stroke-width="6.1" stroke-linecap="round"/>
<path d="M630 1021h0M617 1033h0M585 1050h0M713 1049h0M693 1061h0M649 1067h0M680 1074h0M699 1073h0M586 1085h0M639 1096h0" stroke="#3b7fb9" stroke-width="6.1" stroke-linecap="round"/>
<path d="M629 1103h0M612 1108h0M654 1108h0M643 1113h0M764 1113h0M586 1119h0M612 1119h0M640 1120h0M673 1120h0M610 1126h0M616 1125h0M697 1125h0M750 1125h0M679 1131h0M590 1137h0M597 1137h0M629 1137h0M716 1138h0M758 1137h0M579 1142h0M627 1143h0M632 1143h0M667 1143h0M754 1143h0M583 1148h0M630 1148h0M587 1154h0M600 1154h0M620 1155h0M640 1154h0M646 1154h0M673 1155h0M616 1161h0M629 1160h0M643 1160h0M663 1161h0M710 1160h0M737 1160h0M741 1167h0M590 1172h0M596 1172h0M687 1178h0M733 1178h0M740 1178h0M616 1183h0M629 1184h0M642 1184h0M690 1184h0M737 1183h0M619 1189h0M632 1190h0M694 1189h0M706 1190h0M761 1190h0M639 1201h0M741 1201h0M716 1206h0" stroke="#f26a43" stroke-width="6.1" stroke-linecap="round"/>
<path d="M640 1107h0M646 1108h0M660 1109h0M657 1114h0M670 1114h0M600 1120h0M606 1119h0M666 1120h0M619 1131h0M659 1132h0M602 1137h0M664 1136h0M600 1143h0M659 1142h0M627 1154h0M653 1155h0M639 1167h0M623 1172h0M643 1173h0M613 1177h0M640 1178h0" stroke="#d0364f" stroke-width="6.1" stroke-linecap="round"/>
<path d="M636 1103h0M643 1102h0M669 1102h0M676 1102h0M684 1103h0M690 1103h0M696 1102h0M619 1109h0M627 1109h0M667 1108h0M673 1108h0M681 1109h0M686 1108h0M694 1107h0M700 1107h0M597 1114h0M616 1114h0M630 1114h0M636 1114h0M663 1114h0M677 1113h0M683 1113h0M690 1114h0M696 1114h0M593 1120h0M589 1126h0M624 1126h0M629 1125h0M643 1126h0M656 1125h0M716 1125h0M593 1132h0M606 1131h0M653 1131h0M667 1132h0M616 1137h0M623 1137h0M650 1138h0M656 1137h0M696 1137h0M606 1143h0M620 1143h0M646 1143h0M596 1149h0M603 1149h0M623 1149h0M643 1149h0M649 1149h0M663 1149h0M605 1154h0M612 1155h0M741 1154h0M748 1154h0M760 1154h0M610 1160h0M623 1160h0M636 1160h0M657 1160h0M703 1161h0M743 1161h0M750 1160h0M620 1166h0M632 1166h0M647 1166h0M748 1167h0M737 1171h0M744 1172h0M750 1172h0M757 1172h0M619 1177h0M633 1178h0M747 1178h0M753 1178h0M761 1178h0M637 1183h0M744 1183h0M750 1184h0M756 1184h0M740 1190h0M748 1190h0M736 1195h0M743 1196h0M750 1195h0M757 1195h0M713 1200h0M623 1206h0" stroke="#a3104a" stroke-width="6.1" stroke-linecap="round"/>
<rect x="121.0" y="1240.0" width="200.0" height="199.0" fill="#f6f5f7"/>
<path d="M121 1264L151 1256L181 1244L231 1244L257 1270L271 1310L245 1343L221 1359L185 1349L151 1330L121 1320Z" fill="#d0cde6"/>
<path d="M221 1240L311 1250L321 1280L321 1330L301 1359L271 1330L257 1270Z" fill="#e8d3de"/>
<path d="M181 1340L245 1340L241 1383L191 1383Z" fill="#dcd9ec"/>
<path d="M121 1395L151 1379L201 1371L241 1383L291 1383L321 1379L321 1433L241 1439L161 1439L121 1429Z" fill="#c8c3df"/>
<rect x="121.0" y="1240.0" width="200.0" height="199.0" fill="#fff" filter="url(#th1)" opacity="0.4"/>
<path d="M248 1245h0M305 1263h0M315 1268h0M305 1275h0M126 1281h0M282 1281h0M308 1281h0M200 1292h0M277 1298h0M297 1298h0M220 1305h0M285 1310h0M221 1316h0M241 1327h0M302 1327h0M308 1339h0M298 1344h0M204 1369h0M261 1397h0M264 1402h0M180 1431h0M275 1247h0M271 1252h0" stroke="#2e2a40" stroke-width="7.6" stroke-linecap="round"/>
<path d="M247.7 1245.3h0M305.0 1263.4h0M315.3 1268.4h0M305.1 1275.4h0M126.3 1281.2h0M281.9 1280.6h0M308.4 1281.2h0M200.4 1292.2h0M277.0 1298.4h0M297.2 1297.9h0M220.1 1304.7h0M284.5 1310.0h0M221.0 1315.8h0M241.0 1327.4h0M301.7 1327.2h0M308.1 1338.7h0M297.8 1344.2h0M203.8 1368.5h0M260.9 1397.3h0M263.8 1402.4h0M180.4 1431.2h0" stroke="#5a4fa0" stroke-width="5.8" stroke-linecap="round"/>
<path d="M274.8 1246.6h0M270.6 1252.3h0" stroke="#a3104a" stroke-width="5.8" stroke-linecap="round"/>
<rect x="570.0" y="1240.0" width="200.0" height="199.0" fill="#f6f5f7"/>
<path d="M570 1264L600 1256L630 1244L680 1244L706 1270L720 1310L694 1343L670 1359L634 1349L600 1330L570 1320Z" fill="#d0cde6"/>
<path d="M670 1240L760 1250L770 1280L770 1330L750 1359L720 1330L706 1270Z" fill="#e8d3de"/>
<path d="M630 1340L694 1340L690 1383L640 1383Z" fill="#dcd9ec"/>
<path d="M570 1395L600 1379L650 1371L690 1383L740 1383L770 1379L770 1433L690 1439L610 1439L570 1429Z" fill="#c8c3df"/>
<rect x="570.0" y="1240.0" width="200.0" height="199.0" fill="#fff" filter="url(#th1)" opacity="0.4"/>
<path d="M642 1245h0M613 1298h0M724 1246h0M757 1281h0M613 1333h0M739 1252h0M576 1269h0M717 1268h0M674 1276h0M720 1274h0M726 1287h0M717 1293h0M763 1292h0M710 1303h0M727 1309h0M730 1316h0M673 1322h0M757 1327h0M630 1339h0M643 1386h0M623 1432h0M743 1431h0M744 1293h0M654 1321h0" stroke="#2e2a40" stroke-width="7.6" stroke-linecap="round"/>
<path d="M642.5 1245.4h0M613.0 1297.9h0" stroke="#fdf7b0" stroke-width="5.8" stroke-linecap="round"/>
<path d="M744.0 1292.7h0" stroke="#a9dba0" stroke-width="5.8" stroke-linecap="round"/>
<path d="M723.5 1245.7h0M757.2 1281.3h0M613.1 1333.5h0" stroke="#5fbfa6" stroke-width="5.8" stroke-linecap="round"/>
<path d="M739.4 1252.5h0" stroke="#f26a43" stroke-width="5.8" stroke-linecap="round"/>
<path d="M576.2 1269.0h0M717.3 1268.5h0M673.9 1275.6h0M720.3 1274.5h0M726.1 1286.5h0M716.5 1293.1h0M763.0 1292.3h0M710.5 1303.5h0M726.8 1309.3h0M729.7 1316.0h0M672.8 1322.0h0M757.0 1326.6h0M630.1 1338.6h0M643.4 1385.6h0M623.3 1432.4h0M743.5 1431.1h0" stroke="#5a4fa0" stroke-width="5.8" stroke-linecap="round"/>
<path d="M653.5 1321.5h0" stroke="#a3104a" stroke-width="5.8" stroke-linecap="round"/>
<rect x="340.0" y="1240.0" width="197.0" height="199.0" fill="#f7f4f5"/>
<path d="M356 1250L438 1240L527 1244L537 1300L537 1389L527 1429L458 1439L389 1439L350 1409L364 1379L340 1340L340 1330L379 1300Z" fill="#e8d5df"/>
<rect x="340.0" y="1240.0" width="197.0" height="199.0" fill="#fff" filter="url(#th1)" opacity="0.4"/>
<path d="M474 1246h0M487 1258h0M521 1269h0M503 1287h0M530 1310h0M397 1322h0M362 1344h0M434 1363h0M370 1367h0M530 1368h0M366 1374h0M440 1385h0M443 1392h0M527 1396h0M384 1403h0M504 1402h0M359 1408h0M521 1420h0M516 1426h0M386 1431h0M387 1339h0" stroke="#2e2a40" stroke-width="7.6" stroke-linecap="round"/>
<path d="M473.6 1245.9h0M487.0 1258.4h0M520.7 1268.6h0M502.9 1287.0h0M530.4 1310.5h0M396.7 1321.5h0M362.4 1344.0h0M433.8 1362.6h0M369.8 1367.1h0M530.4 1368.4h0M365.8 1373.8h0M439.9 1384.8h0M443.1 1391.7h0M527.2 1396.2h0M383.6 1403.0h0M503.7 1402.0h0M359.0 1407.7h0M520.8 1420.3h0M516.1 1425.8h0M385.9 1431.2h0" stroke="#5a4fa0" stroke-width="5.8" stroke-linecap="round"/>
<path d="M386.6 1339.1h0" stroke="#a3104a" stroke-width="5.8" stroke-linecap="round"/>
<rect x="787.6" y="1240.0" width="196.9" height="199.0" fill="#f7f4f5"/>
<path d="M803 1250L886 1240L975 1244L984 1300L984 1389L975 1429L906 1439L837 1439L797 1409L811 1379L788 1340L788 1330L827 1300Z" fill="#e8d5df"/>
<rect x="787.6" y="1240.0" width="196.9" height="199.0" fill="#fff" filter="url(#th1)" opacity="0.4"/>
<path d="M951 1264h0M847 1270h0M857 1299h0M908 1304h0M800 1338h0M974 1350h0M864 1357h0M854 1374h0M922 1385h0M901 1397h0M824 1414h0M874 1420h0M898 1427h0M931 1425h0M867 1432h0M833 1316h0M890 1322h0M941 1351h0" stroke="#2e2a40" stroke-width="7.6" stroke-linecap="round"/>
<path d="M890.2 1321.6h0M941.1 1350.5h0" stroke="#fdf7b0" stroke-width="5.8" stroke-linecap="round"/>
<path d="M833.3 1315.7h0" stroke="#5fbfa6" stroke-width="5.8" stroke-linecap="round"/>
<path d="M951.1 1263.7h0M846.5 1269.7h0M857.2 1299.0h0M907.8 1304.1h0M800.0 1338.2h0M973.8 1349.7h0M864.1 1357.0h0M853.5 1374.0h0M921.6 1385.5h0M900.9 1396.9h0M824.2 1414.1h0M874.4 1420.5h0M897.5 1426.6h0M931.1 1425.3h0M866.8 1431.7h0" stroke="#5a4fa0" stroke-width="5.8" stroke-linecap="round"/>
<rect x="121.0" y="1461.0" width="200.0" height="197.0" fill="#f8f6f7"/>
<path d="M121 1471L241 1461L321 1471L321 1579L301 1628L261 1658L161 1658L121 1619Z" fill="#e6d6de"/>
<rect x="121.0" y="1461.0" width="200.0" height="197.0" fill="#fff" filter="url(#th5)" opacity="0.85"/>
<path d="M181 1479h0M285 1613h0" stroke="#a9dba0" stroke-width="6.1" stroke-linecap="round"/>
<path d="M271 1485h0M153 1490h0M138 1532h0M297 1577h0M291 1612h0" stroke="#5fbfa6" stroke-width="6.1" stroke-linecap="round"/>
<path d="M241 1502h0M284 1531h0M181 1548h0M240 1606h0M297 1624h0M238 1635h0" stroke="#fdac5e" stroke-width="6.1" stroke-linecap="round"/>
<path d="M170 1473h0M302 1479h0M153 1502h0M134 1537h0M298 1543h0M315 1548h0M284 1553h0M314 1560h0M294 1571h0M312 1577h0M300 1583h0M214 1595h0M221 1594h0M131 1601h0M150 1624h0M190 1635h0M248 1653h0" stroke="#5a4fa0" stroke-width="6.1" stroke-linecap="round"/>
<path d="M260 1466h0M315 1490h0M150 1507h0M260 1525h0M147 1537h0M200 1537h0M207 1606h0M204 1624h0M291 1635h0M254 1641h0" stroke="#a3104a" stroke-width="6.1" stroke-linecap="round"/>
<rect x="340.0" y="1461.0" width="197.0" height="197.0" fill="#f8f6f7"/>
<path d="M340 1471L458 1461L537 1471L537 1579L517 1628L478 1658L379 1658L340 1619Z" fill="#e6d6de"/>
<rect x="340.0" y="1461.0" width="197.0" height="197.0" fill="#fff" filter="url(#th5)" opacity="0.85"/>
<path d="M489 1485h0M523 1485h0M356 1497h0M377 1554h0M424 1554h0M459 1561h0M429 1566h0M433 1571h0M446 1572h0M406 1583h0M419 1582h0M426 1583h0M403 1588h0M426 1595h0M439 1595h0M436 1600h0M427 1606h0M433 1606h0M460 1607h0M467 1607h0M429 1612h0M457 1613h0M400 1618h0M416 1623h0M427 1629h0M443 1636h0M450 1648h0M447 1653h0" stroke="#fdf7b0" stroke-width="6.1" stroke-linecap="round"/>
<path d="M437 1554h0M426 1560h0M443 1565h0M412 1571h0M413 1583h0M413 1595h0M440 1606h0M437 1612h0M450 1612h0M426 1618h0M436 1623h0M400 1630h0M417 1635h0" stroke="#fde08a" stroke-width="6.1" stroke-linecap="round"/>
<path d="M446 1479h0M460 1490h0M353 1502h0M450 1507h0M434 1537h0M419 1547h0M507 1549h0M413 1559h0M357 1566h0M463 1565h0M483 1566h0M439 1571h0M370 1578h0M423 1576h0M443 1578h0M403 1601h0M423 1600h0M469 1600h0M413 1605h0M419 1607h0M417 1612h0M420 1617h0M460 1618h0M407 1629h0M413 1629h0M450 1635h0M457 1635h0M464 1636h0M454 1641h0" stroke="#a9dba0" stroke-width="6.1" stroke-linecap="round"/>
<path d="M403 1473h0M464 1473h0M402 1496h0M496 1496h0M453 1513h0M486 1513h0M355 1519h0M523 1530h0M410 1543h0M443 1543h0M527 1548h0M356 1554h0M463 1553h0M393 1561h0M446 1560h0M467 1560h0M363 1566h0M386 1571h0M513 1571h0M470 1577h0M523 1577h0M440 1583h0M403 1613h0M460 1629h0" stroke="#5fbfa6" stroke-width="6.1" stroke-linecap="round"/>
<path d="M457 1554h0M434 1559h0M457 1566h0M420 1572h0M433 1583h0M450 1589h0M457 1588h0M447 1594h0M467 1594h0M417 1601h0M444 1601h0M457 1600h0M453 1606h0M463 1613h0M413 1618h0M433 1618h0M430 1624h0M457 1624h0M463 1624h0M423 1648h0M441 1652h0" stroke="#fdac5e" stroke-width="6.1" stroke-linecap="round"/>
<path d="M352 1478h0M440 1479h0M480 1478h0M487 1479h0M517 1497h0M420 1513h0M396 1531h0M507 1537h0M417 1543h0" stroke="#3b7fb9" stroke-width="6.1" stroke-linecap="round"/>
<path d="M404 1542h0M416 1565h0M460 1572h0M429 1578h0M466 1582h0M470 1588h0M450 1600h0M407 1606h0M422 1612h0M442 1613h0M477 1612h0M403 1624h0M423 1623h0M449 1623h0M433 1629h0M453 1630h0" stroke="#f26a43" stroke-width="6.1" stroke-linecap="round"/>
<path d="M443 1554h0M450 1554h0M423 1565h0M427 1572h0M417 1577h0M450 1577h0M457 1578h0M460 1583h0M443 1589h0M420 1594h0M460 1595h0M410 1601h0M473 1606h0M410 1612h0M441 1617h0M446 1618h0M466 1617h0M470 1624h0M420 1630h0M412 1641h0M420 1641h0M447 1641h0M456 1647h0" stroke="#d0364f" stroke-width="6.1" stroke-linecap="round"/>
<path d="M498 1472h0M523 1472h0M359 1479h0M379 1478h0M386 1478h0M357 1484h0M363 1485h0M477 1485h0M359 1491h0M380 1491h0M414 1490h0M426 1490h0M446 1490h0M480 1490h0M507 1490h0M528 1490h0M377 1496h0M503 1496h0M511 1495h0M383 1508h0M463 1508h0M504 1508h0M352 1513h0M373 1513h0M393 1526h0M413 1525h0M453 1525h0M527 1525h0M376 1530h0M437 1531h0M517 1530h0M379 1537h0M461 1537h0M467 1537h0M487 1537h0M364 1542h0M423 1542h0M477 1542h0M360 1549h0M426 1549h0M480 1548h0M486 1548h0M385 1560h0M504 1566h0M520 1572h0" stroke="#5a4fa0" stroke-width="6.1" stroke-linecap="round"/>
<path d="M437 1577h0M463 1577h0M447 1583h0M410 1589h0M423 1588h0M430 1590h0M433 1594h0M470 1613h0M474 1618h0M410 1623h0M441 1629h0M467 1629h0M409 1636h0M423 1636h0M430 1636h0M436 1635h0M432 1642h0M459 1640h0M429 1648h0M436 1647h0" stroke="#a3104a" stroke-width="6.1" stroke-linecap="round"/>
<rect x="570.0" y="1461.0" width="200.0" height="197.0" fill="#f8f6f7"/>
<path d="M570 1471L690 1461L770 1471L770 1579L750 1628L710 1658L610 1658L570 1619Z" fill="#e6d6de"/>
<rect x="570.0" y="1461.0" width="200.0" height="197.0" fill="#fff" filter="url(#th5)" opacity="0.85"/>
<path d="M613 1555h0M599 1613h0" stroke="#fdf7b0" stroke-width="6.1" stroke-linecap="round"/>
<path d="M579 1508h0" stroke="#5fbfa6" stroke-width="6.1" stroke-linecap="round"/>
<path d="M583 1526h0M593 1553h0" stroke="#fdac5e" stroke-width="6.1" stroke-linecap="round"/>
<path d="M747 1566h0M760 1565h0" stroke="#f26a43" stroke-width="6.1" stroke-linecap="round"/>
<path d="M656 1526h0M600 1531h0M683 1537h0M686 1554h0M643 1561h0M653 1577h0M597 1595h0M606 1613h0M703 1618h0M595 1641h0M627 1647h0" stroke="#5a4fa0" stroke-width="6.1" stroke-linecap="round"/>
<path d="M733 1519h0M680 1542h0M743 1559h0M757 1560h0M753 1566h0M764 1572h0M743 1583h0M747 1590h0M753 1588h0M576 1594h0M636 1606h0" stroke="#a3104a" stroke-width="6.1" stroke-linecap="round"/>
<rect x="787.6" y="1461.0" width="196.9" height="197.0" fill="#f8f6f7"/>
<path d="M788 1471L906 1461L984 1471L984 1579L965 1628L925 1658L827 1658L788 1619Z" fill="#e6d6de"/>
<rect x="787.6" y="1461.0" width="196.9" height="197.0" fill="#fff" filter="url(#th5)" opacity="0.85"/>
<path d="M938 1485h0M937 1496h0M948 1502h0M877 1532h0M934 1537h0M947 1537h0M818 1554h0M890 1554h0M904 1554h0M881 1560h0M893 1560h0M890 1566h0M881 1572h0M897 1577h0M904 1577h0M867 1584h0M874 1582h0M894 1584h0M871 1589h0M905 1589h0M851 1600h0M870 1600h0M885 1600h0M897 1600h0M863 1612h0M874 1618h0M914 1618h0M921 1618h0M857 1624h0M898 1623h0M848 1629h0M873 1629h0M864 1636h0M905 1635h0M875 1641h0" stroke="#fdf7b0" stroke-width="6.1" stroke-linecap="round"/>
<path d="M877 1554h0M864 1566h0M897 1566h0M910 1566h0M874 1571h0M860 1584h0M878 1588h0M890 1589h0M854 1594h0M922 1595h0M911 1601h0M914 1606h0M897 1612h0M904 1612h0M911 1612h0M925 1613h0M854 1617h0M864 1624h0M854 1629h0M880 1630h0M908 1630h0M898 1635h0M861 1640h0M894 1640h0M902 1642h0M877 1646h0M898 1647h0M904 1647h0M887 1653h0" stroke="#fde08a" stroke-width="6.1" stroke-linecap="round"/>
<path d="M803 1485h0M837 1484h0M918 1484h0M918 1496h0M817 1531h0M844 1530h0M884 1531h0M861 1537h0M908 1537h0M921 1536h0M927 1537h0M928 1549h0M868 1572h0M907 1571h0M914 1571h0M870 1577h0M878 1578h0M854 1584h0M858 1588h0M910 1589h0M868 1595h0M880 1594h0M900 1595h0M857 1600h0M891 1601h0M861 1606h0M881 1607h0M894 1607h0M851 1612h0M884 1613h0M861 1618h0M895 1618h0M901 1618h0M908 1619h0M850 1624h0M871 1624h0M884 1623h0M917 1624h0M860 1629h0M887 1630h0M894 1630h0M914 1629h0M870 1635h0M884 1635h0M890 1635h0M880 1642h0" stroke="#a9dba0" stroke-width="6.1" stroke-linecap="round"/>
<path d="M917 1472h0M914 1479h0M974 1479h0M847 1490h0M954 1490h0M961 1490h0M800 1502h0M914 1502h0M971 1508h0M914 1513h0M932 1519h0M964 1519h0M813 1524h0M891 1530h0M898 1543h0M820 1559h0M857 1566h0M894 1572h0M885 1577h0M914 1583h0M915 1595h0M864 1601h0M878 1600h0M924 1601h0M867 1607h0M887 1606h0M900 1606h0M856 1612h0M877 1611h0M880 1618h0M877 1634h0M911 1636h0M868 1641h0" stroke="#5fbfa6" stroke-width="6.1" stroke-linecap="round"/>
<path d="M885 1565h0M904 1566h0M863 1577h0M908 1594h0M918 1600h0M868 1618h0M887 1617h0M891 1624h0M870 1646h0" stroke="#fdac5e" stroke-width="6.1" stroke-linecap="round"/>
<path d="M928 1478h0M870 1485h0M910 1496h0M921 1502h0M810 1507h0M955 1513h0M847 1525h0M867 1525h0M955 1524h0M905 1531h0M924 1553h0M827 1560h0M857 1577h0M911 1578h0M924 1577h0M874 1595h0M894 1595h0M918 1612h0M878 1624h0M894 1652h0" stroke="#3b7fb9" stroke-width="6.1" stroke-linecap="round"/>
<path d="M900 1583h0M861 1594h0M875 1606h0" stroke="#f26a43" stroke-width="6.1" stroke-linecap="round"/>
<path d="M931 1472h0M938 1472h0M945 1473h0M868 1479h0M922 1479h0M961 1479h0M971 1484h0M827 1490h0M895 1490h0M974 1491h0M851 1496h0M857 1495h0M877 1495h0M931 1495h0M834 1502h0M860 1501h0M875 1502h0M961 1501h0M975 1501h0M851 1508h0M934 1513h0M838 1520h0M863 1520h0M891 1520h0M917 1519h0M854 1525h0M940 1525h0M975 1525h0M951 1530h0M814 1536h0M840 1537h0M830 1543h0M838 1543h0M864 1542h0M934 1548h0M931 1553h0M833 1559h0M854 1561h0M901 1560h0M908 1560h0M837 1565h0M845 1566h0M870 1566h0M924 1565h0M932 1565h0M944 1565h0M806 1571h0M861 1571h0M974 1571h0M824 1577h0M937 1578h0M887 1584h0M907 1582h0M850 1589h0M907 1606h0M920 1607h0M871 1611h0M891 1612h0M847 1618h0M910 1623h0M901 1630h0M885 1647h0M890 1647h0" stroke="#5a4fa0" stroke-width="6.1" stroke-linecap="round"/>
<path d="M833 1513h0M905 1520h0M890 1542h0M871 1554h0M898 1554h0M877 1565h0M881 1582h0M883 1590h0" stroke="#a3104a" stroke-width="6.1" stroke-linecap="round"/>
<rect x="121.0" y="1689.0" width="200.0" height="197.0" fill="#f8f6f8"/>
<path d="M121 1709L191 1693L261 1699L301 1699L311 1748L301 1807L311 1847L291 1876L231 1866L201 1837L141 1831L121 1788Z" fill="#dfd0e0"/>
<rect x="121.0" y="1689.0" width="200.0" height="197.0" fill="#fff" filter="url(#th1)" opacity="0.4"/>
<path d="M281 1846h0M268 1857h0M282 1858h0M315 1858h0M291 1863h0M265 1875h0M278 1876h0" stroke="#fdf7b0" stroke-width="6.1" stroke-linecap="round"/>
<path d="M264 1851h0M268 1869h0" stroke="#fde08a" stroke-width="6.1" stroke-linecap="round"/>
<path d="M268 1845h0M274 1845h0M287 1847h0M292 1852h0M288 1858h0M258 1863h0M264 1863h0M285 1864h0M311 1864h0" stroke="#a9dba0" stroke-width="6.1" stroke-linecap="round"/>
<path d="M267 1811h0M295 1857h0M278 1864h0" stroke="#5fbfa6" stroke-width="6.1" stroke-linecap="round"/>
<path d="M211 1701h0M188 1718h0M187 1753h0M308 1753h0M127 1765h0M197 1771h0M171 1781h0M227 1811h0M305 1851h0M308 1858h0" stroke="#3b7fb9" stroke-width="6.1" stroke-linecap="round"/>
<path d="M194 1695h0M164 1700h0M163 1712h0M150 1725h0M151 1759h0M227 1765h0M167 1776h0M288 1777h0M151 1794h0M211 1793h0M244 1793h0M161 1799h0M207 1800h0M288 1800h0M174 1823h0M305 1828h0" stroke="#5a4fa0" stroke-width="6.1" stroke-linecap="round"/>
<rect x="340.0" y="1689.0" width="197.0" height="197.0" fill="#f8f6f8"/>
<path d="M340 1728L399 1699L468 1689L527 1689L537 1768L527 1866L478 1886L419 1876L360 1856L340 1807Z" fill="#e7d8e4"/>
<rect x="340.0" y="1689.0" width="197.0" height="197.0" fill="#fff" filter="url(#th1)" opacity="0.4"/>
<path d="M426 1695h0M517 1702h0M399 1706h0M413 1706h0M382 1713h0M403 1712h0M453 1719h0M459 1719h0M526 1718h0M436 1724h0M442 1724h0M463 1725h0M446 1731h0M459 1731h0M466 1730h0M390 1736h0M483 1736h0M426 1741h0M527 1741h0M464 1748h0M489 1746h0M517 1747h0M419 1753h0M440 1754h0M494 1765h0M514 1765h0M520 1764h0M403 1771h0M430 1771h0M484 1770h0M459 1777h0M356 1781h0M396 1781h0M470 1783h0M477 1782h0M393 1789h0M433 1788h0M453 1788h0M389 1793h0M396 1793h0M518 1794h0M523 1794h0M406 1800h0M447 1800h0M524 1805h0M399 1811h0M500 1811h0M403 1817h0M424 1818h0M477 1818h0M524 1816h0M379 1823h0M392 1823h0M514 1822h0M376 1828h0M384 1829h0M424 1828h0M430 1828h0M470 1828h0M490 1828h0M379 1835h0M393 1834h0M446 1835h0M467 1834h0M507 1835h0M470 1841h0M504 1840h0M359 1846h0M373 1846h0M386 1846h0M426 1846h0M453 1846h0M473 1846h0M422 1852h0M450 1852h0M367 1857h0M521 1857h0M476 1863h0M406 1870h0M446 1868h0" stroke="#fdf7b0" stroke-width="6.1" stroke-linecap="round"/>
<path d="M397 1700h0M416 1700h0M477 1700h0M473 1707h0M436 1713h0M372 1718h0M493 1719h0M402 1724h0M423 1723h0M379 1730h0M393 1729h0M433 1730h0M487 1729h0M527 1730h0M409 1735h0M467 1741h0M480 1742h0M487 1742h0M507 1741h0M383 1747h0M404 1747h0M373 1752h0M400 1752h0M453 1753h0M514 1754h0M397 1758h0M449 1758h0M456 1758h0M463 1770h0M400 1776h0M466 1776h0M520 1777h0M417 1782h0M443 1782h0M353 1787h0M399 1788h0M500 1788h0M362 1793h0M416 1794h0M437 1794h0M420 1800h0M434 1800h0M403 1805h0M483 1805h0M386 1811h0M439 1811h0M480 1811h0M530 1817h0M366 1822h0M374 1823h0M407 1822h0M420 1823h0M507 1822h0M520 1823h0M409 1829h0M517 1829h0M387 1834h0M510 1840h0M420 1857h0M459 1858h0M473 1858h0M416 1863h0M474 1868h0M483 1875h0M497 1876h0" stroke="#fde08a" stroke-width="6.1" stroke-linecap="round"/>
<path d="M453 1695h0M503 1712h0M426 1719h0M383 1724h0M386 1730h0M473 1729h0M357 1736h0M363 1735h0M530 1735h0M407 1741h0M389 1746h0M417 1747h0M530 1748h0M366 1764h0M406 1764h0M413 1764h0M439 1765h0M434 1775h0M493 1777h0M467 1788h0M430 1794h0M483 1793h0M510 1794h0M383 1805h0M497 1805h0M510 1805h0M366 1811h0M439 1823h0M349 1829h0M396 1828h0M412 1835h0M493 1834h0M410 1841h0M457 1840h0M460 1847h0M527 1846h0M426 1858h0M396 1863h0M426 1870h0M439 1870h0M494 1870h0M436 1875h0" stroke="#a9dba0" stroke-width="6.1" stroke-linecap="round"/>
<path d="M493 1694h0M507 1694h0M484 1700h0M419 1706h0M410 1712h0M420 1718h0M483 1724h0M403 1735h0M440 1741h0M461 1741h0M477 1758h0M450 1771h0M470 1770h0M345 1787h0M526 1788h0M469 1793h0M530 1793h0M467 1800h0M487 1799h0M494 1800h0M352 1811h0M487 1811h0M497 1817h0M419 1834h0M434 1834h0M442 1841h0M487 1846h0M453 1857h0M400 1869h0M460 1869h0M519 1868h0" stroke="#5fbfa6" stroke-width="6.1" stroke-linecap="round"/>
<path d="M446 1695h0M480 1695h0M466 1706h0M513 1706h0M497 1712h0M367 1718h0M414 1718h0M440 1718h0M474 1718h0M429 1724h0M503 1725h0M510 1723h0M366 1730h0M414 1729h0M479 1729h0M520 1729h0M422 1735h0M429 1735h0M450 1735h0M464 1735h0M524 1736h0M399 1741h0M493 1741h0M409 1747h0M423 1747h0M380 1753h0M406 1753h0M489 1759h0M359 1765h0M434 1764h0M460 1765h0M486 1765h0M355 1771h0M376 1770h0M383 1770h0M397 1771h0M417 1771h0M476 1770h0M366 1777h0M380 1777h0M506 1777h0M383 1782h0M450 1782h0M463 1782h0M503 1782h0M413 1788h0M370 1793h0M383 1794h0M443 1794h0M450 1794h0M477 1793h0M350 1805h0M370 1805h0M390 1805h0M437 1805h0M456 1806h0M346 1811h0M406 1812h0M420 1810h0M466 1811h0M444 1816h0M457 1817h0M359 1822h0M433 1823h0M364 1828h0M369 1829h0M390 1829h0M476 1829h0M509 1829h0M366 1835h0M357 1841h0M376 1840h0M423 1840h0M450 1840h0M476 1840h0M484 1840h0M490 1840h0M393 1846h0M514 1846h0M396 1852h0M416 1851h0M436 1851h0M443 1851h0M469 1852h0M503 1852h0M516 1852h0M524 1851h0M373 1858h0M413 1858h0M403 1864h0M422 1862h0M436 1863h0M456 1864h0M430 1875h0M480 1881h0" stroke="#fdac5e" stroke-width="6.1" stroke-linecap="round"/>
<path d="M457 1700h0M346 1752h0M496 1758h0M389 1770h0M497 1771h0M506 1800h0M429 1817h0M493 1822h0M504 1829h0M480 1846h0M500 1846h0M497 1851h0M511 1852h0M486 1857h0M383 1863h0" stroke="#3b7fb9" stroke-width="6.1" stroke-linecap="round"/>
<path d="M493 1707h0M520 1707h0M390 1712h0M490 1712h0M524 1712h0M479 1719h0M370 1724h0M523 1724h0M440 1730h0M392 1741h0M513 1741h0M393 1753h0M530 1758h0M386 1765h0M467 1765h0M480 1765h0M363 1770h0M436 1770h0M360 1776h0M407 1776h0M452 1777h0M480 1776h0M486 1777h0M389 1782h0M387 1788h0M406 1788h0M420 1787h0M494 1788h0M521 1788h0M402 1793h0M497 1793h0M460 1799h0M527 1811h0M349 1816h0M390 1817h0M464 1817h0M400 1822h0M467 1822h0M526 1823h0M356 1828h0M496 1828h0M353 1835h0M459 1834h0M501 1834h0M527 1835h0M362 1840h0M417 1841h0M524 1840h0M366 1845h0M383 1851h0M410 1852h0M484 1852h0M439 1858h0M483 1864h0M490 1863h0M517 1864h0M412 1869h0M514 1869h0M446 1881h0M486 1881h0" stroke="#f26a43" stroke-width="6.1" stroke-linecap="round"/>
<path d="M460 1696h0M427 1707h0M453 1706h0M394 1718h0M433 1718h0M426 1730h0M450 1747h0M483 1748h0M473 1752h0M392 1765h0M446 1765h0M429 1782h0M491 1794h0M380 1800h0M426 1800h0M416 1805h0M442 1806h0M470 1805h0M359 1811h0M446 1812h0M473 1810h0M510 1817h0M487 1822h0M370 1841h0M407 1846h0M467 1858h0M479 1857h0M430 1863h0M464 1863h0M479 1868h0M443 1876h0M457 1875h0" stroke="#d0364f" stroke-width="6.1" stroke-linecap="round"/>
<path d="M484 1713h0M500 1730h0M436 1735h0M454 1741h0M387 1753h0M403 1759h0M367 1799h0M394 1800h0M396 1840h0M506 1869h0" stroke="#5a4fa0" stroke-width="6.1" stroke-linecap="round"/>
<path d="M467 1695h0M487 1696h0M436 1701h0M464 1700h0M500 1706h0M376 1713h0M464 1713h0M500 1718h0M350 1724h0M417 1723h0M449 1724h0M456 1724h0M490 1723h0M346 1730h0M352 1731h0M507 1730h0M443 1736h0M457 1736h0M347 1742h0M352 1741h0M386 1742h0M349 1747h0M443 1747h0M523 1748h0M352 1753h0M446 1754h0M467 1752h0M506 1752h0M410 1759h0M416 1758h0M524 1759h0M453 1765h0M507 1764h0M442 1771h0M510 1770h0M346 1777h0M393 1776h0M501 1776h0M350 1782h0M363 1782h0M457 1781h0M497 1782h0M379 1788h0M480 1788h0M453 1799h0M513 1799h0M423 1806h0M373 1811h0M383 1817h0M396 1816h0M416 1816h0M450 1817h0M517 1817h0M353 1823h0M387 1822h0M447 1822h0M473 1823h0M480 1822h0M444 1828h0M450 1829h0M484 1828h0M427 1834h0M453 1835h0M473 1834h0M390 1840h0M517 1840h0M446 1846h0M466 1846h0M429 1852h0M387 1857h0M392 1857h0M400 1858h0M528 1858h0M450 1863h0M469 1863h0M487 1869h0M423 1875h0M477 1874h0" stroke="#a3104a" stroke-width="6.1" stroke-linecap="round"/>
<rect x="570.0" y="1689.0" width="200.0" height="197.0" fill="#f8f6f8"/>
<path d="M570 1709L640 1693L710 1699L750 1699L760 1748L750 1807L760 1847L740 1876L680 1866L650 1837L590 1831L570 1788Z" fill="#dfd0e0"/>
<rect x="570.0" y="1689.0" width="200.0" height="197.0" fill="#fff" filter="url(#th1)" opacity="0.4"/>
<path d="M663 1742h0M656 1777h0M643 1822h0M743 1846h0M747 1852h0M703 1857h0M723 1858h0M714 1863h0M723 1869h0M738 1869h0M751 1870h0M719 1875h0M739 1875h0" stroke="#fdf7b0" stroke-width="6.1" stroke-linecap="round"/>
<path d="M744 1869h0" stroke="#fde08a" stroke-width="6.1" stroke-linecap="round"/>
<path d="M583 1729h0M637 1765h0M690 1764h0M673 1770h0M642 1777h0M740 1794h0M585 1817h0M704 1822h0M733 1828h0M694 1839h0M733 1852h0M758 1857h0M717 1869h0M714 1875h0" stroke="#fdac5e" stroke-width="6.1" stroke-linecap="round"/>
<path d="M605 1700h0M714 1713h0M603 1730h0M646 1748h0M649 1753h0M663 1753h0M674 1759h0M663 1765h0M667 1782h0M616 1788h0M596 1822h0M689 1835h0M709 1847h0M726 1852h0M730 1858h0M726 1875h0M733 1875h0" stroke="#f26a43" stroke-width="6.1" stroke-linecap="round"/>
<path d="M580 1712h0M689 1729h0M609 1741h0M600 1748h0M723 1834h0M663 1847h0M720 1851h0M737 1858h0M710 1869h0" stroke="#a3104a" stroke-width="6.1" stroke-linecap="round"/>
<rect x="787.6" y="1689.0" width="196.9" height="197.0" fill="#f8f6f8"/>
<path d="M788 1728L847 1699L916 1689L975 1689L984 1768L975 1866L925 1886L866 1876L807 1856L788 1807Z" fill="#e7d8e4"/>
<rect x="787.6" y="1689.0" width="196.9" height="197.0" fill="#fff" filter="url(#th1)" opacity="0.4"/>
<path d="M800 1764h0M880 1811h0M958 1829h0M874 1834h0M964 1839h0M958 1852h0M897 1863h0M861 1869h0M938 1875h0" stroke="#fdf7b0" stroke-width="6.1" stroke-linecap="round"/>
<path d="M948 1694h0M798 1724h0M804 1724h0M800 1741h0M974 1764h0M874 1799h0M864 1805h0M870 1805h0M951 1805h0M957 1805h0M931 1816h0M873 1822h0M925 1829h0M881 1834h0M974 1834h0M884 1840h0M918 1841h0M875 1845h0M914 1858h0M837 1863h0M850 1863h0M890 1864h0M884 1875h0" stroke="#a9dba0" stroke-width="6.1" stroke-linecap="round"/>
<path d="M901 1707h0M941 1707h0M838 1724h0M898 1724h0M910 1725h0M945 1724h0M793 1730h0M817 1758h0M952 1759h0M853 1764h0M860 1765h0M817 1770h0M841 1787h0M857 1793h0M841 1799h0M824 1805h0M917 1805h0M814 1812h0M820 1812h0M907 1811h0M954 1810h0M967 1810h0M885 1816h0M950 1818h0M827 1823h0M914 1823h0M931 1829h0M921 1835h0M954 1834h0M821 1846h0M894 1847h0M881 1858h0M961 1858h0M877 1863h0M918 1864h0M873 1869h0M944 1875h0M900 1881h0" stroke="#5fbfa6" stroke-width="6.1" stroke-linecap="round"/>
<path d="M843 1701h0M951 1700h0M954 1706h0M961 1718h0M903 1724h0M800 1730h0M854 1730h0M881 1730h0M858 1735h0M884 1735h0M807 1741h0M962 1776h0M974 1812h0M868 1822h0M804 1829h0M877 1828h0M971 1828h0M894 1834h0M941 1835h0M841 1846h0M962 1846h0M927 1880h0" stroke="#3b7fb9" stroke-width="6.1" stroke-linecap="round"/>
<path d="M934 1694h0M797 1817h0M897 1875h0M895 1881h0" stroke="#f26a43" stroke-width="6.1" stroke-linecap="round"/>
<path d="M901 1696h0M907 1696h0M858 1700h0M864 1701h0M870 1700h0M878 1701h0M884 1700h0M890 1700h0M904 1702h0M910 1701h0M917 1701h0M925 1701h0M959 1701h0M854 1706h0M861 1706h0M880 1707h0M895 1706h0M908 1707h0M914 1706h0M921 1706h0M928 1707h0M934 1706h0M843 1713h0M851 1712h0M858 1713h0M864 1713h0M871 1712h0M877 1712h0M884 1713h0M897 1712h0M905 1712h0M911 1713h0M917 1713h0M924 1712h0M945 1713h0M958 1712h0M855 1718h0M860 1717h0M881 1719h0M887 1718h0M894 1718h0M901 1719h0M914 1718h0M921 1717h0M935 1719h0M940 1717h0M947 1718h0M955 1718h0M844 1724h0M851 1725h0M857 1724h0M878 1724h0M884 1724h0M891 1724h0M918 1724h0M924 1723h0M938 1724h0M964 1724h0M971 1724h0M840 1729h0M848 1730h0M887 1730h0M900 1730h0M928 1730h0M940 1729h0M955 1729h0M961 1730h0M974 1730h0M831 1736h0M837 1736h0M844 1736h0M851 1736h0M864 1735h0M870 1735h0M878 1736h0M898 1735h0M910 1736h0M918 1735h0M924 1735h0M930 1736h0M938 1735h0M951 1736h0M958 1736h0M965 1736h0M827 1742h0M833 1741h0M841 1742h0M847 1741h0M854 1742h0M867 1742h0M875 1742h0M881 1741h0M887 1741h0M895 1742h0M908 1741h0M914 1741h0M921 1742h0M927 1742h0M940 1741h0M954 1741h0M969 1741h0M974 1741h0M830 1746h0M837 1747h0M844 1747h0M850 1746h0M857 1748h0M885 1748h0M897 1747h0M905 1747h0M911 1747h0M917 1747h0M924 1747h0M938 1748h0M944 1748h0M952 1747h0M965 1747h0M978 1747h0M813 1752h0M841 1753h0M848 1753h0M853 1754h0M860 1753h0M875 1752h0M880 1753h0M894 1753h0M901 1754h0M907 1754h0M914 1754h0M922 1754h0M928 1753h0M941 1754h0M948 1753h0M960 1753h0M967 1753h0M837 1759h0M850 1759h0M857 1759h0M864 1758h0M871 1759h0M883 1758h0M892 1759h0M898 1759h0M910 1759h0M918 1759h0M924 1759h0M931 1759h0M938 1758h0M944 1759h0M834 1765h0M874 1764h0M880 1765h0M888 1764h0M900 1764h0M914 1765h0M922 1764h0M934 1764h0M967 1764h0M838 1771h0M850 1771h0M858 1771h0M864 1770h0M870 1771h0M877 1771h0M897 1771h0M905 1771h0M917 1770h0M924 1771h0M931 1771h0M945 1770h0M951 1770h0M793 1776h0M807 1776h0M840 1776h0M847 1776h0M853 1776h0M874 1776h0M881 1776h0M894 1776h0M907 1776h0M915 1776h0M934 1777h0M948 1776h0M851 1782h0M857 1782h0M864 1782h0M878 1783h0M884 1782h0M891 1781h0M905 1782h0M911 1781h0M917 1782h0M924 1783h0M938 1781h0M944 1782h0M958 1782h0M848 1787h0M854 1788h0M860 1787h0M868 1787h0M875 1788h0M887 1788h0M894 1788h0M901 1787h0M908 1787h0M921 1787h0M927 1788h0M941 1787h0M948 1788h0M864 1793h0M871 1794h0M884 1794h0M891 1793h0M897 1794h0M904 1793h0M910 1793h0M931 1794h0M827 1800h0M846 1799h0M881 1800h0M895 1799h0M900 1799h0M830 1805h0M854 1811h0M868 1811h0M948 1811h0M962 1812h0M850 1816h0M834 1823h0M858 1828h0M964 1828h0M908 1834h0M913 1834h0M934 1834h0M968 1834h0M817 1840h0M837 1841h0M843 1840h0M857 1840h0M813 1845h0M928 1846h0M974 1846h0M817 1852h0M968 1857h0M928 1868h0M934 1869h0M951 1875h0" stroke="#5a4fa0" stroke-width="6.1" stroke-linecap="round"/>
<path d="M921 1696h0M814 1729h0M850 1793h0M964 1806h0M808 1810h0M894 1811h0M910 1817h0M811 1828h0M806 1834h0M828 1857h0M847 1858h0" stroke="#a3104a" stroke-width="6.1" stroke-linecap="round"/>
<rect x="121.0" y="1900.6" width="200.0" height="198.4" fill="#f8f6f7"/>
<path d="M125 1905L221 1907L301 1911L315 1960L311 2039L261 2069L221 2095L161 2089L141 2059L125 2000Z" fill="#eedfe7"/>
<rect x="121.0" y="1900.6" width="200.0" height="198.4" fill="#fff" filter="url(#th1)" opacity="0.4"/>
<path d="M174 1906h0M207 1907h0M170 1912h0M197 1913h0M257 1912h0M271 1912h0M141 1918h0M161 1918h0M174 1918h0M181 1918h0M187 1918h0M194 1919h0M158 1925h0M218 1924h0M264 1923h0M292 1924h0M153 1930h0M174 1929h0M228 1930h0M247 1930h0M262 1929h0M281 1929h0M157 1935h0M230 1936h0M237 1936h0M284 1936h0M167 1941h0M151 1948h0M238 1947h0M290 1947h0M134 1952h0M187 1953h0M195 1953h0M294 1953h0M302 1953h0M158 1958h0M165 1959h0M218 1959h0M245 1959h0M128 1964h0M148 1964h0M194 1965h0M201 1965h0M191 1971h0M287 1977h0M309 1977h0M134 1987h0M160 1988h0M137 1994h0M190 1994h0M198 1994h0M251 1993h0M299 1993h0M141 2000h0M213 1999h0M221 1999h0M274 2000h0M288 1999h0M197 2005h0M225 2006h0M312 2006h0M220 2011h0M301 2012h0M150 2017h0M204 2018h0M160 2023h0M214 2022h0M287 2022h0M223 2028h0M285 2029h0M161 2035h0M275 2034h0M170 2040h0M291 2039h0M298 2039h0M224 2052h0M161 2058h0M274 2057h0M171 2064h0M197 2064h0M194 2069h0M211 2076h0M221 2081h0" stroke="#fdf7b0" stroke-width="6.1" stroke-linecap="round"/>
<path d="M221 1907h0M131 1913h0M150 1912h0M264 1912h0M291 1913h0M133 1918h0M234 1918h0M275 1917h0M131 1924h0M258 1935h0M187 1941h0M275 1942h0M128 1953h0M147 1953h0M154 1953h0M201 1953h0M221 1954h0M170 1959h0M144 1971h0M210 1971h0M292 1971h0M154 1977h0M228 1976h0M177 1982h0M271 1981h0M128 1988h0M288 1987h0M294 1988h0M144 1994h0M244 1994h0M180 1999h0M295 1999h0M251 2005h0M277 2006h0M298 2006h0M160 2011h0M174 2011h0M308 2011h0M187 2023h0M221 2023h0M261 2023h0M307 2023h0M171 2028h0M147 2035h0M168 2035h0M207 2035h0M244 2041h0M270 2041h0M160 2045h0M168 2046h0M221 2046h0M252 2052h0M157 2063h0M217 2064h0M181 2069h0M251 2075h0M204 2086h0" stroke="#fde08a" stroke-width="6.1" stroke-linecap="round"/>
<path d="M154 1907h0M188 1907h0M231 1912h0M167 1918h0M207 1930h0M242 1930h0M240 1941h0M164 1947h0M235 1977h0M309 2000h0M288 2010h0M299 2029h0M211 2040h0M208 2058h0M144 2062h0M197 2074h0M204 2074h0" stroke="#a9dba0" stroke-width="6.1" stroke-linecap="round"/>
<path d="M204 1912h0M218 1913h0M244 1912h0M288 1919h0M295 1919h0M237 1923h0M127 1930h0M254 1930h0M275 1929h0M287 1931h0M294 1929h0M300 1929h0M151 1936h0M204 1936h0M251 1935h0M271 1935h0M291 1935h0M147 1942h0M153 1941h0M193 1941h0M234 1941h0M137 1947h0M231 1948h0M245 1947h0M285 1948h0M312 1947h0M180 1953h0M254 1953h0M308 1953h0M231 1959h0M258 1959h0M277 1959h0M298 1959h0M140 1964h0M175 1964h0M188 1964h0M240 1964h0M254 1965h0M268 1964h0M281 1965h0M204 1971h0M251 1971h0M265 1970h0M270 1971h0M181 1976h0M281 1977h0M130 1982h0M144 1982h0M191 1983h0M204 1982h0M210 1983h0M224 1982h0M244 1983h0M258 1982h0M284 1982h0M298 1982h0M304 1982h0M148 1987h0M201 1988h0M207 1988h0M247 1987h0M274 1987h0M281 1988h0M130 1993h0M217 1993h0M237 1994h0M291 1993h0M174 2000h0M188 1999h0M301 2000h0M147 2011h0M168 2011h0M181 2011h0M213 2011h0M254 2011h0M177 2017h0M185 2017h0M197 2016h0M212 2017h0M231 2016h0M251 2016h0M167 2022h0M234 2023h0M301 2022h0M177 2028h0M245 2028h0M282 2035h0M308 2035h0M144 2041h0M150 2040h0M158 2041h0M231 2039h0M154 2046h0M181 2046h0M208 2045h0M248 2046h0M261 2046h0M268 2045h0M274 2045h0M287 2046h0M144 2051h0M218 2051h0M244 2051h0M221 2057h0M233 2058h0M242 2057h0M178 2063h0M184 2063h0M191 2064h0M251 2063h0M174 2068h0M228 2069h0M234 2069h0M190 2075h0M231 2075h0M170 2087h0M191 2086h0M210 2087h0M218 2086h0M230 2086h0" stroke="#fdac5e" stroke-width="6.1" stroke-linecap="round"/>
<path d="M126 1907h0M134 1906h0M147 1907h0M193 1907h0M137 1913h0M157 1912h0M178 1912h0M285 1913h0M221 1918h0M268 1918h0M281 1918h0M258 1924h0M271 1924h0M305 1924h0M140 1930h0M168 1930h0M160 1941h0M207 1941h0M214 1941h0M267 1941h0M157 1947h0M190 1948h0M161 1953h0M207 1952h0M267 1953h0M136 1959h0M151 1959h0M204 1959h0M211 1959h0M251 1960h0M305 1959h0M221 1964h0M228 1964h0M247 1965h0M288 1965h0M315 1965h0M131 1970h0M137 1970h0M150 1970h0M218 1971h0M285 1970h0M173 1977h0M221 1977h0M268 1976h0M151 1982h0M164 1982h0M252 1982h0M187 1988h0M194 1988h0M214 1988h0M164 1994h0M171 1993h0M231 1994h0M265 1994h0M278 1993h0M304 1994h0M134 1999h0M153 1999h0M130 2005h0M165 2006h0M204 2005h0M264 2006h0M270 2006h0M285 2006h0M292 2006h0M187 2011h0M241 2011h0M248 2012h0M261 2012h0M274 2011h0M281 2011h0M138 2016h0M143 2016h0M217 2017h0M238 2017h0M258 2017h0M278 2017h0M305 2016h0M133 2023h0M147 2022h0M173 2022h0M181 2023h0M274 2023h0M198 2028h0M311 2029h0M195 2035h0M221 2035h0M228 2034h0M248 2034h0M218 2041h0M238 2052h0M271 2051h0M201 2057h0M247 2057h0M164 2064h0M238 2063h0M244 2064h0M258 2064h0M168 2069h0M201 2069h0M220 2070h0M157 2074h0M164 2075h0M184 2075h0M224 2076h0M237 2075h0M227 2080h0M234 2081h0M176 2087h0M214 2092h0" stroke="#f26a43" stroke-width="6.1" stroke-linecap="round"/>
<path d="M181 1907h0M191 1912h0M237 1913h0M208 1918h0M180 1930h0M130 1935h0M171 1936h0M197 1936h0M217 1936h0M305 1936h0M181 1942h0M220 1942h0M288 1942h0M144 1947h0M177 1947h0M264 1947h0M278 1946h0M304 1947h0M288 1952h0M144 1959h0M224 1958h0M312 1959h0M275 1965h0M184 1970h0M238 1970h0M148 1976h0M198 1982h0M231 1982h0M312 1981h0M254 1988h0M247 1999h0M151 2005h0M157 2006h0M184 2006h0M258 2006h0M154 2011h0M201 2011h0M190 2016h0M311 2016h0M228 2023h0M241 2022h0M143 2028h0M257 2029h0M154 2034h0M174 2034h0M254 2034h0M190 2039h0M265 2040h0M278 2041h0M174 2045h0M150 2052h0M170 2052h0M204 2052h0M154 2058h0M174 2057h0M187 2058h0M193 2058h0M261 2057h0M150 2063h0M225 2064h0M231 2064h0M207 2069h0M194 2081h0M200 2080h0M207 2081h0M164 2086h0M184 2087h0M220 2093h0" stroke="#d0364f" stroke-width="6.1" stroke-linecap="round"/>
<path d="M160 1907h0M167 1906h0M201 1906h0M214 1907h0M164 1913h0M184 1912h0M225 1912h0M251 1912h0M127 1918h0M148 1918h0M154 1918h0M200 1919h0M215 1918h0M227 1919h0M241 1918h0M247 1917h0M254 1918h0M262 1918h0M302 1919h0M137 1924h0M150 1925h0M170 1924h0M178 1923h0M183 1924h0M191 1923h0M198 1925h0M204 1924h0M211 1924h0M223 1925h0M231 1925h0M244 1924h0M251 1924h0M284 1925h0M297 1924h0M134 1930h0M147 1930h0M160 1929h0M187 1929h0M194 1931h0M201 1929h0M214 1930h0M234 1931h0M268 1930h0M137 1935h0M144 1935h0M164 1935h0M177 1936h0M185 1936h0M191 1935h0M211 1936h0M225 1935h0M244 1935h0M264 1936h0M278 1935h0M134 1942h0M140 1941h0M174 1942h0M200 1941h0M228 1942h0M255 1941h0M261 1941h0M282 1942h0M294 1941h0M301 1942h0M307 1941h0M130 1947h0M170 1947h0M184 1948h0M198 1948h0M204 1947h0M210 1947h0M217 1947h0M225 1947h0M250 1947h0M258 1947h0M272 1948h0M299 1948h0M140 1953h0M167 1952h0M174 1953h0M215 1953h0M228 1954h0M234 1953h0M248 1954h0M261 1952h0M275 1953h0M282 1953h0M130 1959h0M178 1959h0M184 1958h0M197 1958h0M237 1958h0M264 1959h0M271 1959h0M284 1958h0M290 1958h0M134 1964h0M154 1965h0M161 1964h0M167 1965h0M181 1964h0M207 1965h0M215 1965h0M261 1964h0M301 1964h0M157 1970h0M163 1970h0M171 1970h0M177 1971h0M197 1971h0M224 1970h0M231 1970h0M244 1970h0M257 1970h0M278 1971h0M298 1970h0M305 1971h0M312 1970h0M127 1976h0M134 1975h0M141 1977h0M160 1976h0M167 1976h0M193 1976h0M201 1975h0M207 1977h0M214 1977h0M241 1976h0M247 1977h0M255 1977h0M274 1977h0M295 1976h0M301 1976h0M137 1982h0M157 1982h0M170 1981h0M183 1981h0M217 1983h0M237 1983h0M265 1982h0M278 1982h0M291 1983h0M140 1987h0M154 1988h0M167 1988h0M175 1988h0M221 1988h0M235 1987h0M240 1988h0M261 1988h0M268 1988h0M301 1989h0M308 1988h0M150 1994h0M157 1993h0M177 1994h0M184 1994h0M205 1994h0M257 1993h0M271 1994h0M285 1994h0M311 1993h0M147 1999h0M195 1999h0M201 1999h0M208 2000h0M227 2000h0M241 1999h0M261 2000h0M268 1999h0M280 1999h0M143 2005h0M170 2006h0M177 2005h0M191 2005h0M210 2005h0M218 2005h0M237 2006h0M244 2005h0M305 2006h0M134 2011h0M140 2011h0M208 2011h0M227 2011h0M268 2011h0M295 2011h0M131 2017h0M157 2017h0M163 2018h0M170 2017h0M225 2017h0M244 2016h0M264 2017h0M271 2016h0M285 2017h0M291 2016h0M298 2017h0M140 2023h0M154 2023h0M195 2023h0M201 2022h0M208 2023h0M248 2023h0M267 2023h0M282 2023h0M294 2023h0M137 2029h0M151 2028h0M157 2029h0M163 2029h0M184 2028h0M191 2029h0M204 2029h0M211 2028h0M218 2028h0M232 2029h0M251 2029h0M264 2028h0M270 2028h0M278 2029h0M291 2029h0M305 2029h0M141 2035h0M201 2034h0M213 2034h0M234 2035h0M241 2035h0M261 2034h0M267 2034h0M288 2035h0M294 2035h0M137 2041h0M163 2040h0M177 2041h0M184 2041h0M198 2039h0M204 2040h0M224 2041h0M238 2040h0M257 2040h0M284 2040h0M305 2040h0M147 2046h0M194 2045h0M200 2045h0M213 2046h0M235 2046h0M241 2046h0M254 2046h0M281 2046h0M294 2047h0M157 2052h0M163 2051h0M184 2051h0M191 2051h0M211 2051h0M231 2051h0M265 2052h0M278 2051h0M284 2051h0M146 2057h0M167 2057h0M181 2057h0M214 2057h0M227 2058h0M254 2057h0M268 2058h0M204 2064h0M265 2063h0M154 2070h0M161 2069h0M187 2069h0M214 2070h0M247 2070h0M254 2070h0M261 2069h0M170 2074h0M177 2074h0M218 2076h0M244 2076h0M160 2080h0M167 2081h0M174 2080h0M180 2080h0M187 2081h0M214 2081h0M240 2080h0M198 2087h0M225 2087h0M201 2092h0M207 2093h0" stroke="#a3104a" stroke-width="6.1" stroke-linecap="round"/>
<rect x="340.0" y="1900.6" width="197.0" height="198.4" fill="#f8f6f7"/>
<path d="M340 1916L438 1911L537 1920L537 2099L478 2089L419 2075L340 2079Z" fill="#efdfe8"/>
<rect x="340.0" y="1900.6" width="197.0" height="198.4" fill="#fff" filter="url(#th4)" opacity="0.8"/>
<path d="M530 1924h0M407 1929h0M433 1941h0M450 1958h0M403 1983h0M490 2005h0M460 2069h0M470 2086h0" stroke="#fdf7b0" stroke-width="6.1" stroke-linecap="round"/>
<path d="M416 1913h0M497 1936h0M406 2011h0M514 2012h0M517 2051h0" stroke="#fde08a" stroke-width="6.1" stroke-linecap="round"/>
<path d="M373 1942h0M350 1959h0M366 1965h0M443 1981h0M450 1983h0M446 2047h0" stroke="#a9dba0" stroke-width="6.1" stroke-linecap="round"/>
<path d="M359 1918h0M389 1994h0M369 2051h0M497 2075h0M507 2080h0" stroke="#5fbfa6" stroke-width="6.1" stroke-linecap="round"/>
<path d="M503 1936h0M433 1965h0M509 1994h0M463 2005h0M424 2040h0M412 2045h0M353 2058h0M523 2076h0" stroke="#fdac5e" stroke-width="6.1" stroke-linecap="round"/>
<path d="M413 1953h0M430 1959h0M523 1970h0M370 1982h0M390 2006h0M403 2041h0M464 2040h0M521 2047h0M513 2058h0M442 2075h0" stroke="#3b7fb9" stroke-width="6.1" stroke-linecap="round"/>
<path d="M454 1988h0M377 1994h0M423 2029h0M507 2034h0M376 2064h0" stroke="#f26a43" stroke-width="6.1" stroke-linecap="round"/>
<path d="M350 1924h0M359 1929h0M460 1941h0M453 1953h0M490 1959h0M523 1959h0M439 1964h0M363 1994h0M406 2000h0M483 2006h0M523 2017h0M497 2029h0M497 2040h0M366 2047h0M389 2051h0M491 2063h0" stroke="#5a4fa0" stroke-width="6.1" stroke-linecap="round"/>
<path d="M456 2017h0M406 2045h0M476 2052h0M427 2058h0M507 2092h0" stroke="#a3104a" stroke-width="6.1" stroke-linecap="round"/>
<rect x="570.0" y="1900.6" width="200.0" height="198.4" fill="#f8f6f7"/>
<path d="M574 1905L670 1907L750 1911L764 1960L760 2039L710 2069L670 2095L610 2089L590 2059L574 2000Z" fill="#eedfe7"/>
<rect x="570.0" y="1900.6" width="200.0" height="198.4" fill="#fff" filter="url(#th1)" opacity="0.4"/>
<path d="M664 1906h0M654 1913h0M660 1912h0M687 1912h0M693 1913h0M656 1918h0M669 1918h0M690 1917h0M751 1918h0M612 1924h0M666 1923h0M694 1924h0M597 1929h0M603 1930h0M697 1931h0M724 1930h0M737 1929h0M654 1936h0M693 1936h0M707 1936h0M726 1936h0M603 1941h0M709 1941h0M737 1941h0M720 1948h0M727 1947h0M753 1947h0M650 1953h0M663 1953h0M690 1953h0M757 1954h0M626 1959h0M659 1958h0M667 1959h0M687 1959h0M706 1959h0M747 1959h0M650 1965h0M677 1964h0M763 1965h0M579 1971h0M700 1971h0M714 1971h0M720 1970h0M726 1971h0M741 1971h0M577 1977h0M650 1977h0M657 1976h0M704 1977h0M750 1976h0M646 1982h0M693 1981h0M639 1993h0M660 1993h0M686 1994h0M734 1994h0M704 2000h0M757 1999h0M673 2004h0M687 2005h0M720 2006h0M727 2005h0M754 2004h0M761 2005h0M683 2011h0M723 2011h0M737 2010h0M640 2017h0M673 2017h0M693 2016h0M726 2016h0M747 2016h0M689 2022h0M653 2028h0M667 2029h0M681 2028h0M713 2028h0M720 2028h0M733 2028h0M747 2028h0M753 2028h0M630 2034h0M663 2034h0M716 2034h0M744 2035h0M660 2040h0M693 2041h0M714 2040h0M677 2045h0M697 2047h0M730 2046h0M737 2045h0M613 2052h0M660 2052h0M707 2051h0M726 2052h0M734 2051h0M691 2058h0M697 2058h0M716 2058h0M640 2063h0M656 2069h0M670 2069h0M619 2076h0M666 2075h0M673 2074h0M679 2086h0" stroke="#fdf7b0" stroke-width="6.1" stroke-linecap="round"/>
<path d="M747 1913h0M650 1918h0M663 1919h0M704 1918h0M717 1918h0M724 1917h0M731 1919h0M714 1923h0M649 1929h0M664 1929h0M683 1930h0M646 1936h0M660 1935h0M674 1936h0M679 1936h0M713 1936h0M747 1936h0M723 1942h0M730 1941h0M660 1947h0M680 1948h0M759 1947h0M731 1952h0M733 1959h0M741 1959h0M754 1959h0M761 1971h0M669 1976h0M683 1976h0M653 1982h0M707 1981h0M713 1983h0M697 1988h0M757 1988h0M747 1994h0M753 1994h0M684 2000h0M711 2000h0M680 2006h0M637 2011h0M656 2011h0M677 2011h0M689 2011h0M653 2017h0M659 2017h0M680 2017h0M753 2017h0M760 2017h0M677 2023h0M750 2022h0M693 2029h0M642 2035h0M719 2040h0M747 2040h0M704 2046h0M697 2069h0" stroke="#fde08a" stroke-width="6.1" stroke-linecap="round"/>
<path d="M576 1907h0M656 1906h0M579 1912h0M713 1912h0M740 1912h0M616 1918h0M644 1918h0M677 1918h0M684 1918h0M580 1924h0M626 1925h0M646 1925h0M659 1923h0M673 1924h0M706 1924h0M720 1923h0M727 1924h0M610 1930h0M691 1930h0M580 1936h0M592 1936h0M701 1936h0M734 1935h0M676 1942h0M689 1942h0M696 1941h0M717 1942h0M750 1942h0M607 1947h0M666 1947h0M686 1948h0M713 1947h0M610 1953h0M622 1954h0M637 1953h0M676 1954h0M703 1953h0M724 1953h0M750 1953h0M680 1959h0M693 1959h0M663 1965h0M697 1965h0M710 1964h0M646 1971h0M679 1971h0M687 1971h0M747 1970h0M636 1976h0M689 1976h0M673 1982h0M720 1983h0M576 1988h0M582 1988h0M656 1987h0M690 1988h0M704 1989h0M724 1988h0M730 1988h0M736 1988h0M751 1987h0M593 1994h0M634 1994h0M679 1993h0M693 1994h0M713 1994h0M721 1994h0M637 1999h0M643 2000h0M723 2000h0M736 1999h0M751 2000h0M660 2005h0M700 2005h0M733 2006h0M582 2012h0M590 2011h0M616 2011h0M670 2012h0M717 2011h0M730 2011h0M606 2017h0M619 2017h0M633 2016h0M667 2017h0M713 2017h0M734 2017h0M643 2023h0M656 2022h0M723 2022h0M737 2022h0M758 2023h0M686 2028h0M726 2029h0M760 2028h0M597 2035h0M691 2035h0M579 2040h0M593 2039h0M600 2041h0M619 2039h0M753 2040h0M583 2046h0M630 2046h0M683 2047h0M690 2047h0M724 2046h0M743 2045h0M619 2051h0M666 2052h0M681 2051h0M720 2052h0M643 2057h0M704 2058h0M666 2064h0M679 2063h0M707 2063h0M663 2069h0M690 2069h0M710 2070h0M681 2074h0M630 2081h0M643 2081h0M683 2080h0M580 2087h0M613 2086h0" stroke="#a9dba0" stroke-width="6.1" stroke-linecap="round"/>
<path d="M590 1907h0M602 1906h0M650 1906h0M670 1907h0M586 1912h0M673 1913h0M719 1913h0M590 1918h0M623 1919h0M696 1918h0M619 1923h0M633 1925h0M686 1924h0M740 1924h0M577 1930h0M630 1930h0M656 1930h0M704 1930h0M710 1930h0M717 1929h0M589 1941h0M609 1941h0M616 1942h0M629 1941h0M744 1941h0M599 1947h0M699 1948h0M576 1952h0M670 1953h0M710 1952h0M727 1960h0M603 1965h0M609 1965h0M642 1964h0M704 1965h0M729 1965h0M750 1965h0M724 1977h0M737 1977h0M743 1977h0M620 1982h0M686 1982h0M700 1983h0M760 1982h0M684 1988h0M744 1989h0M654 1994h0M700 1993h0M596 1999h0M603 1999h0M650 1999h0M606 2006h0M613 2006h0M667 2005h0M622 2012h0M642 2010h0M650 2011h0M743 2011h0M700 2016h0M650 2023h0M684 2023h0M731 2022h0M613 2028h0M640 2028h0M623 2034h0M670 2034h0M676 2034h0M697 2033h0M613 2041h0M640 2040h0M653 2040h0M681 2040h0M701 2040h0M576 2045h0M576 2057h0M582 2057h0M589 2057h0M610 2058h0M630 2057h0M709 2058h0M646 2063h0M673 2064h0M686 2064h0M694 2063h0M642 2069h0M579 2075h0M592 2074h0M616 2081h0M636 2080h0M690 2081h0M619 2087h0M672 2087h0M590 2092h0M610 2093h0M622 2093h0M650 2092h0M670 2092h0" stroke="#5fbfa6" stroke-width="6.1" stroke-linecap="round"/>
<path d="M701 1912h0M743 1918h0M653 1924h0M677 1929h0M754 1935h0M650 1942h0M664 1941h0M657 1954h0M696 1953h0M737 1964h0M660 1970h0M674 1971h0M693 1970h0M733 1971h0M753 1970h0M676 1977h0M717 1987h0M674 1994h0M663 1999h0M677 1999h0M689 1999h0M746 2005h0M687 2017h0M636 2023h0M710 2023h0M716 2023h0M743 2022h0M647 2029h0M656 2034h0M703 2034h0M757 2034h0M677 2069h0M683 2069h0" stroke="#fdac5e" stroke-width="6.1" stroke-linecap="round"/>
<path d="M633 1912h0M666 1912h0M679 1912h0M707 1913h0M596 1918h0M609 1918h0M637 1918h0M754 1924h0M590 1929h0M750 1930h0M640 1935h0M666 1935h0M576 1942h0M636 1941h0M586 1947h0M613 1947h0M673 1946h0M733 1947h0M597 1954h0M630 1953h0M600 1959h0M700 1959h0M760 1958h0M596 1964h0M623 1965h0M636 1964h0M683 1964h0M744 1965h0M586 1970h0M600 1971h0M613 1970h0M627 1970h0M633 1970h0M662 1977h0M717 1976h0M726 1982h0M610 1988h0M630 1989h0M649 1988h0M711 1989h0M580 1994h0M606 1994h0M614 1993h0M740 1993h0M731 2000h0M627 2006h0M693 2006h0M602 2010h0M630 2010h0M599 2017h0M740 2018h0M589 2022h0M596 2022h0M704 2022h0M659 2028h0M673 2028h0M590 2034h0M609 2034h0M586 2040h0M606 2040h0M667 2040h0M673 2040h0M706 2039h0M590 2046h0M609 2045h0M657 2046h0M579 2052h0M593 2051h0M600 2052h0M640 2052h0M700 2051h0M616 2057h0M676 2057h0M600 2063h0M660 2063h0M607 2074h0M633 2075h0M654 2076h0M633 2086h0M640 2086h0M595 2092h0M616 2092h0M629 2093h0" stroke="#3b7fb9" stroke-width="6.1" stroke-linecap="round"/>
<path d="M733 1913h0M680 1924h0M747 1925h0M740 1947h0M720 1959h0M757 1964h0M757 1977h0M656 1999h0M647 2005h0M707 2005h0M714 2005h0M707 2016h0M663 2022h0" stroke="#f26a43" stroke-width="6.1" stroke-linecap="round"/>
<path d="M597 1907h0M609 1907h0M616 1907h0M622 1907h0M629 1907h0M637 1906h0M643 1906h0M593 1912h0M599 1912h0M612 1913h0M619 1913h0M626 1913h0M640 1912h0M647 1913h0M575 1918h0M582 1918h0M603 1918h0M629 1918h0M711 1918h0M585 1924h0M599 1925h0M606 1923h0M640 1925h0M582 1929h0M616 1930h0M622 1930h0M636 1929h0M730 1930h0M586 1936h0M613 1936h0M620 1936h0M627 1936h0M633 1936h0M687 1935h0M583 1942h0M596 1942h0M622 1942h0M656 1942h0M580 1947h0M593 1947h0M620 1947h0M626 1948h0M634 1947h0M639 1948h0M647 1947h0M653 1947h0M583 1952h0M603 1954h0M643 1953h0M744 1953h0M579 1959h0M587 1959h0M593 1959h0M607 1959h0M612 1958h0M619 1958h0M632 1958h0M647 1959h0M577 1964h0M589 1965h0M616 1964h0M630 1964h0M656 1965h0M670 1964h0M716 1965h0M593 1970h0M606 1970h0M619 1971h0M640 1971h0M666 1970h0M583 1977h0M589 1976h0M595 1976h0M609 1976h0M616 1976h0M644 1975h0M709 1976h0M580 1983h0M586 1982h0M593 1982h0M599 1982h0M605 1982h0M627 1982h0M634 1982h0M681 1982h0M754 1982h0M590 1988h0M596 1988h0M603 1987h0M636 1988h0M669 1988h0M586 1994h0M599 1994h0M627 1994h0M667 1993h0M582 1999h0M590 1999h0M610 2000h0M630 1999h0M579 2005h0M586 2006h0M599 2005h0M620 2006h0M633 2005h0M640 2005h0M576 2010h0M596 2011h0M609 2011h0M662 2010h0M579 2017h0M593 2016h0M627 2017h0M577 2023h0M583 2022h0M603 2022h0M609 2023h0M616 2023h0M623 2022h0M630 2023h0M579 2028h0M586 2029h0M600 2029h0M607 2028h0M620 2028h0M627 2028h0M633 2028h0M707 2029h0M576 2035h0M603 2035h0M637 2035h0M596 2046h0M602 2046h0M616 2045h0M622 2046h0M637 2046h0M650 2047h0M585 2052h0M606 2052h0M627 2051h0M633 2052h0M647 2051h0M653 2052h0M713 2052h0M596 2057h0M603 2057h0M622 2058h0M636 2058h0M650 2057h0M657 2058h0M724 2058h0M579 2063h0M587 2063h0M593 2063h0M606 2064h0M620 2063h0M653 2063h0M699 2063h0M576 2070h0M583 2070h0M590 2069h0M596 2070h0M603 2069h0M609 2068h0M623 2069h0M636 2069h0M649 2069h0M587 2075h0M599 2075h0M626 2075h0M660 2074h0M687 2075h0M576 2081h0M589 2080h0M596 2080h0M622 2081h0M650 2081h0M656 2081h0M663 2081h0M585 2087h0M607 2086h0M626 2086h0M647 2087h0M653 2086h0M666 2087h0M582 2093h0M602 2092h0M643 2092h0M657 2093h0M664 2092h0" stroke="#5a4fa0" stroke-width="6.1" stroke-linecap="round"/>
<rect x="787.6" y="1900.6" width="196.9" height="198.4" fill="#f8f6f7"/>
<path d="M788 1916L886 1911L984 1920L984 2099L925 2089L866 2075L788 2079Z" fill="#efdfe8"/>
<rect x="787.6" y="1900.6" width="196.9" height="198.4" fill="#fff" filter="url(#th4)" opacity="0.8"/>
<path d="M897 1994h0M806 1999h0M891 2018h0M891 2040h0M923 2041h0M794 2057h0" stroke="#fdf7b0" stroke-width="6.1" stroke-linecap="round"/>
<path d="M845 1925h0M974 1965h0M948 2012h0M860 2046h0M867 2069h0M830 2075h0" stroke="#a9dba0" stroke-width="6.1" stroke-linecap="round"/>
<path d="M918 2028h0M856 2040h0M978 2040h0M887 2046h0M961 2058h0" stroke="#5fbfa6" stroke-width="6.1" stroke-linecap="round"/>
<path d="M850 1936h0M912 1935h0M844 1947h0M947 1964h0M895 2068h0M951 2087h0" stroke="#3b7fb9" stroke-width="6.1" stroke-linecap="round"/>
<path d="M900 1917h0M810 1924h0M871 1924h0M877 1936h0M938 1935h0M881 1941h0M806 1952h0M811 1960h0M881 1965h0M901 1964h0M878 1970h0M918 1971h0M868 1976h0M891 1982h0M814 1988h0M912 1993h0M957 2006h0M840 2010h0M901 2012h0M908 2011h0M915 2011h0M878 2017h0M905 2017h0M808 2034h0M922 2033h0M836 2039h0M911 2041h0M830 2052h0M843 2052h0M864 2052h0M855 2057h0M883 2064h0M917 2064h0M955 2069h0M843 2075h0M918 2074h0M941 2081h0M965 2087h0" stroke="#5a4fa0" stroke-width="6.1" stroke-linecap="round"/>
<path d="M820 1918h0M948 1988h0M868 2011h0M831 2017h0M972 2040h0" stroke="#a3104a" stroke-width="6.1" stroke-linecap="round"/>
<text x="1129.0" y="644.5" font-size="31" font-weight="bold">d</text>
<text x="1360.0" y="646.0" text-anchor="middle">SIGLEC9<tspan font-size="13.6" dy="-8.6">+</tspan><tspan dy="8.6">​</tspan>SEPP1<tspan font-size="13.6" dy="-8.6">+</tspan><tspan dy="8.6">​</tspan> TAMs</text>
<text x="1724.0" y="646.0" text-anchor="middle">SIGLEC9<tspan font-size="13.6" dy="-8.6">+</tspan><tspan dy="8.6">​</tspan>MARCO<tspan font-size="13.6" dy="-8.6">+</tspan><tspan dy="8.6">​</tspan> TAMs</text>
<text x="1289.7" y="680.8"><tspan font-style="italic">P</tspan> = 0.062</text>
<line x1="1290.8" y1="687.5" x2="1399.0" y2="687.5" stroke="#000" stroke-width="2.4"/>
<text x="1646" y="680.8"><tspan font-style="italic">P</tspan> &lt; 2.2×10<tspan font-size="13.5" dy="-9">-16</tspan></text>
<line x1="1659.0" y1="687.5" x2="1764.0" y2="687.5" stroke="#000" stroke-width="2.4"/>
<line x1="1228.4" y1="703.0" x2="1228.4" y2="1066.8" stroke="#000" stroke-width="2.4"/>
<line x1="1227.2" y1="1066.8" x2="1465.0" y2="1066.8" stroke="#000" stroke-width="2.4"/>
<line x1="1222.4" y1="1050.0" x2="1228.4" y2="1050.0" stroke="#000" stroke-width="2"/>
<text x="1211.4" y="1058.4" font-size="23.4" text-anchor="end">0</text>
<line x1="1222.4" y1="974.7" x2="1228.4" y2="974.7" stroke="#000" stroke-width="2"/>
<text x="1211.4" y="983.1" font-size="23.4" text-anchor="end">0.05</text>
<line x1="1222.4" y1="899.4" x2="1228.4" y2="899.4" stroke="#000" stroke-width="2"/>
<text x="1211.4" y="907.8" font-size="23.4" text-anchor="end">0.10</text>
<line x1="1222.4" y1="824.1" x2="1228.4" y2="824.1" stroke="#000" stroke-width="2"/>
<text x="1211.4" y="832.5" font-size="23.4" text-anchor="end">0.15</text>
<line x1="1222.4" y1="748.8" x2="1228.4" y2="748.8" stroke="#000" stroke-width="2"/>
<text x="1211.4" y="757.2" font-size="23.4" text-anchor="end">0.20</text>
<line x1="1292.5" y1="1066.8" x2="1292.5" y2="1073.8" stroke="#000" stroke-width="2"/>
<text x="1305.5" y="1095.8" font-size="23" text-anchor="end" transform="rotate(-45 1305.5 1095.8)">Non-res</text>
<line x1="1402.2" y1="1066.8" x2="1402.2" y2="1073.8" stroke="#000" stroke-width="2"/>
<text x="1415.2" y="1095.8" font-size="23" text-anchor="end" transform="rotate(-45 1415.2 1095.8)">Res</text>
<text x="1148.0" y="878.9" text-anchor="middle" transform="rotate(-90 1148.0 878.9)">Frequency</text>
<path d="M1299.5 1050.0C1301.3 1048.0 1305.7 1042.5 1310.5 1038.0C1315.3 1033.4 1322.7 1028.4 1328.5 1022.9C1334.3 1017.4 1343.2 1010.3 1345.5 1004.8C1347.8 999.3 1344.7 994.8 1342.5 989.8C1340.3 984.7 1336.2 981.0 1332.5 974.7C1328.8 968.4 1324.0 959.6 1320.5 952.1C1317.0 944.6 1314.3 938.3 1311.5 929.5C1308.7 920.7 1305.5 908.2 1303.5 899.4C1301.5 890.6 1300.8 884.3 1299.5 876.8C1298.2 869.3 1296.7 859.7 1295.5 854.2C1294.3 848.7 1293.0 845.4 1292.5 843.7L1292.5 843.7C1292.0 845.4 1290.7 848.7 1289.5 854.2C1288.3 859.7 1286.8 869.3 1285.5 876.8C1284.2 884.3 1283.5 890.6 1281.5 899.4C1279.5 908.2 1276.3 920.7 1273.5 929.5C1270.7 938.3 1268.0 944.6 1264.5 952.1C1261.0 959.6 1256.2 968.4 1252.5 974.7C1248.8 981.0 1244.7 984.7 1242.5 989.8C1240.3 994.8 1237.2 999.3 1239.5 1004.8C1241.8 1010.3 1250.7 1017.4 1256.5 1022.9C1262.3 1028.4 1269.7 1033.4 1274.5 1038.0C1279.3 1042.5 1283.7 1048.0 1285.5 1050.0Z" fill="#8cc641" stroke="#2b2b2b" stroke-width="2"/>
<line x1="1292.5" y1="1050.0" x2="1292.5" y2="845.2" stroke="#000" stroke-width="2.2"/>
<rect x="1281.9" y="944.6" width="21.2" height="63.3" fill="none" stroke="#000" stroke-width="2.4"/>
<line x1="1281.9" y1="986.7" x2="1303.1" y2="986.7" stroke="#000" stroke-width="2.4"/>
<path d="M1292.5 845.2h0M1292.5 842.9h0M1292.5 840.7h0M1292.5 838.4h0M1292.5 836.1h0M1292.5 833.9h0M1292.5 831.6h0M1292.5 829.4h0M1292.5 827.1h0M1292.5 824.9h0M1292.5 822.6h0M1292.5 820.3h0M1292.5 818.1h0M1292.5 812.1h0M1292.5 807.5h0M1292.5 803.0h0M1292.5 798.5h0M1292.5 794.0h0M1292.5 789.5h0M1292.5 784.9h0M1292.5 780.4h0M1292.5 775.9h0M1292.5 771.4h0M1292.5 766.9h0M1292.5 762.4h0M1292.5 757.8h0M1292.5 753.3h0M1292.5 748.8h0M1292.5 741.3h0M1292.5 733.7h0M1292.5 727.7h0M1292.5 721.7h0M1292.5 718.7h0" stroke="#000" stroke-width="5.2" stroke-linecap="round"/>
<path d="M1405.2 1050.0C1406.7 1048.0 1409.4 1043.0 1414.2 1038.0C1419.0 1032.9 1428.5 1026.7 1434.2 1019.9C1439.9 1013.1 1446.0 1003.6 1448.2 997.3C1450.4 991.0 1447.9 987.2 1447.2 982.2C1446.5 977.2 1444.4 972.2 1444.2 967.2C1444.0 962.1 1447.2 957.9 1446.2 952.1C1445.2 946.3 1441.7 939.3 1438.2 932.5C1434.7 925.8 1429.5 917.7 1425.2 911.4C1420.9 905.2 1415.5 899.9 1412.2 894.9C1408.9 889.9 1406.9 885.1 1405.2 881.3C1403.5 877.6 1402.7 873.8 1402.2 872.3L1402.2 872.3C1401.7 873.8 1400.9 877.6 1399.2 881.3C1397.5 885.1 1395.5 889.9 1392.2 894.9C1388.9 899.9 1383.5 905.2 1379.2 911.4C1374.9 917.7 1369.7 925.8 1366.2 932.5C1362.7 939.3 1359.2 946.3 1358.2 952.1C1357.2 957.9 1360.4 962.1 1360.2 967.2C1360.0 972.2 1357.9 977.2 1357.2 982.2C1356.5 987.2 1354.0 991.0 1356.2 997.3C1358.4 1003.6 1364.5 1013.1 1370.2 1019.9C1375.9 1026.7 1385.4 1032.9 1390.2 1038.0C1395.0 1043.0 1397.7 1048.0 1399.2 1050.0Z" fill="#fdd52f" stroke="#2b2b2b" stroke-width="2"/>
<line x1="1402.2" y1="1050.0" x2="1402.2" y2="872.3" stroke="#000" stroke-width="2.2"/>
<rect x="1391.6" y="947.6" width="21.2" height="54.2" fill="none" stroke="#000" stroke-width="2.4"/>
<line x1="1391.6" y1="974.7" x2="1412.8" y2="974.7" stroke="#000" stroke-width="2.4"/>
<path d="M1402.2 872.3h0M1402.2 867.8h0M1402.2 863.3h0M1402.2 858.7h0M1402.2 854.2h0M1402.2 849.7h0" stroke="#000" stroke-width="5.2" stroke-linecap="round"/>
<line x1="1594.4" y1="699.0" x2="1594.4" y2="1065.7" stroke="#000" stroke-width="2.4"/>
<line x1="1593.2" y1="1065.7" x2="1840.0" y2="1065.7" stroke="#000" stroke-width="2.4"/>
<line x1="1588.4" y1="1050.0" x2="1594.4" y2="1050.0" stroke="#000" stroke-width="2"/>
<text x="1577.4" y="1058.4" font-size="23.4" text-anchor="end">0</text>
<line x1="1588.4" y1="973.7" x2="1594.4" y2="973.7" stroke="#000" stroke-width="2"/>
<text x="1577.4" y="982.1" font-size="23.4" text-anchor="end">0.05</text>
<line x1="1588.4" y1="897.4" x2="1594.4" y2="897.4" stroke="#000" stroke-width="2"/>
<text x="1577.4" y="905.8" font-size="23.4" text-anchor="end">0.10</text>
<line x1="1588.4" y1="821.1" x2="1594.4" y2="821.1" stroke="#000" stroke-width="2"/>
<text x="1577.4" y="829.5" font-size="23.4" text-anchor="end">0.15</text>
<line x1="1588.4" y1="744.8" x2="1594.4" y2="744.8" stroke="#000" stroke-width="2"/>
<text x="1577.4" y="753.2" font-size="23.4" text-anchor="end">0.20</text>
<line x1="1661.0" y1="1065.7" x2="1661.0" y2="1072.7" stroke="#000" stroke-width="2"/>
<text x="1674.0" y="1094.7" font-size="23" text-anchor="end" transform="rotate(-45 1674.0 1094.7)">Non-res</text>
<line x1="1772.7" y1="1065.7" x2="1772.7" y2="1072.7" stroke="#000" stroke-width="2"/>
<text x="1785.7" y="1094.7" font-size="23" text-anchor="end" transform="rotate(-45 1785.7 1094.7)">Res</text>
<text x="1515.0" y="876.4" text-anchor="middle" transform="rotate(-90 1515.0 876.4)">Frequency</text>
<path d="M1661.0 973.7C1661.5 972.4 1662.7 969.1 1664.0 966.1C1665.3 963.0 1665.8 959.2 1669.0 955.4C1672.2 951.6 1677.0 947.8 1683.0 943.2C1689.0 938.6 1699.2 933.0 1705.0 927.9C1710.8 922.8 1717.0 917.7 1718.0 912.7C1719.0 907.6 1714.8 902.5 1711.0 897.4C1707.2 892.3 1700.2 887.2 1695.0 882.1C1689.8 877.1 1684.0 872.0 1680.0 866.9C1676.0 861.8 1673.3 856.7 1671.0 851.6C1668.7 846.5 1667.3 841.4 1666.0 836.4C1664.7 831.3 1663.8 824.9 1663.0 821.1C1662.2 817.3 1661.3 814.7 1661.0 813.5L1661.0 813.5C1660.7 814.7 1659.8 817.3 1659.0 821.1C1658.2 824.9 1657.3 831.3 1656.0 836.4C1654.7 841.4 1653.3 846.5 1651.0 851.6C1648.7 856.7 1646.0 861.8 1642.0 866.9C1638.0 872.0 1632.2 877.1 1627.0 882.1C1621.8 887.2 1614.8 892.3 1611.0 897.4C1607.2 902.5 1603.0 907.6 1604.0 912.7C1605.0 917.7 1611.2 922.8 1617.0 927.9C1622.8 933.0 1633.0 938.6 1639.0 943.2C1645.0 947.8 1649.8 951.6 1653.0 955.4C1656.2 959.2 1656.7 963.0 1658.0 966.1C1659.3 969.1 1660.5 972.4 1661.0 973.7Z" fill="#8cc641" stroke="#2b2b2b" stroke-width="2"/>
<line x1="1661.0" y1="1050.0" x2="1661.0" y2="821.1" stroke="#000" stroke-width="2.2"/>
<rect x="1649.3" y="883.7" width="23.4" height="39.7" fill="none" stroke="#000" stroke-width="2.4"/>
<line x1="1649.3" y1="906.6" x2="1672.7" y2="906.6" stroke="#000" stroke-width="2.4"/>
<path d="M1661.0 1050.0h0M1661.0 1030.2h0M1661.0 989.0h0M1661.0 985.9h0M1661.0 982.9h0M1661.0 979.8h0M1661.0 976.8h0M1661.0 973.7h0M1661.0 970.6h0M1661.0 967.6h0M1661.0 964.5h0M1661.0 961.5h0M1661.0 958.4h0M1661.0 955.4h0M1661.0 952.3h0M1661.0 949.3h0M1661.0 821.1h0M1661.0 818.0h0M1661.0 815.0h0M1661.0 811.9h0M1661.0 808.9h0M1661.0 805.8h0M1661.0 802.8h0M1661.0 799.7h0M1661.0 796.7h0M1661.0 793.6h0M1661.0 790.6h0M1661.0 787.5h0M1661.0 784.5h0M1661.0 781.4h0M1661.0 778.4h0M1661.0 775.3h0M1661.0 772.3h0M1661.0 769.2h0M1661.0 766.2h0M1661.0 763.1h0M1661.0 760.1h0M1661.0 752.4h0M1661.0 744.8h0M1661.0 737.2h0M1661.0 729.5h0M1661.0 721.9h0M1661.0 714.3h0M1661.0 706.6h0" stroke="#000" stroke-width="5.2" stroke-linecap="round"/>
<path d="M1777.7 1050.0C1777.5 1048.0 1776.5 1042.9 1776.7 1037.8C1776.9 1032.7 1776.9 1025.1 1778.7 1019.5C1780.5 1013.9 1784.4 1010.6 1787.7 1004.2C1791.0 997.9 1796.2 989.0 1798.7 981.3C1801.2 973.7 1802.0 966.1 1802.7 958.4C1803.4 950.8 1803.5 943.2 1802.7 935.5C1801.9 927.9 1799.7 919.0 1797.7 912.7C1795.7 906.3 1793.4 902.5 1790.7 897.4C1788.0 892.3 1784.0 887.2 1781.7 882.1C1779.4 877.1 1778.0 872.0 1776.7 866.9C1775.5 861.8 1774.9 855.9 1774.2 851.6C1773.5 847.3 1773.0 842.7 1772.7 840.9L1772.7 840.9C1772.5 842.7 1771.9 847.3 1771.2 851.6C1770.5 855.9 1770.0 861.8 1768.7 866.9C1767.5 872.0 1766.0 877.1 1763.7 882.1C1761.4 887.2 1757.4 892.3 1754.7 897.4C1752.0 902.5 1749.7 906.3 1747.7 912.7C1745.7 919.0 1743.5 927.9 1742.7 935.5C1741.9 943.2 1742.0 950.8 1742.7 958.4C1743.4 966.1 1744.2 973.7 1746.7 981.3C1749.2 989.0 1754.4 997.9 1757.7 1004.2C1761.0 1010.6 1764.9 1013.9 1766.7 1019.5C1768.5 1025.1 1768.5 1032.7 1768.7 1037.8C1768.9 1042.9 1767.9 1048.0 1767.7 1050.0Z" fill="#fdd52f" stroke="#2b2b2b" stroke-width="2"/>
<line x1="1772.7" y1="1050.0" x2="1772.7" y2="783.0" stroke="#000" stroke-width="2.2"/>
<rect x="1761.0" y="920.3" width="23.4" height="61.0" fill="none" stroke="#000" stroke-width="2.4"/>
<line x1="1761.0" y1="952.3" x2="1784.4" y2="952.3" stroke="#000" stroke-width="2.4"/>
<path d="M1772.7 783.0h0" stroke="#000" stroke-width="5.2" stroke-linecap="round"/>
<text x="1131.0" y="1195.5" font-size="31" font-weight="bold">e</text>
<text x="1368.0" y="1194.6" text-anchor="middle">SIGLEC9<tspan font-size="13.6" dy="-8.6">+</tspan><tspan dy="8.6">​</tspan>SEPP1<tspan font-size="13.6" dy="-8.6">+</tspan><tspan dy="8.6">​</tspan> TAMs</text>
<text x="1722.5" y="1194.6" text-anchor="middle">SIGLEC9<tspan font-size="13.6" dy="-8.6">+</tspan><tspan dy="8.6">​</tspan>MARCO<tspan font-size="13.6" dy="-8.6">+</tspan><tspan dy="8.6">​</tspan> TAMs</text>
<text x="1285.8" y="1228"><tspan font-style="italic">P</tspan> &lt; 2.2×10<tspan font-size="13.5" dy="-9">-16</tspan></text>
<line x1="1296.0" y1="1236.4" x2="1402.0" y2="1236.4" stroke="#000" stroke-width="2.4"/>
<text x="1655.7" y="1228"><tspan font-style="italic">P</tspan> &lt; 2.2×10<tspan font-size="13.5" dy="-9">-16</tspan></text>
<line x1="1667.0" y1="1236.4" x2="1772.7" y2="1236.4" stroke="#000" stroke-width="2.4"/>
<line x1="1221.7" y1="1261.4" x2="1221.7" y2="1622.4" stroke="#000" stroke-width="2.4"/>
<line x1="1220.5" y1="1622.4" x2="1493.0" y2="1622.4" stroke="#000" stroke-width="2.4"/>
<line x1="1215.7" y1="1605.7" x2="1221.7" y2="1605.7" stroke="#000" stroke-width="2"/>
<text x="1204.7" y="1614.1" font-size="23.4" text-anchor="end">0</text>
<line x1="1215.7" y1="1530.9" x2="1221.7" y2="1530.9" stroke="#000" stroke-width="2"/>
<text x="1204.7" y="1539.3" font-size="23.4" text-anchor="end">0.05</text>
<line x1="1215.7" y1="1456.1" x2="1221.7" y2="1456.1" stroke="#000" stroke-width="2"/>
<text x="1204.7" y="1464.5" font-size="23.4" text-anchor="end">0.10</text>
<line x1="1215.7" y1="1381.3" x2="1221.7" y2="1381.3" stroke="#000" stroke-width="2"/>
<text x="1204.7" y="1389.7" font-size="23.4" text-anchor="end">0.15</text>
<line x1="1215.7" y1="1306.5" x2="1221.7" y2="1306.5" stroke="#000" stroke-width="2"/>
<text x="1204.7" y="1314.9" font-size="23.4" text-anchor="end">0.20</text>
<line x1="1295.3" y1="1622.4" x2="1295.3" y2="1629.4" stroke="#000" stroke-width="2"/>
<text x="1305.3" y="1648.4" font-size="23" text-anchor="end" transform="rotate(-45 1305.3 1648.4)">Paratumor</text>
<line x1="1419.5" y1="1622.4" x2="1419.5" y2="1629.4" stroke="#000" stroke-width="2"/>
<text x="1429.5" y="1648.4" font-size="23" text-anchor="end" transform="rotate(-45 1429.5 1648.4)">Tumor core</text>
<text x="1150.0" y="1443.6" text-anchor="middle" transform="rotate(-90 1150.0 1443.6)">Frequency</text>
<path d="M1299.3 1605.7C1301.0 1604.0 1305.3 1599.0 1309.3 1595.2C1313.3 1591.5 1318.3 1587.7 1323.3 1583.3C1328.3 1578.8 1334.8 1573.0 1339.3 1568.3C1343.8 1563.6 1349.3 1559.8 1350.3 1554.8C1351.3 1549.8 1347.5 1543.6 1345.3 1538.4C1343.1 1533.1 1340.1 1529.7 1337.3 1523.4C1334.5 1517.2 1331.1 1508.5 1328.3 1501.0C1325.5 1493.5 1323.1 1486.0 1320.3 1478.5C1317.5 1471.1 1314.0 1463.6 1311.3 1456.1C1308.6 1448.6 1306.3 1440.6 1304.3 1433.7C1302.3 1426.7 1300.8 1419.2 1299.3 1414.2C1297.8 1409.2 1296.0 1405.5 1295.3 1403.7L1295.3 1403.7C1294.6 1405.5 1292.8 1409.2 1291.3 1414.2C1289.8 1419.2 1288.3 1426.7 1286.3 1433.7C1284.3 1440.6 1282.0 1448.6 1279.3 1456.1C1276.6 1463.6 1273.1 1471.1 1270.3 1478.5C1267.5 1486.0 1265.1 1493.5 1262.3 1501.0C1259.5 1508.5 1256.1 1517.2 1253.3 1523.4C1250.5 1529.7 1247.5 1533.1 1245.3 1538.4C1243.1 1543.6 1239.3 1549.8 1240.3 1554.8C1241.3 1559.8 1246.8 1563.6 1251.3 1568.3C1255.8 1573.0 1262.3 1578.8 1267.3 1583.3C1272.3 1587.7 1277.3 1591.5 1281.3 1595.2C1285.3 1599.0 1289.6 1604.0 1291.3 1605.7Z" fill="#2557a8" stroke="#2b2b2b" stroke-width="2"/>
<line x1="1295.3" y1="1605.7" x2="1295.3" y2="1403.7" stroke="#000" stroke-width="2.2"/>
<rect x="1283.8" y="1501.0" width="23.0" height="59.8" fill="none" stroke="#000" stroke-width="2.4"/>
<line x1="1283.8" y1="1535.4" x2="1306.8" y2="1535.4" stroke="#000" stroke-width="2.4"/>
<path d="M1295.3 1403.7h0M1295.3 1401.5h0M1295.3 1399.3h0M1295.3 1397.0h0M1295.3 1394.8h0M1295.3 1392.5h0M1295.3 1390.3h0M1295.3 1388.0h0M1295.3 1385.8h0M1295.3 1383.5h0M1295.3 1381.3h0M1295.3 1379.1h0M1295.3 1376.8h0M1295.3 1374.6h0M1295.3 1372.3h0M1295.3 1370.1h0M1295.3 1367.8h0M1295.3 1365.6h0M1295.3 1363.3h0M1295.3 1361.1h0M1295.3 1358.9h0M1295.3 1356.6h0M1295.3 1354.4h0M1295.3 1352.1h0M1295.3 1345.4h0M1295.3 1339.4h0M1295.3 1333.4h0M1295.3 1327.4h0M1295.3 1321.5h0M1295.3 1315.5h0M1295.3 1309.5h0M1295.3 1299.0h0M1295.3 1291.5h0M1295.3 1284.1h0M1295.3 1276.6h0" stroke="#000" stroke-width="5.2" stroke-linecap="round"/>
<path d="M1420.5 1605.7C1421.7 1603.7 1424.0 1598.2 1427.5 1593.7C1431.0 1589.2 1437.7 1583.8 1441.5 1578.8C1445.3 1573.8 1449.8 1568.8 1450.5 1563.8C1451.2 1558.8 1448.3 1553.8 1445.5 1548.9C1442.7 1543.9 1436.5 1538.6 1433.5 1533.9C1430.5 1529.2 1426.2 1524.9 1427.5 1520.4C1428.8 1515.9 1434.8 1512.0 1441.5 1507.0C1448.2 1502.0 1460.8 1495.5 1467.5 1490.5C1474.2 1485.5 1480.8 1481.5 1481.5 1477.0C1482.2 1472.6 1476.2 1468.3 1471.5 1463.6C1466.8 1458.8 1459.8 1454.1 1453.5 1448.6C1447.2 1443.1 1438.3 1436.2 1433.5 1430.7C1428.7 1425.2 1426.8 1419.9 1424.5 1415.7C1422.2 1411.5 1420.3 1407.0 1419.5 1405.2L1419.5 1405.2C1418.7 1407.0 1416.8 1411.5 1414.5 1415.7C1412.2 1419.9 1410.3 1425.2 1405.5 1430.7C1400.7 1436.2 1391.8 1443.1 1385.5 1448.6C1379.2 1454.1 1372.2 1458.8 1367.5 1463.6C1362.8 1468.3 1356.8 1472.6 1357.5 1477.0C1358.2 1481.5 1364.8 1485.5 1371.5 1490.5C1378.2 1495.5 1390.8 1502.0 1397.5 1507.0C1404.2 1512.0 1410.2 1515.9 1411.5 1520.4C1412.8 1524.9 1408.5 1529.2 1405.5 1533.9C1402.5 1538.6 1396.3 1543.9 1393.5 1548.9C1390.7 1553.8 1387.8 1558.8 1388.5 1563.8C1389.2 1568.8 1393.7 1573.8 1397.5 1578.8C1401.3 1583.8 1408.0 1589.2 1411.5 1593.7C1415.0 1598.2 1417.3 1603.7 1418.5 1605.7Z" fill="#fdd52f" stroke="#2b2b2b" stroke-width="2"/>
<line x1="1419.5" y1="1605.7" x2="1419.5" y2="1405.2" stroke="#000" stroke-width="2.2"/>
<rect x="1408.0" y="1468.1" width="23.0" height="65.8" fill="none" stroke="#000" stroke-width="2.4"/>
<line x1="1408.0" y1="1487.5" x2="1431.0" y2="1487.5" stroke="#000" stroke-width="2.4"/>
<line x1="1595.0" y1="1263.0" x2="1595.0" y2="1622.4" stroke="#000" stroke-width="2.4"/>
<line x1="1593.8" y1="1622.4" x2="1866.0" y2="1622.4" stroke="#000" stroke-width="2.4"/>
<line x1="1589.0" y1="1605.7" x2="1595.0" y2="1605.7" stroke="#000" stroke-width="2"/>
<text x="1578.0" y="1614.1" font-size="23.4" text-anchor="end">0</text>
<line x1="1589.0" y1="1525.0" x2="1595.0" y2="1525.0" stroke="#000" stroke-width="2"/>
<text x="1578.0" y="1533.4" font-size="23.4" text-anchor="end">0.05</text>
<line x1="1589.0" y1="1444.2" x2="1595.0" y2="1444.2" stroke="#000" stroke-width="2"/>
<text x="1578.0" y="1452.6" font-size="23.4" text-anchor="end">0.10</text>
<line x1="1589.0" y1="1363.5" x2="1595.0" y2="1363.5" stroke="#000" stroke-width="2"/>
<text x="1578.0" y="1371.9" font-size="23.4" text-anchor="end">0.15</text>
<line x1="1589.0" y1="1282.7" x2="1595.0" y2="1282.7" stroke="#000" stroke-width="2"/>
<text x="1578.0" y="1291.1" font-size="23.4" text-anchor="end">0.20</text>
<line x1="1669.0" y1="1622.4" x2="1669.0" y2="1629.4" stroke="#000" stroke-width="2"/>
<text x="1679.0" y="1648.4" font-size="23" text-anchor="end" transform="rotate(-45 1679.0 1648.4)">Paratumor</text>
<line x1="1792.8" y1="1622.4" x2="1792.8" y2="1629.4" stroke="#000" stroke-width="2"/>
<text x="1802.8" y="1648.4" font-size="23" text-anchor="end" transform="rotate(-45 1802.8 1648.4)">Tumor core</text>
<text x="1523.0" y="1429.7" text-anchor="middle" transform="rotate(-90 1523.0 1429.7)">Frequency</text>
<path d="M1671.0 1605.7C1671.2 1603.0 1671.5 1594.9 1672.0 1589.5C1672.5 1584.2 1672.8 1578.8 1674.0 1573.4C1675.2 1568.0 1676.8 1564.0 1679.0 1557.2C1681.2 1550.5 1684.0 1539.8 1687.0 1533.0C1690.0 1526.3 1693.0 1522.5 1697.0 1516.9C1701.0 1511.2 1706.2 1504.8 1711.0 1499.1C1715.8 1493.5 1722.7 1487.5 1726.0 1483.0C1729.3 1478.4 1731.8 1476.0 1731.0 1471.7C1730.2 1467.3 1725.0 1461.7 1721.0 1457.1C1717.0 1452.5 1711.7 1449.0 1707.0 1444.2C1702.3 1439.4 1697.2 1434.0 1693.0 1428.0C1688.8 1422.1 1685.0 1415.4 1682.0 1408.7C1679.0 1401.9 1676.8 1395.2 1675.0 1387.7C1673.2 1380.1 1672.0 1370.2 1671.0 1363.5C1670.0 1356.7 1669.3 1350.0 1669.0 1347.3L1669.0 1347.3C1668.7 1350.0 1668.0 1356.7 1667.0 1363.5C1666.0 1370.2 1664.8 1380.1 1663.0 1387.7C1661.2 1395.2 1659.0 1401.9 1656.0 1408.7C1653.0 1415.4 1649.2 1422.1 1645.0 1428.0C1640.8 1434.0 1635.7 1439.4 1631.0 1444.2C1626.3 1449.0 1621.0 1452.5 1617.0 1457.1C1613.0 1461.7 1607.8 1467.3 1607.0 1471.7C1606.2 1476.0 1608.7 1478.4 1612.0 1483.0C1615.3 1487.5 1622.2 1493.5 1627.0 1499.1C1631.8 1504.8 1637.0 1511.2 1641.0 1516.9C1645.0 1522.5 1648.0 1526.3 1651.0 1533.0C1654.0 1539.8 1656.8 1550.5 1659.0 1557.2C1661.2 1564.0 1662.8 1568.0 1664.0 1573.4C1665.2 1578.8 1665.5 1584.2 1666.0 1589.5C1666.5 1594.9 1666.8 1603.0 1667.0 1605.7Z" fill="#2557a8" stroke="#2b2b2b" stroke-width="2"/>
<line x1="1669.0" y1="1605.7" x2="1669.0" y2="1347.3" stroke="#000" stroke-width="2.2"/>
<rect x="1656.5" y="1452.3" width="25.0" height="48.5" fill="none" stroke="#000" stroke-width="2.4"/>
<line x1="1656.5" y1="1474.9" x2="1681.5" y2="1474.9" stroke="#000" stroke-width="2.4"/>
<path d="M1669.0 1605.7h0M1669.0 1603.3h0M1669.0 1600.9h0M1669.0 1598.4h0M1669.0 1596.0h0M1669.0 1593.6h0M1669.0 1591.2h0M1669.0 1588.7h0M1669.0 1586.3h0M1669.0 1583.9h0M1669.0 1581.5h0M1669.0 1579.1h0M1669.0 1576.6h0M1669.0 1574.2h0M1669.0 1347.3h0M1669.0 1344.9h0M1669.0 1342.5h0M1669.0 1340.0h0M1669.0 1337.6h0M1669.0 1335.2h0M1669.0 1332.8h0M1669.0 1330.3h0M1669.0 1327.9h0M1669.0 1325.5h0M1669.0 1323.1h0M1669.0 1315.0h0M1669.0 1306.9h0M1669.0 1298.8h0M1669.0 1290.8h0M1669.0 1282.7h0M1669.0 1274.6h0" stroke="#000" stroke-width="5.2" stroke-linecap="round"/>
<path d="M1793.8 1605.7C1794.0 1603.5 1794.3 1596.8 1794.8 1592.8C1795.3 1588.7 1795.1 1586.1 1796.8 1581.5C1798.5 1576.9 1801.3 1570.7 1804.8 1565.3C1808.3 1559.9 1813.1 1555.1 1817.8 1549.2C1822.5 1543.3 1828.3 1536.0 1832.8 1529.8C1837.3 1523.6 1841.8 1517.7 1844.8 1512.0C1847.8 1506.4 1849.3 1501.3 1850.8 1495.9C1852.3 1490.5 1854.3 1485.1 1853.8 1479.7C1853.3 1474.3 1851.3 1468.7 1847.8 1463.6C1844.3 1458.5 1837.8 1453.4 1832.8 1449.0C1827.8 1444.7 1822.8 1441.2 1817.8 1437.7C1812.8 1434.2 1807.0 1431.0 1802.8 1428.0C1798.6 1425.1 1794.5 1421.3 1792.8 1420.0L1792.8 1420.0C1791.1 1421.3 1787.0 1425.1 1782.8 1428.0C1778.6 1431.0 1772.8 1434.2 1767.8 1437.7C1762.8 1441.2 1757.8 1444.7 1752.8 1449.0C1747.8 1453.4 1741.3 1458.5 1737.8 1463.6C1734.3 1468.7 1732.3 1474.3 1731.8 1479.7C1731.3 1485.1 1733.3 1490.5 1734.8 1495.9C1736.3 1501.3 1737.8 1506.4 1740.8 1512.0C1743.8 1517.7 1748.3 1523.6 1752.8 1529.8C1757.3 1536.0 1763.1 1543.3 1767.8 1549.2C1772.5 1555.1 1777.3 1559.9 1780.8 1565.3C1784.3 1570.7 1787.1 1576.9 1788.8 1581.5C1790.5 1586.1 1790.3 1588.7 1790.8 1592.8C1791.3 1596.8 1791.6 1603.5 1791.8 1605.7Z" fill="#fdd52f" stroke="#2b2b2b" stroke-width="2"/>
<line x1="1792.8" y1="1605.7" x2="1792.8" y2="1420.0" stroke="#000" stroke-width="2.2"/>
<rect x="1780.3" y="1470.0" width="25.0" height="46.8" fill="none" stroke="#000" stroke-width="2.4"/>
<line x1="1780.3" y1="1494.3" x2="1805.3" y2="1494.3" stroke="#000" stroke-width="2.4"/>
<path d="M1792.8 1605.7h0" stroke="#000" stroke-width="5.2" stroke-linecap="round"/>
<text x="1134.5" y="1789.0" font-size="31" font-weight="bold">f</text>
<text x="1470.7" y="1790.0">Average expression</text>
<text x="1690.8" y="1790.0">Percent expressed</text>
<rect x="1512.5" y="1801.0" width="112.5" height="22.6" fill="url(#avg)"/>
<line x1="1525.4" y1="1801.0" x2="1525.4" y2="1805.0" stroke="#fff" stroke-width="1"/>
<line x1="1525.4" y1="1819.6" x2="1525.4" y2="1823.6" stroke="#fff" stroke-width="1"/>
<text x="1533.4" y="1829.0" text-anchor="end" transform="rotate(-90 1533.4 1829.0)">2.5</text>
<line x1="1557.0" y1="1801.0" x2="1557.0" y2="1805.0" stroke="#fff" stroke-width="1"/>
<line x1="1557.0" y1="1819.6" x2="1557.0" y2="1823.6" stroke="#fff" stroke-width="1"/>
<text x="1565.0" y="1829.0" text-anchor="end" transform="rotate(-90 1565.0 1829.0)">1.5</text>
<line x1="1587.7" y1="1801.0" x2="1587.7" y2="1805.0" stroke="#fff" stroke-width="1"/>
<line x1="1587.7" y1="1819.6" x2="1587.7" y2="1823.6" stroke="#fff" stroke-width="1"/>
<text x="1595.7" y="1829.0" text-anchor="end" transform="rotate(-90 1595.7 1829.0)">0.5</text>
<line x1="1619.5" y1="1801.0" x2="1619.5" y2="1805.0" stroke="#fff" stroke-width="1"/>
<line x1="1619.5" y1="1819.6" x2="1619.5" y2="1823.6" stroke="#fff" stroke-width="1"/>
<text x="1627.5" y="1829.0" text-anchor="end" transform="rotate(-90 1627.5 1829.0)">-0.5</text>
<circle cx="1715.9" cy="1811.3" r="5.0" fill="#000"/>
<circle cx="1738.2" cy="1811.3" r="9.0" fill="#000"/>
<circle cx="1765.5" cy="1811.3" r="13.4" fill="#000"/>
<circle cx="1802.3" cy="1811.3" r="17.3" fill="#000"/>
<text x="1724.0" y="1829.0" text-anchor="end" transform="rotate(-90 1724.0 1829.0)">5%</text>
<text x="1751.8" y="1829.0" text-anchor="end" transform="rotate(-90 1751.8 1829.0)">10%</text>
<text x="1782.4" y="1829.0" text-anchor="end" transform="rotate(-90 1782.4 1829.0)">15%</text>
<text x="1812.0" y="1829.0" text-anchor="end" transform="rotate(-90 1812.0 1829.0)">20%</text>
<text x="1123.7" y="1867.0">SIGLEC9 expression</text>
<rect x="1119.8" y="1883.7" width="742.6" height="80.3" fill="none" stroke="#000" stroke-width="2.4"/>
<circle cx="1146.5" cy="1923.8" r="4.2" fill="#6b8fc6"/>
<line x1="1146.5" y1="1964.0" x2="1146.5" y2="1971.0" stroke="#000" stroke-width="2"/>
<text x="1152.5" y="1988.0" text-anchor="end" transform="rotate(-45 1152.5 1988.0)">pDCs</text>
<circle cx="1189.6" cy="1923.8" r="2.0" fill="#5d86bd"/>
<line x1="1189.6" y1="1964.0" x2="1189.6" y2="1971.0" stroke="#000" stroke-width="2"/>
<text x="1195.6" y="1988.0" text-anchor="end" transform="rotate(-45 1195.6 1988.0)">Ependymal cells</text>
<circle cx="1232.7" cy="1923.8" r="2.0" fill="#5d86bd"/>
<line x1="1232.7" y1="1964.0" x2="1232.7" y2="1971.0" stroke="#000" stroke-width="2"/>
<text x="1238.7" y="1988.0" text-anchor="end" transform="rotate(-45 1238.7 1988.0)">B cells</text>
<circle cx="1275.8" cy="1923.8" r="16.7" fill="#f8eda6"/>
<line x1="1275.8" y1="1964.0" x2="1275.8" y2="1971.0" stroke="#000" stroke-width="2"/>
<text x="1281.8" y="1988.0" text-anchor="end" transform="rotate(-45 1281.8 1988.0)">cDCs</text>
<circle cx="1318.9" cy="1923.8" r="2.0" fill="#5d86bd"/>
<line x1="1318.9" y1="1964.0" x2="1318.9" y2="1971.0" stroke="#000" stroke-width="2"/>
<text x="1324.9" y="1988.0" text-anchor="end" transform="rotate(-45 1324.9 1988.0)">Neurons</text>
<circle cx="1362.0" cy="1923.8" r="2.0" fill="#5d86bd"/>
<line x1="1362.0" y1="1964.0" x2="1362.0" y2="1971.0" stroke="#000" stroke-width="2"/>
<text x="1368.0" y="1988.0" text-anchor="end" transform="rotate(-45 1368.0 1988.0)">Endothelial</text>
<circle cx="1405.1" cy="1923.8" r="19.2" fill="#d63a2b"/>
<line x1="1405.1" y1="1964.0" x2="1405.1" y2="1971.0" stroke="#000" stroke-width="2"/>
<text x="1411.1" y="1988.0" text-anchor="end" transform="rotate(-45 1411.1 1988.0)">Monocytes</text>
<circle cx="1448.2" cy="1923.8" r="2.0" fill="#5d86bd"/>
<line x1="1448.2" y1="1964.0" x2="1448.2" y2="1971.0" stroke="#000" stroke-width="2"/>
<text x="1454.2" y="1988.0" text-anchor="end" transform="rotate(-45 1454.2 1988.0)">NK cells</text>
<circle cx="1491.3" cy="1923.8" r="2.0" fill="#5d86bd"/>
<line x1="1491.3" y1="1964.0" x2="1491.3" y2="1971.0" stroke="#000" stroke-width="2"/>
<text x="1497.3" y="1988.0" text-anchor="end" transform="rotate(-45 1497.3 1988.0)">Oligodendrocytes</text>
<circle cx="1534.4" cy="1923.8" r="2.0" fill="#5d86bd"/>
<line x1="1534.4" y1="1964.0" x2="1534.4" y2="1971.0" stroke="#000" stroke-width="2"/>
<text x="1540.4" y="1988.0" text-anchor="end" transform="rotate(-45 1540.4 1988.0)">OPCs</text>
<circle cx="1577.5" cy="1923.8" r="2.5" fill="#5d86bd"/>
<line x1="1577.5" y1="1964.0" x2="1577.5" y2="1971.0" stroke="#000" stroke-width="2"/>
<text x="1583.5" y="1988.0" text-anchor="end" transform="rotate(-45 1583.5 1988.0)">Mural cells</text>
<circle cx="1620.6" cy="1923.8" r="2.0" fill="#5d86bd"/>
<line x1="1620.6" y1="1964.0" x2="1620.6" y2="1971.0" stroke="#000" stroke-width="2"/>
<text x="1626.6" y="1988.0" text-anchor="end" transform="rotate(-45 1626.6 1988.0)">Astrocytes</text>
<circle cx="1663.7" cy="1923.8" r="2.0" fill="#5d86bd"/>
<line x1="1663.7" y1="1964.0" x2="1663.7" y2="1971.0" stroke="#000" stroke-width="2"/>
<text x="1669.7" y="1988.0" text-anchor="end" transform="rotate(-45 1669.7 1988.0)">T cells</text>
<circle cx="1706.8" cy="1923.8" r="22.5" fill="#f29263"/>
<line x1="1706.8" y1="1964.0" x2="1706.8" y2="1971.0" stroke="#000" stroke-width="2"/>
<text x="1712.8" y="1988.0" text-anchor="end" transform="rotate(-45 1712.8 1988.0)">Macrophages</text>
<circle cx="1749.9" cy="1923.8" r="2.0" fill="#5d86bd"/>
<line x1="1749.9" y1="1964.0" x2="1749.9" y2="1971.0" stroke="#000" stroke-width="2"/>
<text x="1755.9" y="1988.0" text-anchor="end" transform="rotate(-45 1755.9 1988.0)">Ambiguous</text>
<circle cx="1793.0" cy="1923.8" r="14.0" fill="#f7e79c"/>
<line x1="1793.0" y1="1964.0" x2="1793.0" y2="1971.0" stroke="#000" stroke-width="2"/>
<text x="1799.0" y="1988.0" text-anchor="end" transform="rotate(-45 1799.0 1988.0)">Microglial</text>
<circle cx="1836.1" cy="1923.8" r="2.0" fill="#5d86bd"/>
<line x1="1836.1" y1="1964.0" x2="1836.1" y2="1971.0" stroke="#000" stroke-width="2"/>
<text x="1842.1" y="1988.0" text-anchor="end" transform="rotate(-45 1842.1 1988.0)">Radial glial</text>
<text x="10.0" y="2140.0" font-size="31" font-weight="bold">g</text>
<text x="68.8" y="2164.0" text-anchor="middle">1</text>
<text x="113.5" y="2164.0" text-anchor="middle">2</text>
<text x="158.2" y="2164.0" text-anchor="middle">3</text>
<text x="202.3" y="2164.0" text-anchor="middle">4</text>
<text x="247.0" y="2164.0" text-anchor="middle">5</text>
<text x="298.0" y="2164.0" text-anchor="middle">6</text>
<text x="342.0" y="2164.0" text-anchor="middle">7</text>
<text x="385.7" y="2164.0" text-anchor="middle">8</text>
<text x="430.4" y="2164.0" text-anchor="middle">9</text>
<text x="475.7" y="2164.0" text-anchor="middle">10</text>
<text x="524.3" y="2164.0" text-anchor="middle">11</text>
<text x="569.0" y="2164.0" text-anchor="middle">12</text>
<text x="613.8" y="2164.0" text-anchor="middle">13</text>
<text x="658.0" y="2164.0" text-anchor="middle">14</text>
<text x="702.6" y="2164.0" text-anchor="middle">15</text>
<text x="747.3" y="2164.0" text-anchor="middle">16</text>
<text x="791.0" y="2164.0" text-anchor="middle">17</text>
<text x="836.8" y="2164.0" text-anchor="middle">18</text>
<text x="28.0" y="2214.1" text-anchor="middle">A</text>
<text x="28.0" y="2257.9" text-anchor="middle">B</text>
<text x="28.0" y="2306.5" text-anchor="middle">C</text>
<text x="28.0" y="2354.6" text-anchor="middle">D</text>
<text x="28.0" y="2401.6" text-anchor="middle">E</text>
<text x="28.0" y="2446.3" text-anchor="middle">F</text>
<text x="28.0" y="2493.8" text-anchor="middle">G</text>
<text x="28.0" y="2541.3" text-anchor="middle">H</text>
<text x="28.0" y="2588.8" text-anchor="middle">I</text>
<text x="28.0" y="2629.6" text-anchor="middle">J</text>
<text x="28.0" y="2682.7" text-anchor="middle">K</text>
<path d="M53 2176L861 2175L858 2695L54 2695Z" fill="#cec9d1"/>
<path d="M57 2176V2695M66 2176V2695M76 2176V2695M85 2176V2695M94 2176V2695M104 2176V2695M113 2176V2695M122 2176V2695M131 2176V2695M141 2176V2695M150 2176V2695M159 2176V2695M169 2176V2695M178 2176V2695M187 2176V2695M196 2176V2695M206 2176V2695M215 2176V2695M224 2176V2695M234 2176V2695M243 2176V2695M252 2176V2695M262 2176V2695M271 2176V2695M280 2176V2695M290 2176V2695M299 2176V2695M308 2176V2695M317 2176V2695M327 2176V2695M336 2176V2695M345 2176V2695M355 2176V2695M364 2176V2695M373 2176V2695M382 2176V2695M392 2176V2695M401 2176V2695M410 2176V2695M420 2176V2695M429 2176V2695M438 2176V2695M448 2176V2695M457 2176V2695M466 2176V2695M476 2176V2695M485 2176V2695M494 2176V2695M503 2176V2695M513 2176V2695M522 2176V2695M531 2176V2695M541 2176V2695M550 2176V2695M559 2176V2695M568 2176V2695M578 2176V2695M587 2176V2695M596 2176V2695M606 2176V2695M615 2176V2695M624 2176V2695M634 2176V2695M643 2176V2695M652 2176V2695M662 2176V2695M671 2176V2695M680 2176V2695M689 2176V2695M699 2176V2695M708 2176V2695M717 2176V2695M727 2176V2695M736 2176V2695M745 2176V2695M754 2176V2695M764 2176V2695M773 2176V2695M782 2176V2695M792 2176V2695M801 2176V2695M810 2176V2695M820 2176V2695M829 2176V2695M838 2176V2695M848 2176V2695M857 2176V2695" stroke="#c6c1ca" stroke-width="0.8" opacity="0.6"/>
<circle cx="74.0" cy="2201.4" r="18.9" fill="#afa6b1"/>
<path d="M131 2201L134 2203L134 2205L131 2207L126 2207L121 2205L120 2205L118 2209L115 2210L110 2210L110 2207L107 2206L103 2205L105 2202L103 2201L106 2199L111 2199L111 2197L108 2193L109 2190L114 2191L118 2193L120 2194L122 2196L125 2195L128 2196L129 2197L129 2199Z" fill="#ada5b2"/>
<circle cx="166.2" cy="2201.9" r="18.9" fill="#aaa3b4"/>
<circle cx="255.3" cy="2201.8" r="18.9" fill="#9697b8"/>
<circle cx="437.6" cy="2203.5" r="18.9" fill="#ada5b2"/>
<circle cx="482.7" cy="2201.2" r="18.9" fill="#afa6b1"/>
<circle cx="528.0" cy="2203.6" r="18.9" fill="#afa6b1"/>
<circle cx="570.5" cy="2200.9" r="18.9" fill="#aba3b3"/>
<circle cx="616.6" cy="2202.7" r="18.9" fill="#8a8fb6"/>
<circle cx="660.4" cy="2201.6" r="18.9" fill="#aaa3b4"/>
<circle cx="704.3" cy="2203.6" r="18.9" fill="#b3a8a7"/>
<circle cx="750.7" cy="2203.4" r="18.9" fill="#ada5b2"/>
<circle cx="792.7" cy="2203.6" r="18.9" fill="#a7a1b3"/>
<circle cx="840.3" cy="2202.5" r="18.9" fill="#b6a49f"/>
<circle cx="75.1" cy="2247.0" r="18.9" fill="#7d88b8"/>
<circle cx="116.3" cy="2247.8" r="18.9" fill="#aaa3b4"/>
<circle cx="165.7" cy="2248.2" r="18.9" fill="#afa6b1"/>
<circle cx="212.3" cy="2248.8" r="18.9" fill="#aaa3b4"/>
<path d="M270 2248L274 2251L270 2253L267 2256L265 2258L261 2259L259 2261L254 2260L252 2257L251 2254L244 2258L240 2257L236 2255L236 2251L239 2248L240 2246L244 2244L245 2242L244 2238L249 2240L252 2239L254 2236L259 2233L263 2235L263 2240L263 2243L262 2245L263 2247Z" fill="#a5a2b6"/>
<circle cx="299.6" cy="2249.0" r="18.9" fill="#a5a2b6"/>
<circle cx="343.4" cy="2249.5" r="18.9" fill="#b3a8a7"/>
<circle cx="392.3" cy="2246.8" r="18.9" fill="#b1a6ab"/>
<circle cx="438.6" cy="2249.0" r="18.9" fill="#a0a0b8"/>
<circle cx="484.7" cy="2247.1" r="18.9" fill="#b7a39c"/>
<circle cx="528.3" cy="2249.6" r="18.9" fill="#b3a8a7"/>
<circle cx="569.1" cy="2249.2" r="18.9" fill="#afa6b1"/>
<circle cx="616.7" cy="2247.9" r="18.9" fill="#a5a2b6"/>
<circle cx="662.1" cy="2248.6" r="18.9" fill="#aba3b3"/>
<circle cx="705.9" cy="2247.1" r="18.9" fill="#b3a8a7"/>
<circle cx="750.8" cy="2249.2" r="18.9" fill="#aaa3b4"/>
<circle cx="793.5" cy="2248.5" r="18.9" fill="#ada5b2"/>
<circle cx="840.1" cy="2246.7" r="18.9" fill="#a7a1b3"/>
<circle cx="72.5" cy="2295.4" r="18.9" fill="#aba3b3"/>
<circle cx="164.7" cy="2295.9" r="18.9" fill="#a7a1b3"/>
<path d="M226 2295L223 2298L222 2300L224 2305L220 2306L217 2307L213 2307L210 2305L208 2303L204 2305L199 2306L194 2306L197 2301L196 2298L197 2295L197 2293L197 2290L201 2290L203 2288L203 2284L206 2280L210 2279L214 2279L217 2284L218 2287L218 2290L221 2291L225 2293Z" fill="#afa6b1"/>
<circle cx="254.9" cy="2297.4" r="18.9" fill="#aaa3b4"/>
<circle cx="301.6" cy="2295.8" r="18.9" fill="#b1a6ab"/>
<path d="M359 2301L360 2302L358 2304L360 2307L357 2308L353 2308L351 2311L348 2310L345 2309L343 2307L342 2305L339 2305L337 2304L332 2303L333 2301L335 2299L337 2297L340 2297L341 2295L342 2293L346 2295L348 2294L350 2294L355 2291L357 2293L359 2295L360 2297L357 2299Z" fill="#ada5b2"/>
<path d="M407 2294L404 2295L402 2297L400 2298L400 2300L396 2300L392 2299L390 2300L386 2302L380 2304L378 2301L378 2298L380 2296L378 2295L375 2294L375 2292L378 2291L379 2289L381 2288L383 2287L386 2285L390 2286L392 2288L393 2290L396 2290L402 2289L404 2290L408 2292Z" fill="#b3a8a7"/>
<circle cx="437.7" cy="2295.3" r="18.9" fill="#bba79e"/>
<circle cx="484.8" cy="2296.5" r="18.9" fill="#aba3b3"/>
<circle cx="528.3" cy="2296.6" r="18.9" fill="#a5a2b6"/>
<circle cx="568.6" cy="2297.0" r="18.9" fill="#a4a3ba"/>
<circle cx="618.1" cy="2295.5" r="18.9" fill="#a7a1b3"/>
<circle cx="661.8" cy="2295.8" r="18.9" fill="#a7a1b3"/>
<circle cx="704.1" cy="2297.1" r="18.9" fill="#ada5b2"/>
<circle cx="750.7" cy="2297.5" r="18.9" fill="#afa6b1"/>
<circle cx="794.6" cy="2297.5" r="18.9" fill="#aba3b3"/>
<circle cx="840.9" cy="2297.5" r="18.9" fill="#ada5b2"/>
<circle cx="72.3" cy="2344.2" r="18.9" fill="#afa6b1"/>
<circle cx="116.3" cy="2342.6" r="18.9" fill="#aba3b3"/>
<circle cx="162.8" cy="2344.5" r="18.9" fill="#afa6b1"/>
<circle cx="211.7" cy="2344.1" r="18.9" fill="#b1a6ab"/>
<circle cx="254.1" cy="2344.2" r="18.9" fill="#a4a3ba"/>
<circle cx="343.4" cy="2343.3" r="18.9" fill="#aba3b3"/>
<circle cx="391.9" cy="2343.9" r="18.9" fill="#aaa3b4"/>
<circle cx="438.2" cy="2342.4" r="18.9" fill="#a0a0b8"/>
<circle cx="481.9" cy="2342.4" r="18.9" fill="#b1a6ab"/>
<path d="M547 2342L546 2344L542 2345L539 2347L538 2349L535 2349L530 2348L528 2347L525 2347L522 2348L517 2349L512 2348L512 2346L515 2343L515 2342L514 2340L512 2338L514 2336L517 2335L522 2335L524 2332L528 2331L531 2333L534 2334L535 2337L534 2339L538 2339L544 2340Z" fill="#afa6b1"/>
<circle cx="570.0" cy="2342.1" r="18.9" fill="#aba3b3"/>
<circle cx="618.3" cy="2344.6" r="18.9" fill="#a7a1b3"/>
<circle cx="660.2" cy="2342.2" r="18.9" fill="#ada5b2"/>
<circle cx="705.3" cy="2342.0" r="18.9" fill="#ada5b2"/>
<circle cx="793.5" cy="2343.2" r="18.9" fill="#a0a0b8"/>
<circle cx="840.6" cy="2342.4" r="18.9" fill="#a4a3ba"/>
<circle cx="72.8" cy="2388.1" r="18.9" fill="#aba3b3"/>
<circle cx="116.2" cy="2388.4" r="18.9" fill="#aba3b3"/>
<circle cx="163.1" cy="2390.2" r="18.9" fill="#b1a6ab"/>
<circle cx="210.0" cy="2389.6" r="18.9" fill="#a0a0b8"/>
<path d="M266 2393L267 2395L262 2396L259 2397L255 2396L257 2401L253 2401L250 2402L245 2403L242 2402L240 2400L237 2398L238 2396L238 2394L239 2393L238 2391L236 2389L235 2386L238 2384L243 2385L247 2385L250 2386L252 2387L256 2385L261 2385L260 2388L266 2388L267 2390Z" fill="#aaa3b4"/>
<circle cx="298.7" cy="2387.7" r="18.9" fill="#aba3b3"/>
<circle cx="341.3" cy="2387.8" r="18.9" fill="#aaa3b4"/>
<circle cx="389.9" cy="2389.2" r="18.9" fill="#b1a6ab"/>
<circle cx="435.3" cy="2388.3" r="18.9" fill="#ada5b2"/>
<circle cx="482.8" cy="2387.6" r="18.9" fill="#b1a6ab"/>
<circle cx="569.9" cy="2389.8" r="18.9" fill="#a0a0b8"/>
<circle cx="661.5" cy="2388.7" r="18.9" fill="#a5a2b6"/>
<circle cx="703.2" cy="2387.6" r="18.9" fill="#ada5b2"/>
<circle cx="751.1" cy="2387.6" r="18.9" fill="#a7a1b3"/>
<path d="M851 2387L852 2389L850 2390L848 2392L847 2395L843 2395L840 2395L836 2394L834 2392L832 2392L826 2395L822 2393L821 2391L820 2389L821 2387L822 2385L826 2384L827 2382L829 2381L830 2379L833 2379L836 2376L841 2375L845 2376L846 2379L845 2383L846 2384L848 2385Z" fill="#b1a6ab"/>
<circle cx="72.1" cy="2436.7" r="18.9" fill="#b1a6ab"/>
<circle cx="116.9" cy="2436.7" r="18.9" fill="#8e95bf"/>
<circle cx="164.5" cy="2437.7" r="18.9" fill="#aba3b3"/>
<circle cx="211.0" cy="2436.3" r="18.9" fill="#aaa3b4"/>
<circle cx="253.1" cy="2438.0" r="18.9" fill="#b1a6ab"/>
<circle cx="299.9" cy="2436.9" r="18.9" fill="#afa6b1"/>
<circle cx="390.9" cy="2437.2" r="18.9" fill="#a4a3ba"/>
<circle cx="437.2" cy="2437.2" r="18.9" fill="#a7a1b3"/>
<circle cx="484.0" cy="2437.8" r="18.9" fill="#b1a6ab"/>
<circle cx="567.6" cy="2435.6" r="18.9" fill="#a5a2b6"/>
<circle cx="658.9" cy="2437.6" r="18.9" fill="#a0a0b8"/>
<circle cx="705.4" cy="2438.1" r="18.9" fill="#a0a0b8"/>
<circle cx="751.2" cy="2438.4" r="18.9" fill="#ada5b2"/>
<circle cx="838.8" cy="2435.6" r="18.9" fill="#a0a0b8"/>
<circle cx="73.4" cy="2485.4" r="18.9" fill="#a7a1b3"/>
<circle cx="115.3" cy="2485.1" r="18.9" fill="#a4a3ba"/>
<circle cx="163.9" cy="2483.2" r="18.9" fill="#a7a1b3"/>
<circle cx="209.6" cy="2484.7" r="18.9" fill="#aaa3b4"/>
<circle cx="253.2" cy="2485.9" r="18.9" fill="#b1a6ab"/>
<circle cx="298.0" cy="2483.1" r="18.9" fill="#aaa3b4"/>
<circle cx="343.6" cy="2484.3" r="18.9" fill="#afa6b1"/>
<circle cx="390.6" cy="2485.7" r="18.9" fill="#aba3b3"/>
<circle cx="436.3" cy="2483.5" r="18.9" fill="#b9a396"/>
<circle cx="481.4" cy="2484.0" r="18.9" fill="#aaa3b4"/>
<circle cx="525.4" cy="2485.7" r="18.9" fill="#a5a2b6"/>
<circle cx="570.0" cy="2483.5" r="18.9" fill="#a7a1b3"/>
<circle cx="616.4" cy="2483.5" r="18.9" fill="#a4a3ba"/>
<circle cx="659.9" cy="2483.2" r="18.9" fill="#aba3b3"/>
<circle cx="704.6" cy="2485.9" r="18.9" fill="#b3a8a7"/>
<circle cx="751.0" cy="2484.9" r="18.9" fill="#afa6b1"/>
<circle cx="839.6" cy="2485.6" r="18.9" fill="#aba3b3"/>
<circle cx="73.2" cy="2529.0" r="18.9" fill="#aba3b3"/>
<path d="M127 2531L130 2533L129 2535L130 2539L128 2541L125 2541L122 2539L120 2539L118 2539L115 2541L112 2540L110 2538L109 2536L108 2533L105 2531L107 2528L112 2527L115 2527L115 2525L116 2524L117 2519L120 2518L122 2520L125 2521L127 2521L127 2525L130 2526L130 2528Z" fill="#a4a3ba"/>
<circle cx="163.8" cy="2529.3" r="18.9" fill="#aba3b3"/>
<circle cx="209.8" cy="2530.0" r="18.9" fill="#a5a2b6"/>
<circle cx="253.9" cy="2529.7" r="18.9" fill="#a0a0b8"/>
<path d="M310 2531L312 2534L311 2536L309 2537L308 2539L304 2537L302 2538L301 2538L298 2540L295 2542L292 2541L291 2538L293 2535L290 2533L292 2531L291 2529L293 2528L295 2528L294 2525L296 2523L298 2521L301 2520L303 2525L304 2526L306 2526L309 2526L310 2528L310 2530Z" fill="#aba3b3"/>
<circle cx="341.1" cy="2530.9" r="18.9" fill="#aba3b3"/>
<circle cx="388.5" cy="2529.7" r="18.9" fill="#afa6b1"/>
<circle cx="435.4" cy="2530.8" r="18.9" fill="#a4a3ba"/>
<circle cx="482.8" cy="2529.0" r="18.9" fill="#aaa3b4"/>
<path d="M537 2529L537 2532L536 2534L538 2539L534 2540L532 2544L527 2540L524 2537L522 2538L520 2538L515 2540L509 2540L509 2536L509 2532L508 2529L513 2527L513 2524L516 2523L516 2519L519 2519L521 2516L524 2511L528 2513L532 2515L532 2520L533 2523L532 2525L537 2526Z" fill="#b3a8a7"/>
<circle cx="569.1" cy="2530.5" r="18.9" fill="#a4a3ba"/>
<circle cx="616.6" cy="2529.2" r="18.9" fill="#7f8cbc"/>
<circle cx="659.2" cy="2531.8" r="18.9" fill="#aaa3b4"/>
<circle cx="750.7" cy="2529.2" r="18.9" fill="#8890bc"/>
<circle cx="792.6" cy="2529.7" r="18.9" fill="#a4a3ba"/>
<circle cx="840.8" cy="2530.9" r="18.9" fill="#aaa3b4"/>
<circle cx="115.8" cy="2575.1" r="18.9" fill="#ada5b2"/>
<circle cx="164.0" cy="2577.6" r="18.9" fill="#a8a4b4"/>
<circle cx="209.2" cy="2576.3" r="18.9" fill="#ada5b2"/>
<circle cx="252.4" cy="2576.5" r="18.9" fill="#a7a1b3"/>
<circle cx="300.1" cy="2577.4" r="18.9" fill="#b3a8a7"/>
<circle cx="342.8" cy="2576.9" r="18.9" fill="#afa6b1"/>
<circle cx="388.2" cy="2577.4" r="18.9" fill="#aaa3b4"/>
<circle cx="437.0" cy="2577.7" r="18.9" fill="#aba3b3"/>
<circle cx="527.6" cy="2577.0" r="18.9" fill="#aba3b3"/>
<circle cx="567.1" cy="2575.5" r="18.9" fill="#a4a3ba"/>
<circle cx="615.2" cy="2577.4" r="18.9" fill="#a5a2b6"/>
<circle cx="660.4" cy="2577.3" r="18.9" fill="#aaa3b4"/>
<circle cx="702.7" cy="2577.1" r="18.9" fill="#a4a3ba"/>
<circle cx="749.7" cy="2576.2" r="18.9" fill="#b3a8a7"/>
<circle cx="793.1" cy="2576.8" r="18.9" fill="#a4a3ba"/>
<circle cx="840.5" cy="2574.7" r="18.9" fill="#a4a3ba"/>
<circle cx="72.3" cy="2620.5" r="18.9" fill="#a4a3ba"/>
<circle cx="116.3" cy="2621.3" r="18.9" fill="#b1a6ab"/>
<circle cx="163.1" cy="2619.2" r="18.9" fill="#b1a6ab"/>
<circle cx="210.4" cy="2618.7" r="18.9" fill="#b3a8a7"/>
<circle cx="299.5" cy="2620.2" r="18.9" fill="#a0a0b8"/>
<circle cx="342.6" cy="2618.5" r="18.9" fill="#a4a3ba"/>
<circle cx="389.7" cy="2620.9" r="18.9" fill="#aba3b3"/>
<circle cx="434.4" cy="2619.4" r="18.9" fill="#a4a3ba"/>
<circle cx="480.4" cy="2619.4" r="18.9" fill="#a4a3ba"/>
<circle cx="525.2" cy="2621.3" r="18.9" fill="#aba3b3"/>
<path d="M633 2622L635 2624L628 2624L626 2625L628 2628L627 2631L624 2633L619 2633L616 2629L613 2628L613 2626L608 2627L603 2626L604 2624L604 2622L604 2620L603 2618L603 2615L610 2615L612 2614L616 2616L619 2615L622 2615L626 2613L632 2612L632 2616L632 2618L631 2620Z" fill="#afa6b1"/>
<circle cx="660.3" cy="2620.9" r="18.9" fill="#b3a8a7"/>
<circle cx="750.7" cy="2621.4" r="18.9" fill="#a5a2b6"/>
<circle cx="792.5" cy="2619.8" r="18.9" fill="#a7a1b3"/>
<circle cx="839.6" cy="2621.3" r="18.9" fill="#a4a3ba"/>
<circle cx="70.8" cy="2669.7" r="18.9" fill="#aba3b3"/>
<path d="M216 2208L215 2209L212 2210L211 2211L212 2212L209 2211L208 2211L206 2213L204 2214L201 2215L200 2213L199 2212L202 2210L201 2209L199 2208L199 2207L198 2206L200 2205L202 2205L202 2202L204 2202L206 2203L208 2205L209 2205L210 2206L213 2205L216 2205L217 2207ZM396 2210L397 2211L393 2212L390 2211L390 2212L389 2213L389 2215L387 2215L385 2214L383 2214L381 2214L381 2213L380 2212L380 2211L380 2210L381 2209L380 2207L377 2205L381 2205L382 2204L385 2206L387 2206L388 2206L390 2206L392 2206L392 2207L394 2207L397 2208ZM306 2349L303 2350L302 2350L303 2352L304 2354L302 2354L299 2354L297 2353L295 2355L294 2353L294 2352L293 2351L293 2350L292 2350L288 2349L286 2347L288 2346L290 2345L293 2345L295 2346L296 2344L297 2345L299 2344L301 2344L302 2345L305 2345L308 2346L307 2348ZM621 2395L622 2396L619 2397L617 2397L617 2398L616 2400L615 2401L613 2402L611 2401L610 2399L609 2398L609 2397L606 2397L607 2396L606 2395L608 2394L607 2393L606 2391L606 2390L609 2390L611 2391L613 2392L614 2392L616 2391L618 2391L621 2391L622 2392L623 2394ZM793 2396L794 2396L796 2398L796 2399L795 2401L792 2401L790 2400L788 2399L786 2400L785 2400L784 2399L781 2399L779 2398L778 2397L777 2396L779 2394L782 2394L784 2394L784 2393L784 2391L786 2391L788 2390L790 2390L792 2390L794 2391L795 2392L795 2393L794 2395ZM794 2443L793 2444L795 2446L795 2447L793 2448L791 2449L788 2446L787 2447L786 2447L784 2447L781 2448L780 2447L780 2445L780 2444L777 2443L778 2442L782 2442L782 2441L783 2440L784 2439L785 2437L787 2436L789 2438L791 2439L791 2440L791 2441L795 2441L795 2442Z" fill="#8d8ba6"/>
<rect x="53" y="2176" width="808" height="519" filter="url(#speck)" clip-path="url(#gcores)" opacity="0.3"/>
<path d="M73 2196L75 2197L77 2198L77 2200L74 2200L72 2200L70 2200L69 2200L67 2200L66 2199L65 2199L64 2198L62 2198L58 2197L57 2196L60 2194L62 2194L66 2194L65 2193L65 2191L67 2190L69 2190L70 2191L72 2191L74 2191L76 2192L76 2193L74 2195ZM582 2200L579 2201L579 2201L578 2202L578 2204L577 2205L575 2205L573 2205L571 2205L569 2205L566 2205L567 2203L570 2201L566 2201L563 2200L562 2198L563 2197L566 2197L569 2197L569 2195L572 2196L573 2196L574 2196L575 2197L578 2196L581 2196L585 2196L584 2198ZM623 2198L621 2199L622 2199L622 2200L622 2200L620 2201L619 2201L617 2201L615 2201L613 2201L612 2200L614 2199L612 2199L612 2199L608 2198L609 2198L608 2197L611 2197L612 2197L613 2196L616 2197L617 2197L618 2197L619 2197L621 2197L626 2196L628 2197L625 2198ZM792 2199L791 2200L791 2200L790 2200L790 2201L789 2201L788 2201L788 2202L787 2202L785 2202L785 2202L784 2201L784 2200L786 2199L784 2199L783 2198L783 2198L784 2197L785 2197L786 2196L787 2197L788 2197L788 2197L789 2198L790 2197L791 2197L792 2198L793 2198ZM77 2244L77 2245L76 2245L74 2245L73 2246L71 2246L71 2246L69 2246L68 2245L67 2246L65 2246L63 2246L60 2246L63 2244L65 2244L64 2244L65 2243L65 2243L65 2242L66 2242L67 2241L69 2242L71 2242L73 2242L73 2242L74 2243L73 2243L74 2244ZM450 2248L450 2250L448 2251L447 2251L447 2253L446 2253L445 2255L444 2253L443 2255L442 2254L441 2254L439 2253L440 2251L440 2249L440 2248L440 2247L440 2245L440 2243L441 2242L442 2242L443 2241L444 2241L445 2240L445 2244L446 2245L447 2245L449 2245L450 2246ZM530 2245L529 2246L528 2247L527 2247L527 2247L527 2249L527 2250L526 2250L525 2250L524 2249L524 2248L524 2248L524 2247L524 2246L524 2245L523 2245L523 2243L523 2242L523 2241L525 2243L525 2242L526 2242L527 2242L527 2242L528 2242L528 2243L529 2243L529 2244ZM667 2242L666 2242L665 2243L665 2244L665 2245L664 2246L664 2247L663 2248L661 2248L660 2248L659 2246L659 2245L660 2243L660 2242L657 2242L657 2240L658 2239L659 2238L660 2238L660 2236L662 2237L663 2236L664 2236L664 2239L665 2238L667 2238L669 2238L668 2240ZM308 2301L310 2302L310 2302L309 2303L306 2303L303 2302L302 2302L301 2303L300 2303L297 2304L297 2303L296 2302L294 2302L293 2301L292 2301L297 2300L296 2300L296 2299L296 2298L297 2298L299 2297L301 2297L302 2299L304 2298L305 2298L307 2299L307 2299L309 2300ZM435 2293L436 2294L435 2294L435 2295L434 2295L433 2296L432 2295L431 2295L430 2294L430 2294L428 2295L427 2295L425 2294L426 2293L427 2293L427 2292L427 2292L427 2291L429 2292L429 2291L430 2290L431 2290L432 2289L434 2289L434 2291L433 2292L434 2292L434 2292ZM486 2300L485 2301L485 2302L484 2302L483 2303L482 2302L482 2303L481 2303L480 2306L479 2305L478 2305L478 2303L479 2301L479 2301L478 2300L478 2299L477 2298L478 2298L479 2297L479 2295L480 2295L481 2295L482 2296L482 2298L483 2298L484 2298L485 2298L486 2299ZM529 2293L529 2295L529 2296L529 2297L528 2298L526 2297L525 2297L524 2297L523 2297L521 2298L519 2298L519 2297L519 2295L518 2295L519 2293L518 2292L521 2292L521 2291L522 2291L521 2289L522 2287L524 2287L525 2289L526 2289L526 2291L527 2291L528 2291L528 2292ZM668 2294L666 2295L665 2296L665 2297L665 2299L665 2301L663 2301L662 2300L661 2301L660 2300L659 2298L659 2297L659 2296L658 2295L658 2294L656 2292L656 2291L658 2290L658 2288L660 2289L661 2289L662 2288L663 2290L664 2289L664 2290L667 2289L667 2291L669 2292ZM716 2303L716 2304L714 2304L712 2304L712 2305L710 2305L709 2306L708 2309L706 2308L704 2307L704 2305L702 2305L701 2304L701 2304L700 2303L701 2302L702 2301L701 2300L702 2299L703 2298L706 2299L708 2300L709 2300L711 2299L712 2300L716 2299L716 2300L715 2302ZM808 2302L808 2303L808 2305L806 2305L805 2307L805 2309L803 2310L800 2308L799 2307L799 2305L797 2306L793 2307L792 2305L792 2303L792 2302L792 2300L794 2299L794 2297L797 2297L797 2296L799 2295L800 2295L802 2294L805 2294L806 2295L806 2298L806 2299L807 2300ZM215 2348L216 2349L215 2350L214 2350L213 2349L213 2350L212 2351L212 2352L211 2352L210 2351L210 2350L210 2349L209 2349L208 2349L209 2348L209 2348L209 2347L209 2346L209 2345L210 2345L211 2345L212 2346L212 2347L212 2347L214 2346L215 2346L215 2347L216 2348ZM490 2342L490 2342L489 2343L489 2343L487 2343L484 2343L484 2343L483 2343L481 2344L479 2344L477 2344L477 2343L478 2342L478 2342L476 2342L477 2341L478 2341L479 2340L479 2340L480 2339L481 2339L483 2339L484 2339L485 2340L486 2340L487 2340L488 2341L489 2341ZM621 2344L620 2345L620 2346L619 2347L619 2348L618 2349L616 2349L615 2347L614 2347L613 2347L611 2347L609 2348L608 2346L608 2345L608 2344L608 2342L610 2342L610 2340L612 2341L612 2340L613 2338L615 2337L616 2337L618 2337L619 2339L618 2341L618 2342L620 2343ZM719 2337L717 2338L716 2338L715 2339L715 2340L712 2339L711 2339L710 2340L707 2341L705 2341L704 2340L704 2339L705 2338L704 2337L702 2337L702 2336L704 2336L704 2335L705 2335L706 2334L707 2333L710 2334L711 2335L711 2335L712 2335L716 2335L717 2335L719 2336ZM798 2339L797 2340L797 2341L795 2342L794 2342L793 2343L791 2343L790 2343L788 2344L786 2344L783 2344L783 2343L784 2341L785 2340L786 2339L784 2339L782 2337L783 2336L785 2336L787 2336L788 2335L790 2334L792 2335L792 2337L793 2337L795 2337L797 2338L798 2338ZM168 2386L167 2386L167 2387L167 2387L167 2388L166 2389L165 2389L163 2389L162 2389L161 2389L160 2388L161 2387L161 2387L159 2387L157 2386L156 2385L158 2385L159 2384L161 2384L162 2384L162 2383L163 2383L164 2384L165 2384L167 2384L169 2384L170 2384L168 2385ZM212 2396L212 2396L213 2398L212 2398L211 2399L211 2398L210 2398L209 2398L209 2399L208 2399L206 2399L206 2398L207 2397L206 2397L206 2396L207 2395L207 2395L207 2394L208 2394L207 2392L208 2391L209 2391L210 2393L210 2394L211 2394L211 2394L212 2395L212 2395ZM301 2389L301 2390L302 2391L301 2391L299 2391L299 2392L296 2392L295 2392L293 2392L291 2392L291 2391L291 2390L291 2390L286 2390L284 2389L287 2389L288 2388L290 2388L291 2388L291 2387L294 2388L295 2387L296 2388L298 2388L300 2387L302 2388L303 2388L300 2389ZM354 2391L352 2392L349 2392L349 2393L349 2394L350 2397L348 2398L346 2397L345 2396L344 2394L342 2395L341 2394L342 2393L342 2392L341 2391L338 2390L339 2388L341 2388L342 2386L344 2387L345 2388L346 2387L348 2386L349 2387L350 2387L351 2388L352 2389L353 2390ZM394 2384L394 2384L395 2385L392 2385L391 2385L389 2385L389 2385L388 2387L386 2387L384 2387L384 2386L384 2385L384 2384L383 2384L383 2384L383 2383L383 2383L383 2382L383 2381L384 2381L386 2381L388 2382L388 2383L390 2382L391 2382L393 2382L394 2383L394 2383ZM447 2390L444 2391L444 2391L444 2392L443 2393L442 2393L442 2395L441 2394L439 2395L439 2394L437 2394L437 2392L437 2391L437 2391L436 2390L435 2389L435 2387L436 2386L437 2386L439 2386L440 2386L441 2386L441 2387L443 2386L443 2387L444 2388L446 2387L447 2389ZM487 2391L484 2392L484 2393L484 2394L484 2396L484 2398L482 2398L481 2398L480 2398L479 2396L478 2395L479 2393L478 2393L479 2392L477 2391L476 2389L476 2388L476 2386L479 2387L479 2386L480 2385L481 2386L482 2386L483 2387L483 2387L486 2386L486 2388L488 2389ZM674 2388L674 2390L674 2392L673 2394L672 2394L671 2396L669 2394L668 2393L667 2392L665 2395L663 2395L662 2393L662 2391L661 2390L664 2388L662 2386L663 2386L663 2384L664 2382L664 2381L666 2379L668 2379L669 2381L670 2382L669 2385L670 2385L672 2385L673 2387ZM704 2386L705 2388L702 2388L702 2389L701 2390L700 2390L699 2391L698 2391L697 2392L695 2393L693 2392L692 2391L693 2389L695 2387L695 2386L692 2385L694 2384L693 2383L695 2382L696 2382L697 2381L698 2380L699 2381L699 2383L701 2383L701 2384L703 2384L705 2385ZM130 2434L130 2435L129 2436L130 2437L126 2437L126 2438L125 2440L123 2443L121 2440L120 2439L119 2437L120 2436L118 2436L115 2435L116 2434L115 2433L115 2431L117 2430L116 2428L120 2429L121 2428L123 2431L125 2429L127 2428L129 2429L130 2430L131 2431L130 2433ZM213 2436L215 2437L216 2439L214 2440L213 2441L212 2443L210 2443L208 2443L206 2442L206 2439L206 2438L203 2439L200 2439L198 2438L200 2436L199 2434L202 2434L201 2432L204 2432L205 2432L207 2431L208 2432L210 2429L212 2430L216 2428L215 2432L215 2433L215 2435ZM306 2441L306 2442L304 2443L303 2443L303 2444L302 2445L301 2444L300 2444L299 2444L298 2444L297 2445L295 2444L295 2443L296 2442L296 2441L296 2440L296 2439L296 2438L297 2438L298 2438L299 2437L300 2436L301 2437L302 2438L302 2439L302 2440L303 2440L305 2440ZM435 2437L434 2437L433 2437L433 2438L434 2439L433 2440L432 2440L431 2439L431 2439L430 2439L429 2439L429 2438L429 2438L429 2437L428 2437L427 2436L427 2435L429 2435L429 2435L430 2434L431 2435L431 2434L432 2434L433 2434L433 2435L435 2434L435 2435L436 2436ZM485 2434L485 2436L483 2437L483 2438L481 2438L481 2441L480 2439L479 2440L478 2439L477 2439L475 2441L473 2440L473 2438L474 2436L476 2434L476 2434L475 2432L475 2430L476 2430L477 2430L478 2428L479 2426L480 2427L481 2428L482 2430L481 2432L482 2433L485 2433ZM573 2429L571 2430L573 2431L572 2432L569 2431L568 2432L567 2432L565 2432L564 2433L562 2433L559 2433L559 2431L561 2430L561 2430L559 2429L560 2429L559 2428L561 2428L561 2427L562 2426L563 2425L565 2426L567 2426L568 2427L569 2427L569 2428L573 2427L573 2428ZM751 2439L753 2439L754 2440L753 2441L753 2442L750 2441L749 2443L747 2442L745 2442L744 2441L743 2441L743 2440L738 2441L736 2440L737 2439L739 2438L742 2438L743 2437L743 2437L744 2436L745 2436L747 2435L749 2435L751 2435L753 2435L753 2436L753 2437L750 2438ZM849 2433L848 2434L845 2434L844 2435L844 2436L843 2437L843 2438L841 2438L840 2439L839 2437L838 2436L837 2436L836 2435L838 2433L838 2433L837 2432L836 2430L836 2429L837 2427L839 2428L840 2429L841 2428L842 2429L843 2429L844 2429L845 2430L845 2431L847 2431ZM252 2490L253 2491L254 2492L253 2492L252 2493L250 2492L250 2492L249 2492L248 2494L247 2493L246 2493L246 2492L245 2491L246 2490L245 2490L246 2489L247 2489L247 2488L246 2487L247 2486L248 2485L249 2486L250 2487L250 2487L251 2488L252 2488L252 2489L252 2489ZM299 2478L299 2478L301 2479L301 2481L300 2481L298 2481L296 2482L294 2481L293 2481L292 2480L291 2480L290 2480L287 2480L287 2479L285 2478L285 2477L288 2476L291 2476L291 2476L291 2475L293 2475L294 2474L296 2474L298 2474L301 2474L301 2475L301 2476L300 2477ZM356 2489L354 2490L352 2491L352 2492L351 2492L351 2495L350 2496L349 2495L348 2494L347 2495L345 2495L344 2493L346 2491L346 2490L345 2489L344 2488L343 2486L344 2485L345 2483L347 2483L348 2485L349 2485L350 2485L351 2485L351 2486L352 2486L354 2486L356 2487ZM494 2477L494 2478L492 2479L492 2480L491 2481L491 2482L490 2484L488 2484L487 2482L486 2481L485 2480L484 2480L483 2479L481 2479L482 2477L483 2477L481 2475L482 2474L483 2473L485 2473L487 2474L488 2475L489 2473L491 2472L493 2472L493 2474L493 2475L493 2477ZM712 2485L715 2486L712 2486L709 2486L709 2487L707 2487L706 2487L705 2487L704 2487L703 2487L699 2487L698 2487L696 2487L698 2486L701 2485L700 2485L699 2485L700 2484L700 2484L702 2484L704 2484L705 2483L707 2483L709 2483L708 2484L709 2484L708 2485L710 2485ZM267 2528L265 2530L265 2532L262 2531L261 2531L261 2533L260 2534L259 2537L257 2536L256 2534L255 2533L254 2533L253 2532L253 2530L256 2528L256 2527L253 2525L254 2523L254 2520L256 2520L257 2521L259 2522L260 2523L261 2521L262 2523L263 2524L263 2525L265 2526ZM352 2528L351 2529L350 2530L350 2530L349 2531L348 2532L347 2532L346 2532L345 2533L343 2533L342 2532L343 2530L343 2529L344 2529L343 2528L342 2527L340 2526L341 2525L342 2524L344 2525L345 2524L346 2524L347 2525L347 2526L348 2526L350 2526L351 2526L353 2527ZM399 2529L398 2530L397 2531L396 2532L394 2532L392 2532L391 2533L389 2533L388 2532L386 2533L384 2533L382 2533L380 2532L382 2530L384 2529L384 2528L383 2527L383 2526L383 2525L386 2525L387 2524L389 2524L391 2524L392 2525L394 2526L394 2527L392 2528L396 2528ZM304 2571L303 2572L300 2572L302 2574L301 2575L301 2578L299 2578L298 2578L297 2576L296 2576L295 2575L294 2574L294 2573L294 2572L294 2571L291 2569L290 2566L292 2565L294 2565L296 2566L297 2565L298 2564L299 2565L300 2564L301 2566L302 2566L304 2567L306 2568ZM446 2573L446 2574L442 2575L443 2576L443 2578L442 2579L440 2580L438 2579L436 2578L434 2579L432 2578L432 2577L434 2575L432 2574L429 2573L427 2572L428 2570L429 2568L432 2568L436 2570L436 2568L438 2569L440 2569L441 2569L443 2569L445 2569L450 2570L449 2572ZM537 2584L537 2585L537 2586L537 2587L536 2588L536 2590L535 2591L534 2591L533 2591L532 2589L531 2588L531 2587L530 2586L528 2586L529 2584L529 2582L529 2581L530 2580L531 2579L532 2579L533 2580L534 2579L535 2577L536 2578L537 2578L538 2579L537 2582L537 2583ZM625 2572L626 2573L625 2573L622 2573L620 2573L619 2573L619 2574L617 2574L615 2575L614 2574L612 2574L611 2573L611 2573L611 2572L612 2572L613 2572L613 2571L611 2570L611 2569L614 2569L615 2569L617 2570L619 2570L619 2570L621 2570L622 2570L623 2571L623 2571ZM713 2577L712 2578L710 2579L709 2579L710 2581L709 2582L707 2582L706 2582L704 2583L702 2584L701 2582L699 2581L700 2579L701 2578L699 2577L697 2575L699 2574L701 2573L700 2571L702 2570L704 2570L706 2571L707 2572L708 2573L709 2573L712 2573L714 2573L716 2575ZM753 2570L753 2572L754 2574L754 2576L753 2577L752 2576L751 2577L750 2578L750 2576L749 2576L749 2573L748 2574L747 2574L745 2573L745 2570L746 2569L747 2568L748 2567L749 2566L749 2566L749 2564L750 2565L751 2563L752 2564L753 2564L754 2565L754 2567L753 2569ZM209 2615L209 2616L210 2618L208 2618L207 2619L207 2620L206 2622L205 2623L203 2622L203 2619L203 2618L202 2618L201 2617L198 2616L199 2615L198 2613L200 2612L201 2611L202 2610L203 2610L204 2610L205 2609L206 2608L208 2607L209 2608L210 2609L209 2612L208 2614ZM347 2618L346 2619L346 2619L345 2620L346 2621L345 2622L343 2622L341 2622L339 2621L337 2621L337 2620L335 2620L335 2619L334 2619L332 2618L330 2618L330 2617L334 2616L336 2616L339 2617L339 2616L341 2615L342 2616L345 2616L347 2616L347 2617L349 2617L350 2618ZM529 2616L529 2617L529 2618L530 2620L530 2622L528 2623L526 2623L524 2621L523 2620L522 2620L520 2620L519 2620L516 2619L516 2618L519 2616L519 2615L518 2613L519 2612L521 2612L523 2613L523 2611L524 2608L526 2608L528 2608L528 2612L528 2613L529 2614L531 2615ZM671 2626L670 2627L673 2628L673 2629L671 2629L670 2630L668 2630L667 2629L666 2629L665 2628L664 2628L663 2628L662 2628L660 2627L659 2626L660 2625L663 2625L663 2624L664 2624L665 2624L666 2623L667 2623L668 2624L670 2623L671 2623L672 2624L673 2625L671 2626ZM758 2615L757 2616L757 2616L756 2617L755 2617L755 2617L754 2617L754 2617L753 2618L752 2618L751 2618L750 2617L750 2616L751 2615L751 2615L751 2614L751 2614L751 2613L752 2613L752 2612L753 2611L754 2612L754 2612L754 2613L755 2613L755 2614L756 2614L757 2614ZM789 2614L790 2615L789 2615L788 2615L789 2617L788 2617L787 2617L786 2616L785 2616L785 2616L784 2616L782 2616L781 2615L782 2615L782 2614L783 2614L783 2613L784 2613L784 2612L785 2613L785 2612L786 2611L787 2610L788 2611L788 2612L788 2613L788 2613L789 2614Z" fill="#dcd8de"/>
<path d="M211.3 2200.6m-13.4 0a13.4 13.4 0 1 0 26.8 0a13.4 13.4 0 1 0 -26.8 0M300.7 2200.6m-13.4 0a13.4 13.4 0 1 0 26.8 0a13.4 13.4 0 1 0 -26.8 0M343.8 2200.6m-13.4 0a13.4 13.4 0 1 0 26.8 0a13.4 13.4 0 1 0 -26.8 0M391.3 2200.6m-13.4 0a13.4 13.4 0 1 0 26.8 0a13.4 13.4 0 1 0 -26.8 0M117.4 2298.4m-13.4 0a13.4 13.4 0 1 0 26.8 0a13.4 13.4 0 1 0 -26.8 0M299.0 2343.2m-13.4 0a13.4 13.4 0 1 0 26.8 0a13.4 13.4 0 1 0 -26.8 0M747.3 2340.4m-13.4 0a13.4 13.4 0 1 0 26.8 0a13.4 13.4 0 1 0 -26.8 0M523.8 2387.9m-13.4 0a13.4 13.4 0 1 0 26.8 0a13.4 13.4 0 1 0 -26.8 0M612.1 2387.9m-13.4 0a13.4 13.4 0 1 0 26.8 0a13.4 13.4 0 1 0 -26.8 0M792.6 2387.9m-13.4 0a13.4 13.4 0 1 0 26.8 0a13.4 13.4 0 1 0 -26.8 0M343.8 2435.4m-13.4 0a13.4 13.4 0 1 0 26.8 0a13.4 13.4 0 1 0 -26.8 0M517.0 2437.1m-13.4 0a13.4 13.4 0 1 0 26.8 0a13.4 13.4 0 1 0 -26.8 0M612.1 2437.1m-13.4 0a13.4 13.4 0 1 0 26.8 0a13.4 13.4 0 1 0 -26.8 0M792.6 2437.1m-13.4 0a13.4 13.4 0 1 0 26.8 0a13.4 13.4 0 1 0 -26.8 0M792.6 2484.6m-13.4 0a13.4 13.4 0 1 0 26.8 0a13.4 13.4 0 1 0 -26.8 0M695.9 2527.6m-13.4 0a13.4 13.4 0 1 0 26.8 0a13.4 13.4 0 1 0 -26.8 0M77.1 2575.1m-13.4 0a13.4 13.4 0 1 0 26.8 0a13.4 13.4 0 1 0 -26.8 0M472.3 2575.1m-13.4 0a13.4 13.4 0 1 0 26.8 0a13.4 13.4 0 1 0 -26.8 0M256.0 2619.8m-13.4 0a13.4 13.4 0 1 0 26.8 0a13.4 13.4 0 1 0 -26.8 0M565.7 2619.8m-13.4 0a13.4 13.4 0 1 0 26.8 0a13.4 13.4 0 1 0 -26.8 0M701.5 2619.8m-13.4 0a13.4 13.4 0 1 0 26.8 0a13.4 13.4 0 1 0 -26.8 0" fill="none" stroke="#f6c8c8" stroke-width="6"/>
<path d="M211.3 2200.6m-13.4 0a13.4 13.4 0 1 0 26.8 0a13.4 13.4 0 1 0 -26.8 0M300.7 2200.6m-13.4 0a13.4 13.4 0 1 0 26.8 0a13.4 13.4 0 1 0 -26.8 0M343.8 2200.6m-13.4 0a13.4 13.4 0 1 0 26.8 0a13.4 13.4 0 1 0 -26.8 0M391.3 2200.6m-13.4 0a13.4 13.4 0 1 0 26.8 0a13.4 13.4 0 1 0 -26.8 0M117.4 2298.4m-13.4 0a13.4 13.4 0 1 0 26.8 0a13.4 13.4 0 1 0 -26.8 0M299.0 2343.2m-13.4 0a13.4 13.4 0 1 0 26.8 0a13.4 13.4 0 1 0 -26.8 0M747.3 2340.4m-13.4 0a13.4 13.4 0 1 0 26.8 0a13.4 13.4 0 1 0 -26.8 0M523.8 2387.9m-13.4 0a13.4 13.4 0 1 0 26.8 0a13.4 13.4 0 1 0 -26.8 0M612.1 2387.9m-13.4 0a13.4 13.4 0 1 0 26.8 0a13.4 13.4 0 1 0 -26.8 0M792.6 2387.9m-13.4 0a13.4 13.4 0 1 0 26.8 0a13.4 13.4 0 1 0 -26.8 0M343.8 2435.4m-13.4 0a13.4 13.4 0 1 0 26.8 0a13.4 13.4 0 1 0 -26.8 0M517.0 2437.1m-13.4 0a13.4 13.4 0 1 0 26.8 0a13.4 13.4 0 1 0 -26.8 0M612.1 2437.1m-13.4 0a13.4 13.4 0 1 0 26.8 0a13.4 13.4 0 1 0 -26.8 0M792.6 2437.1m-13.4 0a13.4 13.4 0 1 0 26.8 0a13.4 13.4 0 1 0 -26.8 0M792.6 2484.6m-13.4 0a13.4 13.4 0 1 0 26.8 0a13.4 13.4 0 1 0 -26.8 0M695.9 2527.6m-13.4 0a13.4 13.4 0 1 0 26.8 0a13.4 13.4 0 1 0 -26.8 0M77.1 2575.1m-13.4 0a13.4 13.4 0 1 0 26.8 0a13.4 13.4 0 1 0 -26.8 0M472.3 2575.1m-13.4 0a13.4 13.4 0 1 0 26.8 0a13.4 13.4 0 1 0 -26.8 0M256.0 2619.8m-13.4 0a13.4 13.4 0 1 0 26.8 0a13.4 13.4 0 1 0 -26.8 0M565.7 2619.8m-13.4 0a13.4 13.4 0 1 0 26.8 0a13.4 13.4 0 1 0 -26.8 0M701.5 2619.8m-13.4 0a13.4 13.4 0 1 0 26.8 0a13.4 13.4 0 1 0 -26.8 0" fill="none" stroke="#be1018" stroke-width="4.2"/>
<text x="892.0" y="2149.0" font-size="31" font-weight="bold">h</text>
<rect x="887.6" y="2198.0" width="248.7" height="201.0" fill="#ececef"/>
<g clip-path="url(#hc1)">
<circle cx="1015.0" cy="2298.5" r="122.0" fill="#c3c5da"/>
<circle cx="1015.0" cy="2298.5" r="122" filter="url(#dsb)" opacity="0.6"/>
<circle cx="1015.0" cy="2298.5" r="122" filter="url(#hspeck)" opacity="0.55"/>
</g>
<rect x="1137.8" y="2198.0" width="250.2" height="201.0" fill="#ebe9ee"/>
<g clip-path="url(#hc1z)">
<path d="M1174 2289l0 0" stroke="#e8e2e6" stroke-width="17.0" stroke-linecap="round"/>
<path d="M1338 2305l0 0M1283 2243l0 0" stroke="#d8d8e6" stroke-width="14.6" stroke-linecap="round"/>
<path d="M1375 2265l0 0M1205 2332l0 0M1379 2294l0 0" stroke="#d8d8e6" stroke-width="17.6" stroke-linecap="round"/>
<path d="M1185 2268l0 0" stroke="#e8e2e6" stroke-width="19.6" stroke-linecap="round"/>
<path d="M1277 2379l0 0M1305 2252l0 0" stroke="#e8e2e6" stroke-width="11.6" stroke-linecap="round"/>
<path d="M1139 2277l0 0M1293 2329l0 0M1214 2386l0 0M1188 2210l0 0M1278 2211l0 0" stroke="#e8e2e6" stroke-width="15.6" stroke-linecap="round"/>
<path d="M1366 2246l0 0M1214 2278l0 0M1366 2361l0 0" stroke="#d8d8e6" stroke-width="16.4" stroke-linecap="round"/>
<path d="M1276 2393l0 0M1166 2237l0 0M1322 2341l0 0M1167 2205l0 0" stroke="#e8e2e6" stroke-width="17.2" stroke-linecap="round"/>
<path d="M1210 2317l0 0M1301 2325l0 0" stroke="#e8e2e6" stroke-width="13.4" stroke-linecap="round"/>
<path d="M1259 2351l0 0M1354 2349l0 0M1362 2268l0 0" stroke="#e8e2e6" stroke-width="19.0" stroke-linecap="round"/>
<path d="M1350 2381l0 0M1269 2353l0 0" stroke="#e8e2e6" stroke-width="17.6" stroke-linecap="round"/>
<path d="M1284 2228l0 0" stroke="#e8e2e6" stroke-width="18.6" stroke-linecap="round"/>
<path d="M1314 2222l0 0" stroke="#d8d8e6" stroke-width="16.0" stroke-linecap="round"/>
<path d="M1372 2279l0 0M1158 2258l0 0" stroke="#e8e2e6" stroke-width="16.2" stroke-linecap="round"/>
<path d="M1274 2339l0 0M1144 2322l0 0M1378 2206l0 0" stroke="#d8d8e6" stroke-width="18.0" stroke-linecap="round"/>
<path d="M1187 2248l0 0M1355 2218l0 0" stroke="#d8d8e6" stroke-width="11.4" stroke-linecap="round"/>
<path d="M1155 2388l0 0M1384 2276l0 0" stroke="#d8d8e6" stroke-width="15.4" stroke-linecap="round"/>
<path d="M1251 2237l0 0M1336 2269l0 0M1209 2312l0 0" stroke="#e8e2e6" stroke-width="12.6" stroke-linecap="round"/>
<path d="M1241 2385l0 0" stroke="#e8e2e6" stroke-width="19.8" stroke-linecap="round"/>
<path d="M1316 2236l0 0" stroke="#e8e2e6" stroke-width="14.0" stroke-linecap="round"/>
<path d="M1226 2333l0 0" stroke="#d8d8e6" stroke-width="17.2" stroke-linecap="round"/>
<path d="M1314 2300l0 0M1140 2298l0 0M1325 2202l0 0" stroke="#d8d8e6" stroke-width="13.8" stroke-linecap="round"/>
<path d="M1178 2367l0 0M1244 2289l0 0" stroke="#e8e2e6" stroke-width="12.8" stroke-linecap="round"/>
<path d="M1172 2316l0 0M1244 2315l0 0M1377 2255l0 0M1304 2365l0 0" stroke="#e8e2e6" stroke-width="11.2" stroke-linecap="round"/>
<path d="M1160 2207l0 0" stroke="#d8d8e6" stroke-width="10.2" stroke-linecap="round"/>
<path d="M1160 2324l0 0M1248 2291l0 0M1170 2270l0 0" stroke="#d8d8e6" stroke-width="15.6" stroke-linecap="round"/>
<path d="M1328 2315l0 0" stroke="#d8d8e6" stroke-width="19.4" stroke-linecap="round"/>
<path d="M1360 2219l0 0M1187 2211l0 0M1186 2211l0 0" stroke="#e8e2e6" stroke-width="18.4" stroke-linecap="round"/>
<path d="M1334 2382l0 0M1358 2385l0 0M1215 2221l0 0" stroke="#d8d8e6" stroke-width="17.4" stroke-linecap="round"/>
<path d="M1147 2201l0 0" stroke="#e8e2e6" stroke-width="15.4" stroke-linecap="round"/>
<path d="M1151 2294l0 0M1256 2226l0 0" stroke="#e8e2e6" stroke-width="12.0" stroke-linecap="round"/>
<path d="M1351 2316l0 0M1256 2233l0 0M1289 2377l0 0" stroke="#d8d8e6" stroke-width="15.2" stroke-linecap="round"/>
<path d="M1310 2206l0 0M1223 2354l0 0" stroke="#e8e2e6" stroke-width="12.4" stroke-linecap="round"/>
<path d="M1194 2375l0 0" stroke="#d8d8e6" stroke-width="13.0" stroke-linecap="round"/>
<path d="M1312 2386l0 0" stroke="#d8d8e6" stroke-width="10.8" stroke-linecap="round"/>
<path d="M1293 2386l0 0M1277 2281l0 0" stroke="#e8e2e6" stroke-width="10.8" stroke-linecap="round"/>
<path d="M1178 2347l0 0M1239 2202l0 0" stroke="#e8e2e6" stroke-width="10.4" stroke-linecap="round"/>
<path d="M1204 2242l0 0M1386 2248l0 0" stroke="#d8d8e6" stroke-width="19.0" stroke-linecap="round"/>
<path d="M1145 2251l0 0M1148 2336l0 0M1264 2277l0 0M1198 2264l0 0" stroke="#e8e2e6" stroke-width="11.8" stroke-linecap="round"/>
<path d="M1226 2232l0 0" stroke="#e8e2e6" stroke-width="13.8" stroke-linecap="round"/>
<path d="M1318 2256l0 0M1371 2251l0 0" stroke="#d8d8e6" stroke-width="13.2" stroke-linecap="round"/>
<path d="M1191 2213l0 0M1319 2370l0 0" stroke="#d8d8e6" stroke-width="16.2" stroke-linecap="round"/>
<path d="M1193 2388l0 0M1190 2230l0 0M1331 2225l0 0" stroke="#d8d8e6" stroke-width="17.0" stroke-linecap="round"/>
<path d="M1310 2377l0 0" stroke="#e8e2e6" stroke-width="15.0" stroke-linecap="round"/>
<path d="M1231 2395l0 0M1226 2375l0 0" stroke="#d8d8e6" stroke-width="10.4" stroke-linecap="round"/>
<path d="M1272 2349l0 0M1276 2219l0 0M1148 2278l0 0M1293 2348l0 0M1253 2299l0 0" stroke="#e8e2e6" stroke-width="11.0" stroke-linecap="round"/>
<path d="M1336 2348l0 0" stroke="#e8e2e6" stroke-width="14.4" stroke-linecap="round"/>
<path d="M1297 2304l0 0M1336 2323l0 0" stroke="#e8e2e6" stroke-width="14.8" stroke-linecap="round"/>
<path d="M1235 2203l0 0" stroke="#d8d8e6" stroke-width="11.2" stroke-linecap="round"/>
<path d="M1321 2390l0 0M1213 2297l0 0M1345 2340l0 0" stroke="#d8d8e6" stroke-width="18.4" stroke-linecap="round"/>
<path d="M1316 2334l0 0M1338 2208l0 0M1324 2235l0 0M1202 2327l0 0" stroke="#d8d8e6" stroke-width="15.8" stroke-linecap="round"/>
<path d="M1326 2272l0 0" stroke="#e8e2e6" stroke-width="13.6" stroke-linecap="round"/>
<path d="M1315 2333l0 0M1213 2262l0 0" stroke="#d8d8e6" stroke-width="14.4" stroke-linecap="round"/>
<path d="M1328 2270l0 0M1342 2313l0 0" stroke="#d8d8e6" stroke-width="14.0" stroke-linecap="round"/>
<path d="M1325 2313l0 0" stroke="#e8e2e6" stroke-width="19.4" stroke-linecap="round"/>
<path d="M1196 2247l0 0" stroke="#d8d8e6" stroke-width="14.8" stroke-linecap="round"/>
<path d="M1181 2325l0 0M1147 2323l0 0" stroke="#e8e2e6" stroke-width="12.2" stroke-linecap="round"/>
<path d="M1365 2258l0 0M1270 2213l0 0M1151 2350l0 0" stroke="#e8e2e6" stroke-width="16.0" stroke-linecap="round"/>
<path d="M1275 2312l0 0" stroke="#d8d8e6" stroke-width="17.8" stroke-linecap="round"/>
<path d="M1324 2313l0 0" stroke="#e8e2e6" stroke-width="10.2" stroke-linecap="round"/>
<path d="M1183 2208l0 0" stroke="#e8e2e6" stroke-width="10.6" stroke-linecap="round"/>
<path d="M1273 2308l0 0M1331 2364l0 0M1267 2342l0 0" stroke="#e8e2e6" stroke-width="17.4" stroke-linecap="round"/>
<path d="M1384 2344l0 0M1365 2312l0 0M1151 2352l0 0" stroke="#d8d8e6" stroke-width="16.6" stroke-linecap="round"/>
<path d="M1178 2380l0 0M1287 2345l0 0" stroke="#e8e2e6" stroke-width="13.2" stroke-linecap="round"/>
<path d="M1153 2265l0 0M1376 2319l0 0" stroke="#e8e2e6" stroke-width="18.2" stroke-linecap="round"/>
<path d="M1284 2265l0 0M1358 2283l0 0" stroke="#d8d8e6" stroke-width="13.4" stroke-linecap="round"/>
<path d="M1322 2288l0 0" stroke="#d8d8e6" stroke-width="19.6" stroke-linecap="round"/>
<path d="M1177 2284l0 0" stroke="#d8d8e6" stroke-width="14.2" stroke-linecap="round"/>
<path d="M1307 2211l0 0" stroke="#d8d8e6" stroke-width="11.8" stroke-linecap="round"/>
<path d="M1385 2240l0 0M1209 2258l0 0" stroke="#e8e2e6" stroke-width="15.2" stroke-linecap="round"/>
<path d="M1344 2320l0 0" stroke="#d8d8e6" stroke-width="16.8" stroke-linecap="round"/>
<path d="M1197 2382l0 0" stroke="#e8e2e6" stroke-width="16.8" stroke-linecap="round"/>
<path d="M1295 2240l0 0" stroke="#d8d8e6" stroke-width="11.6" stroke-linecap="round"/>
<path d="M1379 2224l0 0" stroke="#d8d8e6" stroke-width="19.2" stroke-linecap="round"/>
<path d="M1317 2287l0 0" stroke="#e8e2e6" stroke-width="18.8" stroke-linecap="round"/>
<path d="M1214 2228l0 0" stroke="#e8e2e6" stroke-width="15.8" stroke-linecap="round"/>
<path d="M1197 2219l0 0" stroke="#e8e2e6" stroke-width="11.4" stroke-linecap="round"/>
<path d="M1341 2257l0 0" stroke="#d8d8e6" stroke-width="10.6" stroke-linecap="round"/>
<path d="M1304 2327l0 0" stroke="#d8d8e6" stroke-width="12.0" stroke-linecap="round"/>
<path d="M1189 2353l0 0" stroke="#e8e2e6" stroke-width="13.0" stroke-linecap="round"/>
<path d="M1196 2321l0 0" stroke="#e8e2e6" stroke-width="16.6" stroke-linecap="round"/>
<path d="M1191 2391l0 0" stroke="#d8d8e6" stroke-width="11.0" stroke-linecap="round"/>
<path d="M1239 2203l0 0" stroke="#d8d8e6" stroke-width="12.6" stroke-linecap="round"/>
<path d="M1283 2237l-1 1M1146 2267l2 1M1169 2396l0 0M1189 2378l2 1M1303 2343l0 0M1190 2317l1 0M1358 2398l1 1M1150 2350l-1 2M1344 2336l0 1M1165 2312l0 1M1268 2239l1 1M1292 2235l-1 1M1384 2374l1 2M1377 2335l0 1M1346 2256l0 1M1168 2288l-2 0M1335 2314l-1 0M1285 2358l0 2M1279 2240l-1 1M1184 2321l-2 0M1322 2287l-1 0M1284 2271l0 0M1287 2395l0 0M1359 2326l0 0M1307 2348l0 1M1330 2393l-1 1M1163 2234l-1 2M1328 2274l-2 0M1255 2338l-2 2M1234 2393l-1 1M1303 2265l0 0M1194 2339l0 0M1230 2331l0 0M1235 2278l0 0M1235 2378l-1 1M1281 2374l0 1M1356 2280l1 1M1200 2386l0 2" stroke="#8892c0" stroke-width="4.0" stroke-linecap="round"/>
<path d="M1191 2243l-1 0M1155 2237l0 1M1272 2267l0 0M1327 2350l0 1M1312 2295l0 0M1165 2286l1 2M1325 2217l1 2M1158 2340l-1 1M1368 2226l0 0M1142 2271l0 0M1362 2227l2 1M1185 2341l2 0M1335 2241l1 2M1243 2264l0 1M1311 2248l2 2M1328 2230l0 2M1364 2291l0 0M1324 2351l-1 1M1339 2385l1 0M1174 2342l1 2M1314 2248l2 1M1280 2360l-1 1M1307 2226l0 1M1265 2357l-1 1M1171 2356l0 0M1371 2387l0 0M1157 2217l0 1M1338 2254l2 0M1283 2215l-2 0M1206 2272l0 1M1298 2367l1 1M1382 2217l2 1M1302 2231l0 1M1297 2211l-2 1M1324 2378l1 0M1254 2247l0 1M1363 2353l0 0M1254 2365l-2 1M1304 2259l1 2M1282 2373l0 1M1214 2217l1 1M1299 2351l-1 1M1158 2306l0 0M1145 2253l1 0M1176 2213l0 0M1260 2315l-1 1M1199 2320l0 0M1173 2316l1 1M1204 2352l0 0M1316 2338l2 0M1285 2397l0 1M1234 2238l1 1M1230 2383l1 2M1283 2261l1 1M1215 2242l-2 1M1231 2282l0 0M1286 2251l2 0M1347 2325l0 1M1233 2316l-2 1" stroke="#3f4f92" stroke-width="3.8" stroke-linecap="round"/>
<path d="M1219.4 2326.1l1 1M1273.8 2220.5l0 1M1207.7 2252.6l-1 0M1355.3 2333.7l-2 2M1329.2 2279.0l0 0M1354.3 2302.9l0 0M1381.9 2327.5l-1 0M1197.0 2272.1l0 0M1195.6 2351.3l2 1M1150.3 2252.5l-2 0M1300.7 2390.5l-1 0M1362.7 2205.1l1 1M1266.7 2294.6l0 0M1217.6 2372.8l0 0M1210.6 2393.0l-1 1M1354.4 2396.1l-2 0M1226.8 2230.0l-1 1M1291.0 2262.2l0 2M1384.5 2387.9l1 1M1267.8 2315.2l-1 2M1226.7 2310.7l-1 0M1291.9 2200.0l1 0M1339.2 2292.9l-1 1M1274.1 2316.3l2 2M1162.0 2217.1l-1 2M1152.3 2202.6l0 0M1288.5 2276.5l0 0M1296.7 2373.4l-2 0M1349.7 2303.0l0 0M1334.7 2258.0l0 1M1170.8 2375.6l0 0M1195.5 2283.8l1 1M1181.7 2247.1l-1 0M1149.7 2282.5l0 1M1351.1 2359.5l0 0M1201.7 2354.9l-1 1M1213.3 2320.7l-2 2M1320.0 2245.5l0 1M1382.6 2227.5l0 1M1240.2 2366.4l-1 1" stroke="#34448a" stroke-width="3.0" stroke-linecap="round"/>
<path d="M1166 2364l1 2M1216 2373l0 0M1312 2255l0 0M1267 2255l2 1M1152 2382l0 0M1357 2393l-1 0M1165 2323l0 1M1285 2269l-1 1M1337 2356l0 2M1328 2308l-1 0M1233 2270l0 0M1247 2209l2 1M1196 2336l0 0M1215 2320l0 1M1213 2360l-1 1M1250 2384l-1 1M1259 2396l0 0M1250 2358l0 0M1252 2214l0 2M1363 2349l0 0M1204 2241l0 2M1235 2363l-1 1M1279 2205l0 1M1315 2335l-1 1M1267 2320l2 0M1262 2395l0 1M1146 2227l0 0M1223 2303l0 0M1186 2275l-1 2M1276 2284l1 1M1206 2291l0 2M1368 2218l1 2M1278 2215l-1 0M1308 2238l0 1M1178 2356l2 2" stroke="#5f6ea8" stroke-width="3.6" stroke-linecap="round"/>
<path d="M1233 2283l0 0M1176 2267l1 2M1154 2243l0 0M1286 2280l0 0M1151 2362l2 1M1250 2302l0 0M1168 2277l-1 0M1337 2312l0 2M1172 2357l1 0M1381 2363l0 0M1284 2202l0 0M1327 2299l0 0M1344 2344l0 0M1199 2254l1 1M1311 2346l0 2M1371 2338l0 0M1281 2298l1 1M1165 2287l1 0M1354 2355l-2 1M1370 2304l1 1M1163 2386l-1 1M1360 2352l2 0M1343 2221l-1 0M1321 2308l-1 2M1286 2261l-2 1M1285 2202l2 0M1169 2287l0 1M1149 2360l-2 0M1212 2382l0 0M1340 2273l-1 1M1243 2254l-1 1M1186 2333l0 0M1307 2373l0 0M1297 2328l-2 2M1271 2233l-2 2M1327 2227l-1 2M1214 2289l0 0M1274 2291l0 0M1232 2251l-1 1" stroke="#34448a" stroke-width="3.6" stroke-linecap="round"/>
<path d="M1176.2 2205.0l0 0M1377.3 2375.8l-1 1M1174.7 2298.5l0 0M1333.1 2387.4l1 0M1367.7 2317.3l0 2M1364.4 2215.8l1 0M1196.3 2249.3l0 0M1171.7 2379.7l1 1M1350.0 2284.5l0 0M1202.2 2387.6l-2 1M1160.6 2335.2l2 2M1222.8 2396.0l1 1M1333.0 2343.3l2 1M1185.3 2291.7l0 0M1351.3 2343.0l1 0M1335.3 2332.3l0 1M1262.0 2201.1l-1 1M1307.9 2381.3l0 1M1298.5 2273.4l0 1M1304.1 2220.6l1 1M1366.7 2250.8l1 0M1338.8 2300.0l-1 1M1192.3 2349.7l-1 1M1281.5 2397.9l1 0M1256.2 2354.7l1 0M1294.5 2355.1l0 0M1253.9 2386.7l1 1M1361.1 2278.1l1 1M1263.6 2267.6l1 0M1288.8 2214.3l1 1M1144.9 2362.2l0 0M1332.9 2316.2l2 2M1245.8 2306.1l2 2M1263.2 2298.5l0 2M1244.4 2327.0l-1 0M1204.3 2320.5l1 0M1206.5 2313.6l-1 1M1169.6 2211.9l1 1M1271.2 2285.9l-1 1M1261.8 2333.8l0 1M1289.6 2394.7l1 0M1231.2 2346.1l1 2M1383.8 2226.8l1 2M1161.3 2364.9l-1 0M1247.5 2367.2l-2 1M1204.3 2305.6l0 1M1349.7 2271.5l1 2M1194.0 2309.4l-2 0M1206.3 2368.9l1 1M1293.1 2383.6l-2 1M1246.5 2300.7l0 2M1345.8 2241.8l0 0M1233.7 2298.7l-1 2M1283.5 2204.7l1 1M1340.4 2211.3l-1 1" stroke="#3f4f92" stroke-width="2.8" stroke-linecap="round"/>
<path d="M1320 2271l-1 0M1310 2271l0 0M1209 2278l-1 0M1339 2371l0 1M1140 2254l-1 2M1178 2281l0 1M1376 2227l0 0M1300 2297l0 1M1284 2324l1 2M1371 2250l-1 1M1293 2391l1 1M1206 2259l0 1M1158 2263l0 0M1183 2225l1 2M1341 2281l-1 0M1227 2330l-1 2M1331 2270l-1 2M1281 2258l0 0M1303 2274l0 1M1344 2245l-1 1M1163 2271l0 0M1377 2269l0 0M1357 2213l-1 1M1349 2219l2 0M1372 2294l2 0M1165 2207l-2 0M1171 2291l2 2M1354 2373l0 1M1291 2381l-1 1M1287 2214l-1 1M1185 2245l2 1M1139 2273l-1 1M1250 2254l0 0M1277 2262l-1 1M1354 2240l-1 2M1345 2261l0 0M1288 2230l0 0" stroke="#5f6ea8" stroke-width="3.4" stroke-linecap="round"/>
<path d="M1314 2354l0 0M1265 2391l2 0M1196 2280l0 1M1331 2371l2 0M1164 2309l0 0M1144 2371l-1 1M1165 2203l0 0M1383 2272l1 1M1142 2219l1 2M1196 2210l0 0M1263 2255l0 0M1383 2210l-1 2M1211 2344l0 0M1148 2379l0 0M1242 2243l-1 0M1292 2256l0 1M1221 2338l0 0M1154 2361l0 1M1207 2202l0 0M1165 2294l0 1M1244 2285l0 0M1257 2276l1 1M1223 2247l-1 2M1160 2257l0 0M1198 2327l-2 0M1141 2372l1 1M1303 2262l0 1M1373 2227l-1 2M1164 2267l1 1M1198 2236l0 1M1200 2330l0 1M1225 2249l0 1M1297 2301l0 0M1178 2332l-1 0M1159 2397l0 2M1221 2381l0 0M1369 2209l-2 1M1263 2390l0 0M1299 2224l1 1M1263 2382l0 0M1341 2228l0 1M1332 2393l-1 1" stroke="#5f6ea8" stroke-width="3.8" stroke-linecap="round"/>
<path d="M1336 2346l2 1M1162 2307l-2 1M1291 2289l0 2M1378 2290l-2 1M1318 2366l-1 1M1216 2346l1 1M1369 2231l-2 1M1370 2270l-1 1M1199 2350l-2 0M1281 2346l1 1M1329 2328l2 0M1173 2365l0 0M1328 2213l1 0M1209 2347l0 2M1311 2301l-2 2M1215 2337l0 0M1379 2227l0 0M1289 2330l0 1M1181 2361l-1 1M1139 2312l0 0M1272 2324l0 0M1379 2217l0 0M1321 2228l0 1M1383 2389l-1 0M1171 2283l2 0M1169 2384l1 1" stroke="#8892c0" stroke-width="3.4" stroke-linecap="round"/>
<path d="M1225 2210l0 0M1276 2306l0 1M1286 2386l-1 2M1235 2310l-2 2M1318 2381l-1 1M1328 2326l0 1M1213 2253l-1 0M1261 2310l-2 1M1230 2375l-2 0M1319 2281l0 0M1310 2249l-2 1M1219 2285l0 0M1210 2391l1 2M1377 2296l1 2M1197 2262l1 1M1319 2222l1 0M1203 2320l2 0M1148 2339l-1 1M1295 2234l0 2M1313 2288l0 0M1357 2386l0 1M1277 2209l-1 1M1151 2240l0 0M1352 2331l1 1M1375 2225l0 0M1336 2272l1 1M1289 2289l0 0M1302 2204l0 1M1165 2236l0 0M1167 2308l0 0M1172 2394l1 0M1140 2300l0 1M1270 2311l-2 1M1334 2218l2 0M1168 2296l0 0M1205 2296l-1 2M1263 2337l-1 1M1237 2217l0 2M1185 2306l1 2M1241 2271l1 2M1228 2314l1 1M1168 2228l-2 0M1321 2311l0 1M1168 2347l1 2M1284 2243l1 2M1233 2212l0 1M1330 2217l1 2M1357 2201l0 0M1260 2257l0 1M1367 2249l-1 1M1185 2393l1 0M1182 2382l-1 0M1358 2342l0 0M1226 2393l0 0M1338 2389l-1 1M1268 2395l0 1M1232 2216l0 1M1314 2288l0 0" stroke="#3f4f92" stroke-width="4.0" stroke-linecap="round"/>
<path d="M1200 2239l1 2M1212 2206l0 2M1337 2344l-1 2M1254 2324l0 1M1204 2317l1 2M1246 2302l0 0M1227 2297l-1 1M1351 2253l0 0M1213 2356l-1 0M1359 2314l1 1M1307 2218l-1 1M1155 2383l1 0M1238 2317l-1 0M1370 2281l0 1M1176 2208l0 0M1188 2362l-1 1M1259 2395l-1 1M1236 2268l-1 1M1358 2273l1 1M1282 2268l0 0M1263 2240l2 1M1163 2353l-2 1M1375 2268l-1 0M1225 2219l-1 1" stroke="#3f4f92" stroke-width="4.2" stroke-linecap="round"/>
<path d="M1161.7 2329.3l-1 1M1351.6 2207.0l0 0M1308.1 2373.4l0 0M1229.3 2312.8l0 2M1318.8 2338.6l-2 1M1353.3 2302.4l0 0M1162.9 2254.7l0 1M1370.2 2362.2l-2 1M1294.7 2291.3l2 1M1234.9 2397.9l0 2M1360.2 2212.3l1 1M1228.2 2264.3l0 1M1387.0 2295.0l-1 1M1213.5 2352.2l0 0M1221.0 2353.1l1 1M1244.4 2389.6l1 1M1233.9 2370.7l-1 1" stroke="#8892c0" stroke-width="2.6" stroke-linecap="round"/>
<path d="M1252.6 2312.4l0 1M1217.5 2333.9l0 1M1151.1 2271.4l-2 1M1309.8 2321.9l-1 2M1369.3 2283.2l2 1M1181.8 2390.8l-2 1M1294.2 2219.4l0 2M1366.4 2366.5l2 1M1171.8 2392.3l1 2M1355.7 2286.5l0 0M1277.6 2294.8l2 1M1200.5 2231.1l0 1M1173.4 2203.6l-2 1M1187.4 2252.6l0 0M1156.9 2231.1l1 0M1312.3 2256.6l0 0M1347.2 2343.2l-1 1M1173.7 2366.7l-1 0M1282.5 2297.5l0 0M1191.7 2215.2l-1 1M1178.4 2233.3l1 2M1252.6 2311.9l2 1M1201.9 2299.4l2 1M1285.1 2264.8l0 0M1329.0 2207.8l0 1M1196.5 2366.2l-1 0M1364.9 2214.6l-1 0M1242.4 2353.9l0 0M1215.5 2288.0l-1 1M1151.3 2220.6l-2 1M1323.2 2342.1l0 2M1342.4 2268.3l-2 1M1235.4 2386.0l-1 2M1235.1 2390.9l-1 0M1360.5 2227.4l1 1M1338.7 2369.5l1 0M1177.3 2227.7l2 1M1172.8 2242.4l-1 1M1254.4 2276.1l-1 2M1193.7 2356.4l-2 1M1215.4 2322.1l0 1M1170.3 2306.3l-2 0M1175.3 2392.2l1 1M1276.5 2235.3l-1 1M1381.7 2290.1l0 0M1264.2 2384.7l0 0M1283.8 2340.4l-2 1M1169.9 2244.0l0 0M1256.7 2270.9l2 1" stroke="#5f6ea8" stroke-width="3.0" stroke-linecap="round"/>
<path d="M1361.5 2278.6l0 0M1192.0 2358.1l0 0M1371.9 2264.8l0 2M1323.2 2315.4l0 2M1139.6 2262.7l2 1M1265.0 2360.6l-1 0M1326.0 2285.2l0 1M1214.3 2324.2l0 1M1157.7 2363.1l0 0M1199.7 2370.0l1 1M1189.8 2241.9l2 0M1334.6 2248.6l0 0M1383.1 2379.8l0 0M1146.6 2304.3l0 2M1371.2 2357.8l-1 0M1354.6 2327.3l0 0M1217.5 2238.7l2 0M1282.0 2312.3l0 2M1218.4 2212.8l-1 1M1318.4 2295.2l0 2M1253.6 2242.5l0 0M1177.8 2364.5l0 1M1195.1 2376.9l-1 0M1211.8 2209.4l-1 1M1167.7 2294.7l1 2M1300.5 2279.2l-2 2M1229.2 2348.0l1 1M1171.6 2299.6l0 0M1267.4 2288.5l0 0M1243.9 2334.3l-2 1M1159.3 2213.4l0 2M1360.2 2267.1l0 0M1163.7 2351.8l-2 1M1148.5 2299.2l0 2M1314.9 2222.2l0 0M1174.9 2356.5l0 0M1246.3 2378.7l1 1M1210.5 2386.0l-1 1M1275.7 2219.7l2 0M1278.4 2360.7l-2 0M1300.3 2248.4l0 1M1288.9 2366.9l-2 1M1158.0 2342.9l2 1M1153.9 2275.3l-1 2M1244.3 2295.0l0 0M1342.1 2370.2l1 0M1243.2 2219.1l0 1" stroke="#3f4f92" stroke-width="3.0" stroke-linecap="round"/>
<path d="M1168 2267l-1 1M1280 2348l1 1M1337 2379l-2 1M1238 2270l-1 1M1314 2293l0 0M1272 2240l1 0M1206 2348l0 0M1191 2384l0 0M1319 2269l1 0M1182 2337l0 1M1378 2264l-1 1M1175 2283l-1 2M1204 2321l-2 2M1325 2357l-2 0M1382 2342l1 1M1351 2211l0 0M1291 2372l0 0M1148 2312l0 0M1292 2322l-2 0M1146 2281l-1 1M1279 2335l-1 0M1296 2323l-1 0M1323 2224l0 0M1198 2241l0 0M1201 2334l-1 1M1194 2334l-1 1M1233 2265l0 0M1315 2281l-1 0M1192 2221l-1 1M1156 2285l0 2M1307 2325l0 0M1247 2274l-1 2M1339 2303l2 1M1293 2291l0 1M1328 2205l-2 0M1380 2380l-1 2M1157 2301l-1 2M1253 2356l0 2M1227 2304l1 2M1246 2366l0 0M1343 2314l2 1M1247 2221l1 1" stroke="#34448a" stroke-width="3.4" stroke-linecap="round"/>
<path d="M1305 2252l0 2M1204 2326l1 2M1309 2272l-2 0M1208 2349l-1 0M1204 2251l0 0M1292 2372l-1 0M1210 2299l1 2M1335 2246l0 1M1219 2236l-1 1M1357 2354l-1 1M1149 2398l-1 1M1348 2377l-1 0M1198 2342l-2 2M1234 2368l1 0M1357 2227l0 1M1233 2274l-1 2M1141 2350l0 0M1377 2212l2 2M1272 2286l-1 0M1259 2304l0 1M1314 2390l-1 0" stroke="#5f6ea8" stroke-width="4.2" stroke-linecap="round"/>
<path d="M1384 2383l1 1M1316 2200l-2 1M1311 2204l0 1M1231 2364l0 0M1302 2230l0 0M1148 2321l-2 1M1335 2227l0 1M1374 2341l0 1M1255 2372l0 0M1229 2326l0 1M1183 2336l0 0M1206 2297l-1 2M1308 2299l2 1M1252 2289l-1 1M1343 2342l0 0M1385 2298l-1 1M1383 2270l2 1M1232 2244l-1 2M1303 2215l2 0M1210 2377l0 0M1265 2309l1 1M1169 2307l1 0M1325 2317l1 1M1348 2262l0 0M1317 2228l0 0M1361 2241l0 0M1194 2357l0 1M1142 2322l-2 1M1366 2228l0 1M1370 2250l1 0M1158 2392l0 0M1156 2378l0 1M1280 2393l0 1M1345 2397l0 0M1188 2253l-1 1M1350 2260l2 0M1273 2239l0 1M1291 2354l0 1M1381 2203l0 0M1270 2247l1 0M1208 2388l0 1M1300 2307l1 1M1382 2231l-1 1M1347 2360l0 1M1231 2331l-1 0M1317 2360l-1 1M1146 2250l0 2M1359 2240l-1 2M1353 2316l0 0M1156 2250l2 0M1351 2302l1 2M1330 2378l1 1M1258 2339l-1 0M1182 2267l-2 1M1377 2263l1 2M1298 2229l0 0M1346 2362l0 1" stroke="#3f4f92" stroke-width="3.2" stroke-linecap="round"/>
<path d="M1292 2227l0 0M1320 2316l1 0M1185 2302l1 1M1179 2213l-1 2M1372 2319l0 0M1241 2240l2 1M1300 2394l0 0M1214 2342l2 0M1297 2320l0 0M1143 2257l0 0M1318 2277l0 0M1238 2358l0 0M1156 2252l1 2M1312 2292l0 0M1184 2378l0 0M1177 2355l-1 2M1151 2353l-1 0M1196 2279l1 2M1210 2274l0 0M1364 2297l0 1M1163 2221l1 1M1359 2377l0 0M1172 2340l1 1M1322 2219l1 2M1207 2285l0 0M1304 2236l0 1M1255 2391l0 1M1285 2335l-2 0M1354 2337l1 1M1381 2274l-1 2M1331 2389l0 0M1180 2349l-2 0M1330 2334l0 0M1180 2344l0 0M1370 2262l0 2M1196 2315l0 0M1178 2200l1 0M1293 2339l0 2M1350 2326l-1 2M1331 2369l1 1M1239 2229l1 2M1292 2354l0 1M1330 2301l-1 1" stroke="#5f6ea8" stroke-width="4.0" stroke-linecap="round"/>
<path d="M1320 2228l0 0M1230 2358l-2 0M1145 2244l0 0M1151 2255l0 0M1249 2303l0 2M1147 2392l1 1M1232 2381l2 0M1195 2339l-1 0M1374 2298l2 1M1187 2286l0 0M1338 2330l-2 1M1239 2223l0 1M1281 2215l1 0M1356 2212l1 1M1270 2359l0 2M1346 2301l-2 2M1171 2218l1 1M1281 2328l0 0M1383 2212l0 0M1229 2349l-1 1M1386 2260l0 0M1335 2240l1 1M1142 2214l1 1M1204 2357l-2 0M1352 2285l0 0M1347 2237l1 0M1386 2375l-1 0M1318 2375l0 2M1140 2284l1 2M1237 2223l0 1M1217 2322l-1 1M1266 2298l0 0M1377 2221l0 2M1358 2262l-2 1M1275 2365l2 0M1167 2372l1 1M1258 2297l0 0M1149 2340l1 0M1280 2316l1 0M1352 2381l2 0M1147 2337l-2 0" stroke="#5f6ea8" stroke-width="3.2" stroke-linecap="round"/>
<path d="M1258.2 2223.9l-1 1M1329.8 2246.7l-2 1M1214.5 2302.4l0 0M1258.0 2263.3l2 0M1351.6 2243.9l2 2M1352.4 2233.0l1 0M1142.4 2360.8l-2 0M1294.6 2244.4l1 1M1319.4 2320.7l1 1M1262.9 2371.9l1 1M1285.3 2230.3l-2 1M1251.6 2202.2l-1 1M1151.7 2283.3l0 0M1141.7 2370.0l1 1M1352.2 2334.6l-1 1M1310.8 2280.7l1 2M1373.5 2327.1l-2 0M1170.8 2252.5l0 0M1353.2 2249.7l0 1M1162.3 2222.6l1 1M1370.8 2387.6l0 1M1248.0 2199.6l0 0M1332.2 2347.0l1 2M1214.6 2340.5l1 2M1282.4 2372.2l0 0M1244.2 2331.9l0 0M1317.4 2305.5l0 2M1198.3 2376.0l2 1M1376.5 2202.0l1 0M1378.4 2276.3l1 0" stroke="#3f4f92" stroke-width="2.6" stroke-linecap="round"/>
<path d="M1386 2319l0 0M1177 2359l-2 0M1366 2223l0 0M1157 2346l-2 1M1304 2299l-1 1M1369 2281l-2 0M1319 2224l-2 1M1143 2376l-2 0M1251 2222l-2 1M1319 2271l0 2M1305 2397l0 2M1181 2293l0 2M1375 2363l0 1M1308 2324l1 1M1176 2208l0 0M1189 2217l0 1M1330 2253l-1 2M1330 2311l1 1M1227 2246l1 1" stroke="#8892c0" stroke-width="3.2" stroke-linecap="round"/>
<path d="M1209.9 2304.7l0 0M1200.6 2287.5l0 0M1278.2 2380.8l0 1M1372.1 2385.3l2 0M1182.7 2314.1l-2 1M1166.3 2345.7l0 1M1283.6 2381.6l0 1M1366.8 2345.6l0 0M1280.7 2384.1l0 2M1227.0 2288.9l1 2M1311.9 2355.4l0 1M1251.5 2331.8l-2 0M1170.0 2375.7l1 1M1356.7 2232.0l0 1M1203.0 2371.2l0 0M1292.0 2344.8l-2 1M1222.7 2378.7l0 0M1209.9 2241.5l0 1M1309.9 2261.2l-1 0M1254.5 2365.0l0 1M1202.7 2208.7l1 0M1180.8 2299.0l-1 1M1204.6 2290.7l0 0M1362.1 2381.2l2 1M1202.2 2308.1l1 0M1374.4 2382.1l-1 0M1336.1 2233.9l-2 1M1359.7 2244.8l0 1M1365.9 2221.3l0 0M1322.6 2310.7l2 0M1253.6 2219.1l0 1M1224.5 2348.4l0 0M1148.8 2282.1l0 1" stroke="#8892c0" stroke-width="3.0" stroke-linecap="round"/>
<path d="M1188 2228l-2 1M1243 2371l2 0M1321 2216l2 1M1143 2296l0 0M1252 2223l-1 2M1276 2343l1 0M1266 2277l-1 2M1199 2305l-1 0M1226 2280l0 0M1233 2215l1 1M1228 2202l0 1M1169 2367l-1 1M1209 2360l0 1M1177 2272l0 0M1195 2356l1 1M1176 2233l1 2M1272 2343l1 0M1282 2247l2 1M1374 2389l0 2M1235 2296l0 1M1366 2332l-1 2M1292 2378l-1 0M1279 2204l0 2M1262 2205l2 1M1311 2263l0 0M1194 2368l0 1M1332 2210l-1 2M1305 2391l0 0M1332 2391l-1 1M1317 2320l1 2M1328 2334l2 0M1191 2215l-1 0M1322 2397l2 1M1316 2281l-2 1M1210 2227l-1 2M1302 2253l0 2M1372 2333l1 2M1336 2381l-1 1M1300 2319l0 0M1264 2255l-1 0M1224 2308l0 0M1306 2274l-2 2M1335 2388l0 2M1172 2342l0 1M1362 2204l1 0M1208 2238l2 1M1172 2218l1 0M1144 2361l0 0M1262 2246l0 0" stroke="#3f4f92" stroke-width="3.4" stroke-linecap="round"/>
<path d="M1146 2377l-1 1M1248 2339l-1 1M1314 2304l0 0M1221 2295l-1 1M1296 2392l0 2M1271 2237l1 0M1228 2223l2 1M1278 2334l-1 1M1182 2296l1 1M1331 2255l0 1M1364 2221l0 1M1240 2294l-1 0M1283 2204l2 0M1176 2348l0 2M1297 2224l-1 1M1228 2311l0 1M1290 2389l-1 2M1384 2277l-1 0M1325 2237l-1 1M1147 2389l1 0M1232 2230l0 0M1159 2265l-1 0M1325 2262l0 2M1316 2332l-2 1M1185 2212l0 0M1208 2349l0 2M1207 2275l-1 1M1366 2240l0 0M1304 2389l0 0M1163 2328l0 0M1294 2276l0 1M1185 2300l0 1M1359 2201l0 0M1306 2314l0 0M1302 2376l1 2M1329 2282l0 0M1365 2377l1 0M1198 2383l0 2M1325 2332l0 1M1194 2333l0 1M1263 2305l0 0M1372 2348l2 1M1212 2220l0 0M1243 2363l1 1M1361 2322l-2 0M1246 2200l0 0M1363 2200l1 1M1340 2324l0 0M1226 2355l1 2M1206 2393l-1 1M1183 2348l0 0" stroke="#3f4f92" stroke-width="3.6" stroke-linecap="round"/>
<path d="M1350.4 2209.2l1 2M1336.1 2232.4l0 1M1341.9 2237.4l0 1M1229.4 2312.0l1 0M1149.4 2239.4l0 0M1335.7 2366.2l-2 0M1275.6 2377.0l0 0M1296.7 2282.0l-1 2M1203.1 2280.0l-1 1M1350.7 2282.8l1 0M1201.8 2333.6l-1 1M1139.1 2211.2l1 1M1142.1 2316.4l0 0M1332.7 2202.5l1 0M1315.0 2349.6l1 1M1322.0 2202.4l-1 1M1338.3 2322.2l-1 1M1324.9 2397.5l1 1M1230.3 2299.7l0 0M1191.5 2331.8l-1 1M1223.3 2385.4l-1 0M1370.9 2328.4l-2 0M1365.9 2202.2l0 0M1213.5 2247.5l-1 2M1336.4 2370.2l0 1M1331.5 2286.0l0 1M1207.4 2364.3l0 0M1213.9 2225.5l0 0M1148.4 2370.3l-1 2M1221.1 2278.1l1 2M1344.2 2364.7l-2 0M1328.6 2350.6l0 1M1286.8 2351.7l-1 0M1317.5 2244.0l-1 2M1225.3 2289.4l-2 0M1152.0 2275.5l1 0M1172.3 2321.3l2 2M1247.4 2308.8l0 0" stroke="#5f6ea8" stroke-width="2.8" stroke-linecap="round"/>
<path d="M1198.5 2225.4l0 0M1357.0 2214.3l0 0M1378.7 2384.6l2 1M1369.5 2243.9l-1 1M1255.0 2385.9l0 1M1231.6 2284.5l0 0M1158.8 2332.0l0 0M1189.2 2347.9l-2 1M1336.2 2280.7l1 1M1215.2 2354.8l0 0M1199.5 2217.0l0 0M1371.4 2261.4l-1 0M1339.3 2229.9l0 0M1342.0 2212.2l1 0M1345.6 2369.7l2 0M1383.1 2212.6l-1 2M1240.6 2261.4l0 0M1260.8 2207.4l1 1M1208.9 2369.7l0 0M1363.9 2257.4l0 1M1186.8 2215.1l1 0M1327.1 2385.1l-1 0M1139.2 2309.2l1 1M1293.7 2366.0l-1 0M1243.7 2369.4l1 0M1344.0 2255.2l-2 1M1271.0 2267.3l-1 1M1256.6 2222.8l2 1M1365.9 2378.0l0 0M1228.3 2306.4l0 0M1189.7 2309.9l-2 1M1233.4 2297.6l0 0M1245.5 2223.8l0 2M1215.7 2300.3l-1 0M1333.8 2353.6l1 2M1360.8 2328.2l0 0" stroke="#34448a" stroke-width="2.8" stroke-linecap="round"/>
<path d="M1279 2256l0 2M1256 2385l-1 1M1140 2217l-1 1M1267 2359l0 1M1208 2369l-1 1M1354 2358l0 1M1210 2392l-1 1M1297 2336l1 2M1351 2270l-1 0M1161 2318l-2 1M1362 2274l0 0M1248 2357l1 1M1178 2314l0 1M1233 2373l2 0M1216 2222l-2 1M1228 2321l0 1M1247 2224l0 0M1274 2305l0 1M1269 2390l-2 1M1248 2343l2 1M1258 2208l0 2M1158 2381l0 2M1346 2327l0 0M1321 2303l-1 1M1266 2347l-1 1M1355 2257l1 1M1375 2311l-1 1M1362 2317l0 0M1181 2251l0 0M1140 2270l-1 0M1166 2270l0 2M1183 2305l0 0M1229 2295l0 1M1370 2337l0 0M1144 2229l-2 0M1366 2328l0 0M1223 2264l-2 0M1288 2350l0 1M1345 2367l0 1M1340 2378l0 1M1272 2378l1 1M1164 2305l1 0M1260 2254l-1 1M1249 2394l0 0M1147 2374l0 1M1356 2345l0 0M1270 2216l0 0M1193 2283l-1 1" stroke="#34448a" stroke-width="4.0" stroke-linecap="round"/>
<path d="M1283 2268l0 1M1263 2397l1 1M1195 2263l-1 0M1260 2334l2 1M1310 2319l1 0M1277 2221l-1 1M1191 2384l-1 0M1298 2376l0 0M1151 2297l1 0M1164 2221l-1 1M1235 2283l0 0M1240 2302l0 0M1192 2330l1 1M1258 2263l-1 0M1384 2201l-1 2M1361 2289l0 0M1334 2270l0 0M1362 2322l-2 0M1381 2262l1 0M1360 2226l1 2M1320 2232l1 2M1141 2372l1 1M1291 2264l0 0M1297 2331l-1 0M1178 2227l1 1M1212 2351l0 0M1186 2370l1 0M1246 2373l0 0M1378 2241l0 0M1146 2209l0 0M1383 2320l-1 2M1332 2249l-2 0M1178 2254l0 0" stroke="#8892c0" stroke-width="3.8" stroke-linecap="round"/>
<path d="M1211 2255l0 0M1353 2266l0 0M1248 2290l-2 2M1287 2329l1 2M1376 2368l2 1M1203 2344l1 0M1205 2393l1 1M1210 2292l1 1M1333 2213l-1 0M1195 2274l0 0M1236 2357l0 0M1264 2272l0 1M1355 2273l-2 0" stroke="#8892c0" stroke-width="4.2" stroke-linecap="round"/>
<path d="M1287 2280l-1 1M1253 2332l0 1M1240 2311l-1 0M1364 2297l0 2M1277 2391l0 0M1353 2217l0 2M1257 2335l0 2M1240 2293l0 2M1242 2232l-2 1M1306 2219l-2 1M1342 2317l-1 2M1255 2291l0 2M1331 2290l2 0M1159 2199l0 2M1261 2225l0 0M1171 2308l1 1M1273 2319l1 2M1279 2328l0 0M1295 2227l0 1M1324 2362l-1 1M1159 2296l0 0M1379 2352l1 1M1329 2251l0 0M1310 2231l0 0M1369 2223l2 1M1166 2219l-2 1M1143 2367l-1 2M1272 2301l-1 1M1259 2330l-1 1M1310 2291l0 1M1219 2355l0 0M1215 2292l0 0M1242 2218l1 0M1192 2286l2 1M1201 2323l-1 1" stroke="#8892c0" stroke-width="3.6" stroke-linecap="round"/>
<path d="M1162 2364l0 1M1282 2250l0 0M1175 2324l0 2M1230 2397l2 1M1368 2205l-1 1M1383 2366l-1 2M1225 2363l0 1M1271 2343l1 1M1349 2221l-1 2M1387 2271l0 1M1381 2378l0 0M1369 2253l0 0M1384 2243l0 0M1349 2385l1 1M1218 2378l0 0M1168 2243l-1 0M1170 2283l-1 0M1160 2304l0 1M1321 2237l0 0M1303 2219l1 1M1329 2275l1 2M1247 2366l0 2M1250 2247l0 0M1247 2237l-1 0M1211 2319l0 0M1361 2223l1 1M1263 2290l-2 0M1271 2329l0 2M1301 2293l1 2M1251 2226l0 1M1283 2349l0 1M1190 2392l-1 0M1232 2319l-1 0M1145 2316l0 1M1191 2362l0 0M1256 2230l2 2M1240 2247l-1 0M1239 2244l0 1M1177 2382l1 0M1286 2396l-2 1M1205 2302l-1 1M1220 2330l1 0M1193 2289l0 2" stroke="#34448a" stroke-width="3.8" stroke-linecap="round"/>
<path d="M1183.7 2392.1l0 0M1209.1 2208.9l-1 2M1338.9 2248.6l-1 2M1343.4 2219.1l-2 2M1210.8 2324.2l2 1M1281.1 2371.3l-2 1M1171.4 2301.8l0 0M1194.5 2368.8l2 2M1195.1 2273.5l0 0M1318.9 2258.4l0 2M1158.7 2207.5l1 1M1225.4 2329.4l0 0M1285.6 2359.8l1 0M1204.4 2221.1l0 1M1347.2 2299.1l2 1M1139.9 2293.1l0 1M1359.9 2345.5l1 1M1153.9 2336.3l-2 0M1289.5 2305.4l-2 0M1328.4 2201.6l0 0M1164.0 2257.3l2 1M1257.6 2386.6l1 1M1139.0 2203.2l-1 2M1337.4 2316.0l0 1M1356.9 2350.5l0 1M1291.4 2275.0l2 0" stroke="#5f6ea8" stroke-width="2.6" stroke-linecap="round"/>
<path d="M1159 2276l-1 2M1370 2371l-2 0M1142 2255l-1 0M1341 2203l-1 0M1286 2378l0 1M1152 2244l-1 1M1257 2260l-1 0M1360 2218l0 2M1207 2215l0 0M1233 2365l0 0M1315 2368l-1 2M1268 2349l0 0M1324 2372l0 1M1333 2389l1 2M1291 2244l0 1M1174 2313l-2 0M1297 2323l-1 0M1336 2268l1 0M1378 2317l0 1M1141 2302l0 2M1317 2303l-1 2M1278 2284l-1 1M1249 2243l0 0M1155 2250l1 1M1366 2346l1 0M1186 2395l0 0M1205 2245l0 2M1174 2228l1 2M1182 2359l2 1M1144 2390l1 2M1252 2237l0 1M1289 2279l2 0M1183 2398l-1 1M1299 2270l0 0M1346 2279l-1 1M1287 2267l0 0M1346 2326l-2 1M1210 2363l0 0M1375 2320l1 0" stroke="#34448a" stroke-width="3.2" stroke-linecap="round"/>
<path d="M1218 2273l1 0M1167 2349l1 1M1280 2298l0 2M1337 2256l1 1M1384 2314l-1 1M1358 2270l1 0M1181 2247l0 0M1380 2363l1 1M1227 2260l1 2M1306 2355l-1 1M1274 2261l-1 2M1322 2357l0 0M1343 2288l0 1M1348 2257l0 1" stroke="#34448a" stroke-width="4.2" stroke-linecap="round"/>
<path d="M1321.4 2279.1l0 0M1212.1 2291.3l0 0M1245.2 2205.0l-1 2M1164.1 2377.3l0 1M1372.4 2219.6l1 2M1266.5 2299.9l-1 0M1247.1 2242.8l0 2M1202.8 2348.2l-1 1M1293.2 2202.0l1 1M1177.8 2202.7l0 2M1358.4 2270.2l0 0M1358.9 2280.2l0 0M1334.3 2265.5l-1 1M1158.2 2301.3l1 1M1323.8 2264.8l-1 0M1286.8 2278.5l0 0M1380.4 2344.2l0 1M1251.1 2230.1l-1 2M1334.4 2221.7l-1 0M1191.5 2233.3l-2 0M1145.6 2285.8l2 1M1269.3 2226.0l-1 0M1247.9 2328.2l0 0M1189.2 2230.9l1 1M1148.0 2311.6l-1 1" stroke="#8892c0" stroke-width="2.8" stroke-linecap="round"/>
<path d="M1350.1 2356.7l-1 1M1303.8 2337.1l-2 1M1238.8 2329.8l-1 1M1371.1 2358.6l1 1M1296.8 2394.6l-1 0M1282.5 2266.2l0 2M1140.9 2349.0l1 2M1166.7 2239.3l0 0M1335.9 2280.0l0 0M1185.1 2397.3l2 2M1144.0 2368.4l2 1M1226.3 2311.9l0 0M1149.8 2224.0l1 1M1245.8 2330.0l1 1M1182.0 2386.4l-1 2M1291.5 2373.9l1 1M1343.3 2295.0l-2 2M1366.7 2228.2l-1 1M1345.5 2295.9l2 1M1191.2 2355.0l0 2M1166.7 2395.5l-1 1M1192.4 2339.9l-2 1" stroke="#34448a" stroke-width="2.6" stroke-linecap="round"/>
</g>
<rect x="941.4" y="2269.0" width="53.9" height="42.8" fill="none" stroke="#d42830" stroke-width="1.8" stroke-dasharray="5 3"/>
<line x1="995.3" y1="2269.0" x2="1137.8" y2="2198.0" stroke="#cc2028" stroke-width="2.2" stroke-dasharray="8 3.5"/>
<line x1="995.3" y1="2311.8" x2="1137.8" y2="2399.0" stroke="#cc2028" stroke-width="2.2" stroke-dasharray="8 3.5"/>
<text x="892.1" y="2222.0">F2</text>
<text x="1156.7" y="2187.0" text-anchor="middle">Negative</text>
<text x="1132.3" y="2379.5" text-anchor="end">50 μm</text>
<line x1="1078.3" y1="2389.0" x2="1123.3" y2="2389.0" stroke="#000" stroke-width="3.4"/>
<text x="1375.0" y="2379.5" text-anchor="end">50 μm</text>
<line x1="1314.0" y1="2389.0" x2="1373.0" y2="2389.0" stroke="#000" stroke-width="3.4"/>
<rect x="1394.7" y="2198.0" width="247.8" height="201.0" fill="#ebebeb"/>
<g clip-path="url(#hc2)">
<circle cx="1521.6" cy="2298.5" r="122.0" fill="#dbd4d6"/>
<circle cx="1521.6" cy="2298.5" r="122" filter="url(#dsr)" opacity="0.6"/>
<circle cx="1521.6" cy="2298.5" r="122" filter="url(#hspeck)" opacity="0.55"/>
</g>
<rect x="1644.0" y="2198.0" width="248.4" height="201.0" fill="#e2dcda"/>
<g clip-path="url(#hc2z)">
<g filter="url(#hblur)" opacity="0.6">
<path d="M1661 2263l0 0M1719 2396l0 0" stroke="#e2c6b4" stroke-width="10.8" stroke-linecap="round"/>
<path d="M1761 2349l0 0M1797 2315l0 0" stroke="#e2c6b4" stroke-width="16.6" stroke-linecap="round"/>
<path d="M1785 2294l0 0M1726 2356l0 0" stroke="#e2c6b4" stroke-width="10.2" stroke-linecap="round"/>
<path d="M1718 2246l0 0" stroke="#e2c6b4" stroke-width="9.8" stroke-linecap="round"/>
<path d="M1652 2314l0 0M1866 2306l0 0M1886 2352l0 0M1795 2251l0 0" stroke="#e2c6b4" stroke-width="14.4" stroke-linecap="round"/>
<path d="M1833 2355l0 0M1691 2251l0 0" stroke="#ddd0cc" stroke-width="11.0" stroke-linecap="round"/>
<path d="M1777 2378l0 0M1868 2234l0 0" stroke="#ddd0cc" stroke-width="9.8" stroke-linecap="round"/>
<path d="M1748 2392l0 0M1654 2316l0 0" stroke="#e2c6b4" stroke-width="12.2" stroke-linecap="round"/>
<path d="M1770 2249l0 0" stroke="#e2c6b4" stroke-width="11.2" stroke-linecap="round"/>
<path d="M1692 2316l0 0M1881 2206l0 0" stroke="#ddd0cc" stroke-width="12.8" stroke-linecap="round"/>
<path d="M1774 2199l0 0M1762 2385l0 0M1813 2370l0 0" stroke="#e2c6b4" stroke-width="16.8" stroke-linecap="round"/>
<path d="M1767 2291l0 0" stroke="#ddd0cc" stroke-width="11.6" stroke-linecap="round"/>
<path d="M1878 2394l0 0" stroke="#e2c6b4" stroke-width="16.2" stroke-linecap="round"/>
<path d="M1864 2285l0 0" stroke="#e2c6b4" stroke-width="8.0" stroke-linecap="round"/>
<path d="M1883 2266l0 0" stroke="#e2c6b4" stroke-width="14.8" stroke-linecap="round"/>
<path d="M1682 2235l0 0" stroke="#ddd0cc" stroke-width="10.4" stroke-linecap="round"/>
<path d="M1793 2327l0 0" stroke="#e2c6b4" stroke-width="17.6" stroke-linecap="round"/>
<path d="M1776 2319l0 0" stroke="#e2c6b4" stroke-width="11.8" stroke-linecap="round"/>
<path d="M1803 2261l0 0M1835 2313l0 0" stroke="#ddd0cc" stroke-width="15.0" stroke-linecap="round"/>
<path d="M1854 2305l0 0M1816 2285l0 0M1718 2245l0 0" stroke="#e2c6b4" stroke-width="13.2" stroke-linecap="round"/>
<path d="M1669 2227l0 0" stroke="#ddd0cc" stroke-width="14.6" stroke-linecap="round"/>
<path d="M1669 2296l0 0M1781 2360l0 0" stroke="#e2c6b4" stroke-width="11.0" stroke-linecap="round"/>
<path d="M1737 2210l0 0M1728 2264l0 0" stroke="#e2c6b4" stroke-width="12.0" stroke-linecap="round"/>
<path d="M1660 2299l0 0" stroke="#e2c6b4" stroke-width="17.8" stroke-linecap="round"/>
<path d="M1841 2247l0 0M1891 2362l0 0" stroke="#e2c6b4" stroke-width="13.8" stroke-linecap="round"/>
<path d="M1868 2381l0 0" stroke="#ddd0cc" stroke-width="8.2" stroke-linecap="round"/>
<path d="M1722 2246l0 0" stroke="#ddd0cc" stroke-width="11.4" stroke-linecap="round"/>
<path d="M1859 2339l0 0" stroke="#e2c6b4" stroke-width="15.2" stroke-linecap="round"/>
<path d="M1714 2221l0 0" stroke="#e2c6b4" stroke-width="15.6" stroke-linecap="round"/>
<path d="M1807 2340l0 0" stroke="#e2c6b4" stroke-width="15.0" stroke-linecap="round"/>
<path d="M1649 2389l0 0" stroke="#ddd0cc" stroke-width="9.4" stroke-linecap="round"/>
<path d="M1818 2367l0 0" stroke="#e2c6b4" stroke-width="8.8" stroke-linecap="round"/>
<path d="M1688 2208l0 0" stroke="#e2c6b4" stroke-width="10.4" stroke-linecap="round"/>
<path d="M1734 2256l0 0" stroke="#e2c6b4" stroke-width="8.4" stroke-linecap="round"/>
<path d="M1652 2220l0 0" stroke="#e2c6b4" stroke-width="17.4" stroke-linecap="round"/>
<path d="M1682 2339l0 0" stroke="#e2c6b4" stroke-width="15.8" stroke-linecap="round"/>
<path d="M1767 2293l0 0" stroke="#e2c6b4" stroke-width="14.2" stroke-linecap="round"/>
<path d="M1836 2379l0 0" stroke="#e2c6b4" stroke-width="18.0" stroke-linecap="round"/>
<path d="M1782 2356l0 0" stroke="#e2c6b4" stroke-width="9.4" stroke-linecap="round"/>
<path d="M1813 2373l0 0" stroke="#ddd0cc" stroke-width="17.0" stroke-linecap="round"/>
</g>
<path d="M1681 2322l1 2M1727 2336l1 2M1878 2241l0 1M1704 2236l0 1M1764 2239l0 1M1816 2216l4 0M1808 2225l-1 2M1675 2310l2 3M1877 2205l0 1M1871 2220l-2 0M1648 2388l2 2M1833 2337l1 2M1660 2360l0 1M1763 2316l-1 1M1669 2346l2 3" stroke="#8589ac" stroke-width="4.2" stroke-linecap="round"/>
<path d="M1797 2312l0 2M1815 2320l0 1M1691 2389l0 2M1743 2361l1 1M1664 2356l-1 1M1855 2229l0 1M1683 2306l-1 0M1785 2371l3 1M1767 2203l0 0M1781 2271l-2 2M1882 2378l0 0M1885 2385l3 0M1739 2344l0 0M1670 2285l0 0" stroke="#8589ac" stroke-width="3.8" stroke-linecap="round"/>
<path d="M1862 2346l0 0M1831 2388l1 3M1889 2366l-1 2M1706 2248l3 3M1680 2388l1 2" stroke="#8589ac" stroke-width="3.2" stroke-linecap="round"/>
<path d="M1680 2323l1 0M1796 2222l0 1M1852 2271l2 1" stroke="#9d9fbc" stroke-width="4.2" stroke-linecap="round"/>
<path d="M1869 2232l1 2M1761 2388l-2 3M1706 2226l0 1M1882 2204l0 2M1864 2347l1 2M1735 2276l-1 1M1846 2382l-1 3M1645 2373l-1 2M1727 2313l2 3M1649 2224l2 2M1767 2276l0 0M1669 2246l0 2M1849 2328l1 0M1838 2245l-2 0" stroke="#8589ac" stroke-width="4.0" stroke-linecap="round"/>
<path d="M1783 2287l-1 3M1741 2347l0 2M1829 2362l-1 3M1816 2372l-3 1M1828 2329l3 3M1729 2388l3 1M1733 2203l-2 3M1690 2372l-2 2" stroke="#9d9fbc" stroke-width="4.6" stroke-linecap="round"/>
<path d="M1886 2304l3 2M1788 2355l2 1M1712 2223l-1 1M1824 2314l0 3M1843 2238l2 1" stroke="#8589ac" stroke-width="4.6" stroke-linecap="round"/>
<path d="M1662 2370l-1 1M1667 2232l-3 0M1658 2293l0 2M1695 2256l-1 1M1821 2386l2 2M1820 2313l0 3M1862 2300l-1 0M1686 2309l-1 1M1788 2373l1 2M1668 2393l-1 3" stroke="#c0a090" stroke-width="3.6" stroke-linecap="round"/>
<path d="M1679.5 2294.4l1 1M1862.4 2390.0l1 4M1660.1 2303.2l-1 1M1793.9 2296.3l-2 0M1801.3 2267.4l-3 1M1670.2 2312.9l0 2M1796.7 2213.1l0 1M1783.9 2358.4l1 0M1647.0 2279.4l-3 2M1739.3 2255.0l-1 1" stroke="#8589ac" stroke-width="3.0" stroke-linecap="round"/>
<path d="M1674 2228l1 3M1872 2292l0 1M1866 2346l0 3M1885 2276l2 1M1649 2335l-2 1M1853 2396l-2 0M1811 2289l0 3M1879 2228l-3 1" stroke="#8589ac" stroke-width="3.4" stroke-linecap="round"/>
<path d="M1844 2365l2 2M1664 2337l2 2M1744 2264l-1 0M1818 2290l1 1M1747 2266l3 1M1771 2298l0 1M1788 2369l1 0M1662 2351l-3 2M1749 2266l-4 1M1663 2231l-3 1M1803 2390l-2 2M1810 2300l-1 3M1676 2395l-2 3M1712 2241l1 2" stroke="#8589ac" stroke-width="4.4" stroke-linecap="round"/>
<path d="M1818 2383l0 3M1725 2290l1 1M1750 2396l0 0M1738 2266l2 1" stroke="#9d9fbc" stroke-width="4.8" stroke-linecap="round"/>
<path d="M1852 2253l3 1M1712 2379l-1 4M1813 2363l-4 0M1704 2278l-1 2M1668 2284l-2 1" stroke="#c0a090" stroke-width="4.2" stroke-linecap="round"/>
<path d="M1873.6 2295.4l-2 2M1780.9 2374.3l2 3M1748.3 2337.1l2 1" stroke="#a08c86" stroke-width="3.0" stroke-linecap="round"/>
<path d="M1682 2212l-1 0M1818 2328l-1 1M1701 2283l0 0M1882 2212l3 1M1868 2395l0 0M1783 2363l1 3" stroke="#8589ac" stroke-width="4.8" stroke-linecap="round"/>
<path d="M1677 2266l3 3M1802 2343l2 3M1835 2206l-3 2M1877 2380l0 0M1820 2342l-2 1M1877 2330l0 1M1820 2303l-3 2M1814 2341l-1 1M1651 2271l4 1M1860 2253l-1 1" stroke="#8589ac" stroke-width="3.6" stroke-linecap="round"/>
<path d="M1756 2398l-2 0M1879 2374l-2 3M1776 2267l-1 1" stroke="#c0a090" stroke-width="4.8" stroke-linecap="round"/>
<path d="M1738 2361l-1 1M1704 2346l-1 0M1822 2233l2 2" stroke="#a08c86" stroke-width="3.2" stroke-linecap="round"/>
<path d="M1714 2215l2 3M1848 2232l1 0M1888 2397l1 1" stroke="#c0a090" stroke-width="4.6" stroke-linecap="round"/>
<path d="M1827.4 2385.0l1 0M1839.1 2257.8l-1 3M1688.9 2387.2l3 1M1827.3 2216.3l1 1M1783.4 2299.0l1 1M1654.0 2287.7l-2 2M1654.9 2221.1l0 3M1889.4 2345.6l1 2" stroke="#8589ac" stroke-width="2.8" stroke-linecap="round"/>
<path d="M1753 2383l2 1M1835 2264l-1 2M1674 2318l-1 1M1753 2274l1 2M1807 2260l1 3M1658 2393l3 2M1649 2354l-2 2" stroke="#9d9fbc" stroke-width="3.2" stroke-linecap="round"/>
<path d="M1716 2328l1 1M1683 2255l2 1M1670 2226l-2 2" stroke="#c0a090" stroke-width="3.2" stroke-linecap="round"/>
<path d="M1783 2234l-1 3M1839 2387l-2 1" stroke="#a08c86" stroke-width="4.6" stroke-linecap="round"/>
<path d="M1872 2338l0 0M1740 2398l0 2M1694 2312l0 2M1811 2373l-3 1M1706 2216l-1 3M1860 2313l1 1" stroke="#9d9fbc" stroke-width="3.6" stroke-linecap="round"/>
<path d="M1791 2369l0 0M1688 2340l0 0" stroke="#a08c86" stroke-width="3.6" stroke-linecap="round"/>
<path d="M1661 2295l0 1M1799 2397l3 2M1884 2234l-3 2" stroke="#9d9fbc" stroke-width="4.4" stroke-linecap="round"/>
<path d="M1804 2296l1 1M1858 2286l-2 1" stroke="#c0a090" stroke-width="4.4" stroke-linecap="round"/>
<path d="M1792.9 2242.1l0 3M1823.5 2332.7l1 0M1805.5 2343.2l0 1M1838.3 2287.3l-4 0M1786.4 2298.5l2 0" stroke="#c0a090" stroke-width="3.0" stroke-linecap="round"/>
<path d="M1665 2330l0 1" stroke="#a08c86" stroke-width="3.4" stroke-linecap="round"/>
<path d="M1837 2200l-1 1M1881 2257l-2 2M1887 2229l2 0" stroke="#9d9fbc" stroke-width="4.0" stroke-linecap="round"/>
<path d="M1834 2329l0 0M1823 2201l-1 4M1660 2368l1 3" stroke="#9d9fbc" stroke-width="3.8" stroke-linecap="round"/>
<path d="M1738 2213l0 1M1679 2268l0 3" stroke="#c0a090" stroke-width="3.4" stroke-linecap="round"/>
<path d="M1683 2397l0 2M1856 2392l-1 1M1652 2396l0 1M1815 2392l1 0" stroke="#c0a090" stroke-width="3.8" stroke-linecap="round"/>
<path d="M1758.8 2373.8l-1 0M1861.5 2391.4l2 2" stroke="#9d9fbc" stroke-width="2.8" stroke-linecap="round"/>
<path d="M1694 2213l-1 4" stroke="#c0a090" stroke-width="4.0" stroke-linecap="round"/>
<path d="M1701 2252l-3 3" stroke="#9d9fbc" stroke-width="3.4" stroke-linecap="round"/>
<path d="M1715.3 2309.2l-3 0" stroke="#9d9fbc" stroke-width="3.0" stroke-linecap="round"/>
</g>
<rect x="1453.0" y="2313.8" width="52.0" height="40.0" fill="none" stroke="#d42830" stroke-width="1.8" stroke-dasharray="5 3"/>
<line x1="1505.0" y1="2313.8" x2="1644.0" y2="2198.0" stroke="#cc2028" stroke-width="2.2" stroke-dasharray="8 3.5"/>
<line x1="1505.0" y1="2353.8" x2="1644.0" y2="2399.0" stroke="#cc2028" stroke-width="2.2" stroke-dasharray="8 3.5"/>
<text x="1399.2" y="2222.0">C9</text>
<text x="1641.0" y="2187.0" text-anchor="middle">Low</text>
<text x="1629.5" y="2379.5" text-anchor="end">50 μm</text>
<line x1="1575.5" y1="2389.0" x2="1620.5" y2="2389.0" stroke="#000" stroke-width="3.4"/>
<text x="1887.4" y="2379.5" text-anchor="end">50 μm</text>
<line x1="1826.4" y1="2389.0" x2="1885.4" y2="2389.0" stroke="#000" stroke-width="3.4"/>
<rect x="887.6" y="2488.5" width="248.7" height="200.5" fill="#eeeef0"/>
<g clip-path="url(#hc3)">
<circle cx="1015.0" cy="2588.8" r="122.0" fill="#d3cfdc"/>
<circle cx="1015.0" cy="2588.8" r="122" filter="url(#dsb)" opacity="0.6"/>
<circle cx="1015.0" cy="2588.8" r="122" filter="url(#hspeck)" opacity="0.55"/>
<path d="M944.6 2488.5L1015.6 2488.5L1009.6 2508.5L997.6 2518.5L979.6 2522.5L961.6 2518.5L949.6 2506.5Z" fill="#eeeef0"/>
<path d="M967 2512L966 2514L967 2516L966 2518L965 2521L964 2523L962 2523L961 2525L959 2522L958 2521L957 2518L957 2516L955 2516L954 2514L952 2512L953 2509L953 2506L955 2504L957 2505L957 2501L959 2503L961 2501L962 2503L963 2503L966 2500L967 2503L967 2506L968 2509Z" fill="#8a7a96" opacity="0.85"/>
<ellipse cx="917.6" cy="2608.5" rx="30" ry="70" fill="#c8a890" opacity="0.25" filter="url(#hblur)"/>
</g>
<rect x="1137.8" y="2488.5" width="250.2" height="200.5" fill="#e3dada"/>
<g clip-path="url(#hc3z)">
<g filter="url(#hblur)" opacity="0.4">
<path d="M1238 2649l0 0M1241 2675l0 0M1337 2616l0 0" stroke="#dcc0aa" stroke-width="15.6" stroke-linecap="round"/>
<path d="M1202 2683l0 0M1222 2553l0 0" stroke="#dcc0aa" stroke-width="21.6" stroke-linecap="round"/>
<path d="M1276 2679l0 0" stroke="#d4c4c0" stroke-width="13.8" stroke-linecap="round"/>
<path d="M1182 2652l0 0M1142 2586l0 0" stroke="#d4c4c0" stroke-width="21.6" stroke-linecap="round"/>
<path d="M1252 2680l0 0M1166 2586l0 0M1342 2560l0 0" stroke="#d4c4c0" stroke-width="10.2" stroke-linecap="round"/>
<path d="M1209 2682l0 0M1161 2663l0 0M1302 2507l0 0" stroke="#dcc0aa" stroke-width="21.2" stroke-linecap="round"/>
<path d="M1341 2552l0 0" stroke="#dcc0aa" stroke-width="12.0" stroke-linecap="round"/>
<path d="M1210 2673l0 0M1233 2536l0 0M1252 2681l0 0" stroke="#dcc0aa" stroke-width="11.2" stroke-linecap="round"/>
<path d="M1165 2681l0 0" stroke="#d4c4c0" stroke-width="16.8" stroke-linecap="round"/>
<path d="M1364 2551l0 0" stroke="#dcc0aa" stroke-width="17.0" stroke-linecap="round"/>
<path d="M1212 2647l0 0M1227 2593l0 0" stroke="#d4c4c0" stroke-width="17.4" stroke-linecap="round"/>
<path d="M1287 2599l0 0M1302 2650l0 0M1337 2506l0 0" stroke="#dcc0aa" stroke-width="20.0" stroke-linecap="round"/>
<path d="M1227 2552l0 0" stroke="#dcc0aa" stroke-width="11.6" stroke-linecap="round"/>
<path d="M1354 2619l0 0" stroke="#d4c4c0" stroke-width="18.0" stroke-linecap="round"/>
<path d="M1145 2572l0 0" stroke="#d4c4c0" stroke-width="16.6" stroke-linecap="round"/>
<path d="M1331 2568l0 0M1184 2678l0 0M1345 2649l0 0" stroke="#dcc0aa" stroke-width="17.6" stroke-linecap="round"/>
<path d="M1336 2567l0 0" stroke="#d4c4c0" stroke-width="16.2" stroke-linecap="round"/>
<path d="M1271 2566l0 0" stroke="#dcc0aa" stroke-width="16.0" stroke-linecap="round"/>
<path d="M1211 2611l0 0M1139 2614l0 0" stroke="#dcc0aa" stroke-width="15.0" stroke-linecap="round"/>
<path d="M1227 2526l0 0" stroke="#dcc0aa" stroke-width="19.4" stroke-linecap="round"/>
<path d="M1171 2496l0 0" stroke="#d4c4c0" stroke-width="10.4" stroke-linecap="round"/>
<path d="M1205 2661l0 0" stroke="#dcc0aa" stroke-width="21.4" stroke-linecap="round"/>
<path d="M1267 2665l0 0M1330 2579l0 0" stroke="#dcc0aa" stroke-width="15.8" stroke-linecap="round"/>
<path d="M1194 2663l0 0" stroke="#dcc0aa" stroke-width="21.8" stroke-linecap="round"/>
<path d="M1142 2563l0 0M1236 2655l0 0" stroke="#d4c4c0" stroke-width="16.4" stroke-linecap="round"/>
<path d="M1219 2603l0 0M1229 2639l0 0M1323 2569l0 0" stroke="#dcc0aa" stroke-width="12.2" stroke-linecap="round"/>
<path d="M1219 2675l0 0" stroke="#d4c4c0" stroke-width="20.0" stroke-linecap="round"/>
<path d="M1182 2574l0 0" stroke="#dcc0aa" stroke-width="12.6" stroke-linecap="round"/>
<path d="M1385 2552l0 0" stroke="#d4c4c0" stroke-width="12.4" stroke-linecap="round"/>
<path d="M1208 2520l0 0" stroke="#dcc0aa" stroke-width="18.0" stroke-linecap="round"/>
<path d="M1189 2564l0 0M1153 2636l0 0" stroke="#dcc0aa" stroke-width="11.4" stroke-linecap="round"/>
<path d="M1180 2639l0 0" stroke="#d4c4c0" stroke-width="10.6" stroke-linecap="round"/>
<path d="M1264 2530l0 0" stroke="#dcc0aa" stroke-width="12.8" stroke-linecap="round"/>
<path d="M1288 2519l0 0" stroke="#dcc0aa" stroke-width="18.6" stroke-linecap="round"/>
<path d="M1248 2614l0 0" stroke="#d4c4c0" stroke-width="12.6" stroke-linecap="round"/>
<path d="M1342 2495l0 0" stroke="#dcc0aa" stroke-width="17.8" stroke-linecap="round"/>
<path d="M1362 2625l0 0M1192 2634l0 0M1177 2520l0 0" stroke="#dcc0aa" stroke-width="11.0" stroke-linecap="round"/>
<path d="M1141 2605l0 0" stroke="#d4c4c0" stroke-width="11.6" stroke-linecap="round"/>
<path d="M1295 2669l0 0" stroke="#dcc0aa" stroke-width="20.4" stroke-linecap="round"/>
<path d="M1142 2666l0 0" stroke="#d4c4c0" stroke-width="19.8" stroke-linecap="round"/>
<path d="M1170 2500l0 0" stroke="#d4c4c0" stroke-width="17.6" stroke-linecap="round"/>
<path d="M1186 2645l0 0M1164 2656l0 0" stroke="#d4c4c0" stroke-width="20.6" stroke-linecap="round"/>
<path d="M1281 2522l0 0" stroke="#d4c4c0" stroke-width="22.0" stroke-linecap="round"/>
<path d="M1375 2599l0 0" stroke="#dcc0aa" stroke-width="20.6" stroke-linecap="round"/>
<path d="M1146 2622l0 0" stroke="#d4c4c0" stroke-width="15.8" stroke-linecap="round"/>
<path d="M1311 2494l0 0M1246 2665l0 0" stroke="#dcc0aa" stroke-width="20.2" stroke-linecap="round"/>
<path d="M1228 2548l0 0" stroke="#dcc0aa" stroke-width="10.4" stroke-linecap="round"/>
<path d="M1251 2674l0 0M1291 2533l0 0" stroke="#d4c4c0" stroke-width="12.2" stroke-linecap="round"/>
<path d="M1327 2557l0 0M1368 2506l0 0" stroke="#dcc0aa" stroke-width="16.2" stroke-linecap="round"/>
<path d="M1275 2642l0 0" stroke="#dcc0aa" stroke-width="18.2" stroke-linecap="round"/>
<path d="M1245 2663l0 0" stroke="#dcc0aa" stroke-width="21.0" stroke-linecap="round"/>
<path d="M1203 2593l0 0" stroke="#dcc0aa" stroke-width="18.8" stroke-linecap="round"/>
<path d="M1198 2541l0 0" stroke="#d4c4c0" stroke-width="15.0" stroke-linecap="round"/>
<path d="M1188 2558l0 0" stroke="#d4c4c0" stroke-width="21.4" stroke-linecap="round"/>
<path d="M1298 2684l0 0" stroke="#dcc0aa" stroke-width="15.2" stroke-linecap="round"/>
<path d="M1308 2499l0 0" stroke="#d4c4c0" stroke-width="21.0" stroke-linecap="round"/>
<path d="M1331 2606l0 0" stroke="#d4c4c0" stroke-width="17.8" stroke-linecap="round"/>
<path d="M1310 2663l0 0" stroke="#dcc0aa" stroke-width="16.8" stroke-linecap="round"/>
<path d="M1353 2515l0 0" stroke="#d4c4c0" stroke-width="19.6" stroke-linecap="round"/>
<path d="M1233 2495l0 0" stroke="#dcc0aa" stroke-width="13.2" stroke-linecap="round"/>
</g>
<path d="M1383 2580l0 0M1387 2686l1 1M1355 2546l0 0M1353 2646l0 0M1246 2642l0 1M1154 2630l0 0M1163 2576l1 0M1372 2546l1 0M1171 2664l0 1M1307 2505l0 0M1239 2557l0 0M1286 2652l1 0M1158 2636l0 1M1359 2531l0 0M1191 2621l1 0M1290 2498l0 0M1282 2533l0 1M1245 2565l0 0M1255 2581l0 0M1144 2608l0 1M1376 2606l0 0M1311 2533l0 0M1264 2587l0 0M1141 2588l0 0M1176 2551l0 0M1327 2495l0 0M1230 2656l0 0M1240 2645l0 0M1147 2677l0 0M1325 2582l1 0M1167 2565l0 1" stroke="#7078aa" stroke-width="3.6" stroke-linecap="round"/>
<path d="M1289 2513l1 0M1275 2608l0 0M1259 2621l0 1M1205 2511l1 0M1321 2658l0 0M1371 2634l0 1M1238 2652l0 1M1366 2613l0 0M1298 2557l-1 0M1177 2596l1 1M1315 2619l0 0M1265 2494l0 1M1333 2635l0 0M1257 2598l1 0M1290 2625l0 0M1316 2630l1 0M1180 2648l0 0M1201 2590l1 1M1253 2627l0 0M1239 2635l-1 0M1386 2494l-1 1M1289 2642l0 0M1214 2672l-1 0M1176 2584l1 1M1287 2561l0 0M1373 2539l1 1M1160 2540l0 0M1190 2592l0 0M1266 2591l-1 0M1218 2532l0 0M1219 2688l0 0M1222 2498l-1 0M1381 2552l0 1M1208 2539l-1 0M1317 2630l0 0M1298 2586l0 1M1179 2687l0 0M1270 2567l0 0M1386 2621l-1 0M1173 2499l0 0M1351 2496l-1 1M1159 2660l0 0M1300 2595l-1 0M1235 2642l1 1M1375 2684l1 0M1364 2637l1 0M1277 2500l1 1M1387 2687l0 0M1146 2653l0 0M1222 2493l0 0M1282 2634l0 0M1208 2624l0 1M1297 2655l0 1M1260 2550l-1 1" stroke="#565f98" stroke-width="3.8" stroke-linecap="round"/>
<path d="M1158.4 2533.1l0 0M1183.3 2561.4l-1 0M1377.1 2667.5l0 1M1240.9 2558.1l0 0M1243.9 2559.2l0 1M1328.5 2632.1l0 1M1349.8 2620.6l0 0M1264.0 2637.7l1 0M1213.0 2617.2l1 1M1373.5 2544.7l-1 0M1239.0 2550.7l0 1M1312.0 2593.2l0 0M1195.7 2531.4l-1 0M1383.5 2522.4l0 1M1380.9 2581.5l-1 0M1154.2 2554.7l1 0" stroke="#9298c0" stroke-width="2.4" stroke-linecap="round"/>
<path d="M1169.7 2593.4l-1 1M1212.0 2585.1l0 0M1279.3 2613.3l0 1M1374.0 2625.3l1 0M1315.2 2543.5l0 0M1198.7 2517.1l-1 0M1255.6 2516.2l-1 1M1280.8 2501.1l0 1M1358.1 2521.3l-1 1M1297.1 2518.4l-1 0M1178.5 2650.0l1 0M1258.2 2514.3l-1 1M1301.2 2663.7l0 0M1189.1 2577.4l1 1M1222.9 2509.0l0 0M1163.0 2648.0l0 1M1287.7 2659.1l0 0M1240.6 2592.4l0 0M1329.6 2602.0l0 0M1154.8 2595.6l-1 0M1166.4 2506.0l1 1M1245.8 2579.5l0 1M1324.6 2647.0l0 1M1376.4 2498.8l0 0M1141.4 2575.0l0 0M1306.8 2656.3l0 1M1157.0 2530.3l0 0M1189.9 2500.2l0 0M1376.3 2675.9l-1 0M1175.5 2596.4l0 0M1148.1 2556.8l0 1M1277.0 2669.7l0 0M1355.2 2676.4l1 0M1239.8 2592.3l0 0M1294.8 2607.1l0 1M1362.2 2573.1l0 1M1359.3 2681.0l0 0M1284.7 2665.8l0 0M1290.8 2535.4l0 1M1310.4 2664.0l0 0M1371.8 2652.5l0 1M1255.2 2658.7l0 0M1237.3 2573.1l0 0M1217.2 2571.2l0 0M1153.8 2667.7l0 1M1197.1 2627.3l0 0M1229.5 2583.5l1 0M1275.3 2626.1l0 0M1188.1 2629.6l0 0M1241.7 2568.4l0 0M1221.3 2673.2l0 0M1320.7 2590.4l0 0M1221.9 2502.0l0 1M1270.5 2498.7l-1 1M1360.3 2531.9l1 0M1191.6 2679.8l1 1M1201.6 2668.6l0 1M1282.0 2550.0l0 1M1371.2 2588.6l1 0M1371.3 2632.5l0 0M1179.9 2559.8l0 0M1358.7 2509.0l-1 0M1271.7 2490.9l0 0M1257.6 2535.8l0 1" stroke="#565f98" stroke-width="3.0" stroke-linecap="round"/>
<path d="M1242 2646l0 0M1186 2565l0 0M1336 2519l0 1M1176 2528l0 1M1367 2588l0 0M1327 2685l0 0M1177 2551l0 1M1174 2571l0 0M1304 2645l1 0M1354 2538l0 0M1210 2560l0 0M1250 2508l0 0M1200 2687l0 0M1322 2599l0 0M1169 2508l0 1M1336 2633l0 1M1237 2518l0 0M1369 2605l0 0M1384 2567l0 0M1363 2615l0 0M1269 2538l-1 0M1237 2654l-1 0M1271 2517l-1 0M1218 2569l-1 1M1142 2502l0 0M1160 2583l1 1M1290 2612l-1 0M1368 2497l0 0M1355 2553l0 0M1211 2636l0 0M1147 2620l0 0M1382 2560l0 0" stroke="#7078aa" stroke-width="3.8" stroke-linecap="round"/>
<path d="M1283 2678l0 0M1186 2622l-1 0M1213 2536l0 1M1308 2557l0 1M1240 2553l0 1M1307 2638l0 0M1259 2502l-1 0M1159 2522l0 0M1298 2520l1 1M1165 2679l1 0M1178 2676l0 1M1212 2497l0 0M1269 2508l1 0M1380 2636l0 1M1224 2529l1 0M1192 2517l0 0M1337 2557l0 0M1191 2665l0 0M1259 2620l1 0M1314 2549l0 1M1254 2588l0 0M1256 2550l1 0M1253 2595l0 0M1382 2502l0 1M1325 2518l1 0M1292 2531l0 0M1206 2549l0 1M1207 2600l-1 1M1254 2567l0 0M1156 2636l-1 1" stroke="#7078aa" stroke-width="3.2" stroke-linecap="round"/>
<path d="M1192 2686l0 1M1147 2538l0 0M1197 2533l0 0M1314 2589l0 0M1356 2497l-1 0M1141 2618l0 1M1162 2666l0 0M1372 2562l1 0M1223 2644l0 1M1293 2610l-1 0M1246 2536l0 0M1356 2490l0 0M1164 2600l1 0M1172 2498l0 0" stroke="#9298c0" stroke-width="3.8" stroke-linecap="round"/>
<path d="M1368 2508l0 0M1374 2519l0 0M1326 2570l0 0M1348 2641l0 1M1221 2574l0 1M1300 2643l1 0M1262 2518l0 1M1210 2601l-1 1M1192 2491l-1 1M1372 2646l1 1M1173 2632l0 0M1301 2657l0 0M1260 2641l1 1M1352 2570l0 0M1237 2522l0 0M1155 2493l0 1M1364 2631l0 0M1302 2608l0 0M1272 2541l0 0M1189 2490l0 1M1307 2604l0 1M1177 2638l0 0M1321 2623l0 1M1148 2562l0 0M1274 2644l0 0" stroke="#9298c0" stroke-width="3.6" stroke-linecap="round"/>
<path d="M1154 2578l0 1M1374 2510l1 1M1232 2528l0 0M1162 2569l0 0M1198 2493l0 1M1384 2667l1 0M1260 2519l-1 0M1337 2533l0 1M1244 2555l0 1M1173 2592l0 0M1265 2670l0 1M1286 2573l-1 1M1244 2530l0 1M1195 2501l0 0M1171 2651l1 0M1223 2652l0 0M1184 2653l1 1M1328 2646l0 1M1201 2606l0 0M1228 2594l0 1M1351 2501l0 0M1267 2662l0 1M1376 2512l1 1M1213 2635l0 0M1274 2512l0 0M1355 2584l0 0M1369 2632l0 1M1245 2573l0 1M1381 2578l-1 1M1305 2604l0 0M1384 2607l-1 0M1171 2578l0 0M1186 2624l1 1M1268 2666l0 0M1190 2573l-1 0M1221 2551l0 0M1317 2612l0 0M1290 2586l1 0M1376 2632l0 1M1149 2651l-1 0M1322 2546l0 0M1369 2637l1 0M1266 2612l1 0M1381 2639l0 0M1267 2615l0 0M1322 2602l1 0M1338 2625l0 0M1325 2585l1 0M1307 2597l0 0M1386 2554l-1 1" stroke="#565f98" stroke-width="3.4" stroke-linecap="round"/>
<path d="M1233 2584l0 1M1316 2535l0 1M1385 2602l0 0M1154 2608l0 0M1378 2514l0 0M1166 2578l0 0M1282 2634l0 0M1314 2491l0 1M1328 2564l1 0M1346 2616l0 1M1379 2616l-1 0M1219 2554l0 1M1216 2564l-1 1M1190 2517l-1 0M1174 2505l0 1M1332 2656l-1 1M1173 2614l-1 0M1249 2687l0 1M1374 2664l0 0M1270 2664l1 0M1161 2555l0 1M1294 2564l0 0M1157 2547l0 1M1291 2597l0 0M1206 2600l0 0M1319 2653l0 0M1186 2625l0 0M1369 2530l0 1M1297 2629l0 0M1308 2498l1 0M1325 2559l0 0M1272 2680l1 0M1328 2604l0 0M1277 2666l0 0M1140 2657l0 0M1188 2590l0 0M1278 2612l0 1M1240 2630l0 0M1160 2597l0 0M1259 2521l1 1M1373 2512l0 0M1182 2601l-1 0M1350 2650l1 0M1213 2604l1 0M1299 2532l0 1M1223 2666l-1 0" stroke="#565f98" stroke-width="3.2" stroke-linecap="round"/>
<path d="M1309 2659l0 0M1188 2559l0 0M1266 2565l0 1M1264 2607l1 1M1384 2543l-1 1M1321 2617l1 1M1233 2638l0 0M1344 2625l0 0M1157 2493l0 0M1186 2505l-1 0M1282 2682l0 0M1334 2680l0 0M1248 2636l0 0M1309 2601l-1 0M1239 2567l0 0M1167 2490l0 0M1356 2540l0 1" stroke="#7078aa" stroke-width="4.0" stroke-linecap="round"/>
<path d="M1144.8 2665.3l0 0M1280.9 2534.1l0 0M1168.1 2641.3l0 1M1245.6 2661.9l0 0M1303.5 2592.1l0 0M1239.0 2617.7l0 1M1200.2 2507.0l-1 0M1310.9 2670.9l0 0M1382.6 2648.2l0 0M1360.4 2554.7l0 1M1342.2 2635.6l0 0M1341.5 2496.8l0 1M1149.3 2636.8l0 0M1148.8 2618.2l0 0M1165.9 2664.5l-1 0M1323.3 2576.0l-1 0M1277.7 2545.4l1 1M1354.8 2580.5l-1 0M1195.6 2634.3l0 1M1206.3 2666.7l1 0M1364.5 2583.6l0 0M1250.2 2623.0l-1 1M1166.4 2567.7l0 1M1248.0 2668.5l-1 0" stroke="#7078aa" stroke-width="2.6" stroke-linecap="round"/>
<path d="M1268.2 2568.6l0 1M1145.8 2517.0l0 1M1144.8 2580.8l0 0M1209.8 2582.6l0 0M1219.1 2653.4l-1 0M1168.5 2568.3l0 1M1275.7 2613.3l0 0M1272.1 2601.2l0 0M1163.3 2601.1l0 0M1167.9 2527.6l-1 0M1294.0 2641.3l-1 0M1323.8 2677.4l-1 0M1336.6 2504.7l0 0M1215.9 2640.7l0 0M1211.7 2681.9l0 0M1188.0 2651.1l0 0M1383.1 2634.3l1 0M1347.0 2533.6l0 0M1332.4 2615.5l-1 0M1365.5 2548.5l0 0M1270.0 2620.3l-1 0M1328.5 2529.4l0 0M1262.7 2517.2l1 1M1233.6 2687.5l1 0" stroke="#7078aa" stroke-width="3.0" stroke-linecap="round"/>
<path d="M1172 2644l-1 0M1336 2593l0 0M1344 2638l0 1M1387 2664l0 0M1250 2531l0 0M1349 2511l-1 1M1260 2553l0 1M1224 2578l0 0M1140 2598l1 0M1356 2615l0 1M1355 2510l0 0M1361 2490l0 0M1256 2566l-1 1M1339 2658l-1 1M1309 2548l0 0M1169 2562l-1 1M1153 2654l0 0M1233 2603l0 1M1313 2536l0 0M1261 2535l0 0M1384 2655l0 1M1186 2498l0 0M1184 2642l-1 0M1151 2506l-1 1M1247 2647l1 1M1279 2565l0 0M1151 2572l0 1M1223 2676l0 1M1253 2503l-1 0M1319 2500l1 0M1187 2648l0 0M1339 2571l0 1" stroke="#9298c0" stroke-width="3.4" stroke-linecap="round"/>
<path d="M1371.4 2490.4l0 0M1333.5 2598.8l0 1M1256.4 2597.5l0 0M1201.5 2581.4l0 1M1192.8 2640.8l-1 1M1192.4 2657.0l-1 1M1192.7 2521.9l1 0M1170.9 2670.7l-1 1M1169.5 2536.9l0 0M1264.4 2676.1l0 0M1209.7 2502.7l0 1M1368.4 2580.9l1 1M1187.7 2490.2l0 1M1259.2 2632.3l0 0M1238.1 2528.9l0 1M1244.1 2594.4l0 0M1206.2 2538.0l-1 0M1381.2 2616.4l0 0M1303.2 2491.0l0 0M1168.6 2576.4l-1 0M1325.5 2620.3l0 1M1195.8 2508.4l0 0M1348.0 2530.0l-1 0M1302.8 2492.9l1 0M1353.4 2553.8l-1 0M1269.7 2526.3l0 0M1204.3 2611.9l0 1M1381.1 2539.8l0 1M1241.8 2666.7l-1 0M1282.1 2632.8l0 0M1292.3 2512.5l0 0M1343.6 2605.6l0 1" stroke="#565f98" stroke-width="2.4" stroke-linecap="round"/>
<path d="M1253.2 2624.3l0 0M1357.2 2633.9l1 0M1265.1 2670.2l0 1M1172.0 2554.1l-1 1M1343.3 2660.8l0 1M1316.5 2640.8l0 0M1369.5 2642.2l0 0M1342.1 2682.2l0 0M1316.3 2578.3l0 1M1375.3 2514.7l0 1M1158.7 2588.8l0 1M1272.3 2677.3l0 1M1148.1 2589.6l0 0" stroke="#9298c0" stroke-width="2.8" stroke-linecap="round"/>
<path d="M1370.7 2580.9l0 0M1338.4 2543.6l0 0M1303.6 2575.1l-1 0M1289.9 2660.5l0 0M1149.6 2685.8l1 1M1219.0 2587.5l0 0M1380.8 2678.8l0 0M1224.5 2660.6l0 0M1240.8 2579.9l0 1M1338.7 2536.7l-1 1M1296.7 2605.9l0 0M1339.5 2527.7l0 0M1368.1 2665.0l0 0M1157.2 2628.8l0 0M1277.0 2585.4l1 0M1280.6 2643.5l1 0M1229.8 2560.1l0 1" stroke="#7078aa" stroke-width="2.4" stroke-linecap="round"/>
<path d="M1213.3 2680.2l0 0M1386.4 2636.3l-1 1M1331.0 2519.3l0 0M1283.3 2652.8l0 0M1197.5 2515.2l0 1M1196.1 2638.7l1 0M1338.1 2496.3l0 0M1141.4 2583.4l0 0M1307.9 2678.4l0 1M1296.8 2580.9l0 0M1155.5 2527.3l0 0M1380.9 2650.6l0 1M1281.5 2613.7l1 1M1164.3 2622.5l0 0M1155.4 2682.6l1 0M1179.1 2501.9l1 0M1296.7 2565.6l-1 1M1371.3 2685.9l1 1M1340.9 2669.9l0 1M1353.3 2596.5l1 1M1297.7 2656.1l0 0M1287.2 2681.6l0 0M1337.8 2589.3l0 0M1384.9 2616.4l0 0M1179.7 2603.1l-1 0M1350.1 2608.2l0 0M1171.7 2579.3l-1 0M1191.2 2650.9l1 1M1329.3 2510.0l1 1M1250.6 2490.0l0 1M1347.6 2633.2l-1 0M1211.9 2503.5l0 0M1157.7 2514.2l0 0M1348.7 2605.5l0 0M1315.5 2615.1l-1 0M1365.2 2680.4l0 1M1297.9 2622.2l1 0M1193.4 2618.4l-1 0M1341.0 2497.8l1 0M1258.3 2554.1l0 1M1302.8 2626.3l0 0M1154.1 2686.3l0 0M1328.5 2505.2l-1 1M1335.3 2512.9l0 1M1261.6 2598.5l0 0M1189.5 2552.5l0 1M1323.4 2525.7l0 1M1142.9 2511.0l0 1M1253.6 2536.6l0 1M1294.5 2650.4l0 1M1158.3 2648.8l0 0M1167.1 2553.3l-1 1M1359.3 2623.1l0 0M1278.0 2669.3l1 1M1218.7 2573.3l-1 1M1280.0 2513.3l-1 0M1223.3 2523.4l0 1M1345.6 2506.8l0 1M1142.8 2584.8l0 1M1363.4 2527.4l1 0M1161.7 2607.8l0 0M1267.0 2553.2l0 0M1325.1 2594.1l0 0M1206.8 2665.3l0 1" stroke="#565f98" stroke-width="2.8" stroke-linecap="round"/>
<path d="M1310 2607l-1 1M1297 2557l0 0M1208 2519l0 0M1212 2638l0 1M1188 2583l1 1M1200 2685l0 0M1184 2534l1 1M1341 2552l0 1M1262 2584l-1 0M1251 2590l-1 1M1160 2548l0 1M1244 2552l-1 0M1159 2541l0 0M1270 2657l0 0M1149 2623l1 0M1230 2616l0 0M1290 2640l0 0" stroke="#9298c0" stroke-width="3.2" stroke-linecap="round"/>
<path d="M1324 2609l0 1M1259 2608l0 0M1353 2590l0 0M1161 2543l0 1M1346 2520l0 0M1307 2560l-1 1M1203 2534l0 0M1343 2603l0 0M1206 2636l-1 0M1240 2534l1 0M1226 2668l0 0M1243 2507l1 0M1291 2653l-1 0M1161 2623l0 0M1207 2546l1 1M1192 2662l0 0M1176 2525l1 1M1140 2571l0 0M1297 2661l1 0M1262 2510l0 0M1328 2646l0 0M1154 2546l0 0M1370 2623l0 0M1214 2535l1 0M1295 2579l-1 0M1256 2554l0 0M1262 2563l0 1M1368 2603l-1 0M1244 2515l-1 1M1311 2667l1 0M1240 2610l0 1M1315 2657l1 0M1163 2588l0 0M1159 2498l-1 0M1156 2541l1 0M1224 2663l0 0M1330 2520l0 0M1177 2559l-1 0M1141 2518l0 0M1260 2562l-1 0M1228 2596l0 0M1309 2619l0 0M1157 2539l0 0M1173 2501l0 0M1171 2601l-1 1M1288 2608l-1 1M1215 2566l0 0M1227 2532l0 0M1230 2544l-1 0M1159 2669l0 0M1169 2507l0 0M1258 2676l0 0M1297 2509l-1 0M1273 2679l1 0" stroke="#565f98" stroke-width="3.6" stroke-linecap="round"/>
<path d="M1352.4 2528.5l0 1M1286.6 2500.0l0 0M1233.9 2533.5l0 1M1160.9 2513.9l0 1M1208.6 2506.7l1 0M1337.1 2548.9l0 0M1236.0 2603.7l-1 1M1211.3 2604.5l1 0M1257.0 2514.0l0 0M1324.7 2596.8l-1 0M1225.6 2494.9l1 0M1260.8 2587.9l0 0M1374.0 2516.8l0 1M1354.6 2669.1l1 0M1292.1 2643.9l-1 1M1193.0 2669.4l0 0M1162.5 2532.1l-1 0M1157.5 2522.7l1 1M1289.4 2578.3l0 0M1278.7 2580.5l0 0M1312.8 2552.3l0 0M1180.2 2623.2l-1 1M1284.5 2582.7l-1 0M1176.7 2600.9l0 1M1143.5 2662.4l0 1M1277.9 2491.6l0 0M1197.8 2609.9l0 1M1349.7 2529.0l0 1M1366.3 2623.6l0 0M1343.4 2631.6l0 0M1159.3 2492.3l-1 0M1324.6 2554.4l0 1M1311.8 2515.2l-1 0M1364.4 2509.0l0 1M1318.0 2554.0l0 0M1156.3 2506.9l0 0M1179.7 2611.4l0 0M1253.6 2640.2l0 0M1201.7 2541.7l-1 0M1259.4 2576.5l0 1M1308.1 2529.1l-1 0M1243.2 2627.7l-1 0M1201.3 2492.6l-1 0M1255.7 2638.7l-1 0M1140.2 2640.7l0 0M1153.2 2599.6l0 0M1147.5 2638.4l-1 0M1375.4 2663.6l0 0M1166.7 2499.3l0 0M1176.6 2584.1l0 0" stroke="#565f98" stroke-width="2.6" stroke-linecap="round"/>
<path d="M1351 2549l1 0M1264 2524l1 1M1269 2591l0 0M1309 2655l1 0M1200 2608l1 0M1189 2526l0 0M1354 2686l0 0M1233 2553l0 1M1206 2621l1 0M1141 2536l-1 0M1141 2563l0 1M1385 2536l0 1M1280 2508l0 0M1268 2524l1 0M1244 2637l0 0M1312 2628l0 1M1273 2658l-1 1M1161 2596l0 0M1206 2636l0 1M1385 2500l1 0M1309 2551l0 0M1243 2673l-1 1M1235 2555l0 0M1324 2680l0 0M1156 2667l0 0M1189 2498l-1 0M1275 2671l0 1M1292 2544l0 0M1387 2551l0 0" stroke="#565f98" stroke-width="4.0" stroke-linecap="round"/>
<path d="M1241.3 2563.9l-1 1M1230.6 2639.5l0 0M1231.5 2579.8l0 0M1332.8 2678.9l0 0M1209.6 2581.6l0 0M1377.9 2508.3l1 1M1293.6 2661.5l-1 0M1274.2 2658.2l-1 0M1254.9 2599.4l0 0M1301.3 2667.9l0 0M1363.0 2676.5l1 1M1248.7 2547.4l0 0M1204.1 2603.3l0 0M1279.1 2619.5l0 0M1197.1 2510.1l1 1M1284.7 2661.7l1 0M1306.2 2560.7l0 0M1159.8 2591.3l0 1M1182.6 2635.2l0 0" stroke="#7078aa" stroke-width="2.8" stroke-linecap="round"/>
<path d="M1361 2496l-1 0M1303 2499l0 0M1336 2584l1 1M1287 2660l0 0M1381 2577l0 1M1363 2524l0 0M1308 2556l0 0M1385 2650l1 0M1144 2505l0 1M1323 2545l0 0M1159 2564l1 0M1169 2595l0 0M1324 2660l0 1M1213 2513l0 0M1298 2641l0 1M1184 2640l0 1M1181 2594l0 1M1331 2582l0 1M1206 2575l0 0M1166 2628l-1 1M1206 2588l0 0M1165 2647l0 1M1180 2525l0 1M1366 2623l0 0M1314 2520l0 1M1201 2614l0 1M1168 2605l1 0M1184 2659l0 0M1151 2505l0 0M1141 2582l0 0M1328 2535l-1 0M1334 2665l0 0M1271 2535l0 0" stroke="#7078aa" stroke-width="3.4" stroke-linecap="round"/>
<path d="M1206.0 2531.0l0 0M1158.3 2517.7l0 0M1269.6 2561.5l0 1M1282.2 2646.4l0 0M1193.6 2585.8l-1 0M1297.4 2611.7l0 1M1200.2 2545.9l0 1M1220.2 2678.5l0 0M1235.8 2545.8l1 1M1232.7 2532.5l1 0M1270.6 2503.3l0 0M1323.0 2543.5l0 1M1333.6 2665.3l0 0M1286.1 2640.1l-1 1M1217.9 2644.2l0 0M1327.5 2617.0l1 0M1340.4 2656.0l1 0M1218.3 2513.1l0 0" stroke="#9298c0" stroke-width="3.0" stroke-linecap="round"/>
<path d="M1301.1 2588.3l1 0M1338.7 2679.7l0 1M1164.3 2539.7l0 0M1294.5 2498.9l0 1M1307.5 2678.4l1 0M1363.9 2604.2l-1 0M1314.5 2584.1l1 0M1198.0 2653.6l0 0M1330.2 2661.0l0 0M1189.8 2623.0l1 0M1141.1 2542.4l0 0M1179.8 2635.0l-1 0M1304.3 2587.8l0 0" stroke="#9298c0" stroke-width="2.6" stroke-linecap="round"/>
<path d="M1373 2681l-1 0M1236 2671l-1 0M1384 2523l1 1M1318 2502l0 0M1321 2550l0 0M1233 2657l0 0M1180 2513l0 0M1229 2633l1 1M1192 2565l1 1M1384 2547l0 1M1171 2566l0 0M1370 2610l-1 0M1273 2537l0 0M1244 2657l-1 1M1299 2548l0 0" stroke="#9298c0" stroke-width="4.0" stroke-linecap="round"/>
<path d="M1146 2683l2 2M1314 2619l-2 2M1206 2494l3 0M1322 2632l-1 2" stroke="#b08a70" stroke-width="6.4" stroke-linecap="round"/>
<path d="M1267 2568l2 2M1244 2660l3 1" stroke="#b08a70" stroke-width="5.8" stroke-linecap="round"/>
<path d="M1274 2626l0 1M1306 2687l2 2" stroke="#b08a70" stroke-width="4.2" stroke-linecap="round"/>
<path d="M1369 2653l2 2M1290 2677l-1 1" stroke="#94684e" stroke-width="4.6" stroke-linecap="round"/>
<path d="M1222 2520l-2 1M1201 2619l1 1M1259 2615l0 0" stroke="#b08a70" stroke-width="6.0" stroke-linecap="round"/>
<path d="M1357 2640l0 0M1337 2585l0 0" stroke="#94684e" stroke-width="5.6" stroke-linecap="round"/>
<path d="M1226 2618l0 1M1275 2579l2 1" stroke="#94684e" stroke-width="5.2" stroke-linecap="round"/>
<path d="M1357 2657l0 2M1373 2617l-1 3M1315 2573l0 0" stroke="#94684e" stroke-width="6.2" stroke-linecap="round"/>
<path d="M1184 2676l1 1M1223 2543l-2 0M1329 2593l2 1M1302 2573l2 1" stroke="#b08a70" stroke-width="6.2" stroke-linecap="round"/>
<path d="M1179 2632l0 0M1157 2543l-1 1" stroke="#b08a70" stroke-width="5.0" stroke-linecap="round"/>
<path d="M1317 2501l-1 2M1258 2620l0 1" stroke="#b08a70" stroke-width="5.2" stroke-linecap="round"/>
<path d="M1148 2681l2 0M1157 2580l0 1M1325 2582l2 1" stroke="#b08a70" stroke-width="4.4" stroke-linecap="round"/>
<path d="M1241 2531l1 1M1265 2626l-2 0" stroke="#b08a70" stroke-width="4.8" stroke-linecap="round"/>
<path d="M1386 2582l2 2" stroke="#94684e" stroke-width="4.2" stroke-linecap="round"/>
<path d="M1221 2623l0 1M1182 2676l1 0M1147 2558l1 0" stroke="#b08a70" stroke-width="5.4" stroke-linecap="round"/>
<path d="M1368 2494l0 0M1145 2622l1 0" stroke="#b08a70" stroke-width="5.6" stroke-linecap="round"/>
<path d="M1385 2669l1 0" stroke="#94684e" stroke-width="4.4" stroke-linecap="round"/>
<path d="M1150 2536l0 1M1318 2502l0 0" stroke="#94684e" stroke-width="4.8" stroke-linecap="round"/>
<path d="M1294 2602l2 1" stroke="#94684e" stroke-width="5.4" stroke-linecap="round"/>
<path d="M1291 2526l-1 1" stroke="#b08a70" stroke-width="4.6" stroke-linecap="round"/>
</g>
<rect x="933.7" y="2633.8" width="50.5" height="42.2" fill="none" stroke="#d42830" stroke-width="1.8" stroke-dasharray="5 3"/>
<line x1="984.2" y1="2633.8" x2="1137.8" y2="2488.5" stroke="#cc2028" stroke-width="2.2" stroke-dasharray="8 3.5"/>
<line x1="984.2" y1="2676.0" x2="1137.8" y2="2689.0" stroke="#cc2028" stroke-width="2.2" stroke-dasharray="8 3.5"/>
<text x="892.1" y="2512.5">F6</text>
<text x="1160.0" y="2477.5" text-anchor="middle">Moderate</text>
<text x="1132.3" y="2669.5" text-anchor="end">50 μm</text>
<line x1="1078.3" y1="2679.0" x2="1123.3" y2="2679.0" stroke="#000" stroke-width="3.4"/>
<text x="1375.0" y="2669.5" text-anchor="end">50 μm</text>
<line x1="1314.0" y1="2679.0" x2="1373.0" y2="2679.0" stroke="#000" stroke-width="3.4"/>
<rect x="1394.7" y="2488.5" width="247.8" height="200.5" fill="#ededee"/>
<g clip-path="url(#hc4)">
<circle cx="1521.6" cy="2588.8" r="122.0" fill="#d5d0da"/>
<circle cx="1521.6" cy="2588.8" r="122" filter="url(#dsr)" opacity="0.6"/>
<circle cx="1521.6" cy="2588.8" r="122" filter="url(#hspeck)" opacity="0.55"/>
<ellipse cx="1439.7" cy="2628.5" rx="30" ry="40" fill="#c09880" opacity="0.35" filter="url(#hblur)"/>
</g>
<rect x="1644.0" y="2488.5" width="248.4" height="200.5" fill="#e4dad8"/>
<g clip-path="url(#hc4z)">
<g filter="url(#hblur)">
<path d="M1768 2574l0 0" stroke="#f2ecea" stroke-width="23.2" stroke-linecap="round"/>
<path d="M1881 2526l0 0" stroke="#f2ecea" stroke-width="21.4" stroke-linecap="round"/>
<path d="M1812 2503l0 0" stroke="#cfcad8" stroke-width="21.4" stroke-linecap="round"/>
<path d="M1808 2683l0 0M1737 2566l0 0" stroke="#f2ecea" stroke-width="16.2" stroke-linecap="round"/>
<path d="M1774 2535l0 0" stroke="#cfcad8" stroke-width="14.4" stroke-linecap="round"/>
<path d="M1710 2664l0 0" stroke="#f2ecea" stroke-width="20.4" stroke-linecap="round"/>
<path d="M1832 2538l0 0" stroke="#d8c0b4" stroke-width="16.4" stroke-linecap="round"/>
<path d="M1871 2650l0 0M1795 2637l0 0" stroke="#d8c0b4" stroke-width="17.2" stroke-linecap="round"/>
<path d="M1657 2573l0 0" stroke="#d8c0b4" stroke-width="21.6" stroke-linecap="round"/>
<path d="M1787 2677l0 0" stroke="#d8c0b4" stroke-width="12.6" stroke-linecap="round"/>
<path d="M1808 2664l0 0" stroke="#d8c0b4" stroke-width="20.6" stroke-linecap="round"/>
<path d="M1658 2605l0 0" stroke="#d8c0b4" stroke-width="23.4" stroke-linecap="round"/>
<path d="M1809 2624l0 0" stroke="#d8c0b4" stroke-width="12.4" stroke-linecap="round"/>
<path d="M1860 2546l0 0M1880 2663l0 0" stroke="#d8c0b4" stroke-width="18.8" stroke-linecap="round"/>
<path d="M1649 2515l0 0" stroke="#d8c0b4" stroke-width="25.6" stroke-linecap="round"/>
<path d="M1846 2686l0 0M1828 2599l0 0" stroke="#f2ecea" stroke-width="15.4" stroke-linecap="round"/>
<path d="M1655 2681l0 0" stroke="#cfcad8" stroke-width="22.4" stroke-linecap="round"/>
<path d="M1846 2541l0 0" stroke="#f2ecea" stroke-width="12.0" stroke-linecap="round"/>
<path d="M1788 2545l0 0" stroke="#f2ecea" stroke-width="14.6" stroke-linecap="round"/>
<path d="M1801 2555l0 0" stroke="#d8c0b4" stroke-width="24.4" stroke-linecap="round"/>
<path d="M1728 2556l0 0" stroke="#f2ecea" stroke-width="13.4" stroke-linecap="round"/>
<path d="M1736 2527l0 0M1683 2590l0 0" stroke="#f2ecea" stroke-width="25.0" stroke-linecap="round"/>
<path d="M1752 2676l0 0" stroke="#d8c0b4" stroke-width="14.8" stroke-linecap="round"/>
<path d="M1886 2680l0 0" stroke="#d8c0b4" stroke-width="14.6" stroke-linecap="round"/>
<path d="M1884 2555l0 0" stroke="#f2ecea" stroke-width="22.2" stroke-linecap="round"/>
<path d="M1812 2597l0 0" stroke="#cfcad8" stroke-width="18.8" stroke-linecap="round"/>
<path d="M1762 2638l0 0" stroke="#d8c0b4" stroke-width="24.0" stroke-linecap="round"/>
<path d="M1748 2600l0 0" stroke="#d8c0b4" stroke-width="22.2" stroke-linecap="round"/>
<path d="M1812 2520l0 0" stroke="#f2ecea" stroke-width="18.8" stroke-linecap="round"/>
<path d="M1756 2508l0 0M1882 2669l0 0" stroke="#d8c0b4" stroke-width="16.8" stroke-linecap="round"/>
<path d="M1765 2632l0 0" stroke="#d8c0b4" stroke-width="22.4" stroke-linecap="round"/>
<path d="M1838 2536l0 0" stroke="#d8c0b4" stroke-width="18.4" stroke-linecap="round"/>
<path d="M1672 2532l0 0" stroke="#cfcad8" stroke-width="22.0" stroke-linecap="round"/>
<path d="M1712 2540l0 0" stroke="#cfcad8" stroke-width="19.2" stroke-linecap="round"/>
<path d="M1871 2523l0 0M1675 2640l0 0" stroke="#cfcad8" stroke-width="16.4" stroke-linecap="round"/>
<path d="M1678 2600l0 0" stroke="#d8c0b4" stroke-width="23.0" stroke-linecap="round"/>
<path d="M1758 2581l0 0" stroke="#cfcad8" stroke-width="25.6" stroke-linecap="round"/>
<path d="M1649 2548l0 0" stroke="#f2ecea" stroke-width="17.6" stroke-linecap="round"/>
<path d="M1847 2526l0 0" stroke="#cfcad8" stroke-width="19.8" stroke-linecap="round"/>
<path d="M1754 2547l0 0" stroke="#f2ecea" stroke-width="13.0" stroke-linecap="round"/>
<path d="M1859 2570l0 0" stroke="#f2ecea" stroke-width="23.8" stroke-linecap="round"/>
<path d="M1740 2579l0 0" stroke="#cfcad8" stroke-width="17.0" stroke-linecap="round"/>
<path d="M1774 2644l0 0" stroke="#cfcad8" stroke-width="21.0" stroke-linecap="round"/>
<path d="M1672 2668l0 0" stroke="#d8c0b4" stroke-width="15.4" stroke-linecap="round"/>
<path d="M1819 2520l0 0" stroke="#cfcad8" stroke-width="18.2" stroke-linecap="round"/>
<path d="M1842 2528l0 0" stroke="#d8c0b4" stroke-width="13.8" stroke-linecap="round"/>
<path d="M1828 2525l0 0" stroke="#d8c0b4" stroke-width="15.8" stroke-linecap="round"/>
<path d="M1841 2684l0 0M1781 2666l0 0" stroke="#d8c0b4" stroke-width="20.4" stroke-linecap="round"/>
<path d="M1754 2513l0 0" stroke="#cfcad8" stroke-width="22.2" stroke-linecap="round"/>
<path d="M1720 2667l0 0" stroke="#f2ecea" stroke-width="19.8" stroke-linecap="round"/>
<path d="M1858 2553l0 0" stroke="#d8c0b4" stroke-width="21.2" stroke-linecap="round"/>
<path d="M1688 2495l0 0" stroke="#d8c0b4" stroke-width="16.0" stroke-linecap="round"/>
<path d="M1839 2498l0 0" stroke="#d8c0b4" stroke-width="22.8" stroke-linecap="round"/>
<path d="M1743 2506l0 0" stroke="#cfcad8" stroke-width="16.6" stroke-linecap="round"/>
<path d="M1720 2549l0 0" stroke="#cfcad8" stroke-width="19.6" stroke-linecap="round"/>
<path d="M1757 2530l0 0" stroke="#cfcad8" stroke-width="23.0" stroke-linecap="round"/>
<path d="M1769 2663l0 0" stroke="#cfcad8" stroke-width="20.0" stroke-linecap="round"/>
<path d="M1755 2611l0 0" stroke="#d8c0b4" stroke-width="12.0" stroke-linecap="round"/>
<path d="M1855 2633l0 0" stroke="#d8c0b4" stroke-width="24.2" stroke-linecap="round"/>
</g>
<path d="M1882 2663l-1 1M1815 2663l1 1M1795 2574l-2 2" stroke="#d4bcb0" stroke-width="6.4" stroke-linecap="round"/>
<path d="M1844 2492l0 0M1679 2513l-2 0M1758 2581l0 0" stroke="#a8acc8" stroke-width="10.4" stroke-linecap="round"/>
<path d="M1726 2618l1 1M1829 2654l0 1M1713 2603l0 1" stroke="#d4bcb0" stroke-width="8.4" stroke-linecap="round"/>
<path d="M1798 2614l1 1" stroke="#a8acc8" stroke-width="7.8" stroke-linecap="round"/>
<path d="M1689 2603l-2 1M1702 2602l0 0" stroke="#a8acc8" stroke-width="8.6" stroke-linecap="round"/>
<path d="M1707 2572l2 2" stroke="#d4bcb0" stroke-width="7.0" stroke-linecap="round"/>
<path d="M1853 2497l-1 2" stroke="#bcbcd2" stroke-width="9.8" stroke-linecap="round"/>
<path d="M1689 2593l0 0M1654 2506l0 0M1842 2616l-1 3" stroke="#a8acc8" stroke-width="7.2" stroke-linecap="round"/>
<path d="M1799 2505l2 2M1803 2515l0 0" stroke="#a8acc8" stroke-width="5.0" stroke-linecap="round"/>
<path d="M1662 2613l0 2" stroke="#d4bcb0" stroke-width="8.8" stroke-linecap="round"/>
<path d="M1823 2551l-2 1" stroke="#d4bcb0" stroke-width="9.2" stroke-linecap="round"/>
<path d="M1853 2593l2 0M1729 2582l1 1" stroke="#bcbcd2" stroke-width="9.4" stroke-linecap="round"/>
<path d="M1872 2528l0 0M1756 2518l1 1" stroke="#bcbcd2" stroke-width="7.8" stroke-linecap="round"/>
<path d="M1791 2652l-2 0" stroke="#bcbcd2" stroke-width="6.8" stroke-linecap="round"/>
<path d="M1802 2658l1 0M1767 2674l1 1" stroke="#a8acc8" stroke-width="9.2" stroke-linecap="round"/>
<path d="M1726 2524l0 0M1719 2668l-1 0M1874 2528l3 1M1854 2672l-3 0M1792 2509l-1 3" stroke="#a8acc8" stroke-width="6.2" stroke-linecap="round"/>
<path d="M1842 2505l1 1" stroke="#a8acc8" stroke-width="5.4" stroke-linecap="round"/>
<path d="M1776 2536l0 0" stroke="#a8acc8" stroke-width="8.0" stroke-linecap="round"/>
<path d="M1784 2568l0 1M1847 2587l0 1" stroke="#bcbcd2" stroke-width="10.6" stroke-linecap="round"/>
<path d="M1698 2565l-1 0" stroke="#d4bcb0" stroke-width="8.6" stroke-linecap="round"/>
<path d="M1677 2560l1 0" stroke="#d4bcb0" stroke-width="10.4" stroke-linecap="round"/>
<path d="M1783 2574l3 0M1778 2503l0 0" stroke="#a8acc8" stroke-width="7.0" stroke-linecap="round"/>
<path d="M1688 2522l-1 2M1689 2502l0 0M1702 2561l-1 1" stroke="#d4bcb0" stroke-width="6.8" stroke-linecap="round"/>
<path d="M1647 2576l1 1M1855 2642l0 0M1759 2561l0 0" stroke="#a8acc8" stroke-width="9.8" stroke-linecap="round"/>
<path d="M1846 2653l1 1M1741 2643l0 0" stroke="#a8acc8" stroke-width="5.6" stroke-linecap="round"/>
<path d="M1754 2574l-1 3" stroke="#d4bcb0" stroke-width="9.0" stroke-linecap="round"/>
<path d="M1850 2638l1 0M1808 2608l-2 2M1687 2553l-1 2" stroke="#bcbcd2" stroke-width="5.8" stroke-linecap="round"/>
<path d="M1875 2514l0 1" stroke="#d4bcb0" stroke-width="5.0" stroke-linecap="round"/>
<path d="M1890 2598l1 1M1862 2647l2 1" stroke="#a8acc8" stroke-width="7.6" stroke-linecap="round"/>
<path d="M1748 2637l0 3" stroke="#bcbcd2" stroke-width="10.0" stroke-linecap="round"/>
<path d="M1888 2512l0 3M1696 2548l-2 0" stroke="#bcbcd2" stroke-width="9.0" stroke-linecap="round"/>
<path d="M1752 2667l1 1M1802 2588l0 1" stroke="#bcbcd2" stroke-width="5.4" stroke-linecap="round"/>
<path d="M1807 2652l-2 2" stroke="#a8acc8" stroke-width="6.8" stroke-linecap="round"/>
<path d="M1839 2567l0 2" stroke="#d4bcb0" stroke-width="10.0" stroke-linecap="round"/>
<path d="M1879 2604l2 2M1799 2609l0 0" stroke="#d4bcb0" stroke-width="9.6" stroke-linecap="round"/>
<path d="M1694 2561l1 1" stroke="#a8acc8" stroke-width="10.2" stroke-linecap="round"/>
<path d="M1843 2490l0 0M1840 2583l0 1" stroke="#d4bcb0" stroke-width="7.8" stroke-linecap="round"/>
<path d="M1889 2496l1 1M1755 2518l-2 1M1740 2527l2 1" stroke="#a8acc8" stroke-width="6.0" stroke-linecap="round"/>
<path d="M1855 2562l1 0" stroke="#d4bcb0" stroke-width="5.8" stroke-linecap="round"/>
<path d="M1655 2525l2 1" stroke="#bcbcd2" stroke-width="8.4" stroke-linecap="round"/>
<path d="M1793 2686l-1 0" stroke="#a8acc8" stroke-width="6.4" stroke-linecap="round"/>
<path d="M1707 2592l-1 1" stroke="#d4bcb0" stroke-width="6.0" stroke-linecap="round"/>
<path d="M1682 2611l-1 2M1784 2548l0 0" stroke="#d4bcb0" stroke-width="7.6" stroke-linecap="round"/>
<path d="M1741 2503l-2 2" stroke="#bcbcd2" stroke-width="8.8" stroke-linecap="round"/>
<path d="M1660 2528l1 1" stroke="#a8acc8" stroke-width="9.4" stroke-linecap="round"/>
<path d="M1690 2543l2 1" stroke="#bcbcd2" stroke-width="9.2" stroke-linecap="round"/>
<path d="M1781 2684l-2 1M1707 2608l-2 0" stroke="#a8acc8" stroke-width="5.8" stroke-linecap="round"/>
<path d="M1749 2680l2 2M1854 2622l1 0" stroke="#bcbcd2" stroke-width="6.6" stroke-linecap="round"/>
<path d="M1855 2501l0 2" stroke="#bcbcd2" stroke-width="9.6" stroke-linecap="round"/>
<path d="M1836 2500l1 1M1678 2667l-2 2" stroke="#bcbcd2" stroke-width="10.8" stroke-linecap="round"/>
<path d="M1856 2652l-2 1" stroke="#d4bcb0" stroke-width="7.4" stroke-linecap="round"/>
<path d="M1710 2646l-1 0" stroke="#bcbcd2" stroke-width="7.2" stroke-linecap="round"/>
<path d="M1661 2497l-2 1" stroke="#bcbcd2" stroke-width="5.6" stroke-linecap="round"/>
<path d="M1733 2559l-2 1" stroke="#bcbcd2" stroke-width="10.4" stroke-linecap="round"/>
<path d="M1705 2507l-1 1" stroke="#a8acc8" stroke-width="8.8" stroke-linecap="round"/>
<path d="M1784 2557l0 0M1743 2638l1 0" stroke="#a8acc8" stroke-width="10.0" stroke-linecap="round"/>
<path d="M1825 2687l-1 1" stroke="#bcbcd2" stroke-width="8.2" stroke-linecap="round"/>
<path d="M1837 2585l-1 1" stroke="#d4bcb0" stroke-width="9.4" stroke-linecap="round"/>
<path d="M1761 2522l-1 1" stroke="#bcbcd2" stroke-width="6.2" stroke-linecap="round"/>
<path d="M1793 2675l-2 2M1871 2556l0 1" stroke="#a8acc8" stroke-width="6.6" stroke-linecap="round"/>
<path d="M1742 2501l0 0" stroke="#a8acc8" stroke-width="7.4" stroke-linecap="round"/>
<path d="M1717 2498l2 1M1713 2571l-1 1" stroke="#a8acc8" stroke-width="10.6" stroke-linecap="round"/>
<path d="M1747 2639l1 3" stroke="#a8acc8" stroke-width="9.0" stroke-linecap="round"/>
<path d="M1870 2643l2 1" stroke="#bcbcd2" stroke-width="7.4" stroke-linecap="round"/>
<path d="M1713 2551l-1 1" stroke="#a8acc8" stroke-width="10.8" stroke-linecap="round"/>
<path d="M1829 2672l0 2" stroke="#bcbcd2" stroke-width="8.0" stroke-linecap="round"/>
<path d="M1843 2613l1 1" stroke="#d4bcb0" stroke-width="10.8" stroke-linecap="round"/>
<path d="M1825 2553l0 1" stroke="#d4bcb0" stroke-width="6.2" stroke-linecap="round"/>
<path d="M1821 2598l0 0" stroke="#d4bcb0" stroke-width="10.6" stroke-linecap="round"/>
<path d="M1785.6 2665.7l0 0M1859.6 2619.6l0 0M1866.1 2521.4l0 0M1693.4 2524.1l0 0M1777.3 2675.2l0 0M1867.2 2639.9l0 0M1646.5 2590.0l0 0M1806.2 2551.7l0 0M1668.6 2652.8l0 0M1804.2 2581.4l0 0M1760.8 2536.4l0 0M1758.2 2538.2l0 0M1816.9 2559.2l0 0M1787.0 2655.3l0 0M1831.5 2571.3l0 0M1700.8 2679.1l0 0M1698.5 2659.5l0 0M1799.9 2679.9l0 0M1693.1 2663.4l0 0M1728.1 2673.1l0 0M1807.2 2559.9l0 0M1655.6 2543.7l0 0M1877.9 2525.4l0 0M1734.2 2526.1l0 0M1654.2 2571.0l0 0M1770.4 2665.4l0 0M1672.3 2549.8l0 0M1686.4 2661.6l0 0M1649.3 2573.5l0 0M1750.5 2532.5l0 0M1689.0 2501.9l0 0M1679.8 2660.0l0 0M1736.0 2638.5l0 0M1670.7 2606.7l0 0M1791.6 2674.3l0 0M1785.4 2682.3l0 0M1794.1 2682.3l0 0M1748.7 2539.2l0 0M1688.1 2669.1l0 0M1863.8 2626.1l0 0M1686.1 2510.8l0 0M1686.4 2674.7l0 0M1792.8 2676.5l0 0M1840.7 2630.8l0 0M1738.0 2512.4l0 0M1736.9 2600.2l0 0M1652.9 2571.9l0 0M1773.2 2581.5l0 0" stroke="#704032" stroke-width="2.8" stroke-linecap="round"/>
<path d="M1804.1 2550.0l0 0M1810.5 2568.9l0 0M1847.5 2637.9l0 0M1663.5 2598.7l0 0M1661.1 2594.5l0 0M1880.5 2685.1l0 0M1798.2 2533.3l0 0M1807.1 2570.1l0 0M1869.8 2670.9l0 0M1656.6 2591.9l0 0M1860.8 2531.1l0 0M1670.0 2514.0l0 0M1649.3 2595.9l0 0M1729.3 2589.7l0 0M1706.7 2661.1l0 0M1861.0 2664.9l0 0M1751.8 2640.5l0 0M1764.2 2651.1l0 0M1781.4 2684.0l0 0M1716.0 2613.3l0 0M1884.7 2521.8l0 0M1688.0 2495.2l0 0M1780.8 2553.9l0 0M1860.1 2510.5l0 0M1868.9 2536.2l0 0M1708.1 2505.3l0 0M1750.8 2537.7l0 0M1727.3 2579.7l0 0M1864.3 2520.2l0 0M1874.7 2514.1l0 0M1889.4 2526.0l0 0M1799.4 2525.7l0 0M1842.3 2642.4l0 0M1742.0 2531.7l0 0M1703.3 2684.0l0 0M1759.2 2540.5l0 0M1815.1 2567.1l0 0M1658.8 2568.7l0 0M1872.5 2517.1l0 0M1723.5 2583.9l0 0" stroke="#8c5644" stroke-width="2.4" stroke-linecap="round"/>
<path d="M1729.7 2539.0l0 0M1874.6 2536.1l0 0M1890.7 2582.2l0 0M1853.5 2522.1l0 0M1755.6 2581.1l0 0M1678.4 2533.4l0 0M1850.3 2635.6l0 0M1780.5 2679.3l0 0M1681.1 2494.2l0 0M1795.1 2663.5l0 0M1686.0 2674.5l0 0M1760.6 2599.0l0 0M1758.2 2533.5l0 0M1694.1 2678.3l0 0M1758.8 2522.5l0 0M1880.0 2522.9l0 0M1818.2 2553.3l0 0M1686.9 2584.2l0 0M1817.1 2579.6l0 0M1881.9 2551.6l0 0M1863.5 2579.9l0 0M1707.2 2589.9l0 0M1669.1 2595.0l0 0M1765.0 2664.4l0 0M1684.4 2667.4l0 0M1687.5 2672.6l0 0M1650.6 2586.1l0 0M1759.5 2557.7l0 0M1684.4 2684.4l0 0M1879.8 2535.3l0 0M1682.8 2505.9l0 0M1670.4 2680.8l0 0M1819.7 2604.1l0 0M1782.4 2573.5l0 0M1855.9 2531.2l0 0M1715.9 2506.1l0 0M1670.7 2496.6l0 0M1758.3 2584.1l0 0M1658.0 2629.7l0 0M1735.3 2546.2l0 0M1889.3 2548.8l0 0M1686.4 2597.2l0 0M1814.2 2685.7l0 0M1785.4 2663.3l0 0" stroke="#8c5644" stroke-width="3.0" stroke-linecap="round"/>
<path d="M1667 2586l0 0M1689 2513l0 0M1707 2504l0 0M1747 2538l0 0M1868 2626l0 0M1852 2643l0 0M1680 2517l0 0M1875 2540l0 0M1707 2530l0 0M1746 2536l0 0M1878 2526l0 0M1694 2654l0 0M1721 2578l0 0M1723 2501l0 0M1849 2630l0 0M1665 2498l0 0M1703 2508l0 0M1747 2541l0 0M1733 2618l0 0M1716 2574l0 0M1779 2654l0 0M1715 2593l0 0M1828 2643l0 0M1664 2575l0 0M1762 2529l0 0M1816 2543l0 0M1752 2545l0 0M1683 2517l0 0M1763 2533l0 0M1686 2491l0 0M1748 2562l0 0M1872 2653l0 0M1706 2508l0 0M1839 2631l0 0M1677 2680l0 0M1697 2519l0 0M1656 2610l0 0M1813 2568l0 0M1700 2656l0 0M1666 2525l0 0M1806 2679l0 0M1794 2563l0 0M1885 2626l0 0M1696 2667l0 0" stroke="#704032" stroke-width="3.2" stroke-linecap="round"/>
<path d="M1863.3 2552.4l0 0M1809.8 2548.4l0 0M1771.3 2672.0l0 0M1738.1 2540.9l0 0M1705.9 2527.3l0 0M1869.2 2625.6l0 0M1890.0 2547.2l0 0M1675.2 2524.0l0 0M1795.8 2666.3l0 0M1747.0 2600.6l0 0M1744.0 2592.8l0 0M1885.2 2538.4l0 0M1818.2 2675.3l0 0M1701.8 2519.7l0 0M1766.4 2532.2l0 0M1740.4 2610.0l0 0M1695.2 2662.0l0 0M1703.5 2535.2l0 0M1673.2 2599.8l0 0M1861.7 2634.1l0 0" stroke="#553026" stroke-width="2.6" stroke-linecap="round"/>
<path d="M1761 2526l0 0M1801 2552l0 0M1663 2517l0 0M1850 2534l0 0M1663 2588l0 0M1736 2544l0 0M1808 2676l0 0M1848 2574l0 0M1801 2562l0 0M1678 2518l0 0M1824 2571l0 0M1867 2533l0 0M1766 2682l0 0M1783 2665l0 0" stroke="#8c5644" stroke-width="3.6" stroke-linecap="round"/>
<path d="M1718.6 2600.8l0 0M1795.2 2655.9l0 0M1715.6 2587.2l0 0M1812.3 2562.6l0 0M1814.9 2665.1l0 0M1852.5 2678.7l0 0M1849.1 2628.8l0 0M1724.6 2553.6l0 0M1665.9 2605.7l0 0M1751.2 2607.1l0 0M1737.7 2602.5l0 0M1883.7 2510.0l0 0M1717.6 2666.3l0 0M1657.5 2612.5l0 0M1737.4 2626.7l0 0M1873.1 2523.7l0 0M1682.3 2659.4l0 0" stroke="#553026" stroke-width="2.8" stroke-linecap="round"/>
<path d="M1885.4 2609.4l0 0M1756.5 2597.3l0 0M1760.8 2527.3l0 0M1840.4 2652.3l0 0M1671.9 2572.6l0 0M1664.1 2581.8l0 0M1865.8 2655.8l0 0M1676.1 2663.4l0 0M1850.9 2652.0l0 0M1868.9 2539.7l0 0M1697.5 2524.9l0 0M1775.8 2665.0l0 0M1863.6 2660.0l0 0" stroke="#8c5644" stroke-width="1.8" stroke-linecap="round"/>
<path d="M1703.6 2651.7l0 0M1862.6 2658.6l0 0M1697.5 2666.1l0 0M1812.8 2552.4l0 0M1665.2 2570.9l0 0M1667.1 2603.1l0 0M1649.5 2572.3l0 0M1739.1 2575.9l0 0M1717.5 2658.5l0 0M1777.4 2679.0l0 0M1805.8 2575.9l0 0M1703.2 2665.7l0 0M1850.9 2633.6l0 0M1878.0 2529.6l0 0M1662.1 2502.3l0 0M1743.5 2586.2l0 0M1891.1 2642.9l0 0M1701.7 2497.7l0 0M1726.8 2664.9l0 0M1889.4 2641.4l0 0M1881.5 2517.8l0 0M1667.1 2559.2l0 0M1875.1 2509.4l0 0M1693.4 2494.5l0 0M1738.4 2533.1l0 0M1716.8 2656.9l0 0M1833.5 2538.2l0 0M1792.1 2504.2l0 0M1649.8 2538.6l0 0M1653.4 2571.1l0 0M1889.0 2516.8l0 0M1755.7 2515.6l0 0M1742.7 2531.1l0 0M1690.8 2517.5l0 0M1770.5 2546.1l0 0M1656.2 2586.5l0 0M1727.6 2610.8l0 0" stroke="#704032" stroke-width="2.2" stroke-linecap="round"/>
<path d="M1752 2597l0 0M1671 2503l0 0M1661 2564l0 0M1787 2680l0 0M1713 2607l0 0M1867 2523l0 0M1773 2544l0 0M1799 2670l0 0M1781 2559l0 0M1717 2507l0 0M1824 2496l0 0M1886 2522l0 0M1753 2611l0 0M1847 2626l0 0M1846 2532l0 0M1879 2629l0 0M1890 2521l0 0M1864 2656l0 0M1693 2605l0 0M1862 2628l0 0M1689 2641l0 0M1672 2523l0 0M1810 2562l0 0M1867 2633l0 0M1793 2577l0 0M1875 2511l0 0M1749 2660l0 0M1869 2618l0 0M1799 2650l0 0" stroke="#704032" stroke-width="3.4" stroke-linecap="round"/>
<path d="M1682 2673l0 0M1770 2654l0 0M1832 2643l0 0M1806 2666l0 0M1699 2674l0 0M1867 2644l0 0M1824 2585l0 0M1747 2615l0 0M1876 2528l0 0M1669 2517l0 0M1714 2645l0 0M1675 2504l0 0M1725 2640l0 0M1877 2509l0 0M1819 2568l0 0M1773 2561l0 0M1669 2582l0 0M1779 2652l0 0M1662 2527l0 0M1799 2552l0 0M1677 2530l0 0M1659 2589l0 0M1709 2649l0 0M1675 2506l0 0" stroke="#553026" stroke-width="3.4" stroke-linecap="round"/>
<path d="M1815.9 2556.6l0 0M1735.6 2668.3l0 0M1662.2 2676.5l0 0M1673.8 2511.5l0 0M1681.6 2672.9l0 0M1722.0 2577.1l0 0M1695.6 2516.4l0 0M1682.2 2663.1l0 0M1827.2 2657.2l0 0M1789.6 2675.7l0 0M1766.2 2548.1l0 0M1868.4 2513.0l0 0M1796.3 2656.6l0 0M1856.0 2540.6l0 0M1817.9 2654.2l0 0M1724.9 2532.1l0 0M1747.5 2530.4l0 0M1680.7 2519.6l0 0M1841.9 2625.0l0 0M1735.0 2530.5l0 0M1712.6 2641.5l0 0M1703.6 2524.4l0 0M1815.9 2665.7l0 0M1886.0 2609.1l0 0M1689.1 2516.7l0 0M1752.2 2536.3l0 0M1806.4 2619.4l0 0M1871.4 2525.7l0 0M1783.0 2658.2l0 0M1698.7 2501.3l0 0M1851.8 2623.4l0 0M1856.7 2639.2l0 0M1782.2 2547.9l0 0M1660.3 2589.4l0 0M1855.2 2619.1l0 0M1790.7 2550.6l0 0M1791.1 2686.8l0 0M1874.2 2544.1l0 0M1820.3 2557.0l0 0M1661.2 2569.6l0 0M1862.7 2652.4l0 0M1865.6 2518.5l0 0M1853.4 2634.0l0 0M1750.0 2533.8l0 0M1687.0 2491.5l0 0M1859.5 2552.1l0 0M1724.9 2598.9l0 0M1662.2 2589.5l0 0M1836.7 2632.2l0 0" stroke="#704032" stroke-width="3.0" stroke-linecap="round"/>
<path d="M1794.1 2650.8l0 0M1735.6 2624.0l0 0M1785.4 2566.3l0 0M1862.4 2540.8l0 0M1666.9 2658.8l0 0M1692.1 2675.8l0 0M1825.4 2590.3l0 0M1799.1 2569.6l0 0M1703.8 2518.8l0 0M1653.1 2581.5l0 0M1647.2 2672.3l0 0M1748.7 2518.5l0 0M1859.0 2516.0l0 0M1654.2 2570.3l0 0M1776.6 2536.4l0 0M1881.4 2530.9l0 0M1883.6 2633.9l0 0M1812.3 2659.9l0 0M1782.0 2679.0l0 0M1659.8 2590.7l0 0M1666.3 2681.0l0 0M1695.5 2682.4l0 0M1674.7 2674.0l0 0M1788.2 2562.1l0 0M1846.9 2632.3l0 0M1869.6 2529.8l0 0M1722.4 2620.6l0 0M1888.9 2500.1l0 0M1677.5 2602.9l0 0" stroke="#704032" stroke-width="2.4" stroke-linecap="round"/>
<path d="M1737.5 2544.4l0 0M1759.8 2687.7l0 0M1774.4 2535.5l0 0M1874.7 2654.7l0 0M1722.3 2631.3l0 0M1723.5 2527.2l0 0M1733.6 2626.6l0 0M1695.9 2669.5l0 0M1871.2 2521.6l0 0M1858.8 2634.9l0 0M1788.8 2540.5l0 0M1734.5 2594.7l0 0M1770.0 2555.2l0 0M1706.6 2631.8l0 0M1751.9 2664.5l0 0M1687.3 2522.9l0 0M1871.7 2512.3l0 0M1685.6 2671.7l0 0M1856.7 2512.0l0 0M1766.1 2660.8l0 0M1862.1 2515.0l0 0M1765.1 2654.7l0 0M1848.5 2557.1l0 0M1752.8 2550.1l0 0" stroke="#704032" stroke-width="1.8" stroke-linecap="round"/>
<path d="M1873 2647l0 0M1779 2663l0 0M1700 2528l0 0M1818 2562l0 0M1800 2598l0 0M1794 2661l0 0M1832 2543l0 0M1744 2519l0 0M1689 2498l0 0M1861 2628l0 0M1770 2546l0 0" stroke="#553026" stroke-width="3.2" stroke-linecap="round"/>
<path d="M1770 2656l0 0M1830 2643l0 0M1885 2642l0 0M1772 2576l0 0M1799 2539l0 0M1873 2662l0 0M1681 2510l0 0M1872 2535l0 0M1799 2549l0 0M1685 2512l0 0M1708 2508l0 0M1666 2563l0 0M1665 2516l0 0M1693 2668l0 0M1672 2519l0 0M1854 2540l0 0M1681 2495l0 0M1852 2640l0 0M1793 2565l0 0M1756 2530l0 0M1856 2648l0 0M1773 2509l0 0M1889 2516l0 0M1812 2624l0 0M1770 2656l0 0M1758 2613l0 0M1759 2543l0 0M1674 2510l0 0M1662 2664l0 0M1740 2599l0 0M1790 2678l0 0M1768 2555l0 0M1665 2605l0 0M1679 2676l0 0M1827 2680l0 0M1851 2544l0 0M1662 2594l0 0M1805 2578l0 0M1673 2511l0 0M1745 2596l0 0M1668 2577l0 0M1667 2606l0 0M1705 2628l0 0M1651 2588l0 0" stroke="#8c5644" stroke-width="3.2" stroke-linecap="round"/>
<path d="M1836 2656l0 0M1680 2515l0 0M1868 2539l0 0M1880 2536l0 0M1799 2660l0 0M1832 2536l0 0M1758 2664l0 0M1850 2624l0 0M1672 2583l0 0M1787 2669l0 0M1744 2544l0 0M1662 2586l0 0M1869 2520l0 0M1785 2567l0 0M1756 2531l0 0M1878 2522l0 0M1763 2525l0 0M1660 2588l0 0M1706 2544l0 0M1783 2533l0 0M1871 2532l0 0M1668 2578l0 0M1869 2519l0 0M1778 2668l0 0M1859 2643l0 0M1863 2643l0 0M1860 2515l0 0M1740 2637l0 0M1699 2517l0 0M1704 2676l0 0M1674 2676l0 0M1881 2604l0 0M1849 2668l0 0M1695 2499l0 0M1750 2519l0 0M1839 2640l0 0M1752 2592l0 0M1735 2593l0 0" stroke="#8c5644" stroke-width="3.4" stroke-linecap="round"/>
<path d="M1695.2 2653.5l0 0M1864.5 2631.5l0 0M1715.9 2645.4l0 0M1683.0 2492.1l0 0M1676.4 2665.7l0 0M1671.6 2674.3l0 0M1869.5 2631.5l0 0M1658.0 2577.7l0 0M1757.8 2596.8l0 0M1756.9 2590.2l0 0M1863.8 2637.9l0 0M1867.6 2599.5l0 0M1745.5 2548.0l0 0M1764.6 2677.1l0 0M1680.2 2587.9l0 0M1878.2 2530.1l0 0M1886.7 2531.9l0 0M1688.5 2686.9l0 0M1757.1 2637.8l0 0M1802.3 2683.2l0 0M1887.7 2525.1l0 0M1652.1 2584.6l0 0M1740.4 2649.1l0 0M1788.6 2675.5l0 0M1714.8 2529.5l0 0M1807.6 2547.6l0 0M1810.4 2587.2l0 0M1675.9 2510.2l0 0M1708.8 2616.1l0 0M1757.8 2552.3l0 0M1787.5 2538.1l0 0M1758.0 2530.2l0 0M1684.5 2510.1l0 0M1774.2 2677.0l0 0M1665.3 2600.9l0 0M1868.7 2638.8l0 0M1768.7 2545.8l0 0M1887.1 2528.9l0 0M1700.8 2530.6l0 0M1675.5 2677.5l0 0M1860.2 2554.1l0 0M1756.6 2575.3l0 0" stroke="#8c5644" stroke-width="2.6" stroke-linecap="round"/>
<path d="M1838.3 2665.9l0 0M1823.6 2684.7l0 0M1745.3 2539.9l0 0M1804.1 2678.8l0 0M1717.3 2678.4l0 0M1869.4 2520.4l0 0M1703.1 2533.5l0 0M1788.4 2656.5l0 0M1747.9 2555.3l0 0M1769.4 2554.7l0 0M1739.5 2599.4l0 0M1823.9 2556.9l0 0M1863.2 2660.4l0 0M1698.2 2500.9l0 0M1861.5 2498.4l0 0M1664.3 2662.0l0 0M1823.3 2544.2l0 0M1659.1 2566.4l0 0M1670.7 2567.1l0 0" stroke="#553026" stroke-width="2.2" stroke-linecap="round"/>
<path d="M1750.3 2608.4l0 0M1857.6 2536.5l0 0M1884.0 2652.0l0 0M1721.8 2622.6l0 0M1804.1 2674.2l0 0M1724.4 2522.0l0 0M1815.3 2646.9l0 0M1868.0 2539.4l0 0M1759.7 2538.1l0 0M1771.9 2676.3l0 0M1665.5 2528.3l0 0M1857.5 2551.8l0 0M1881.7 2510.0l0 0M1865.9 2610.0l0 0M1881.9 2540.5l0 0M1694.8 2513.0l0 0M1720.0 2593.9l0 0M1841.5 2564.2l0 0M1875.8 2523.0l0 0M1741.7 2537.7l0 0M1671.7 2607.9l0 0M1743.0 2522.7l0 0M1662.3 2575.5l0 0M1715.8 2529.0l0 0M1763.3 2546.6l0 0M1740.6 2626.7l0 0M1828.6 2557.7l0 0M1674.9 2687.3l0 0M1725.6 2641.6l0 0M1748.9 2664.0l0 0M1835.8 2546.2l0 0M1689.4 2511.0l0 0M1667.1 2579.9l0 0M1800.3 2643.2l0 0M1830.2 2660.4l0 0M1680.0 2646.0l0 0M1671.1 2666.1l0 0M1807.2 2660.0l0 0M1708.3 2614.7l0 0" stroke="#8c5644" stroke-width="2.8" stroke-linecap="round"/>
<path d="M1726.4 2591.2l0 0M1857.5 2672.5l0 0M1690.2 2670.6l0 0M1872.0 2529.1l0 0M1657.7 2671.9l0 0M1756.2 2516.1l0 0M1786.6 2545.2l0 0M1730.1 2618.6l0 0M1672.1 2517.0l0 0M1844.5 2665.8l0 0M1880.5 2681.4l0 0M1812.3 2553.4l0 0M1740.3 2671.4l0 0M1682.5 2515.0l0 0M1822.8 2626.3l0 0" stroke="#553026" stroke-width="2.0" stroke-linecap="round"/>
<path d="M1887.8 2528.2l0 0M1822.9 2538.1l0 0M1792.2 2676.4l0 0M1844.5 2641.1l0 0M1880.6 2524.3l0 0M1697.1 2534.3l0 0M1736.4 2570.5l0 0M1801.0 2530.4l0 0M1692.1 2503.4l0 0M1762.7 2525.5l0 0M1722.5 2535.7l0 0M1709.2 2669.0l0 0M1751.2 2548.2l0 0M1865.4 2539.8l0 0M1806.1 2668.4l0 0M1785.4 2679.9l0 0M1676.4 2650.5l0 0M1879.4 2507.9l0 0M1792.2 2546.7l0 0M1792.8 2537.1l0 0M1668.6 2510.0l0 0M1846.5 2525.2l0 0M1654.9 2679.3l0 0M1858.7 2521.5l0 0M1740.3 2567.2l0 0M1681.3 2663.5l0 0M1812.6 2681.5l0 0M1675.9 2510.6l0 0M1790.5 2668.8l0 0M1741.0 2584.2l0 0M1680.8 2583.9l0 0M1671.7 2597.5l0 0" stroke="#704032" stroke-width="2.0" stroke-linecap="round"/>
<path d="M1877 2538l0 0M1752 2595l0 0M1674 2490l0 0M1799 2656l0 0M1859 2498l0 0M1874 2636l0 0M1760 2596l0 0M1696 2517l0 0M1658 2589l0 0M1838 2625l0 0M1788 2654l0 0" stroke="#553026" stroke-width="3.6" stroke-linecap="round"/>
<path d="M1659.0 2563.6l0 0M1883.0 2557.0l0 0M1666.6 2522.5l0 0M1727.4 2531.7l0 0M1702.5 2666.8l0 0M1712.7 2668.4l0 0M1715.7 2665.1l0 0M1730.4 2597.9l0 0" stroke="#a87868" stroke-width="1.8" stroke-linecap="round"/>
<path d="M1807.2 2589.4l0 0M1706.1 2662.7l0 0M1884.9 2498.2l0 0M1797.8 2664.3l0 0M1841.0 2639.5l0 0M1702.3 2509.1l0 0M1879.0 2519.3l0 0M1792.6 2601.8l0 0M1805.3 2550.1l0 0M1817.4 2544.0l0 0M1657.8 2597.4l0 0M1666.0 2522.6l0 0M1715.5 2672.0l0 0M1747.3 2528.5l0 0M1669.8 2658.5l0 0M1680.0 2511.9l0 0M1779.2 2652.2l0 0M1655.5 2592.3l0 0M1727.9 2641.2l0 0M1776.6 2544.1l0 0M1680.8 2515.9l0 0M1758.6 2551.1l0 0M1744.2 2550.0l0 0M1786.4 2567.4l0 0M1763.0 2551.6l0 0M1863.0 2515.5l0 0M1709.3 2497.3l0 0M1837.4 2653.0l0 0M1745.3 2522.8l0 0M1736.6 2564.9l0 0M1869.0 2614.4l0 0M1880.2 2522.0l0 0M1818.5 2676.0l0 0M1751.8 2662.3l0 0M1860.6 2658.4l0 0M1745.6 2545.5l0 0M1828.9 2659.4l0 0M1744.7 2531.3l0 0M1683.1 2499.9l0 0M1752.8 2616.8l0 0M1676.5 2673.5l0 0M1703.1 2502.0l0 0M1743.4 2511.7l0 0M1668.2 2592.4l0 0" stroke="#704032" stroke-width="2.6" stroke-linecap="round"/>
<path d="M1741 2617l0 0M1862 2648l0 0M1881 2652l0 0M1651 2667l0 0M1877 2551l0 0M1740 2639l0 0M1787 2669l0 0M1765 2582l0 0M1727 2581l0 0M1652 2594l0 0" stroke="#a87868" stroke-width="3.2" stroke-linecap="round"/>
<path d="M1685.1 2671.7l0 0M1660.0 2586.7l0 0M1708.0 2631.0l0 0M1754.8 2546.5l0 0M1692.0 2509.1l0 0M1723.1 2671.4l0 0M1655.3 2570.4l0 0M1668.5 2577.6l0 0M1660.7 2566.7l0 0M1861.9 2540.2l0 0M1770.3 2521.7l0 0M1657.7 2506.5l0 0M1882.2 2526.6l0 0M1882.9 2528.1l0 0M1658.6 2585.1l0 0M1835.1 2640.4l0 0M1668.9 2598.6l0 0M1731.2 2605.7l0 0M1665.4 2569.4l0 0M1746.9 2558.7l0 0M1782.3 2666.6l0 0M1852.9 2618.9l0 0M1849.0 2533.5l0 0M1856.0 2618.5l0 0M1658.2 2607.0l0 0M1746.7 2561.9l0 0M1673.7 2670.4l0 0M1857.8 2527.1l0 0M1818.9 2560.1l0 0M1746.7 2644.4l0 0M1730.1 2600.2l0 0M1796.6 2533.3l0 0M1657.4 2607.5l0 0M1669.0 2563.5l0 0M1652.9 2553.9l0 0" stroke="#8c5644" stroke-width="2.2" stroke-linecap="round"/>
<path d="M1816.2 2584.9l0 0M1683.3 2519.2l0 0M1717.7 2524.0l0 0M1666.5 2570.8l0 0M1672.5 2569.0l0 0M1679.5 2592.0l0 0M1709.9 2529.4l0 0M1674.4 2593.1l0 0M1871.9 2516.1l0 0M1668.3 2514.3l0 0M1779.4 2675.7l0 0M1697.0 2668.7l0 0M1773.0 2630.4l0 0" stroke="#a87868" stroke-width="2.4" stroke-linecap="round"/>
<path d="M1753.8 2605.2l0 0M1868.4 2539.7l0 0M1870.2 2521.9l0 0M1686.7 2661.0l0 0M1712.0 2640.3l0 0M1789.8 2679.8l0 0M1784.0 2662.8l0 0M1761.3 2551.2l0 0M1834.6 2651.9l0 0M1885.1 2521.8l0 0M1862.3 2666.3l0 0M1841.4 2639.2l0 0M1729.9 2573.4l0 0M1713.6 2612.4l0 0" stroke="#a87868" stroke-width="2.0" stroke-linecap="round"/>
<path d="M1725 2550l0 0M1744 2614l0 0M1727 2610l0 0M1763 2552l0 0M1846 2630l0 0M1879 2519l0 0M1654 2590l0 0M1772 2532l0 0M1744 2514l0 0M1885 2542l0 0M1805 2589l0 0M1675 2613l0 0M1705 2550l0 0M1747 2533l0 0M1803 2570l0 0M1879 2532l0 0M1835 2565l0 0M1701 2505l0 0M1797 2535l0 0M1760 2537l0 0M1725 2617l0 0M1830 2553l0 0" stroke="#704032" stroke-width="3.6" stroke-linecap="round"/>
<path d="M1746.7 2546.4l0 0M1680.6 2494.4l0 0M1745.7 2546.0l0 0M1873.3 2604.9l0 0M1746.5 2540.6l0 0M1672.6 2528.0l0 0M1834.2 2553.4l0 0M1767.4 2679.7l0 0M1670.7 2564.4l0 0M1678.9 2681.3l0 0M1789.9 2669.9l0 0M1744.4 2606.5l0 0M1884.6 2677.0l0 0M1681.1 2685.5l0 0M1873.0 2640.9l0 0M1692.8 2642.3l0 0M1879.0 2654.4l0 0M1680.6 2520.7l0 0M1737.3 2557.4l0 0M1753.9 2539.2l0 0M1880.5 2646.9l0 0M1869.7 2635.7l0 0M1846.6 2547.9l0 0M1788.0 2645.4l0 0M1849.4 2651.2l0 0M1739.0 2519.5l0 0M1858.6 2618.7l0 0M1791.2 2674.7l0 0M1687.1 2660.3l0 0M1881.3 2618.3l0 0" stroke="#8c5644" stroke-width="2.0" stroke-linecap="round"/>
<path d="M1833.6 2668.8l0 0M1815.5 2557.5l0 0M1738.1 2536.0l0 0M1836.7 2659.1l0 0M1676.5 2499.9l0 0M1875.6 2509.7l0 0M1660.7 2665.4l0 0M1751.2 2541.7l0 0M1675.0 2508.3l0 0M1746.6 2553.7l0 0M1795.9 2540.6l0 0M1697.3 2675.4l0 0M1721.6 2504.8l0 0M1680.8 2671.5l0 0M1691.5 2522.9l0 0M1661.6 2589.7l0 0M1750.3 2545.7l0 0M1703.1 2597.9l0 0M1713.5 2597.0l0 0M1663.0 2568.5l0 0M1780.1 2675.3l0 0M1873.5 2530.5l0 0M1815.7 2655.3l0 0" stroke="#553026" stroke-width="2.4" stroke-linecap="round"/>
<path d="M1883.6 2621.6l0 0M1676.7 2660.6l0 0M1837.1 2584.6l0 0M1776.0 2561.2l0 0M1770.3 2672.3l0 0M1678.0 2520.2l0 0M1686.2 2665.7l0 0M1873.6 2513.0l0 0M1783.4 2541.0l0 0" stroke="#a87868" stroke-width="2.2" stroke-linecap="round"/>
<path d="M1748 2603l0 0M1676 2656l0 0M1802 2538l0 0M1753 2522l0 0M1716 2587l0 0M1817 2541l0 0M1876 2510l0 0M1872 2630l0 0M1706 2532l0 0M1824 2660l0 0M1664 2572l0 0M1863 2610l0 0" stroke="#a87868" stroke-width="3.4" stroke-linecap="round"/>
<path d="M1749.8 2554.5l0 0M1862.1 2633.7l0 0M1864.8 2610.1l0 0M1811.3 2543.2l0 0M1699.7 2535.0l0 0M1867.2 2525.2l0 0M1753.4 2641.6l0 0M1861.2 2655.9l0 0M1691.3 2513.5l0 0M1788.4 2674.4l0 0M1755.6 2647.3l0 0M1799.2 2585.9l0 0M1653.0 2646.8l0 0M1761.8 2622.7l0 0M1653.0 2582.4l0 0M1666.6 2661.9l0 0M1652.3 2673.9l0 0M1776.3 2641.2l0 0M1709.7 2506.2l0 0M1793.2 2682.9l0 0M1883.4 2512.5l0 0M1671.0 2671.6l0 0" stroke="#553026" stroke-width="3.0" stroke-linecap="round"/>
<path d="M1670.2 2675.1l0 0M1753.4 2537.8l0 0M1683.3 2560.8l0 0M1696.0 2654.4l0 0M1746.3 2626.4l0 0M1839.0 2575.0l0 0M1779.7 2566.0l0 0M1659.2 2606.7l0 0M1851.9 2628.4l0 0M1751.6 2533.5l0 0M1808.1 2659.4l0 0M1814.6 2587.6l0 0" stroke="#a87868" stroke-width="3.0" stroke-linecap="round"/>
<path d="M1708.4 2617.9l0 0M1806.9 2674.5l0 0M1742.2 2522.9l0 0M1678.6 2596.1l0 0M1687.0 2514.7l0 0M1763.6 2542.5l0 0" stroke="#553026" stroke-width="1.8" stroke-linecap="round"/>
<path d="M1748.6 2544.4l0 0M1863.2 2642.9l0 0M1667.0 2594.0l0 0M1807.6 2559.8l0 0M1863.3 2539.9l0 0M1718.3 2658.8l0 0M1830.3 2561.0l0 0M1708.5 2583.6l0 0M1875.9 2619.9l0 0M1695.9 2506.4l0 0M1762.4 2548.1l0 0M1671.2 2571.5l0 0M1676.7 2672.4l0 0M1683.8 2493.4l0 0" stroke="#a87868" stroke-width="2.8" stroke-linecap="round"/>
<path d="M1776.5 2683.8l0 0M1767.7 2540.9l0 0M1752.8 2621.7l0 0M1756.6 2686.4l0 0M1795.7 2681.0l0 0M1787.3 2683.1l0 0M1873.8 2540.0l0 0M1731.8 2606.7l0 0M1820.2 2569.4l0 0M1805.0 2557.4l0 0M1765.7 2571.6l0 0" stroke="#a87868" stroke-width="2.6" stroke-linecap="round"/>
<path d="M1847 2630l0 0M1750 2629l0 0M1651 2579l0 0M1744 2623l0 0M1872 2536l0 0M1873 2511l0 0M1693 2676l0 0M1761 2617l0 0" stroke="#a87868" stroke-width="3.6" stroke-linecap="round"/>
</g>
<rect x="1421.4" y="2597.8" width="50.6" height="39.2" fill="none" stroke="#d42830" stroke-width="1.8" stroke-dasharray="5 3"/>
<line x1="1472.0" y1="2597.8" x2="1644.0" y2="2488.5" stroke="#cc2028" stroke-width="2.2" stroke-dasharray="8 3.5"/>
<line x1="1472.0" y1="2637.0" x2="1644.0" y2="2689.0" stroke="#cc2028" stroke-width="2.2" stroke-dasharray="8 3.5"/>
<text x="1399.2" y="2512.5">I12</text>
<text x="1649.0" y="2477.5" text-anchor="middle">High</text>
<text x="1629.5" y="2669.5" text-anchor="end">50 μm</text>
<line x1="1575.5" y1="2679.0" x2="1620.5" y2="2679.0" stroke="#000" stroke-width="3.4"/>
<text x="1887.4" y="2669.5" text-anchor="end">50 μm</text>
<line x1="1826.4" y1="2679.0" x2="1885.4" y2="2679.0" stroke="#000" stroke-width="3.4"/></svg></body></html>
